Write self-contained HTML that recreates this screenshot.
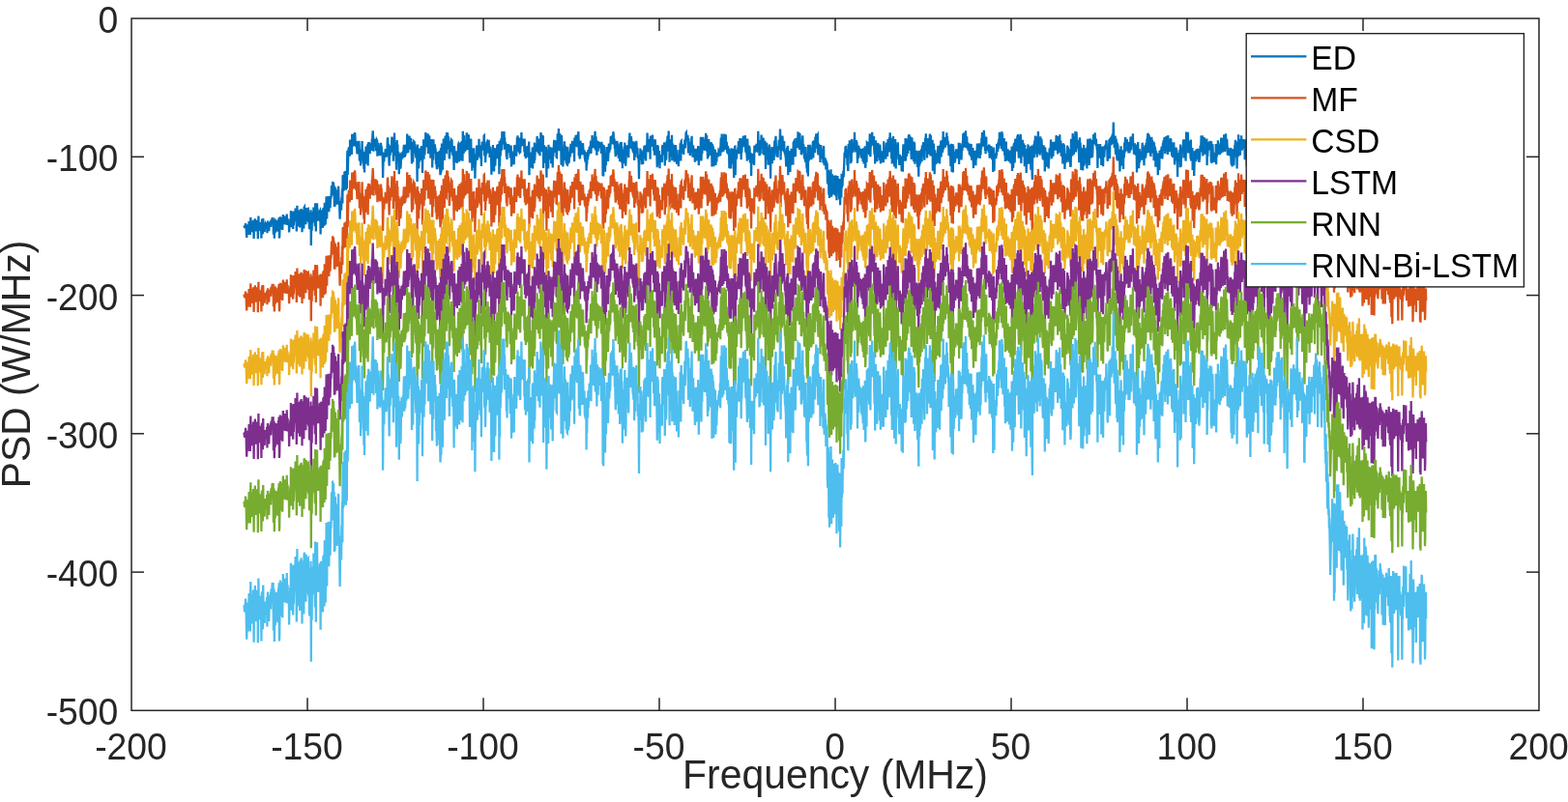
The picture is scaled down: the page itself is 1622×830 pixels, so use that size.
<!DOCTYPE html>
<html lang="en"><head><meta charset="utf-8"><title>PSD</title>
<style>html,body{margin:0;padding:0;background:#fff;}body{width:1622px;height:830px;overflow:hidden;}svg{display:block;}text{font-family:"Liberation Sans","DejaVu Sans",sans-serif;}</style></head><body>
<svg width="1622" height="830" viewBox="0 0 1622 830">
<rect width="1622" height="830" fill="#fff"/>
<g fill="none" stroke-width="2.30" stroke-linejoin="miter">
<polyline stroke="#0072BD" points="252.5,233.4 252.8,234.8 253.1,235.8 253.4,233.1 253.7,236.0 254.0,231.0 254.3,232.8 254.6,233.4 254.9,241.6 255.2,245.9 255.5,241.0 255.8,232.5 256.1,233.5 256.4,243.0 256.7,232.4 257.0,237.7 257.3,237.7 257.6,229.1 257.9,233.7 258.2,232.8 258.5,232.7 258.8,243.0 259.0,232.4 259.3,224.9 259.6,240.3 259.9,230.3 260.2,229.8 260.5,229.8 260.8,236.7 261.1,235.4 261.4,240.1 261.7,233.9 262.0,227.8 262.3,237.3 262.6,247.0 262.9,233.3 263.2,229.6 263.5,234.7 263.8,226.3 264.1,234.3 264.4,233.3 264.7,239.3 265.0,235.1 265.3,229.6 265.6,229.5 265.9,227.9 266.2,229.9 266.5,230.9 266.8,247.2 267.1,237.7 267.4,223.6 267.7,236.0 268.0,230.2 268.3,233.6 268.6,230.0 268.9,232.9 269.2,238.7 269.5,237.3 269.8,231.4 270.1,235.6 270.4,246.6 270.7,230.6 271.0,228.5 271.3,228.8 271.6,228.7 271.9,242.2 272.2,226.1 272.5,233.7 272.8,237.9 273.1,235.2 273.4,236.7 273.7,240.0 274.0,232.9 274.3,232.1 274.6,233.8 274.9,232.1 275.2,233.7 275.5,236.6 275.8,235.8 276.1,230.4 276.4,241.2 276.7,235.5 277.0,228.6 277.3,231.6 277.6,229.8 277.9,232.7 278.2,239.3 278.5,234.6 278.8,232.0 279.1,234.6 279.4,233.4 279.7,231.7 280.0,228.6 280.2,234.9 280.5,227.5 280.8,232.5 281.1,228.1 281.4,227.5 281.7,225.2 282.0,227.7 282.3,227.6 282.6,225.2 282.9,242.7 283.2,237.4 283.5,227.5 283.8,246.7 284.1,231.0 284.4,231.0 284.7,240.8 285.0,236.7 285.3,228.6 285.6,229.0 285.9,234.6 286.2,236.0 286.5,235.2 286.8,229.1 287.1,239.4 287.4,231.1 287.7,239.8 288.0,227.1 288.3,230.1 288.6,225.3 288.9,246.5 289.2,244.3 289.5,234.1 289.8,224.3 290.1,237.4 290.4,225.0 290.7,229.8 291.0,229.8 291.3,227.2 291.6,236.3 291.9,233.8 292.2,238.0 292.5,229.7 292.8,222.0 293.1,232.3 293.4,227.6 293.7,228.2 294.0,229.0 294.3,230.9 294.6,223.6 294.9,229.3 295.2,232.5 295.5,224.3 295.8,225.6 296.1,227.8 296.4,230.1 296.7,221.6 297.0,229.2 297.3,232.8 297.6,226.0 297.9,230.8 298.2,229.0 298.5,231.0 298.8,229.8 299.1,240.5 299.4,234.1 299.7,233.4 300.0,230.2 300.3,227.0 300.6,234.8 300.9,218.0 301.2,228.9 301.4,225.6 301.7,235.3 302.0,233.5 302.3,219.1 302.6,223.7 302.9,228.0 303.2,237.0 303.5,218.6 303.8,233.1 304.1,229.5 304.4,227.3 304.7,224.0 305.0,226.0 305.3,226.1 305.6,215.6 305.9,224.9 306.2,222.7 306.5,220.7 306.8,239.5 307.1,229.5 307.4,212.8 307.7,230.1 308.0,224.6 308.3,233.1 308.6,233.0 308.9,217.5 309.2,227.0 309.5,224.4 309.8,225.7 310.1,235.4 310.4,224.3 310.7,216.8 311.0,228.7 311.3,220.0 311.6,216.1 311.9,232.3 312.2,217.0 312.5,240.2 312.8,217.9 313.1,224.5 313.4,230.9 313.7,222.6 314.0,226.2 314.3,236.6 314.6,214.7 314.9,214.2 315.2,229.7 315.5,224.4 315.8,225.0 316.1,223.1 316.4,232.2 316.7,214.9 317.0,220.6 317.3,228.9 317.6,224.7 317.9,227.0 318.2,222.2 318.5,216.4 318.8,216.2 319.1,229.9 319.4,219.9 319.7,228.0 320.0,237.3 320.3,229.7 320.6,220.6 320.9,234.7 321.2,226.3 321.5,217.3 321.8,254.0 322.1,226.3 322.4,228.4 322.6,238.8 322.9,222.4 323.2,220.0 323.5,219.4 323.8,229.0 324.1,228.7 324.4,214.4 324.7,228.1 325.0,222.4 325.3,229.3 325.6,229.3 325.9,234.2 326.2,210.2 326.5,222.7 326.8,239.6 327.1,219.5 327.4,220.0 327.7,219.7 328.0,210.4 328.3,220.2 328.6,219.6 328.9,225.5 329.2,228.6 329.5,219.8 329.8,220.4 330.1,227.5 330.4,223.5 330.7,218.8 331.0,218.2 331.3,224.1 331.6,242.4 331.9,217.4 332.2,222.2 332.5,227.6 332.8,223.3 333.1,230.1 333.4,217.3 333.7,222.2 334.0,235.9 334.3,216.4 334.6,215.3 334.9,220.4 335.2,214.9 335.5,233.8 335.8,209.8 336.1,216.2 336.4,210.8 336.7,232.5 337.0,222.1 337.3,219.0 337.6,203.3 337.9,215.4 338.2,226.5 338.5,210.0 338.8,211.8 339.1,219.2 339.4,205.9 339.7,203.0 340.0,212.9 340.3,219.3 340.6,204.4 340.9,205.9 341.2,210.9 341.5,215.3 341.8,209.4 342.1,202.8 342.4,205.4 342.7,200.3 343.0,192.1 343.3,200.8 343.6,196.6 343.8,202.4 344.1,187.9 344.4,201.2 344.7,190.3 345.0,188.8 345.3,200.4 345.6,192.0 345.9,213.9 346.2,194.1 346.5,213.5 346.8,193.7 347.1,202.9 347.4,201.5 347.7,209.2 348.0,199.3 348.3,196.4 348.6,211.8 348.9,206.7 349.2,202.5 349.5,211.2 349.8,196.8 350.1,192.7 350.4,205.7 350.7,209.5 351.0,208.2 351.3,218.2 351.6,226.6 351.9,218.7 352.2,208.0 352.5,211.5 352.8,215.8 353.1,216.0 353.4,204.4 353.7,205.9 354.0,195.6 354.3,210.4 354.6,181.3 354.9,198.0 355.2,181.1 355.5,197.5 355.8,188.6 356.1,196.1 356.4,177.6 356.7,183.1 357.0,193.5 357.3,186.0 357.6,176.9 357.9,196.8 358.2,183.2 358.5,179.3 358.8,195.3 359.1,167.6 359.4,155.7 359.7,181.0 360.0,171.6 360.3,158.8 360.6,154.6 360.9,152.4 361.2,154.0 361.5,153.2 361.8,161.7 362.1,144.6 362.4,146.5 362.7,158.6 363.0,153.4 363.3,154.5 363.6,155.0 363.9,159.9 364.2,138.7 364.5,151.9 364.8,145.3 365.0,150.5 365.3,146.8 365.6,139.2 365.9,146.9 366.2,138.3 366.5,151.2 366.8,141.6 367.1,137.1 367.4,141.1 367.7,151.2 368.0,149.5 368.3,152.2 368.6,145.9 368.9,149.9 369.2,154.8 369.5,159.5 369.8,155.0 370.1,151.1 370.4,147.0 370.7,149.6 371.0,148.5 371.3,145.8 371.6,151.1 371.9,166.5 372.2,156.5 372.5,166.6 372.8,155.2 373.1,171.6 373.4,157.6 373.7,156.9 374.0,154.6 374.3,158.9 374.6,145.9 374.9,163.2 375.2,155.6 375.5,164.4 375.8,169.1 376.1,165.5 376.4,174.8 376.7,162.2 377.0,178.6 377.3,157.2 377.6,162.0 377.9,157.0 378.2,169.8 378.5,151.5 378.8,152.4 379.1,153.0 379.4,159.2 379.7,152.8 380.0,157.6 380.3,149.3 380.6,171.5 380.9,155.2 381.2,147.1 381.5,149.2 381.8,148.3 382.1,148.3 382.4,151.5 382.7,159.1 383.0,148.4 383.3,153.9 383.6,152.2 383.9,150.6 384.2,149.2 384.5,156.0 384.8,143.8 385.1,146.2 385.4,140.1 385.7,135.3 386.0,141.1 386.2,144.5 386.5,156.6 386.8,146.6 387.1,145.6 387.4,145.6 387.7,147.7 388.0,152.3 388.3,143.6 388.6,148.7 388.9,144.0 389.2,156.1 389.5,149.4 389.8,144.9 390.1,145.5 390.4,161.8 390.7,154.3 391.0,156.7 391.3,147.7 391.6,152.7 391.9,160.6 392.2,156.6 392.5,160.5 392.8,157.4 393.1,161.2 393.4,157.3 393.7,152.2 394.0,147.8 394.3,155.4 394.6,150.7 394.9,157.4 395.2,157.5 395.5,159.7 395.8,163.7 396.1,184.1 396.4,170.2 396.7,163.1 397.0,158.5 397.3,167.4 397.6,160.0 397.9,160.3 398.2,159.7 398.5,158.0 398.8,154.0 399.1,159.4 399.4,157.5 399.7,162.8 400.0,158.2 400.3,161.0 400.6,151.7 400.9,142.6 401.2,143.2 401.5,157.4 401.8,149.1 402.1,151.0 402.4,167.2 402.7,171.7 403.0,155.1 403.3,150.6 403.6,160.6 403.9,156.4 404.2,154.9 404.5,155.2 404.8,157.7 405.1,148.0 405.4,141.6 405.7,144.4 406.0,153.8 406.3,148.6 406.6,147.7 406.9,166.7 407.2,143.2 407.5,155.1 407.7,161.2 408.0,137.5 408.3,159.6 408.6,154.2 408.9,158.1 409.2,147.1 409.5,155.7 409.8,167.0 410.1,175.7 410.4,159.4 410.7,145.0 411.0,165.1 411.3,149.6 411.6,164.4 411.9,159.4 412.2,157.0 412.5,160.2 412.8,180.3 413.1,165.1 413.4,158.9 413.7,165.7 414.0,159.3 414.3,174.5 414.6,172.2 414.9,164.6 415.2,164.1 415.5,157.5 415.8,164.7 416.1,161.3 416.4,161.6 416.7,157.5 417.0,157.0 417.3,159.6 417.6,153.4 417.9,149.8 418.2,162.6 418.5,161.5 418.8,161.2 419.1,161.2 419.4,160.2 419.7,154.4 420.0,149.6 420.3,158.8 420.6,150.4 420.9,155.6 421.2,138.5 421.5,149.9 421.8,146.4 422.1,158.0 422.4,156.4 422.7,147.9 423.0,154.5 423.3,148.5 423.6,140.6 423.9,152.5 424.2,152.9 424.5,144.8 424.8,148.4 425.1,143.1 425.4,148.6 425.7,156.6 426.0,169.5 426.3,147.1 426.6,155.2 426.9,149.7 427.2,167.6 427.5,157.3 427.8,149.9 428.1,146.5 428.4,146.9 428.7,146.3 428.9,154.6 429.2,149.1 429.5,153.4 429.8,157.9 430.1,160.1 430.4,163.3 430.7,151.6 431.0,158.1 431.3,164.4 431.6,188.1 431.9,149.5 432.2,172.6 432.5,172.7 432.8,153.4 433.1,174.5 433.4,154.7 433.7,167.6 434.0,161.3 434.3,155.7 434.6,155.1 434.9,157.4 435.2,161.8 435.5,163.1 435.8,162.4 436.1,151.0 436.4,157.2 436.7,151.8 437.0,179.0 437.3,160.3 437.6,155.1 437.9,159.4 438.2,144.3 438.5,164.8 438.8,151.4 439.1,148.8 439.4,160.2 439.7,147.7 440.0,149.8 440.3,137.0 440.6,142.8 440.9,151.1 441.2,144.2 441.5,147.0 441.8,152.4 442.1,144.3 442.4,144.7 442.7,138.2 443.0,158.9 443.3,157.8 443.6,151.6 443.9,142.0 444.2,140.3 444.5,148.2 444.8,146.3 445.1,148.2 445.4,163.7 445.7,156.1 446.0,144.5 446.3,145.5 446.6,144.2 446.9,147.5 447.2,173.4 447.5,151.0 447.8,151.2 448.1,165.5 448.4,144.2 448.7,156.3 449.0,149.9 449.3,151.4 449.6,153.0 449.9,149.2 450.1,159.0 450.4,152.8 450.7,156.2 451.0,169.8 451.3,165.1 451.6,170.7 451.9,175.3 452.2,158.9 452.5,174.8 452.8,157.1 453.1,165.5 453.4,165.0 453.7,172.9 454.0,159.5 454.3,168.6 454.6,156.7 454.9,155.9 455.2,175.4 455.5,181.2 455.8,179.1 456.1,152.9 456.4,178.5 456.7,165.4 457.0,148.6 457.3,154.3 457.6,150.8 457.9,175.7 458.2,149.2 458.5,160.1 458.8,143.5 459.1,152.1 459.4,152.6 459.7,165.9 460.0,158.0 460.3,150.4 460.6,141.5 460.9,141.4 461.2,150.3 461.5,157.5 461.8,157.7 462.1,137.1 462.4,144.2 462.7,154.4 463.0,137.4 463.3,143.2 463.6,142.5 463.9,142.5 464.2,146.1 464.5,152.8 464.8,164.5 465.1,161.6 465.4,157.6 465.7,147.9 466.0,157.5 466.3,147.3 466.6,147.3 466.9,144.7 467.2,145.1 467.5,145.2 467.8,153.6 468.1,154.6 468.4,160.9 468.7,155.0 469.0,156.5 469.3,162.9 469.6,176.0 469.9,151.0 470.2,155.9 470.5,168.0 470.8,164.1 471.1,156.3 471.3,165.7 471.6,160.2 471.9,156.5 472.2,158.1 472.5,163.8 472.8,169.0 473.1,164.3 473.4,156.4 473.7,161.7 474.0,150.6 474.3,149.3 474.6,150.2 474.9,153.7 475.2,167.5 475.5,147.5 475.8,151.7 476.1,160.8 476.4,162.1 476.7,159.4 477.0,153.2 477.3,165.9 477.6,146.1 477.9,155.1 478.2,148.4 478.5,166.7 478.8,135.8 479.1,144.1 479.4,150.4 479.7,158.9 480.0,140.0 480.3,151.0 480.6,150.7 480.9,154.0 481.2,156.8 481.5,146.5 481.8,145.2 482.1,149.0 482.4,155.5 482.7,138.4 483.0,138.4 483.3,154.9 483.6,141.2 483.9,149.1 484.2,150.5 484.5,139.4 484.8,140.5 485.1,154.9 485.4,147.8 485.7,157.6 486.0,168.4 486.3,148.6 486.6,151.7 486.9,150.6 487.2,143.6 487.5,158.4 487.8,153.7 488.1,156.5 488.4,176.8 488.7,160.2 489.0,173.7 489.3,159.5 489.6,169.2 489.9,170.6 490.2,153.2 490.5,165.3 490.8,164.9 491.1,161.1 491.4,184.7 491.7,170.8 492.0,168.8 492.3,159.5 492.5,160.1 492.8,166.0 493.1,150.4 493.4,164.1 493.7,165.7 494.0,156.3 494.3,163.9 494.6,150.3 494.9,155.2 495.2,162.2 495.5,143.7 495.8,158.6 496.1,155.3 496.4,152.4 496.7,151.6 497.0,150.7 497.3,164.1 497.6,151.8 497.9,172.0 498.2,153.0 498.5,151.4 498.8,146.5 499.1,155.7 499.4,147.0 499.7,151.6 500.0,147.2 500.3,154.6 500.6,140.6 500.9,140.3 501.2,161.2 501.5,149.2 501.8,150.6 502.1,168.3 502.4,159.9 502.7,151.5 503.0,160.5 503.3,149.7 503.6,146.7 503.9,156.8 504.2,148.5 504.5,144.7 504.8,158.4 505.1,146.9 505.4,147.3 505.7,147.0 506.0,155.4 506.3,154.2 506.6,163.0 506.9,151.7 507.2,152.9 507.5,155.8 507.8,158.8 508.1,164.4 508.4,180.7 508.7,164.7 509.0,177.3 509.3,162.6 509.6,168.6 509.9,150.1 510.2,167.9 510.5,171.2 510.8,153.0 511.1,177.5 511.4,154.9 511.7,154.1 512.0,161.5 512.3,171.7 512.6,164.2 512.9,158.2 513.2,153.2 513.5,154.5 513.7,154.6 514.0,160.0 514.3,149.8 514.6,164.1 514.9,160.4 515.2,153.4 515.5,149.2 515.8,150.4 516.1,149.6 516.4,180.2 516.7,145.7 517.0,172.1 517.3,155.6 517.6,161.4 517.9,158.4 518.2,146.2 518.5,143.3 518.8,155.8 519.1,147.4 519.4,136.1 519.7,144.1 520.0,137.0 520.3,139.7 520.6,139.6 520.9,149.4 521.2,145.4 521.5,136.0 521.8,154.7 522.1,142.0 522.4,154.3 522.7,150.1 523.0,147.2 523.3,154.5 523.6,153.8 523.9,162.4 524.2,154.3 524.5,165.0 524.8,151.9 525.1,154.3 525.4,149.1 525.7,157.9 526.0,150.3 526.3,150.3 526.6,150.5 526.9,153.7 527.2,156.1 527.5,157.8 527.8,163.5 528.1,161.1 528.4,161.6 528.7,150.5 529.0,172.5 529.3,164.9 529.6,161.8 529.9,170.5 530.2,157.9 530.5,166.7 530.8,159.0 531.1,160.5 531.4,156.4 531.7,170.3 532.0,157.0 532.3,150.0 532.6,152.6 532.9,157.4 533.2,156.4 533.5,155.0 533.8,157.2 534.1,161.6 534.4,154.5 534.7,154.4 534.9,142.2 535.2,149.6 535.5,140.2 535.8,151.9 536.1,148.8 536.4,150.4 536.7,156.4 537.0,156.9 537.3,150.9 537.6,142.4 537.9,156.2 538.2,158.5 538.5,147.0 538.8,150.8 539.1,150.7 539.4,137.1 539.7,147.1 540.0,143.7 540.3,148.4 540.6,143.6 540.9,149.6 541.2,150.8 541.5,145.9 541.8,151.3 542.1,143.6 542.4,157.2 542.7,143.8 543.0,162.0 543.3,156.6 543.6,153.4 543.9,164.0 544.2,159.8 544.5,151.4 544.8,158.2 545.1,162.7 545.4,152.9 545.7,157.5 546.0,155.1 546.3,150.8 546.6,159.9 546.9,158.2 547.2,146.5 547.5,181.3 547.8,160.8 548.1,168.7 548.4,160.4 548.7,170.0 549.0,166.6 549.3,173.6 549.6,157.4 549.9,161.4 550.2,163.1 550.5,168.7 550.8,152.7 551.1,174.5 551.4,152.2 551.7,155.6 552.0,161.5 552.3,156.4 552.6,169.0 552.9,147.6 553.2,166.0 553.5,159.0 553.8,148.7 554.1,156.5 554.4,151.6 554.7,151.2 555.0,157.1 555.3,154.8 555.6,140.9 555.9,144.7 556.1,146.0 556.4,148.7 556.7,155.3 557.0,158.9 557.3,143.6 557.6,151.2 557.9,148.3 558.2,154.7 558.5,161.2 558.8,146.1 559.1,154.7 559.4,137.1 559.7,139.1 560.0,151.1 560.3,142.9 560.6,156.9 560.9,144.0 561.2,139.9 561.5,147.9 561.8,140.6 562.1,174.0 562.4,154.0 562.7,156.0 563.0,150.4 563.3,155.2 563.6,152.0 563.9,155.3 564.2,163.5 564.5,168.6 564.8,151.8 565.1,163.9 565.4,183.8 565.7,157.4 566.0,163.9 566.3,173.9 566.6,159.9 566.9,154.7 567.2,174.4 567.5,149.7 567.8,162.7 568.1,160.4 568.4,154.6 568.7,152.6 569.0,159.1 569.3,156.0 569.6,165.0 569.9,159.6 570.2,169.3 570.5,154.3 570.8,154.6 571.1,153.9 571.4,152.9 571.7,173.5 572.0,157.1 572.3,162.3 572.6,156.9 572.9,150.5 573.2,144.8 573.5,154.2 573.8,157.9 574.1,155.3 574.4,152.0 574.7,152.1 575.0,148.6 575.3,145.2 575.6,162.7 575.9,162.9 576.2,153.2 576.5,151.4 576.8,138.2 577.1,148.1 577.3,139.8 577.6,154.8 577.9,133.0 578.2,141.1 578.5,156.2 578.8,149.6 579.1,138.0 579.4,146.6 579.7,153.9 580.0,144.9 580.3,148.1 580.6,170.8 580.9,139.8 581.2,146.4 581.5,153.9 581.8,157.9 582.1,160.3 582.4,172.5 582.7,154.7 583.0,161.2 583.3,166.2 583.6,163.1 583.9,146.2 584.2,163.5 584.5,152.3 584.8,150.9 585.1,159.3 585.4,155.8 585.7,169.2 586.0,164.2 586.3,161.4 586.6,170.3 586.9,170.5 587.2,151.9 587.5,155.1 587.8,162.0 588.1,169.5 588.4,159.7 588.7,168.2 589.0,161.1 589.3,158.7 589.6,157.3 589.9,162.5 590.2,152.4 590.5,148.9 590.8,158.7 591.1,154.2 591.4,158.5 591.7,153.0 592.0,145.9 592.3,157.2 592.6,158.0 592.9,153.4 593.2,154.0 593.5,149.5 593.8,150.0 594.1,167.2 594.4,142.4 594.7,151.3 595.0,148.9 595.3,151.7 595.6,139.9 595.9,140.5 596.2,145.2 596.5,142.2 596.8,144.1 597.1,152.2 597.4,148.8 597.7,139.0 598.0,144.6 598.3,136.1 598.6,145.6 598.8,161.5 599.1,147.6 599.4,152.5 599.7,163.5 600.0,164.2 600.3,145.7 600.6,147.7 600.9,160.3 601.2,156.9 601.5,156.0 601.8,151.5 602.1,154.5 602.4,148.1 602.7,160.3 603.0,148.4 603.3,153.5 603.6,157.5 603.9,158.7 604.2,156.5 604.5,155.2 604.8,163.0 605.1,164.7 605.4,164.0 605.7,165.4 606.0,157.7 606.3,158.4 606.6,176.6 606.9,165.2 607.2,170.5 607.5,162.0 607.8,162.9 608.1,164.9 608.4,155.0 608.7,161.4 609.0,156.5 609.3,158.8 609.6,152.8 609.9,152.4 610.2,157.4 610.5,152.3 610.8,153.4 611.1,145.6 611.4,158.9 611.7,151.4 612.0,152.3 612.3,152.9 612.6,140.1 612.9,148.5 613.2,143.6 613.5,142.7 613.8,146.8 614.1,146.0 614.4,153.3 614.7,151.8 615.0,145.8 615.3,140.4 615.6,135.8 615.9,155.5 616.2,143.5 616.5,141.2 616.8,151.7 617.1,153.6 617.4,160.8 617.7,145.5 618.0,150.1 618.3,147.8 618.6,156.7 618.9,151.1 619.2,146.3 619.5,152.4 619.8,148.7 620.0,147.0 620.3,153.2 620.6,151.4 620.9,149.6 621.2,150.5 621.5,149.1 621.8,156.3 622.1,158.9 622.4,146.8 622.7,157.7 623.0,155.8 623.3,149.3 623.6,181.9 623.9,163.4 624.2,182.5 624.5,155.2 624.8,150.2 625.1,164.5 625.4,159.3 625.7,157.7 626.0,177.7 626.3,163.4 626.6,158.2 626.9,171.0 627.2,163.0 627.5,152.0 627.8,155.0 628.1,166.1 628.4,164.3 628.7,153.5 629.0,167.0 629.3,161.1 629.6,155.6 629.9,148.6 630.2,158.0 630.5,155.1 630.8,151.7 631.1,155.1 631.4,153.2 631.7,142.2 632.0,141.1 632.3,147.2 632.6,147.2 632.9,146.9 633.2,140.4 633.5,149.5 633.8,140.8 634.1,141.4 634.4,136.2 634.7,139.5 635.0,148.2 635.3,143.8 635.6,144.5 635.9,153.6 636.2,150.9 636.5,157.4 636.8,162.1 637.1,145.8 637.4,160.2 637.7,149.9 638.0,156.1 638.3,145.9 638.6,150.1 638.9,150.4 639.2,148.5 639.5,153.4 639.8,163.6 640.1,155.1 640.4,153.3 640.7,156.8 641.0,155.1 641.2,167.3 641.5,156.6 641.8,147.3 642.1,165.9 642.4,166.3 642.7,146.9 643.0,156.5 643.3,151.5 643.6,154.9 643.9,174.3 644.2,154.8 644.5,161.2 644.8,167.2 645.1,157.4 645.4,158.5 645.7,157.2 646.0,169.2 646.3,147.6 646.6,159.6 646.9,152.4 647.2,171.7 647.5,166.5 647.8,153.0 648.1,150.9 648.4,160.0 648.7,150.3 649.0,158.9 649.3,157.5 649.6,157.9 649.9,160.3 650.2,163.2 650.5,151.0 650.8,144.6 651.1,146.1 651.4,137.6 651.7,150.6 652.0,146.1 652.3,153.8 652.6,146.9 652.9,141.1 653.2,144.4 653.5,152.2 653.8,152.9 654.1,150.0 654.4,155.0 654.7,156.5 655.0,146.4 655.3,158.4 655.6,154.6 655.9,146.7 656.2,166.0 656.5,146.7 656.8,158.8 657.1,162.7 657.4,154.3 657.7,156.3 658.0,155.4 658.3,145.8 658.6,153.9 658.9,158.2 659.2,153.0 659.5,154.4 659.8,164.3 660.1,160.8 660.4,162.4 660.7,168.2 661.0,185.3 661.3,164.1 661.6,161.3 661.9,160.1 662.2,165.9 662.4,153.6 662.7,161.3 663.0,164.2 663.3,162.9 663.6,155.2 663.9,170.3 664.2,157.1 664.5,169.4 664.8,157.3 665.1,170.0 665.4,161.2 665.7,164.0 666.0,161.5 666.3,152.3 666.6,151.1 666.9,156.8 667.2,160.7 667.5,150.2 667.8,164.0 668.1,166.4 668.4,154.6 668.7,154.1 669.0,151.5 669.3,152.2 669.6,137.6 669.9,157.1 670.2,153.4 670.5,155.1 670.8,143.7 671.1,154.5 671.4,157.4 671.7,148.9 672.0,151.5 672.3,144.6 672.6,164.8 672.9,140.6 673.2,144.4 673.5,149.2 673.8,151.7 674.1,145.2 674.4,150.3 674.7,146.4 675.0,139.5 675.3,149.6 675.6,144.1 675.9,147.4 676.2,156.1 676.5,144.8 676.8,148.2 677.1,160.7 677.4,151.9 677.7,144.3 678.0,149.4 678.3,150.9 678.6,159.2 678.9,156.9 679.2,154.4 679.5,163.1 679.8,173.2 680.1,149.9 680.4,164.4 680.7,151.0 681.0,161.9 681.3,167.8 681.6,170.4 681.9,156.1 682.2,165.2 682.5,174.3 682.8,160.4 683.1,162.4 683.4,166.4 683.6,166.2 683.9,165.6 684.2,160.1 684.5,163.2 684.8,167.9 685.1,152.5 685.4,150.0 685.7,158.5 686.0,156.6 686.3,150.2 686.6,160.4 686.9,152.7 687.2,147.2 687.5,155.6 687.8,171.5 688.1,162.3 688.4,157.5 688.7,151.8 689.0,165.6 689.3,162.8 689.6,147.3 689.9,145.4 690.2,149.9 690.5,141.4 690.8,141.1 691.1,141.1 691.4,156.4 691.7,135.6 692.0,157.1 692.3,148.3 692.6,167.8 692.9,145.1 693.2,149.1 693.5,144.2 693.8,150.6 694.1,159.1 694.4,150.5 694.7,162.5 695.0,139.8 695.3,166.3 695.6,148.2 695.9,161.4 696.2,159.0 696.5,158.1 696.8,149.8 697.1,154.9 697.4,154.8 697.7,167.6 698.0,151.7 698.3,159.1 698.6,161.1 698.9,150.1 699.2,153.3 699.5,159.1 699.8,155.3 700.1,170.0 700.4,162.2 700.7,160.5 701.0,165.1 701.3,167.6 701.6,164.2 701.9,172.1 702.2,163.0 702.5,155.0 702.8,157.7 703.1,158.7 703.4,164.0 703.7,148.2 704.0,158.2 704.3,166.4 704.6,146.0 704.8,145.8 705.1,155.9 705.4,151.9 705.7,152.5 706.0,153.6 706.3,149.2 706.6,158.3 706.9,157.6 707.2,159.9 707.5,149.2 707.8,151.3 708.1,151.3 708.4,144.2 708.7,153.3 709.0,150.2 709.3,145.5 709.6,137.4 709.9,137.0 710.2,142.4 710.5,145.4 710.8,141.5 711.1,140.8 711.4,139.7 711.7,146.4 712.0,158.4 712.3,143.0 712.6,151.1 712.9,148.4 713.2,154.3 713.5,148.2 713.8,160.9 714.1,152.7 714.4,146.9 714.7,153.4 715.0,154.6 715.3,145.5 715.6,140.7 715.9,155.1 716.2,156.4 716.5,162.6 716.8,153.6 717.1,150.4 717.4,154.9 717.7,160.5 718.0,154.6 718.3,158.3 718.6,161.5 718.9,167.6 719.2,157.5 719.5,160.6 719.8,153.8 720.1,166.5 720.4,161.8 720.7,160.2 721.0,166.1 721.3,164.1 721.6,163.2 721.9,158.3 722.2,151.1 722.5,156.4 722.8,171.1 723.1,165.2 723.4,158.3 723.7,153.0 724.0,155.5 724.3,152.4 724.6,161.2 724.9,141.8 725.2,156.5 725.5,166.4 725.8,153.2 726.0,142.9 726.3,159.3 726.6,148.0 726.9,148.3 727.2,141.8 727.5,148.0 727.8,144.2 728.1,147.0 728.4,145.3 728.7,154.5 729.0,155.6 729.3,145.1 729.6,146.1 729.9,144.6 730.2,137.7 730.5,155.7 730.8,146.4 731.1,140.0 731.4,157.0 731.7,154.8 732.0,164.5 732.3,145.1 732.6,146.7 732.9,162.5 733.2,144.0 733.5,154.6 733.8,154.2 734.1,149.4 734.4,148.2 734.7,160.8 735.0,152.5 735.3,155.3 735.6,147.1 735.9,161.3 736.2,148.3 736.5,172.6 736.8,153.7 737.1,149.3 737.4,154.5 737.7,151.6 738.0,153.6 738.3,172.2 738.6,165.4 738.9,154.5 739.2,160.3 739.5,163.4 739.8,154.9 740.1,159.5 740.4,171.0 740.7,160.9 741.0,163.7 741.3,167.8 741.6,161.4 741.9,162.3 742.2,158.8 742.5,158.7 742.8,160.0 743.1,160.3 743.4,156.4 743.7,157.0 744.0,155.4 744.3,155.1 744.6,160.5 744.9,152.3 745.2,161.4 745.5,149.2 745.8,142.5 746.1,152.1 746.4,150.3 746.7,138.5 747.0,150.3 747.2,157.5 747.5,146.0 747.8,154.8 748.1,143.3 748.4,156.6 748.7,145.6 749.0,143.9 749.3,138.5 749.6,143.1 749.9,155.0 750.2,145.4 750.5,146.8 750.8,139.3 751.1,151.3 751.4,150.7 751.7,146.9 752.0,151.8 752.3,158.6 752.6,156.7 752.9,151.1 753.2,152.6 753.5,160.2 753.8,155.2 754.1,153.7 754.4,174.0 754.7,168.0 755.0,174.5 755.3,171.2 755.6,155.7 755.9,156.8 756.2,174.5 756.5,154.6 756.8,153.6 757.1,159.8 757.4,158.2 757.7,158.6 758.0,166.1 758.3,153.7 758.6,169.7 758.9,166.2 759.2,184.1 759.5,157.7 759.8,166.3 760.1,151.8 760.4,151.7 760.7,181.3 761.0,160.6 761.3,159.0 761.6,161.4 761.9,164.8 762.2,159.6 762.5,156.4 762.8,156.5 763.1,157.5 763.4,152.6 763.7,156.2 764.0,146.0 764.3,159.1 764.6,153.2 764.9,149.3 765.2,148.1 765.5,143.0 765.8,154.5 766.1,144.3 766.4,149.7 766.7,165.3 767.0,143.2 767.3,158.0 767.6,150.7 767.9,143.6 768.2,150.0 768.5,152.2 768.7,142.9 769.0,140.7 769.3,151.5 769.6,150.2 769.9,145.9 770.2,148.5 770.5,151.3 770.8,140.1 771.1,152.7 771.4,157.7 771.7,154.5 772.0,150.0 772.3,158.0 772.6,160.5 772.9,166.6 773.2,143.5 773.5,151.8 773.8,164.7 774.1,153.3 774.4,154.2 774.7,150.6 775.0,165.1 775.3,151.7 775.6,154.3 775.9,168.6 776.2,159.1 776.5,159.4 776.8,159.4 777.1,182.1 777.4,161.0 777.7,165.7 778.0,158.8 778.3,161.8 778.6,166.6 778.9,169.4 779.2,163.3 779.5,159.1 779.8,160.7 780.1,170.9 780.4,150.5 780.7,153.6 781.0,157.6 781.3,156.2 781.6,153.5 781.9,154.8 782.2,157.1 782.5,148.7 782.8,155.7 783.1,156.0 783.4,153.2 783.7,153.6 784.0,151.3 784.3,135.8 784.6,154.7 784.9,147.8 785.2,144.9 785.5,161.2 785.8,150.7 786.1,160.6 786.4,152.8 786.7,159.1 787.0,145.5 787.3,150.3 787.6,139.6 787.9,148.1 788.2,149.4 788.5,151.5 788.8,153.8 789.1,142.4 789.4,159.5 789.7,142.7 789.9,151.5 790.2,160.5 790.5,150.7 790.8,156.3 791.1,157.2 791.4,145.8 791.7,149.8 792.0,175.1 792.3,156.1 792.6,156.7 792.9,159.2 793.2,147.7 793.5,163.4 793.8,163.8 794.1,157.2 794.4,152.2 794.7,170.8 795.0,161.2 795.3,162.5 795.6,157.2 795.9,149.6 796.2,157.2 796.5,165.8 796.8,168.9 797.1,184.7 797.4,162.8 797.7,157.4 798.0,158.0 798.3,165.4 798.6,152.1 798.9,169.3 799.2,153.5 799.5,156.2 799.8,162.8 800.1,152.0 800.4,165.9 800.7,163.6 801.0,154.3 801.3,145.6 801.6,150.0 801.9,159.3 802.2,144.9 802.5,140.8 802.8,151.1 803.1,151.8 803.4,159.6 803.7,159.3 804.0,162.2 804.3,157.7 804.6,162.9 804.9,151.3 805.2,154.1 805.5,150.9 805.8,144.8 806.1,155.1 806.4,151.7 806.7,145.1 807.0,133.6 807.3,141.7 807.6,165.5 807.9,143.9 808.2,145.5 808.5,151.2 808.8,156.3 809.1,148.1 809.4,140.6 809.7,145.6 810.0,154.3 810.3,154.9 810.6,149.7 810.9,150.7 811.1,146.1 811.4,154.6 811.7,156.9 812.0,160.2 812.3,159.1 812.6,162.0 812.9,163.4 813.2,172.4 813.5,163.3 813.8,156.3 814.1,153.0 814.4,161.0 814.7,151.0 815.0,152.9 815.3,181.2 815.6,161.4 815.9,162.3 816.2,159.8 816.5,156.2 816.8,165.4 817.1,155.9 817.4,178.0 817.7,157.0 818.0,170.0 818.3,169.5 818.6,153.7 818.9,163.6 819.2,154.1 819.5,158.0 819.8,155.1 820.1,159.0 820.4,170.6 820.7,147.7 821.0,147.1 821.3,153.3 821.6,154.2 821.9,158.4 822.2,159.6 822.5,159.3 822.8,162.2 823.1,151.6 823.4,142.8 823.7,152.7 824.0,146.1 824.3,145.1 824.6,153.3 824.9,143.0 825.2,147.2 825.5,137.6 825.8,137.7 826.1,147.9 826.4,148.4 826.7,137.6 827.0,154.9 827.3,137.8 827.6,141.3 827.9,152.6 828.2,150.6 828.5,145.2 828.8,160.0 829.1,159.2 829.4,146.8 829.7,150.6 830.0,150.7 830.3,140.3 830.6,152.9 830.9,158.2 831.2,149.4 831.5,152.3 831.8,160.1 832.1,164.5 832.3,155.0 832.6,161.3 832.9,164.9 833.2,164.3 833.5,152.1 833.8,161.9 834.1,159.6 834.4,173.7 834.7,173.0 835.0,178.8 835.3,162.8 835.6,167.6 835.9,182.5 836.2,149.7 836.5,160.8 836.8,166.5 837.1,154.0 837.4,156.9 837.7,156.6 838.0,149.8 838.3,159.3 838.6,152.6 838.9,163.5 839.2,165.0 839.5,163.7 839.8,153.3 840.1,154.3 840.4,157.6 840.7,150.7 841.0,146.1 841.3,163.6 841.6,147.7 841.9,145.4 842.2,148.3 842.5,146.5 842.8,151.4 843.1,158.3 843.4,141.6 843.7,153.6 844.0,143.5 844.3,138.2 844.6,139.5 844.9,144.0 845.2,144.6 845.5,139.9 845.8,139.4 846.1,155.4 846.4,160.4 846.7,149.7 847.0,148.7 847.3,152.5 847.6,152.7 847.9,156.7 848.2,152.8 848.5,168.0 848.8,152.0 849.1,150.1 849.4,152.8 849.7,164.5 850.0,160.3 850.3,156.0 850.6,159.0 850.9,157.0 851.2,157.5 851.5,168.8 851.8,159.2 852.1,150.9 852.4,167.2 852.7,171.1 853.0,164.8 853.3,167.0 853.5,163.3 853.8,166.4 854.1,165.5 854.4,175.5 854.7,167.5 855.0,170.5 855.3,168.8 855.6,169.6 855.9,187.5 856.2,190.4 856.5,187.6 856.8,175.7 857.1,184.1 857.4,201.5 857.7,191.2 858.0,205.0 858.3,177.5 858.6,186.3 858.9,201.3 859.2,187.7 859.5,175.4 859.8,187.7 860.1,203.8 860.4,194.1 860.7,186.3 861.0,180.2 861.3,186.0 861.6,187.2 861.9,201.5 862.2,186.9 862.5,181.8 862.8,199.4 863.1,199.6 863.4,200.1 863.7,189.7 864.0,193.9 864.3,181.5 864.6,183.6 864.9,187.9 865.2,190.2 865.5,207.3 865.8,194.7 866.1,192.7 866.4,182.0 866.7,192.4 867.0,184.8 867.3,189.4 867.6,188.0 867.9,196.0 868.2,206.5 868.5,186.7 868.8,185.1 869.1,212.3 869.4,196.8 869.7,193.4 870.0,187.6 870.3,204.6 870.6,179.7 870.9,194.1 871.2,189.2 871.5,192.7 871.8,183.2 872.1,182.4 872.4,176.7 872.7,183.5 873.0,174.3 873.3,168.8 873.6,157.8 873.9,161.6 874.2,163.4 874.5,151.9 874.7,161.1 875.0,150.8 875.3,157.1 875.6,161.8 875.9,159.9 876.2,154.8 876.5,171.0 876.8,155.9 877.1,175.6 877.4,176.9 877.7,149.1 878.0,155.0 878.3,149.5 878.6,151.1 878.9,145.2 879.2,153.5 879.5,155.4 879.8,153.2 880.1,169.3 880.4,145.3 880.7,167.5 881.0,146.2 881.3,144.0 881.6,157.7 881.9,156.2 882.2,157.9 882.5,153.6 882.8,148.1 883.1,150.5 883.4,149.4 883.7,153.5 884.0,136.8 884.3,147.2 884.6,152.8 884.9,157.3 885.2,145.9 885.5,149.5 885.8,145.0 886.1,151.0 886.4,147.0 886.7,156.9 887.0,168.9 887.3,157.6 887.6,161.9 887.9,162.1 888.2,150.6 888.5,152.7 888.8,155.5 889.1,160.2 889.4,153.6 889.7,159.1 890.0,157.1 890.3,154.2 890.6,161.6 890.9,163.1 891.2,154.0 891.5,164.0 891.8,162.2 892.1,155.8 892.4,164.4 892.7,167.0 893.0,153.3 893.3,158.4 893.6,169.4 893.9,160.9 894.2,164.5 894.5,161.4 894.8,151.3 895.1,173.8 895.4,172.4 895.7,154.3 895.9,161.8 896.2,162.5 896.5,168.1 896.8,147.4 897.1,147.7 897.4,155.8 897.7,158.5 898.0,149.2 898.3,146.8 898.6,150.0 898.9,152.1 899.2,160.1 899.5,149.2 899.8,138.4 900.1,156.2 900.4,162.2 900.7,149.3 901.0,141.1 901.3,140.2 901.6,150.1 901.9,149.6 902.2,136.7 902.5,144.6 902.8,141.2 903.1,147.9 903.4,143.0 903.7,147.5 904.0,141.0 904.3,155.7 904.6,160.0 904.9,147.1 905.2,169.5 905.5,148.5 905.8,145.4 906.1,149.5 906.4,152.1 906.7,149.7 907.0,153.3 907.3,167.2 907.6,156.1 907.9,162.8 908.2,147.9 908.5,152.4 908.8,158.6 909.1,156.0 909.4,160.7 909.7,151.1 910.0,166.0 910.3,149.5 910.6,154.2 910.9,169.3 911.2,165.0 911.5,160.9 911.8,159.8 912.1,156.3 912.4,165.1 912.7,168.2 913.0,161.0 913.3,166.8 913.6,162.9 913.9,168.3 914.2,146.3 914.5,153.9 914.8,158.1 915.1,152.6 915.4,156.6 915.7,160.6 916.0,152.0 916.3,164.8 916.6,159.9 916.9,147.9 917.1,152.1 917.4,147.6 917.7,149.9 918.0,162.0 918.3,154.0 918.6,144.0 918.9,150.6 919.2,144.1 919.5,148.2 919.8,157.5 920.1,141.9 920.4,149.1 920.7,137.4 921.0,146.9 921.3,149.4 921.6,148.8 921.9,144.5 922.2,164.0 922.5,150.4 922.8,169.5 923.1,142.9 923.4,148.9 923.7,144.2 924.0,140.9 924.3,155.7 924.6,145.6 924.9,158.6 925.2,172.5 925.5,150.1 925.8,159.9 926.1,144.1 926.4,150.5 926.7,174.5 927.0,155.9 927.3,161.1 927.6,152.3 927.9,159.4 928.2,151.0 928.5,154.7 928.8,147.2 929.1,156.9 929.4,165.0 929.7,161.5 930.0,167.6 930.3,171.0 930.6,161.4 930.9,159.9 931.2,165.1 931.5,161.9 931.8,169.4 932.1,166.0 932.4,164.0 932.7,177.2 933.0,163.8 933.3,167.9 933.6,161.4 933.9,177.8 934.2,154.8 934.5,149.4 934.8,157.4 935.1,152.9 935.4,154.8 935.7,150.0 936.0,153.9 936.3,166.8 936.6,143.1 936.9,166.4 937.2,148.2 937.5,146.3 937.8,161.9 938.1,153.5 938.3,152.1 938.6,148.5 938.9,143.6 939.2,158.9 939.5,148.9 939.8,141.4 940.1,140.3 940.4,139.3 940.7,141.2 941.0,148.6 941.3,155.7 941.6,141.2 941.9,149.5 942.2,144.4 942.5,157.5 942.8,164.9 943.1,148.2 943.4,142.2 943.7,155.9 944.0,163.3 944.3,149.9 944.6,151.1 944.9,158.1 945.2,167.2 945.5,146.5 945.8,159.0 946.1,148.1 946.4,169.8 946.7,155.7 947.0,164.4 947.3,160.6 947.6,156.2 947.9,162.0 948.2,155.8 948.5,159.2 948.8,167.0 949.1,173.0 949.4,170.1 949.7,158.0 950.0,172.6 950.3,182.7 950.6,157.8 950.9,155.9 951.2,171.7 951.5,157.1 951.8,165.4 952.1,169.1 952.4,156.0 952.7,167.1 953.0,154.4 953.3,158.5 953.6,167.2 953.9,150.6 954.2,161.5 954.5,157.9 954.8,151.1 955.1,147.2 955.4,157.6 955.7,153.2 956.0,159.9 956.3,165.7 956.6,149.2 956.9,147.1 957.2,142.8 957.5,151.0 957.8,138.3 958.1,155.5 958.4,153.0 958.7,145.7 959.0,163.5 959.3,143.2 959.6,146.5 959.8,145.6 960.1,159.8 960.4,149.8 960.7,145.0 961.0,144.6 961.3,148.4 961.6,145.1 961.9,138.5 962.2,151.9 962.5,161.4 962.8,140.1 963.1,159.0 963.4,145.7 963.7,150.8 964.0,160.6 964.3,149.8 964.6,144.7 964.9,176.8 965.2,154.2 965.5,156.2 965.8,148.6 966.1,153.3 966.4,168.1 966.7,180.2 967.0,156.6 967.3,155.3 967.6,163.8 967.9,162.6 968.2,170.3 968.5,158.2 968.8,162.8 969.1,159.1 969.4,165.2 969.7,168.7 970.0,166.6 970.3,151.0 970.6,153.4 970.9,154.1 971.2,152.2 971.5,160.4 971.8,158.5 972.1,169.4 972.4,153.1 972.7,149.8 973.0,158.9 973.3,145.6 973.6,162.4 973.9,155.3 974.2,152.9 974.5,146.7 974.8,145.3 975.1,157.9 975.4,146.0 975.7,136.1 976.0,154.5 976.3,145.1 976.6,150.7 976.9,143.4 977.2,150.1 977.5,142.3 977.8,152.7 978.1,145.1 978.4,141.8 978.7,145.0 979.0,150.2 979.3,137.4 979.6,149.6 979.9,141.1 980.2,149.8 980.5,145.8 980.8,147.1 981.0,152.1 981.3,150.1 981.6,161.1 981.9,153.0 982.2,152.8 982.5,152.3 982.8,159.1 983.1,158.8 983.4,172.0 983.7,148.8 984.0,160.3 984.3,164.1 984.6,177.9 984.9,161.8 985.2,152.2 985.5,149.0 985.8,178.5 986.1,150.5 986.4,164.6 986.7,169.0 987.0,161.5 987.3,162.9 987.6,156.9 987.9,164.3 988.2,165.0 988.5,162.7 988.8,158.9 989.1,154.3 989.4,160.5 989.7,156.8 990.0,154.4 990.3,155.4 990.6,158.0 990.9,164.1 991.2,161.4 991.5,162.3 991.8,147.7 992.1,169.9 992.4,149.1 992.7,148.1 993.0,151.4 993.3,157.3 993.6,152.6 993.9,149.7 994.2,151.4 994.5,165.4 994.8,156.7 995.1,152.1 995.4,156.2 995.7,147.2 996.0,148.3 996.3,138.4 996.6,150.1 996.9,148.1 997.2,137.4 997.5,140.5 997.8,152.6 998.1,141.3 998.4,152.7 998.7,144.1 999.0,135.2 999.3,149.5 999.6,142.9 999.9,145.3 1000.2,141.2 1000.5,153.6 1000.8,150.0 1001.1,147.2 1001.4,153.8 1001.7,156.2 1002.0,150.9 1002.2,148.7 1002.5,150.5 1002.8,160.3 1003.1,153.5 1003.4,154.9 1003.7,148.7 1004.0,161.7 1004.3,159.6 1004.6,149.0 1004.9,160.4 1005.2,165.7 1005.5,162.5 1005.8,163.4 1006.1,164.1 1006.4,152.9 1006.7,166.7 1007.0,174.1 1007.3,155.8 1007.6,161.1 1007.9,158.7 1008.2,160.0 1008.5,157.8 1008.8,156.3 1009.1,158.0 1009.4,171.3 1009.7,158.1 1010.0,164.8 1010.3,155.5 1010.6,156.3 1010.9,148.5 1011.2,162.0 1011.5,162.2 1011.8,162.0 1012.1,150.6 1012.4,161.4 1012.7,160.3 1013.0,148.2 1013.3,160.8 1013.6,164.0 1013.9,158.1 1014.2,149.5 1014.5,160.3 1014.8,148.9 1015.1,153.6 1015.4,142.7 1015.7,148.8 1016.0,137.1 1016.3,147.0 1016.6,151.7 1016.9,144.8 1017.2,147.2 1017.5,150.1 1017.8,134.7 1018.1,140.2 1018.4,141.9 1018.7,142.4 1019.0,156.0 1019.3,153.5 1019.6,159.3 1019.9,144.5 1020.2,141.6 1020.5,154.6 1020.8,153.0 1021.1,155.7 1021.4,151.4 1021.7,153.2 1022.0,152.7 1022.3,152.2 1022.6,154.9 1022.9,158.0 1023.2,149.6 1023.4,154.9 1023.7,163.6 1024.0,150.7 1024.3,159.6 1024.6,154.5 1024.9,160.7 1025.2,151.5 1025.5,152.1 1025.8,161.7 1026.1,163.5 1026.4,165.1 1026.7,159.4 1027.0,158.5 1027.3,177.9 1027.6,167.7 1027.9,152.5 1028.2,158.6 1028.5,176.8 1028.8,158.5 1029.1,163.5 1029.4,160.4 1029.7,164.2 1030.0,159.2 1030.3,164.1 1030.6,158.8 1030.9,160.9 1031.2,149.0 1031.5,156.0 1031.8,151.6 1032.1,157.0 1032.4,147.4 1032.7,150.1 1033.0,154.2 1033.3,144.1 1033.6,151.0 1033.9,136.7 1034.2,147.1 1034.5,147.0 1034.8,146.3 1035.1,139.4 1035.4,145.0 1035.7,148.6 1036.0,154.2 1036.3,136.2 1036.6,138.8 1036.9,138.2 1037.2,147.8 1037.5,156.4 1037.8,146.7 1038.1,155.8 1038.4,153.0 1038.7,143.0 1039.0,154.4 1039.3,160.9 1039.6,151.3 1039.9,167.0 1040.2,149.8 1040.5,160.7 1040.8,146.5 1041.1,165.9 1041.4,164.9 1041.7,159.1 1042.0,166.4 1042.3,158.1 1042.6,154.4 1042.9,159.8 1043.2,155.9 1043.5,158.2 1043.8,160.1 1044.1,167.4 1044.4,163.1 1044.6,155.9 1044.9,156.8 1045.2,159.1 1045.5,169.3 1045.8,155.5 1046.1,167.4 1046.4,161.4 1046.7,151.6 1047.0,177.1 1047.3,159.7 1047.6,154.6 1047.9,161.1 1048.2,173.9 1048.5,152.4 1048.8,150.0 1049.1,147.8 1049.4,164.2 1049.7,168.5 1050.0,153.0 1050.3,143.5 1050.6,155.3 1050.9,147.1 1051.2,156.8 1051.5,148.4 1051.8,146.8 1052.1,153.6 1052.4,140.5 1052.7,150.6 1053.0,139.0 1053.3,153.4 1053.6,157.7 1053.9,163.8 1054.2,140.5 1054.5,144.8 1054.8,148.5 1055.1,150.5 1055.4,149.3 1055.7,138.7 1056.0,143.3 1056.3,168.9 1056.6,159.1 1056.9,161.9 1057.2,147.1 1057.5,149.0 1057.8,144.8 1058.1,154.1 1058.4,154.0 1058.7,156.6 1059.0,148.2 1059.3,162.4 1059.6,157.9 1059.9,172.2 1060.2,150.1 1060.5,166.8 1060.8,159.8 1061.1,157.0 1061.4,160.1 1061.7,179.0 1062.0,155.0 1062.3,154.1 1062.6,158.6 1062.9,163.0 1063.2,161.1 1063.5,149.4 1063.8,167.7 1064.1,169.6 1064.4,157.6 1064.7,153.3 1065.0,156.3 1065.3,162.1 1065.6,151.6 1065.8,164.8 1066.1,156.8 1066.4,175.7 1066.7,154.0 1067.0,159.0 1067.3,150.5 1067.6,179.0 1067.9,186.0 1068.2,156.9 1068.5,157.4 1068.8,153.7 1069.1,156.9 1069.4,149.4 1069.7,163.3 1070.0,150.0 1070.3,145.7 1070.6,159.6 1070.9,140.5 1071.2,151.2 1071.5,155.2 1071.8,146.2 1072.1,145.8 1072.4,146.4 1072.7,162.8 1073.0,142.3 1073.3,141.9 1073.6,152.2 1073.9,135.9 1074.2,145.9 1074.5,143.4 1074.8,158.9 1075.1,143.7 1075.4,156.4 1075.7,160.7 1076.0,147.6 1076.3,141.3 1076.6,154.5 1076.9,158.1 1077.2,143.8 1077.5,145.3 1077.8,152.0 1078.1,150.3 1078.4,160.6 1078.7,163.6 1079.0,165.2 1079.3,157.0 1079.6,150.4 1079.9,158.0 1080.2,156.2 1080.5,152.7 1080.8,177.4 1081.1,152.4 1081.4,156.5 1081.7,167.1 1082.0,161.4 1082.3,172.7 1082.6,157.3 1082.9,161.4 1083.2,163.5 1083.5,172.6 1083.8,160.6 1084.1,159.5 1084.4,158.2 1084.7,174.4 1085.0,163.3 1085.3,163.6 1085.6,154.6 1085.9,154.6 1086.2,155.8 1086.5,152.8 1086.8,157.1 1087.0,144.4 1087.3,158.1 1087.6,156.1 1087.9,164.3 1088.2,152.8 1088.5,152.5 1088.8,146.8 1089.1,150.7 1089.4,161.9 1089.7,151.7 1090.0,150.9 1090.3,146.8 1090.6,149.5 1090.9,153.0 1091.2,148.3 1091.5,147.5 1091.8,155.6 1092.1,153.2 1092.4,146.1 1092.7,140.1 1093.0,144.5 1093.3,145.3 1093.6,142.7 1093.9,145.8 1094.2,159.5 1094.5,151.0 1094.8,141.0 1095.1,147.7 1095.4,157.3 1095.7,148.6 1096.0,151.0 1096.3,139.2 1096.6,157.9 1096.9,148.1 1097.2,145.5 1097.5,149.0 1097.8,161.7 1098.1,153.1 1098.4,160.5 1098.7,157.9 1099.0,151.8 1099.3,169.5 1099.6,151.3 1099.9,148.4 1100.2,153.3 1100.5,160.7 1100.8,149.6 1101.1,157.3 1101.4,174.9 1101.7,167.7 1102.0,159.4 1102.3,161.0 1102.6,159.2 1102.9,160.1 1103.2,168.1 1103.5,164.8 1103.8,159.3 1104.1,150.5 1104.4,154.3 1104.7,152.1 1105.0,154.9 1105.3,159.6 1105.6,161.8 1105.9,167.6 1106.2,157.1 1106.5,154.2 1106.8,160.2 1107.1,169.3 1107.4,172.9 1107.7,170.8 1108.0,145.2 1108.2,143.9 1108.5,146.8 1108.8,148.0 1109.1,148.0 1109.4,161.5 1109.7,138.0 1110.0,149.8 1110.3,148.1 1110.6,151.4 1110.9,159.7 1111.2,145.4 1111.5,140.5 1111.8,143.1 1112.1,156.5 1112.4,135.9 1112.7,138.9 1113.0,157.5 1113.3,149.5 1113.6,136.5 1113.9,150.3 1114.2,150.8 1114.5,148.3 1114.8,147.0 1115.1,150.8 1115.4,145.1 1115.7,153.1 1116.0,156.0 1116.3,168.1 1116.6,151.2 1116.9,142.2 1117.2,150.5 1117.5,147.6 1117.8,153.1 1118.1,153.8 1118.4,176.1 1118.7,160.8 1119.0,159.4 1119.3,153.4 1119.6,160.0 1119.9,173.6 1120.2,176.3 1120.5,162.4 1120.8,160.4 1121.1,149.9 1121.4,171.6 1121.7,167.2 1122.0,167.4 1122.3,153.2 1122.6,164.2 1122.9,162.8 1123.2,157.7 1123.5,153.9 1123.8,159.4 1124.1,155.3 1124.4,174.5 1124.7,151.6 1125.0,152.9 1125.3,143.8 1125.6,156.7 1125.9,148.0 1126.2,149.7 1126.5,154.9 1126.8,171.1 1127.1,147.9 1127.4,152.9 1127.7,143.4 1128.0,151.4 1128.3,163.7 1128.6,150.0 1128.9,149.4 1129.2,146.6 1129.4,144.8 1129.7,148.4 1130.0,162.9 1130.3,157.5 1130.6,146.4 1130.9,145.7 1131.2,139.1 1131.5,144.0 1131.8,139.4 1132.1,144.5 1132.4,149.3 1132.7,137.2 1133.0,148.2 1133.3,148.9 1133.6,147.7 1133.9,143.6 1134.2,151.8 1134.5,149.0 1134.8,155.6 1135.1,148.9 1135.4,173.9 1135.7,157.7 1136.0,157.2 1136.3,155.3 1136.6,157.6 1136.9,149.2 1137.2,151.2 1137.5,163.7 1137.8,155.3 1138.1,149.1 1138.4,162.2 1138.7,160.7 1139.0,155.7 1139.3,171.0 1139.6,160.7 1139.9,153.3 1140.2,151.4 1140.5,168.8 1140.8,155.4 1141.1,172.2 1141.4,151.5 1141.7,158.2 1142.0,161.9 1142.3,162.7 1142.6,156.2 1142.9,150.7 1143.2,154.7 1143.5,151.3 1143.8,151.5 1144.1,151.3 1144.4,145.2 1144.7,149.0 1145.0,154.2 1145.3,152.0 1145.6,165.4 1145.9,166.8 1146.2,155.0 1146.5,152.1 1146.8,153.9 1147.1,152.3 1147.4,144.3 1147.7,148.0 1148.0,164.2 1148.3,144.1 1148.6,143.7 1148.9,147.4 1149.2,145.5 1149.5,150.2 1149.8,143.0 1150.1,148.8 1150.4,145.5 1150.7,138.9 1150.9,144.1 1151.2,145.1 1151.5,137.7 1151.8,126.5 1152.1,140.9 1152.4,145.8 1152.7,151.7 1153.0,151.6 1153.3,145.7 1153.6,140.6 1153.9,156.8 1154.2,159.9 1154.5,143.6 1154.8,147.0 1155.1,151.1 1155.4,165.2 1155.7,147.4 1156.0,166.6 1156.3,149.6 1156.6,157.0 1156.9,155.7 1157.2,159.3 1157.5,163.3 1157.8,160.5 1158.1,154.8 1158.4,177.5 1158.7,170.8 1159.0,155.7 1159.3,158.8 1159.6,151.2 1159.9,171.4 1160.2,169.5 1160.5,162.2 1160.8,160.5 1161.1,159.0 1161.4,158.6 1161.7,155.2 1162.0,174.9 1162.3,157.0 1162.6,161.6 1162.9,161.7 1163.2,147.5 1163.5,158.4 1163.8,148.6 1164.1,141.9 1164.4,156.7 1164.7,153.8 1165.0,153.8 1165.3,151.9 1165.6,144.0 1165.9,146.4 1166.2,150.2 1166.5,150.2 1166.8,156.3 1167.1,147.1 1167.4,158.5 1167.7,153.9 1168.0,147.1 1168.3,152.4 1168.6,158.4 1168.9,146.9 1169.2,153.3 1169.5,141.6 1169.8,143.1 1170.1,155.4 1170.4,143.2 1170.7,141.9 1171.0,145.5 1171.3,148.7 1171.6,150.8 1171.9,138.2 1172.1,147.9 1172.4,149.1 1172.7,152.0 1173.0,159.7 1173.3,154.7 1173.6,148.2 1173.9,150.2 1174.2,150.9 1174.5,152.6 1174.8,160.6 1175.1,154.2 1175.4,149.5 1175.7,155.9 1176.0,178.5 1176.3,162.5 1176.6,174.2 1176.9,164.8 1177.2,147.1 1177.5,162.1 1177.8,166.2 1178.1,174.3 1178.4,162.6 1178.7,154.1 1179.0,168.3 1179.3,159.8 1179.6,160.6 1179.9,165.7 1180.2,156.5 1180.5,163.2 1180.8,165.4 1181.1,164.1 1181.4,157.0 1181.7,147.7 1182.0,151.8 1182.3,162.2 1182.6,156.1 1182.9,162.1 1183.2,162.3 1183.5,171.3 1183.8,151.9 1184.1,157.7 1184.4,154.4 1184.7,150.1 1185.0,163.6 1185.3,160.8 1185.6,147.9 1185.9,158.4 1186.2,157.3 1186.5,143.5 1186.8,149.1 1187.1,140.8 1187.4,137.9 1187.7,138.8 1188.0,158.3 1188.3,144.5 1188.6,139.7 1188.9,142.4 1189.2,148.0 1189.5,154.1 1189.8,142.3 1190.1,159.0 1190.4,161.9 1190.7,155.1 1191.0,148.6 1191.3,141.7 1191.6,151.9 1191.9,144.9 1192.2,158.4 1192.5,154.9 1192.8,154.9 1193.1,157.9 1193.3,146.6 1193.6,166.2 1193.9,147.8 1194.2,153.2 1194.5,151.4 1194.8,162.0 1195.1,152.7 1195.4,172.8 1195.7,158.8 1196.0,156.4 1196.3,164.5 1196.6,171.4 1196.9,166.9 1197.2,163.2 1197.5,164.7 1197.8,181.3 1198.1,158.5 1198.4,173.9 1198.7,160.8 1199.0,167.5 1199.3,176.1 1199.6,155.8 1199.9,161.9 1200.2,157.3 1200.5,156.5 1200.8,156.7 1201.1,163.9 1201.4,154.7 1201.7,151.5 1202.0,161.6 1202.3,164.4 1202.6,159.8 1202.9,148.4 1203.2,154.9 1203.5,145.4 1203.8,156.1 1204.1,152.4 1204.4,143.5 1204.7,142.0 1205.0,146.3 1205.3,159.2 1205.6,149.5 1205.9,149.5 1206.2,156.8 1206.5,140.7 1206.8,144.8 1207.1,153.5 1207.4,155.5 1207.7,144.3 1208.0,160.1 1208.3,140.0 1208.6,149.6 1208.9,157.2 1209.2,143.9 1209.5,154.6 1209.8,149.5 1210.1,148.0 1210.4,157.1 1210.7,147.6 1211.0,143.2 1211.3,145.1 1211.6,152.4 1211.9,147.6 1212.2,161.6 1212.5,154.8 1212.8,147.6 1213.1,162.9 1213.4,154.0 1213.7,150.8 1214.0,155.6 1214.3,147.2 1214.5,160.3 1214.8,162.0 1215.1,170.5 1215.4,157.7 1215.7,158.9 1216.0,166.5 1216.3,158.4 1216.6,152.5 1216.9,165.8 1217.2,154.9 1217.5,158.7 1217.8,163.8 1218.1,183.0 1218.4,162.4 1218.7,166.9 1219.0,158.3 1219.3,163.7 1219.6,160.7 1219.9,164.1 1220.2,162.3 1220.5,154.9 1220.8,173.2 1221.1,149.6 1221.4,152.1 1221.7,172.5 1222.0,152.8 1222.3,157.0 1222.6,158.1 1222.9,154.6 1223.2,153.6 1223.5,158.4 1223.8,155.0 1224.1,144.5 1224.4,163.6 1224.7,144.3 1225.0,155.3 1225.3,145.5 1225.6,159.4 1225.9,153.8 1226.2,148.7 1226.5,166.6 1226.8,156.9 1227.1,136.5 1227.4,140.9 1227.7,140.7 1228.0,143.2 1228.3,151.8 1228.6,138.3 1228.9,136.7 1229.2,158.5 1229.5,150.0 1229.8,151.3 1230.1,151.4 1230.4,145.8 1230.7,152.0 1231.0,151.8 1231.3,153.1 1231.6,164.4 1231.9,144.6 1232.2,166.6 1232.5,157.7 1232.8,157.5 1233.1,154.1 1233.4,153.2 1233.7,176.1 1234.0,157.0 1234.3,166.8 1234.6,156.4 1234.9,158.3 1235.2,181.9 1235.5,171.9 1235.7,162.3 1236.0,158.2 1236.3,157.7 1236.6,160.8 1236.9,167.3 1237.2,160.4 1237.5,162.1 1237.8,165.0 1238.1,154.2 1238.4,159.1 1238.7,158.6 1239.0,153.8 1239.3,162.0 1239.6,158.3 1239.9,167.0 1240.2,163.5 1240.5,167.9 1240.8,164.7 1241.1,162.9 1241.4,155.3 1241.7,150.5 1242.0,157.4 1242.3,152.0 1242.6,140.3 1242.9,156.4 1243.2,153.1 1243.5,153.4 1243.8,140.4 1244.1,147.8 1244.4,161.4 1244.7,145.9 1245.0,154.5 1245.3,147.8 1245.6,142.1 1245.9,144.7 1246.2,153.5 1246.5,159.6 1246.8,151.2 1247.1,145.2 1247.4,152.5 1247.7,153.1 1248.0,148.8 1248.3,143.5 1248.6,171.1 1248.9,159.0 1249.2,162.3 1249.5,155.1 1249.8,146.9 1250.1,149.5 1250.4,152.5 1250.7,149.9 1251.0,155.2 1251.3,154.3 1251.6,145.9 1251.9,151.4 1252.2,149.4 1252.5,146.1 1252.8,167.8 1253.1,146.3 1253.4,168.9 1253.7,151.7 1254.0,161.3 1254.3,149.0 1254.6,153.5 1254.9,167.8 1255.2,158.4 1255.5,158.8 1255.8,167.9 1256.1,161.1 1256.4,166.6 1256.7,163.6 1256.9,161.4 1257.2,160.1 1257.5,168.2 1257.8,148.9 1258.1,170.3 1258.4,156.9 1258.7,162.2 1259.0,149.2 1259.3,159.6 1259.6,159.1 1259.9,145.2 1260.2,158.3 1260.5,154.4 1260.8,159.5 1261.1,149.8 1261.4,151.1 1261.7,160.3 1262.0,149.5 1262.3,154.6 1262.6,147.5 1262.9,158.7 1263.2,143.8 1263.5,142.5 1263.8,154.8 1264.1,147.9 1264.4,142.9 1264.7,157.7 1265.0,145.2 1265.3,143.2 1265.6,155.7 1265.9,152.7 1266.2,139.3 1266.5,145.1 1266.8,150.2 1267.1,157.0 1267.4,145.2 1267.7,154.0 1268.0,138.2 1268.3,148.7 1268.6,144.9 1268.9,150.6 1269.2,143.7 1269.5,150.8 1269.8,160.8 1270.1,152.6 1270.4,157.0 1270.7,154.1 1271.0,157.5 1271.3,156.7 1271.6,161.2 1271.9,160.3 1272.2,156.7 1272.5,160.5 1272.8,153.0 1273.1,154.8 1273.4,163.2 1273.7,170.5 1274.0,153.9 1274.3,165.0 1274.6,172.5 1274.9,168.9 1275.2,164.6 1275.5,154.2 1275.8,156.4 1276.1,160.2 1276.4,171.2 1276.7,162.3 1277.0,163.7 1277.3,150.1 1277.6,159.3 1277.9,144.7 1278.1,153.7 1278.4,161.9 1278.7,154.7 1279.0,162.0 1279.3,151.7 1279.6,174.6 1279.9,146.5 1280.2,151.7 1280.5,147.7 1280.8,162.2 1281.1,139.2 1281.4,161.2 1281.7,148.9 1282.0,160.1 1282.3,151.5 1282.6,146.5 1282.9,160.7 1283.2,148.5 1283.5,144.1 1283.8,154.4 1284.1,140.3 1284.4,146.6 1284.7,155.6 1285.0,151.4 1285.3,153.7 1285.6,148.0 1285.9,144.1 1286.2,148.7 1286.5,147.3 1286.8,150.0 1287.1,146.9 1287.4,144.3 1287.7,165.2 1288.0,151.1 1288.3,153.9 1288.6,144.7 1288.9,147.5 1289.2,165.2 1289.5,158.9 1289.8,172.2 1290.1,153.4 1290.4,154.9 1290.7,159.4 1291.0,170.8 1291.3,155.5 1291.6,166.0 1291.9,155.4 1292.2,166.7 1292.5,149.3 1292.8,152.8 1293.1,153.5 1293.4,179.3 1293.7,156.6 1294.0,156.4 1294.3,168.4 1294.6,162.5 1294.9,165.1 1295.2,155.9 1295.5,148.5 1295.8,169.1 1296.1,170.1 1296.4,155.5 1296.7,166.4 1297.0,152.9 1297.3,159.7 1297.6,153.7 1297.9,150.4 1298.2,154.1 1298.5,148.9 1298.8,162.5 1299.1,163.1 1299.3,151.9 1299.6,161.5 1299.9,152.3 1300.2,148.0 1300.5,151.0 1300.8,147.7 1301.1,147.9 1301.4,170.6 1301.7,150.3 1302.0,151.6 1302.3,139.4 1302.6,139.4 1302.9,150.5 1303.2,140.1 1303.5,147.0 1303.8,141.7 1304.1,157.1 1304.4,142.6 1304.7,142.8 1305.0,160.6 1305.3,145.7 1305.6,141.2 1305.9,150.3 1306.2,143.3 1306.5,158.2 1306.8,159.8 1307.1,163.0 1307.4,147.1 1307.7,174.5 1308.0,149.2 1308.3,156.0 1308.6,149.6 1308.9,153.7 1309.2,156.0 1309.5,152.2 1309.8,151.0 1310.1,150.7 1310.4,151.7 1310.7,153.7 1311.0,163.5 1311.3,161.2 1311.6,174.7 1311.9,162.9 1312.2,163.1 1312.5,154.3 1312.8,152.5 1313.1,172.7 1313.4,177.5 1313.7,167.5 1314.0,160.1 1314.3,150.9 1314.6,171.2 1314.9,171.1 1315.2,169.6 1315.5,151.3 1315.8,163.1 1316.1,160.0 1316.4,166.7 1316.7,153.0 1317.0,158.7 1317.3,155.6 1317.6,160.3 1317.9,158.8 1318.2,146.6 1318.5,157.4 1318.8,148.5 1319.1,155.4 1319.4,160.5 1319.7,148.9 1320.0,157.6 1320.3,149.5 1320.5,143.0 1320.8,150.7 1321.1,153.4 1321.4,141.0 1321.7,148.0 1322.0,152.0 1322.3,146.0 1322.6,140.9 1322.9,142.1 1323.2,144.1 1323.5,143.7 1323.8,148.1 1324.1,157.9 1324.4,148.7 1324.7,165.6 1325.0,147.0 1325.3,158.6 1325.6,161.2 1325.9,142.8 1326.2,150.8 1326.5,151.6 1326.8,155.8 1327.1,153.3 1327.4,159.7 1327.7,158.8 1328.0,155.5 1328.3,156.0 1328.6,177.9 1328.9,149.4 1329.2,163.2 1329.5,153.0 1329.8,151.8 1330.1,157.2 1330.4,163.6 1330.7,157.1 1331.0,164.4 1331.3,170.5 1331.6,183.6 1331.9,158.7 1332.2,162.7 1332.5,154.5 1332.8,162.9 1333.1,160.1 1333.4,160.2 1333.7,162.9 1334.0,156.9 1334.3,156.1 1334.6,155.5 1334.9,165.7 1335.2,159.8 1335.5,146.9 1335.8,155.5 1336.1,161.2 1336.4,168.3 1336.7,147.5 1337.0,148.2 1337.3,151.4 1337.6,156.5 1337.9,148.7 1338.2,145.5 1338.5,150.7 1338.8,150.9 1339.1,153.4 1339.4,150.0 1339.7,156.3 1340.0,147.0 1340.3,155.1 1340.6,152.6 1340.9,156.3 1341.2,158.5 1341.5,145.4 1341.8,135.6 1342.0,164.8 1342.3,146.9 1342.6,161.5 1342.9,148.3 1343.2,162.4 1343.5,149.6 1343.8,152.7 1344.1,149.5 1344.4,148.2 1344.7,152.3 1345.0,152.3 1345.3,158.7 1345.6,157.4 1345.9,155.6 1346.2,154.7 1346.5,152.9 1346.8,152.5 1347.1,166.9 1347.4,150.3 1347.7,154.4 1348.0,157.9 1348.3,158.1 1348.6,166.0 1348.9,155.8 1349.2,180.7 1349.5,181.3 1349.8,156.6 1350.1,166.5 1350.4,163.6 1350.7,168.4 1351.0,159.1 1351.3,171.9 1351.6,163.2 1351.9,159.9 1352.2,153.0 1352.5,155.1 1352.8,160.7 1353.1,155.3 1353.4,163.4 1353.7,159.2 1354.0,153.9 1354.3,149.9 1354.6,167.4 1354.9,159.8 1355.2,153.2 1355.5,151.8 1355.8,153.2 1356.1,155.7 1356.4,161.7 1356.7,163.0 1357.0,150.1 1357.3,156.3 1357.6,153.4 1357.9,156.7 1358.2,153.9 1358.5,157.1 1358.8,152.1 1359.1,150.9 1359.4,145.6 1359.7,154.9 1360.0,163.6 1360.3,149.4 1360.6,144.5 1360.9,149.6 1361.2,141.3 1361.5,146.9 1361.8,154.1 1362.1,143.6 1362.4,146.4 1362.7,150.8 1363.0,158.5 1363.2,168.4 1363.5,147.7 1363.8,146.5 1364.1,148.5 1364.4,151.8 1364.7,156.0 1365.0,144.4 1365.3,152.4 1365.6,148.2 1365.9,156.1 1366.2,151.5 1366.5,151.3 1366.8,163.2 1367.1,168.6 1367.4,154.5 1367.7,152.9 1368.0,155.5 1368.3,162.4 1368.6,160.3 1368.9,154.7 1369.2,145.8 1369.5,150.0 1369.8,161.2 1370.1,156.2 1370.4,166.8 1370.7,176.5 1371.0,171.6 1371.3,181.6 1371.6,170.8 1371.9,188.3 1372.2,182.0 1372.5,177.2 1372.8,189.0 1373.1,198.2 1373.4,185.4 1373.7,191.2 1374.0,188.5 1374.3,200.5 1374.6,198.2 1374.9,205.3 1375.2,201.7 1375.5,207.9 1375.8,214.4 1376.1,222.3 1376.4,217.1 1376.7,212.9 1377.0,205.3 1377.3,204.4 1377.6,209.6 1377.9,201.0 1378.2,194.6 1378.5,210.3 1378.8,200.8 1379.1,202.7 1379.4,202.8 1379.7,204.3 1380.0,231.8 1380.3,196.2 1380.6,228.9 1380.9,201.5 1381.2,196.7 1381.5,197.9 1381.8,213.0 1382.1,214.4 1382.4,200.5 1382.7,219.8 1383.0,190.3 1383.3,189.4 1383.6,202.9 1383.9,203.9 1384.2,201.1 1384.4,189.3 1384.7,213.5 1385.0,212.1 1385.3,201.6 1385.6,210.3 1385.9,199.7 1386.2,192.1 1386.5,201.2 1386.8,214.2 1387.1,207.2 1387.4,211.3 1387.7,220.8 1388.0,204.9 1388.3,201.0 1388.6,206.1 1388.9,198.8 1389.2,219.3 1389.5,213.0 1389.8,226.1 1390.1,211.2 1390.4,202.6 1390.7,212.8 1391.0,216.1 1391.3,207.3 1391.6,204.1 1391.9,211.8 1392.2,214.5 1392.5,204.7 1392.8,210.3 1393.1,204.7 1393.4,220.5 1393.7,215.1 1394.0,220.6 1394.3,231.8 1394.6,226.0 1394.9,211.7 1395.2,209.7 1395.5,218.9 1395.8,220.5 1396.1,207.6 1396.4,223.4 1396.7,213.2 1397.0,229.4 1397.3,235.6 1397.6,216.9 1397.9,219.3 1398.2,224.6 1398.5,234.8 1398.8,217.1 1399.1,226.8 1399.4,207.4 1399.7,215.4 1400.0,224.5 1400.3,230.5 1400.6,220.1 1400.9,225.8 1401.2,232.1 1401.5,215.3 1401.8,227.2 1402.1,216.0 1402.4,225.3 1402.7,217.5 1403.0,218.5 1403.3,212.9 1403.6,214.4 1403.9,229.4 1404.2,214.5 1404.5,208.6 1404.8,228.8 1405.1,215.7 1405.4,221.8 1405.6,218.3 1405.9,205.2 1406.2,230.8 1406.5,220.8 1406.8,231.8 1407.1,223.2 1407.4,215.2 1407.7,222.0 1408.0,230.9 1408.3,215.1 1408.6,218.9 1408.9,229.2 1409.2,218.7 1409.5,242.3 1409.8,221.2 1410.1,224.8 1410.4,214.8 1410.7,223.9 1411.0,240.0 1411.3,208.9 1411.6,222.8 1411.9,221.8 1412.2,237.1 1412.5,211.9 1412.8,213.4 1413.1,214.2 1413.4,220.2 1413.7,217.0 1414.0,217.9 1414.3,237.3 1414.6,215.2 1414.9,235.6 1415.2,219.7 1415.5,218.5 1415.8,241.7 1416.1,217.9 1416.4,221.2 1416.7,222.0 1417.0,227.3 1417.3,223.1 1417.6,218.7 1417.9,231.9 1418.2,235.1 1418.5,218.2 1418.8,249.1 1419.1,217.6 1419.4,249.2 1419.7,226.4 1420.0,217.2 1420.3,218.0 1420.6,229.6 1420.9,219.5 1421.2,220.1 1421.5,249.6 1421.8,223.1 1422.1,234.9 1422.4,214.9 1422.7,232.4 1423.0,215.0 1423.3,222.5 1423.6,219.8 1423.9,220.6 1424.2,223.6 1424.5,231.4 1424.8,231.2 1425.1,232.4 1425.4,236.6 1425.7,230.1 1426.0,226.5 1426.3,229.2 1426.6,220.6 1426.8,229.5 1427.1,221.4 1427.4,224.5 1427.7,218.2 1428.0,223.9 1428.3,220.2 1428.6,222.8 1428.9,227.7 1429.2,221.6 1429.5,237.0 1429.8,226.8 1430.1,226.7 1430.4,222.3 1430.7,240.6 1431.0,228.5 1431.3,224.4 1431.6,223.4 1431.9,232.8 1432.2,239.3 1432.5,226.3 1432.8,240.7 1433.1,228.4 1433.4,229.4 1433.7,227.7 1434.0,221.6 1434.3,223.6 1434.6,226.4 1434.9,225.0 1435.2,230.5 1435.5,227.2 1435.8,227.8 1436.1,233.6 1436.4,228.9 1436.7,219.9 1437.0,230.4 1437.3,228.8 1437.6,237.3 1437.9,236.6 1438.2,239.8 1438.5,235.8 1438.8,222.7 1439.1,230.4 1439.4,251.0 1439.7,223.7 1440.0,235.1 1440.3,256.2 1440.6,223.1 1440.9,230.6 1441.2,221.0 1441.5,229.7 1441.8,236.2 1442.1,236.1 1442.4,230.8 1442.7,235.4 1443.0,227.7 1443.3,232.5 1443.6,221.7 1443.9,235.2 1444.2,229.1 1444.5,221.6 1444.8,227.0 1445.1,222.8 1445.4,223.2 1445.7,232.5 1446.0,234.6 1446.3,253.6 1446.6,231.5 1446.9,232.4 1447.2,229.6 1447.5,222.7 1447.8,233.0 1448.0,233.6 1448.3,228.5 1448.6,232.9 1448.9,234.9 1449.2,237.3 1449.5,231.8 1449.8,229.5 1450.1,239.0 1450.4,253.3 1450.7,231.5 1451.0,238.6 1451.3,226.9 1451.6,226.7 1451.9,234.0 1452.2,219.0 1452.5,226.3 1452.8,228.7 1453.1,229.7 1453.4,225.3 1453.7,223.8 1454.0,229.4 1454.3,219.3 1454.6,231.8 1454.9,235.9 1455.2,238.2 1455.5,235.2 1455.8,233.4 1456.1,234.6 1456.4,236.2 1456.7,228.6 1457.0,241.8 1457.3,242.6 1457.6,232.4 1457.9,234.6 1458.2,238.7 1458.5,222.0 1458.8,234.1 1459.1,230.2 1459.4,242.3 1459.7,217.1 1460.0,234.8 1460.3,227.1 1460.6,231.1 1460.9,228.9 1461.2,236.6 1461.5,254.6 1461.8,244.8 1462.1,224.0 1462.4,229.3 1462.7,228.9 1463.0,236.5 1463.3,234.8 1463.6,235.3 1463.9,241.5 1464.2,228.6 1464.5,237.6 1464.8,247.0 1465.1,232.5 1465.4,233.6 1465.7,237.5 1466.0,231.3 1466.3,229.4 1466.6,226.6 1466.9,236.9 1467.2,237.8 1467.5,228.9 1467.8,232.6 1468.1,235.7 1468.4,228.1 1468.7,225.6 1469.0,254.0 1469.2,240.3 1469.5,255.1 1469.8,227.9 1470.1,235.0 1470.4,233.8 1470.7,222.3 1471.0,228.1 1471.3,232.0 1471.6,233.1 1471.9,246.8 1472.2,229.7 1472.5,234.3 1472.8,231.0 1473.1,225.7 1473.4,238.7 1473.7,230.3 1474.0,253.2 1474.3,249.2 1474.6,231.0 1474.9,228.6 1475.2,238.3"/>
<polyline stroke="#D95319" points="252.5,304.9 252.8,306.8 253.1,308.1 253.4,304.4 253.7,308.3 254.0,301.6 254.3,304.0 254.6,304.9 254.9,315.8 255.2,321.5 255.5,315.0 255.8,303.6 256.1,304.9 256.4,317.7 256.7,303.6 257.0,310.6 257.3,310.6 257.6,299.1 257.9,305.2 258.2,304.0 258.5,303.9 258.8,317.7 259.0,303.6 259.3,293.4 259.6,314.0 259.9,300.6 260.2,300.0 260.5,300.1 260.8,309.2 261.1,307.5 261.4,313.7 261.7,305.5 262.0,297.3 262.3,310.1 262.6,322.9 262.9,304.7 263.2,299.7 263.5,306.6 263.8,295.3 264.1,306.1 264.4,304.8 264.7,312.8 265.0,307.1 265.3,299.8 265.6,299.7 265.9,297.5 266.2,300.1 266.5,301.5 266.8,323.2 267.1,310.6 267.4,291.7 267.7,308.3 268.0,300.5 268.3,305.0 268.6,300.3 268.9,304.1 269.2,311.9 269.5,310.1 269.8,302.2 270.1,307.8 270.4,322.4 270.7,301.1 271.0,298.2 271.3,298.7 271.6,298.6 271.9,316.5 272.2,295.0 272.5,305.2 272.8,310.8 273.1,307.2 273.4,309.2 273.7,313.7 274.0,304.2 274.3,303.1 274.6,305.4 274.9,303.0 275.2,305.2 275.5,309.2 275.8,308.0 276.1,300.8 276.4,315.3 276.7,307.6 277.0,298.4 277.3,302.4 277.6,300.0 277.9,303.8 278.2,312.7 278.5,306.5 278.8,303.0 279.1,306.4 279.4,304.9 279.7,302.6 280.0,298.5 280.2,306.8 280.5,296.9 280.8,303.6 281.1,297.8 281.4,297.0 281.7,293.9 282.0,297.2 282.3,297.1 282.6,293.8 282.9,317.2 283.2,310.1 283.5,297.0 283.8,322.6 284.1,301.7 284.4,301.6 284.7,314.8 285.0,309.3 285.3,298.5 285.6,299.0 285.9,306.4 286.2,308.2 286.5,307.3 286.8,299.1 287.1,312.9 287.4,301.8 287.7,313.3 288.0,296.4 288.3,300.4 288.6,294.1 288.9,322.3 289.2,319.4 289.5,305.8 289.8,292.7 290.1,310.1 290.4,293.6 290.7,300.0 291.0,300.0 291.3,296.6 291.6,308.7 291.9,305.4 292.2,310.9 292.5,300.0 292.8,289.6 293.1,303.3 293.4,297.1 293.7,297.8 294.0,298.9 294.3,301.5 294.6,291.7 294.9,299.3 295.2,303.7 295.5,292.7 295.8,294.4 296.1,297.4 296.4,300.5 296.7,289.2 297.0,299.2 297.3,304.0 297.6,295.0 297.9,301.3 298.2,299.0 298.5,301.6 298.8,300.1 299.1,314.3 299.4,305.8 299.7,304.9 300.0,300.5 300.3,296.3 300.6,306.7 300.9,284.3 301.2,298.8 301.4,294.5 301.7,307.4 302.0,305.0 302.3,285.8 302.6,291.9 302.9,297.6 303.2,309.6 303.5,285.1 303.8,304.4 304.1,299.7 304.4,296.7 304.7,292.3 305.0,294.9 305.3,295.1 305.6,281.1 305.9,293.5 306.2,290.6 306.5,288.0 306.8,313.0 307.1,299.7 307.4,277.4 307.7,300.4 308.0,293.1 308.3,304.5 308.6,304.3 308.9,283.6 309.2,296.3 309.5,292.8 309.8,294.6 310.1,307.5 310.4,292.8 310.7,282.7 311.0,298.6 311.3,287.0 311.6,281.8 311.9,303.4 312.2,283.0 312.5,313.9 312.8,284.2 313.1,293.0 313.4,301.5 313.7,290.5 314.0,295.3 314.3,309.2 314.6,279.9 314.9,279.2 315.2,299.8 315.5,292.8 315.8,293.6 316.1,291.1 316.4,303.2 316.7,280.1 317.0,287.8 317.3,298.8 317.6,293.2 317.9,296.3 318.2,289.9 318.5,282.1 318.8,281.9 319.1,300.1 319.4,286.9 319.7,297.7 320.0,310.1 320.3,300.0 320.6,287.8 320.9,306.6 321.2,295.4 321.5,283.4 321.8,332.3 322.1,295.4 322.4,298.2 322.6,312.1 322.9,290.2 323.2,287.0 323.5,286.2 323.8,299.0 324.1,298.5 324.4,279.5 324.7,297.8 325.0,290.2 325.3,299.3 325.6,299.3 325.9,305.9 326.2,273.9 326.5,290.5 326.8,313.0 327.1,286.3 327.4,286.9 327.7,286.6 328.0,274.2 328.3,287.3 328.6,286.4 328.9,294.3 329.2,298.4 329.5,286.7 329.8,287.5 330.1,296.9 330.4,291.7 330.7,285.4 331.0,284.6 331.3,292.4 331.6,316.8 331.9,283.6 332.2,289.9 332.5,297.1 332.8,291.4 333.1,300.4 333.4,283.4 333.7,289.8 334.0,308.2 334.3,282.2 334.6,280.7 334.9,287.5 335.2,280.1 335.5,305.3 335.8,273.3 336.1,281.9 336.4,274.7 336.7,303.6 337.0,289.8 337.3,285.6 337.6,264.7 337.9,280.9 338.2,295.7 338.5,273.6 338.8,276.0 339.1,285.9 339.4,268.2 339.7,264.3 340.0,277.5 340.3,286.0 340.6,266.2 340.9,268.1 341.2,274.9 341.5,280.7 341.8,272.9 342.1,264.0 342.4,267.5 342.7,260.7 343.0,249.7 343.3,261.3 343.6,255.8 343.8,263.5 344.1,244.2 344.4,261.8 344.7,247.3 345.0,245.4 345.3,260.9 345.6,249.7 345.9,278.8 346.2,252.4 346.5,278.4 346.8,252.0 347.1,264.2 347.4,262.3 347.7,272.6 348.0,259.4 348.3,255.6 348.6,276.1 348.9,269.2 349.2,263.6 349.5,275.2 349.8,256.0 350.1,250.5 350.4,267.9 350.7,273.0 351.0,271.3 351.3,284.6 351.6,295.8 351.9,285.2 352.2,271.0 352.5,275.6 352.8,281.4 353.1,281.6 353.4,266.1 353.7,268.2 354.0,254.5 354.3,274.2 354.6,235.4 354.9,257.6 355.2,235.1 355.5,257.0 355.8,245.1 356.1,255.0 356.4,230.4 356.7,237.8 357.0,251.7 357.3,241.7 357.6,229.5 357.9,256.1 358.2,237.9 358.5,232.7 358.8,254.0 359.1,217.1 359.4,201.2 359.7,235.0 360.0,222.5 360.3,205.4 360.6,199.8 360.9,196.8 361.2,199.0 361.5,197.9 361.8,209.2 362.1,186.4 362.4,189.0 362.7,205.1 363.0,198.2 363.3,199.7 363.6,200.3 363.9,206.9 364.2,178.6 364.5,196.2 364.8,187.3 365.0,194.3 365.3,189.3 365.6,179.2 365.9,189.4 366.2,178.1 366.5,195.3 366.8,182.4 367.1,176.4 367.4,181.7 367.7,195.2 368.0,192.9 368.3,196.6 368.6,188.2 368.9,193.5 369.2,200.0 369.5,206.3 369.8,200.3 370.1,195.2 370.4,189.7 370.7,193.1 371.0,191.7 371.3,188.0 371.6,195.1 371.9,215.6 372.2,202.4 372.5,215.8 372.8,200.5 373.1,222.5 373.4,203.8 373.7,202.9 374.0,199.8 374.3,205.6 374.6,188.2 374.9,211.2 375.2,201.0 375.5,212.9 375.8,219.1 376.1,214.3 376.4,226.8 376.7,209.9 377.0,231.8 377.3,203.2 377.6,209.7 377.9,203.0 378.2,220.0 378.5,195.7 378.8,196.8 379.1,197.7 379.4,205.9 379.7,197.4 380.0,203.7 380.3,192.7 380.6,222.3 380.9,200.6 381.2,189.8 381.5,192.6 381.8,191.4 382.1,191.4 382.4,195.6 382.7,205.7 383.0,191.5 383.3,198.9 383.6,196.5 383.9,194.4 384.2,192.6 384.5,201.7 384.8,185.4 385.1,188.6 385.4,180.5 385.7,174.0 386.0,181.8 386.2,186.3 386.5,202.4 386.8,189.1 387.1,187.8 387.4,187.8 387.7,190.6 388.0,196.7 388.3,185.2 388.6,191.9 388.9,185.7 389.2,201.7 389.5,192.8 389.8,186.9 390.1,187.6 390.4,209.3 390.7,199.3 391.0,202.6 391.3,190.6 391.6,197.2 391.9,207.8 392.2,202.5 392.5,207.7 392.8,203.4 393.1,208.5 393.4,203.3 393.7,196.6 394.0,190.6 394.3,200.9 394.6,194.6 394.9,203.5 395.2,203.7 395.5,206.6 395.8,211.9 396.1,239.1 396.4,220.5 396.7,211.1 397.0,205.0 397.3,216.8 397.6,207.0 397.9,207.4 398.2,206.5 398.5,204.3 398.8,198.9 399.1,206.2 399.4,203.7 399.7,210.7 400.0,204.5 400.3,208.3 400.6,195.8 400.9,183.8 401.2,184.5 401.5,203.5 401.8,192.5 402.1,195.0 402.4,216.6 402.7,222.6 403.0,200.4 403.3,194.5 403.6,207.8 403.9,202.1 404.2,200.2 404.5,200.5 404.8,203.9 405.1,190.9 405.4,182.4 405.7,186.2 406.0,198.8 406.3,191.7 406.6,190.6 406.9,215.9 407.2,184.5 407.5,200.4 407.7,208.5 408.0,176.9 408.3,206.4 408.6,199.3 408.9,204.5 409.2,189.8 409.5,201.2 409.8,216.3 410.1,227.8 410.4,206.1 410.7,187.0 411.0,213.7 411.3,193.1 411.6,212.8 411.9,206.2 412.2,203.0 412.5,207.2 412.8,234.0 413.1,213.8 413.4,205.5 413.7,214.5 414.0,206.0 414.3,226.2 414.6,223.2 414.9,213.2 415.2,212.4 415.5,203.6 415.8,213.2 416.1,208.7 416.4,209.1 416.7,203.6 417.0,202.9 417.3,206.4 417.6,198.2 417.9,193.4 418.2,210.4 418.5,208.9 418.8,208.6 419.1,208.6 419.4,207.2 419.7,199.6 420.0,193.1 420.3,205.3 420.6,194.2 420.9,201.1 421.2,178.3 421.5,193.5 421.8,188.8 422.1,204.3 422.4,202.2 422.7,190.8 423.0,199.6 423.3,191.7 423.6,181.1 423.9,197.0 424.2,197.4 424.5,186.8 424.8,191.4 425.1,184.4 425.4,191.8 425.7,202.5 426.0,219.6 426.3,189.8 426.6,200.6 426.9,193.2 427.2,217.0 427.5,203.4 427.8,193.5 428.1,188.9 428.4,189.5 428.7,188.7 428.9,199.8 429.2,192.5 429.5,198.1 429.8,204.2 430.1,207.1 430.4,211.3 430.7,195.8 431.0,204.4 431.3,212.9 431.6,244.5 431.9,193.0 432.2,223.7 432.5,223.9 432.8,198.1 433.1,226.3 433.4,199.9 433.7,217.2 434.0,208.8 434.3,201.2 434.6,200.4 434.9,203.5 435.2,209.4 435.5,211.1 435.8,210.1 436.1,194.9 436.4,203.3 436.7,196.0 437.0,232.4 437.3,207.3 437.6,200.5 437.9,206.1 438.2,186.0 438.5,213.3 438.8,195.6 439.1,192.0 439.4,207.2 439.7,190.6 440.0,193.3 440.3,176.4 440.6,184.0 440.9,195.1 441.2,185.9 441.5,189.6 441.8,196.9 442.1,186.1 442.4,186.6 442.7,177.9 443.0,205.5 443.3,204.1 443.6,195.8 443.9,183.0 444.2,180.6 444.5,191.3 444.8,188.6 445.1,191.2 445.4,211.8 445.7,201.7 446.0,186.3 446.3,187.6 446.6,185.9 446.9,190.2 447.2,224.8 447.5,195.0 447.8,195.2 448.1,214.3 448.4,185.9 448.7,202.0 449.0,193.5 449.3,195.5 449.6,197.6 449.9,192.6 450.1,205.7 450.4,197.3 450.7,201.9 451.0,220.1 451.3,213.8 451.6,221.3 451.9,227.3 452.2,205.5 452.5,226.8 452.8,203.1 453.1,214.3 453.4,213.7 453.7,224.2 454.0,206.3 454.3,218.5 454.6,202.6 454.9,201.5 455.2,227.5 455.5,235.3 455.8,232.5 456.1,197.5 456.4,231.6 456.7,214.2 457.0,191.8 457.3,199.4 457.6,194.7 457.9,227.8 458.2,192.6 458.5,207.0 458.8,185.0 459.1,196.4 459.4,197.1 459.7,214.9 460.0,204.2 460.3,194.2 460.6,182.4 460.9,182.2 461.2,194.1 461.5,203.6 461.8,204.0 462.1,176.4 462.4,185.9 462.7,199.4 463.0,176.8 463.3,184.6 463.6,183.6 463.9,183.6 464.2,188.5 464.5,197.3 464.8,212.9 465.1,209.1 465.4,203.8 465.7,190.8 466.0,203.7 466.3,190.1 466.6,190.0 466.9,186.5 467.2,187.0 467.5,187.3 467.8,198.5 468.1,199.8 468.4,208.2 468.7,200.3 469.0,202.2 469.3,210.8 469.6,228.2 469.9,194.9 470.2,201.5 470.5,217.7 470.8,212.4 471.1,202.0 471.3,214.6 471.6,207.3 471.9,202.3 472.2,204.4 472.5,212.1 472.8,219.0 473.1,212.7 473.4,202.1 473.7,209.3 474.0,194.4 474.3,192.7 474.6,193.9 474.9,198.5 475.2,216.9 475.5,190.3 475.8,195.9 476.1,208.1 476.4,209.8 476.7,206.2 477.0,197.9 477.3,214.8 477.6,188.4 477.9,200.4 478.2,191.5 478.5,215.9 478.8,174.8 479.1,185.8 479.4,194.2 479.7,205.5 480.0,180.3 480.3,195.0 480.6,194.5 480.9,199.0 481.2,202.7 481.5,188.9 481.8,187.2 482.1,192.3 482.4,200.9 482.7,178.1 483.0,178.2 483.3,200.2 483.6,181.8 483.9,192.4 484.2,194.2 484.5,179.5 484.8,180.9 485.1,200.2 485.4,190.7 485.7,203.7 486.0,218.2 486.3,191.7 486.6,195.9 486.9,194.4 487.2,185.1 487.5,204.9 487.8,198.6 488.1,202.3 488.4,229.4 488.7,207.2 489.0,225.2 489.3,206.3 489.6,219.2 489.9,221.0 490.2,197.9 490.5,214.1 490.8,213.5 491.1,208.5 491.4,239.9 491.7,221.3 492.0,218.7 492.3,206.3 492.5,207.1 492.8,214.9 493.1,194.2 493.4,212.4 493.7,214.6 494.0,202.1 494.3,212.2 494.6,194.0 494.9,200.5 495.2,209.9 495.5,185.2 495.8,205.1 496.1,200.7 496.4,196.8 496.7,195.8 497.0,194.5 497.3,212.4 497.6,196.1 497.9,223.0 498.2,197.6 498.5,195.6 498.8,188.9 499.1,201.3 499.4,189.6 499.7,195.8 500.0,190.0 500.3,199.8 500.6,181.1 500.9,180.8 501.2,208.6 501.5,192.6 501.8,194.4 502.1,218.1 502.4,206.8 502.7,195.6 503.0,207.7 503.3,193.3 503.6,189.2 503.9,202.7 504.2,191.6 504.5,186.5 504.8,204.8 505.1,189.5 505.4,190.1 505.7,189.6 506.0,200.9 506.3,199.3 506.6,210.9 506.9,195.8 507.2,197.6 507.5,201.3 507.8,205.4 508.1,212.9 508.4,234.6 508.7,213.3 509.0,230.0 509.3,210.4 509.6,218.5 509.9,193.8 510.2,217.5 510.5,221.9 510.8,197.6 511.1,230.3 511.4,200.2 511.7,199.1 512.0,209.0 512.3,222.6 512.6,212.6 512.9,204.6 513.2,197.9 513.5,199.6 513.7,199.8 514.0,207.0 514.3,193.3 514.6,212.4 514.9,207.5 515.2,198.2 515.5,192.6 515.8,194.2 516.1,193.1 516.4,234.0 516.7,187.9 517.0,223.1 517.3,201.1 517.6,208.8 517.9,204.8 518.2,188.5 518.5,184.7 518.8,201.4 519.1,190.1 519.4,175.1 519.7,185.8 520.0,176.3 520.3,179.9 520.6,179.8 520.9,192.8 521.2,187.4 521.5,175.0 521.8,199.9 522.1,183.0 522.4,199.3 522.7,193.8 523.0,189.9 523.3,199.6 523.6,198.7 523.9,210.2 524.2,199.4 524.5,213.6 524.8,196.1 525.1,199.4 525.4,192.5 525.7,204.2 526.0,194.1 526.3,194.1 526.6,194.3 526.9,198.6 527.2,201.8 527.5,204.0 527.8,211.7 528.1,208.4 528.4,209.0 528.7,194.3 529.0,223.7 529.3,213.5 529.6,209.4 529.9,220.9 530.2,204.2 530.5,215.9 530.8,205.6 531.1,207.6 531.4,202.2 531.7,220.7 532.0,202.9 532.3,193.6 532.6,197.1 532.9,203.5 533.2,202.2 533.5,200.4 533.8,203.3 534.1,209.1 534.4,199.7 534.7,199.5 534.9,183.2 535.2,193.1 535.5,180.6 535.8,196.2 536.1,192.0 536.4,194.1 536.7,202.2 537.0,202.9 537.3,194.8 537.6,183.5 537.9,202.0 538.2,205.0 538.5,189.6 538.8,194.7 539.1,194.6 539.4,176.4 539.7,189.7 540.0,185.3 540.3,191.5 540.6,185.2 540.9,193.2 541.2,194.7 541.5,188.2 541.8,195.3 542.1,185.2 542.4,203.3 542.7,185.3 543.0,209.6 543.3,202.5 543.6,198.2 543.9,212.3 544.2,206.7 544.5,195.5 544.8,204.6 545.1,210.6 545.4,197.6 545.7,203.7 546.0,200.4 546.3,194.6 546.6,206.8 546.9,204.5 547.2,189.0 547.5,235.3 547.8,208.0 548.1,218.6 548.4,207.5 548.7,220.3 549.0,215.7 549.3,225.1 549.6,203.6 549.9,208.9 550.2,211.0 550.5,218.6 550.8,197.3 551.1,226.2 551.4,196.6 551.7,201.1 552.0,208.9 552.3,202.2 552.6,218.9 552.9,190.5 553.2,215.0 553.5,205.6 553.8,191.8 554.1,202.3 554.4,195.7 554.7,195.3 555.0,203.1 555.3,200.1 555.6,181.5 555.9,186.6 556.1,188.3 556.4,191.9 556.7,200.7 557.0,205.5 557.3,185.0 557.6,195.2 557.9,191.3 558.2,199.9 558.5,208.6 558.8,188.5 559.1,200.0 559.4,176.4 559.7,179.2 560.0,195.1 560.3,184.1 560.6,202.8 560.9,185.6 561.2,180.2 561.5,190.9 561.8,181.1 562.1,225.6 562.4,199.0 562.7,201.6 563.0,194.2 563.3,200.5 563.6,196.3 563.9,200.8 564.2,211.6 564.5,218.4 564.8,196.0 565.1,212.1 565.4,238.7 565.7,203.5 566.0,212.1 566.3,225.6 566.6,206.9 566.9,199.8 567.2,226.1 567.5,193.2 567.8,210.6 568.1,207.5 568.4,199.7 568.7,197.1 569.0,205.8 569.3,201.6 569.6,213.7 569.9,206.4 570.2,219.4 570.5,199.4 570.8,199.8 571.1,198.8 571.4,197.5 571.7,224.9 572.0,203.1 572.3,210.0 572.6,202.8 572.9,194.3 573.2,186.7 573.5,199.2 573.8,204.1 574.1,200.7 574.4,196.3 574.7,196.4 575.0,191.8 575.3,187.2 575.6,210.6 575.9,210.8 576.2,197.8 576.5,195.5 576.8,177.9 577.1,191.1 577.3,180.1 577.6,200.0 577.9,170.9 578.2,181.8 578.5,201.8 578.8,193.1 579.1,177.6 579.4,189.2 579.7,198.8 580.0,186.8 580.3,191.1 580.6,221.3 580.9,180.1 581.2,188.8 581.5,198.8 581.8,204.2 582.1,207.3 582.4,223.6 582.7,199.9 583.0,208.6 583.3,215.3 583.6,211.1 583.9,188.6 584.2,211.6 584.5,196.8 584.8,194.9 585.1,206.1 585.4,201.3 585.7,219.3 586.0,212.5 586.3,208.8 586.6,220.7 586.9,220.9 587.2,196.2 587.5,200.4 587.8,209.7 588.1,219.6 588.4,206.6 588.7,217.9 589.0,208.4 589.3,205.3 589.6,203.3 589.9,210.3 590.2,196.8 590.5,192.2 590.8,205.2 591.1,199.2 591.4,204.9 591.7,197.6 592.0,188.1 592.3,203.3 592.6,204.3 592.9,198.2 593.2,199.0 593.5,193.0 593.8,193.6 594.1,216.6 594.4,183.5 594.7,195.4 595.0,192.1 595.3,195.9 595.6,180.1 595.9,181.0 596.2,187.3 596.5,183.2 596.8,185.8 597.1,196.5 597.4,192.0 597.7,179.0 598.0,186.4 598.3,175.1 598.6,187.8 598.8,209.0 599.1,190.5 599.4,196.9 599.7,211.7 600.0,212.6 600.3,187.9 600.6,190.6 600.9,207.3 601.2,202.8 601.5,201.6 601.8,195.6 602.1,199.6 602.4,191.1 602.7,207.3 603.0,191.5 603.3,198.3 603.6,203.7 603.9,205.2 604.2,202.3 604.5,200.5 604.8,211.0 605.1,213.2 605.4,212.3 605.7,214.2 606.0,203.9 606.3,204.9 606.6,229.2 606.9,213.9 607.2,220.9 607.5,209.7 607.8,210.8 608.1,213.5 608.4,200.3 608.7,208.8 609.0,202.2 609.3,205.4 609.6,197.3 609.9,196.9 610.2,203.5 610.5,196.7 610.8,198.1 611.1,187.8 611.4,205.5 611.7,195.5 612.0,196.7 612.3,197.5 612.6,180.4 612.9,191.6 613.2,185.0 613.5,183.8 613.8,189.4 614.1,188.3 614.4,198.0 614.7,196.1 615.0,188.1 615.3,180.9 615.6,174.7 615.9,200.9 616.2,184.9 616.5,181.9 616.8,196.0 617.1,198.5 617.4,208.0 617.7,187.6 618.0,193.8 618.3,190.7 618.6,202.6 618.9,195.1 619.2,188.7 619.5,196.8 619.8,191.8 620.0,189.6 620.3,197.8 620.6,195.6 620.9,193.1 621.2,194.3 621.5,192.4 621.8,202.0 622.1,205.5 622.4,189.4 622.7,203.9 623.0,201.4 623.3,192.7 623.6,236.1 623.9,211.5 624.2,237.0 624.5,200.5 624.8,194.0 625.1,213.0 625.4,206.0 625.7,203.9 626.0,230.6 626.3,211.5 626.6,204.6 626.9,221.7 627.2,211.0 627.5,196.3 627.8,200.3 628.1,215.2 628.4,212.7 628.7,198.3 629.0,216.2 629.3,208.4 629.6,201.0 629.9,191.7 630.2,204.2 630.5,200.5 630.8,195.8 631.1,200.4 631.4,197.8 631.7,183.3 632.0,181.8 632.3,189.9 632.6,189.9 632.9,189.6 633.2,180.8 633.5,193.0 633.8,181.4 634.1,182.1 634.4,175.3 634.7,179.6 635.0,191.3 635.3,185.3 635.6,186.3 635.9,198.4 636.2,194.8 636.5,203.5 636.8,209.7 637.1,188.1 637.4,207.2 637.7,193.4 638.0,201.8 638.3,188.2 638.6,193.8 638.9,194.2 639.2,191.6 639.5,198.2 639.8,211.7 640.1,200.4 640.4,198.1 640.7,202.7 641.0,200.5 641.2,216.6 641.5,202.4 641.8,190.0 642.1,214.9 642.4,215.3 642.7,189.5 643.0,202.3 643.3,195.6 643.6,200.2 643.9,226.0 644.2,200.0 644.5,208.5 644.8,216.5 645.1,203.5 645.4,205.0 645.7,203.2 646.0,219.2 646.3,190.4 646.6,206.4 646.9,196.8 647.2,222.5 647.5,215.7 647.8,197.6 648.1,194.8 648.4,207.0 648.7,194.0 649.0,205.5 649.3,203.6 649.6,204.2 649.9,207.4 650.2,211.3 650.5,194.9 650.8,186.4 651.1,188.4 651.4,177.0 651.7,194.4 652.0,188.4 652.3,198.8 652.6,189.5 652.9,181.8 653.2,186.2 653.5,196.5 653.8,197.5 654.1,193.6 654.4,200.2 654.7,202.3 655.0,188.8 655.3,204.8 655.6,199.7 655.9,189.2 656.2,214.9 656.5,189.2 656.8,205.4 657.1,210.5 657.4,199.4 657.7,202.0 658.0,200.8 658.3,188.0 658.6,198.8 658.9,204.6 659.2,197.6 659.5,199.5 659.8,212.7 660.1,208.0 660.4,210.1 660.7,218.0 661.0,240.6 661.3,212.4 661.6,208.8 661.9,207.1 662.2,214.9 662.4,198.4 662.7,208.7 663.0,212.6 663.3,210.8 663.6,200.5 663.9,220.7 664.2,203.2 664.5,219.5 664.8,203.4 665.1,220.3 665.4,208.6 665.7,212.3 666.0,209.0 666.3,196.7 666.6,195.1 666.9,202.7 667.2,207.9 667.5,194.0 667.8,212.3 668.1,215.5 668.4,199.7 668.7,199.0 669.0,195.6 669.3,196.6 669.6,177.1 669.9,203.1 670.2,198.1 670.5,200.5 670.8,185.3 671.1,199.6 671.4,203.5 671.7,192.2 672.0,195.6 672.3,186.4 672.6,213.4 672.9,181.1 673.2,186.1 673.5,192.5 673.8,196.0 674.1,187.2 674.4,194.0 674.7,188.9 675.0,179.7 675.3,193.1 675.6,185.8 675.9,190.2 676.2,201.7 676.5,186.6 676.8,191.3 677.1,207.8 677.4,196.1 677.7,186.1 678.0,192.8 678.3,194.8 678.6,205.9 678.9,202.8 679.2,199.5 679.5,211.1 679.8,224.5 680.1,193.5 680.4,212.8 680.7,194.9 681.0,209.5 681.3,217.4 681.6,220.9 681.9,201.8 682.2,213.9 682.5,226.0 682.8,207.5 683.1,210.2 683.4,215.5 683.6,215.3 683.9,214.5 684.2,207.1 684.5,211.2 684.8,217.5 685.1,196.9 685.4,193.7 685.7,204.9 686.0,202.5 686.3,193.9 686.6,207.5 686.9,197.3 687.2,189.9 687.5,201.1 687.8,222.3 688.1,210.0 688.4,203.6 688.7,196.1 689.0,214.5 689.3,210.7 689.6,190.0 689.9,187.4 690.2,193.5 690.5,182.2 690.8,181.8 691.1,181.7 691.4,202.2 691.7,174.5 692.0,203.0 692.3,191.3 692.6,217.3 692.9,187.1 693.2,192.5 693.5,185.9 693.8,194.5 694.1,205.8 694.4,194.3 694.7,210.3 695.0,180.1 695.3,215.4 695.6,191.2 695.9,208.8 696.2,205.6 696.5,204.4 696.8,193.3 697.1,200.2 697.4,200.0 697.7,217.1 698.0,195.8 698.3,205.8 698.6,208.4 698.9,193.8 699.2,198.1 699.5,205.8 699.8,200.7 700.1,220.2 700.4,209.9 700.7,207.6 701.0,213.7 701.3,217.1 701.6,212.5 701.9,223.0 702.2,211.0 702.5,200.3 702.8,203.9 703.1,205.3 703.4,212.3 703.7,191.3 704.0,204.6 704.3,215.5 704.6,188.3 704.8,188.0 705.1,201.5 705.4,196.2 705.7,197.0 706.0,198.4 706.3,192.5 706.6,204.7 706.9,203.8 707.2,206.8 707.5,192.6 707.8,195.4 708.1,195.4 708.4,185.9 708.7,198.0 709.0,193.9 709.3,187.6 709.6,176.9 709.9,176.2 710.2,183.5 710.5,187.4 710.8,182.3 711.1,181.4 711.4,179.9 711.7,188.9 712.0,204.8 712.3,184.3 712.6,195.1 712.9,191.5 713.2,199.4 713.5,191.2 713.8,208.2 714.1,197.3 714.4,189.5 714.7,198.2 715.0,199.8 715.3,187.6 715.6,181.2 715.9,200.5 716.2,202.2 716.5,210.5 716.8,198.5 717.1,194.2 717.4,200.2 717.7,207.7 718.0,199.8 718.3,204.7 718.6,209.0 718.9,217.1 719.2,203.7 719.5,207.7 719.8,198.7 720.1,215.7 720.4,209.3 720.7,207.2 721.0,215.1 721.3,212.4 721.6,211.2 721.9,204.7 722.2,195.0 722.5,202.2 722.8,221.8 723.1,213.9 723.4,204.7 723.7,197.7 724.0,200.9 724.3,196.8 724.6,208.5 724.9,182.7 725.2,202.3 725.5,215.5 725.8,197.9 726.0,184.1 726.3,206.0 726.6,191.0 726.9,191.4 727.2,182.7 727.5,190.9 727.8,185.9 728.1,189.6 728.4,187.4 728.7,199.6 729.0,201.2 729.3,187.2 729.6,188.5 729.9,186.4 730.2,177.3 730.5,201.2 730.8,188.8 731.1,180.2 731.4,203.0 731.7,200.1 732.0,213.0 732.3,187.1 732.6,189.3 732.9,210.3 733.2,185.6 733.5,199.8 733.8,199.2 734.1,192.8 734.4,191.2 734.7,208.1 735.0,196.9 735.3,200.7 735.6,189.7 735.9,208.7 736.2,191.3 736.5,223.7 736.8,198.6 737.1,192.7 737.4,199.6 737.7,195.7 738.0,198.5 738.3,223.2 738.6,214.2 738.9,199.6 739.2,207.4 739.5,211.6 739.8,200.1 740.1,206.3 740.4,221.6 740.7,208.1 741.0,211.9 741.3,217.4 741.6,208.8 741.9,210.1 742.2,205.4 742.5,205.2 742.8,206.9 743.1,207.4 743.4,202.2 743.7,203.0 744.0,200.8 744.3,200.4 744.6,207.6 744.9,196.8 745.2,208.9 745.5,192.5 745.8,183.6 746.1,196.4 746.4,194.1 746.7,178.3 747.0,194.1 747.2,203.7 747.5,188.4 747.8,200.1 748.1,184.7 748.4,202.4 748.7,187.7 749.0,185.5 749.3,178.2 749.6,184.4 749.9,200.3 750.2,187.5 750.5,189.3 750.8,179.3 751.1,195.4 751.4,194.6 751.7,189.5 752.0,196.0 752.3,205.1 752.6,202.5 752.9,195.0 753.2,197.1 753.5,207.2 753.8,200.5 754.1,198.6 754.4,225.6 754.7,217.7 755.0,226.3 755.3,221.9 755.6,201.2 755.9,202.7 756.2,226.2 756.5,199.7 756.8,198.4 757.1,206.7 757.4,204.5 757.7,205.1 758.0,215.0 758.3,198.6 758.6,219.8 758.9,215.3 759.2,239.1 759.5,203.8 759.8,215.3 760.1,196.0 760.4,195.9 760.7,235.4 761.0,207.8 761.3,205.6 761.6,208.8 761.9,213.4 762.2,206.4 762.5,202.2 762.8,202.3 763.1,203.6 763.4,197.1 763.7,201.9 764.0,188.3 764.3,205.8 764.6,197.9 764.9,192.7 765.2,191.2 765.5,184.3 765.8,199.6 766.1,186.0 766.4,193.3 766.7,214.0 767.0,184.6 767.3,204.2 767.6,194.6 767.9,185.1 768.2,193.7 768.5,196.6 768.7,184.2 769.0,181.3 769.3,195.7 769.6,193.9 769.9,188.2 770.2,191.7 770.5,195.3 770.8,180.4 771.1,197.2 771.4,204.0 771.7,199.6 772.0,193.7 772.3,204.3 772.6,207.7 772.9,215.8 773.2,185.0 773.5,196.0 773.8,213.3 774.1,198.0 774.4,199.3 774.7,194.5 775.0,213.8 775.3,196.0 775.6,199.4 775.9,218.5 776.2,205.8 776.5,206.2 776.8,206.2 777.1,236.4 777.4,208.3 777.7,214.6 778.0,205.3 778.3,209.4 778.6,215.8 778.9,219.4 779.2,211.3 779.5,205.8 779.8,207.9 780.1,221.5 780.4,194.2 780.7,198.4 781.0,203.8 781.3,201.9 781.6,198.3 781.9,200.1 782.2,203.1 782.5,191.9 782.8,201.2 783.1,201.7 783.4,197.9 783.7,198.4 784.0,195.3 784.3,174.7 784.6,199.9 784.9,190.7 785.2,186.9 785.5,208.5 785.8,194.6 786.1,207.7 786.4,197.4 786.7,205.8 787.0,187.6 787.3,194.0 787.6,179.8 787.9,191.2 788.2,192.8 788.5,195.6 788.8,198.7 789.1,183.6 789.4,206.3 789.7,183.9 789.9,195.6 790.2,207.6 790.5,194.5 790.8,202.1 791.1,203.2 791.4,188.0 791.7,193.3 792.0,227.1 792.3,201.8 792.6,202.6 792.9,205.9 793.2,190.6 793.5,211.5 793.8,212.0 794.1,203.3 794.4,196.6 794.7,221.3 795.0,208.6 795.3,210.3 795.6,203.2 795.9,193.2 796.2,203.2 796.5,214.8 796.8,218.9 797.1,239.9 797.4,210.7 797.7,203.5 798.0,204.2 798.3,214.1 798.6,196.5 798.9,219.3 799.2,198.3 799.5,201.9 799.8,210.7 800.1,196.3 800.4,214.9 800.7,211.8 801.0,199.3 801.3,187.7 801.6,193.6 801.9,206.1 802.2,186.8 802.5,181.4 802.8,195.2 803.1,196.0 803.4,206.4 803.7,206.0 804.0,209.8 804.3,203.9 804.6,210.8 804.9,195.3 805.2,199.0 805.5,194.8 805.8,186.8 806.1,200.4 806.4,195.9 806.7,187.1 807.0,171.7 807.3,182.6 807.6,214.3 807.9,185.5 808.2,187.6 808.5,195.2 808.8,202.0 809.1,191.2 809.4,181.1 809.7,187.8 810.0,199.3 810.3,200.1 810.6,193.2 810.9,194.6 811.1,188.4 811.4,199.7 811.7,202.8 812.0,207.2 812.3,205.7 812.6,209.6 812.9,211.6 813.2,223.5 813.5,211.4 813.8,202.0 814.1,197.6 814.4,208.2 814.7,194.9 815.0,197.5 815.3,235.2 815.6,208.9 815.9,210.0 816.2,206.7 816.5,201.9 816.8,214.2 817.1,201.5 817.4,231.0 817.7,202.9 818.0,220.2 818.3,219.6 818.6,198.5 818.9,211.8 819.2,199.1 819.5,204.3 819.8,200.4 820.1,205.6 820.4,221.1 820.7,190.6 821.0,189.8 821.3,198.0 821.6,199.2 821.9,204.8 822.2,206.4 822.5,206.0 822.8,209.9 823.1,195.8 823.4,184.1 823.7,197.3 824.0,188.4 824.3,187.2 824.6,198.1 824.9,184.3 825.2,189.8 825.5,177.1 825.8,177.3 826.1,190.8 826.4,191.5 826.7,177.0 827.0,200.2 827.3,177.4 827.6,182.1 827.9,197.2 828.2,194.5 828.5,187.2 828.8,207.0 829.1,205.9 829.4,189.4 829.7,194.5 830.0,194.6 830.3,180.7 830.6,197.5 830.9,204.5 831.2,192.8 831.5,196.7 831.8,207.0 832.1,213.0 832.3,200.2 832.6,208.7 832.9,213.5 833.2,212.7 833.5,196.5 833.8,209.4 834.1,206.5 834.4,225.3 834.7,224.3 835.0,232.0 835.3,210.7 835.6,217.2 835.9,237.0 836.2,193.3 836.5,208.1 836.8,215.7 837.1,199.0 837.4,202.8 837.7,202.5 838.0,193.4 838.3,206.0 838.6,197.1 838.9,211.6 839.2,213.6 839.5,211.9 839.8,198.0 840.1,199.4 840.4,203.8 840.7,194.6 841.0,188.5 841.3,211.8 841.6,190.6 841.9,187.5 842.2,191.4 842.5,189.0 842.8,195.5 843.1,204.7 843.4,182.5 843.7,198.4 844.0,184.9 844.3,177.9 844.6,179.6 844.9,185.7 845.2,186.4 845.5,180.2 845.8,179.6 846.1,200.9 846.4,207.4 846.7,193.2 847.0,191.9 847.3,197.0 847.6,197.3 847.9,202.6 848.2,197.3 848.5,217.6 848.8,196.3 849.1,193.7 849.4,197.4 849.7,213.0 850.0,207.4 850.3,201.6 850.6,205.6 850.9,203.0 851.2,203.6 851.5,218.7 851.8,205.9 852.1,194.8 852.4,216.5 852.7,221.8 853.0,213.4 853.3,216.2 853.5,211.3 853.8,215.5 854.1,214.3 854.4,227.6 854.7,216.9 855.0,221.0 855.3,218.8 855.6,219.7 855.9,243.6 856.2,247.6 856.5,243.7 856.8,227.9 857.1,239.1 857.4,262.3 857.7,248.6 858.0,266.9 858.3,230.3 858.6,242.0 858.9,262.0 859.2,243.9 859.5,227.5 859.8,243.9 860.1,265.3 860.4,252.5 860.7,242.0 861.0,233.9 861.3,241.7 861.6,243.2 861.9,262.2 862.2,242.8 862.5,236.1 862.8,259.5 863.1,259.8 863.4,260.4 863.7,246.6 864.0,252.2 864.3,235.6 864.6,238.4 864.9,244.2 865.2,247.2 865.5,270.0 865.8,253.2 866.1,250.5 866.4,236.4 866.7,250.2 867.0,240.1 867.3,246.2 867.6,244.2 867.9,255.0 868.2,268.9 868.5,242.6 868.8,240.4 869.1,276.7 869.4,256.0 869.7,251.4 870.0,243.8 870.3,266.4 870.6,233.2 870.9,252.5 871.2,245.9 871.5,250.6 871.8,237.9 872.1,236.9 872.4,229.3 872.7,238.4 873.0,226.0 873.3,218.7 873.6,204.0 873.9,209.1 874.2,211.6 874.5,196.1 874.7,208.4 875.0,194.7 875.3,203.1 875.6,209.4 875.9,206.8 876.2,200.0 876.5,221.7 876.8,201.5 877.1,227.8 877.4,229.5 877.7,192.4 878.0,200.3 878.3,193.0 878.6,195.1 878.9,187.2 879.2,198.3 879.5,200.8 879.8,197.9 880.1,219.4 880.4,187.4 880.7,217.0 881.0,188.5 881.3,185.6 881.6,203.9 881.9,202.0 882.2,204.1 882.5,198.5 882.8,191.1 883.1,194.2 883.4,192.8 883.7,198.3 884.0,176.1 884.3,189.9 884.6,197.4 884.9,203.4 885.2,188.2 885.5,192.9 885.8,187.0 886.1,195.0 886.4,189.7 886.7,202.8 887.0,218.8 887.3,203.8 887.6,209.5 887.9,209.7 888.2,194.4 888.5,197.2 888.8,200.9 889.1,207.2 889.4,198.4 889.7,205.7 890.0,203.1 890.3,199.2 890.6,209.1 890.9,211.1 891.2,199.0 891.5,212.3 891.8,209.9 892.1,201.3 892.4,212.8 892.7,216.3 893.0,198.0 893.3,204.9 893.6,219.6 893.9,208.1 894.2,213.0 894.5,208.9 894.8,195.4 895.1,225.4 895.4,223.5 895.7,199.4 895.9,209.3 896.2,210.3 896.5,217.8 896.8,190.2 897.1,190.6 897.4,201.3 897.7,205.0 898.0,192.6 898.3,189.3 898.6,193.7 898.9,196.5 899.2,207.1 899.5,192.6 899.8,178.1 900.1,201.9 900.4,209.8 900.7,192.6 901.0,181.8 901.3,180.5 901.6,193.7 901.9,193.2 902.2,175.9 902.5,186.5 902.8,182.0 903.1,190.8 903.4,184.4 903.7,190.3 904.0,181.6 904.3,201.2 904.6,207.0 904.9,189.8 905.2,219.7 905.5,191.6 905.8,187.5 906.1,193.0 906.4,196.5 906.7,193.2 907.0,198.1 907.3,216.5 907.6,201.7 907.9,210.8 908.2,190.8 908.5,196.9 908.8,205.1 909.1,201.6 909.4,207.9 909.7,195.1 910.0,214.9 910.3,193.0 910.6,199.2 910.9,219.4 911.2,213.6 911.5,208.2 911.8,206.8 912.1,202.0 912.4,213.8 912.7,217.9 913.0,208.4 913.3,216.0 913.6,210.8 913.9,218.0 914.2,188.8 914.5,198.8 914.8,204.5 915.1,197.1 915.4,202.4 915.7,207.8 916.0,196.3 916.3,213.4 916.6,206.9 916.9,190.8 917.1,196.5 917.4,190.4 917.7,193.5 918.0,209.6 918.3,199.0 918.6,185.6 918.9,194.4 919.2,185.8 919.5,191.3 919.8,203.6 920.1,182.9 920.4,192.5 920.7,176.9 921.0,189.5 921.3,192.9 921.6,192.0 921.9,186.3 922.2,212.3 922.5,194.2 922.8,219.6 923.1,184.2 923.4,192.1 923.7,185.9 924.0,181.5 924.3,201.2 924.6,187.8 924.9,205.1 925.2,223.7 925.5,193.7 925.8,206.8 926.1,185.8 926.4,194.3 926.7,226.3 927.0,201.6 927.3,208.5 927.6,196.7 927.9,206.2 928.2,194.9 928.5,200.0 928.8,189.9 929.1,202.8 929.4,213.7 929.7,209.0 930.0,217.0 930.3,221.6 930.6,208.8 930.9,206.8 931.2,213.7 931.5,209.5 931.8,219.5 932.1,215.0 932.4,212.4 932.7,229.8 933.0,212.0 933.3,217.5 933.6,208.9 933.9,230.7 934.2,200.0 934.5,192.9 934.8,203.5 935.1,197.5 935.4,200.0 935.7,193.7 936.0,198.8 936.3,216.1 936.6,184.5 936.9,215.6 937.2,191.2 937.5,188.7 937.8,209.4 938.1,198.3 938.3,196.4 938.6,191.6 938.9,185.1 939.2,205.6 939.5,192.2 939.8,182.1 940.1,180.7 940.4,179.4 940.7,182.0 941.0,191.7 941.3,201.3 941.6,181.9 941.9,193.0 942.2,186.2 942.5,203.6 942.8,213.4 943.1,191.2 943.4,183.3 943.7,201.5 944.0,211.4 944.3,193.5 944.6,195.0 944.9,204.4 945.2,216.6 945.5,189.0 945.8,205.6 946.1,191.1 946.4,220.0 946.7,201.3 947.0,212.8 947.3,207.7 947.6,201.9 947.9,209.6 948.2,201.4 948.5,206.0 948.8,216.3 949.1,224.3 949.4,220.5 949.7,204.3 950.0,223.7 950.3,237.3 950.6,204.1 950.9,201.5 951.2,222.6 951.5,203.0 951.8,214.2 952.1,219.1 952.4,201.7 952.7,216.5 953.0,199.4 953.3,204.9 953.6,216.6 953.9,194.5 954.2,209.0 954.5,204.1 954.8,195.2 955.1,189.9 955.4,203.8 955.7,197.9 956.0,206.9 956.3,214.6 956.6,192.6 956.9,189.7 957.2,184.0 957.5,195.0 957.8,178.1 958.1,201.0 958.4,197.7 958.7,187.9 959.0,211.7 959.3,184.5 959.6,188.9 959.8,187.8 960.1,206.7 960.4,193.4 960.7,187.0 961.0,186.5 961.3,191.5 961.6,187.1 961.9,178.3 962.2,196.1 962.5,208.8 962.8,180.4 963.1,205.6 963.4,187.9 963.7,194.7 964.0,207.7 964.3,193.4 964.6,186.5 964.9,229.4 965.2,199.3 965.5,201.9 965.8,191.8 966.1,198.0 966.4,217.7 966.7,233.9 967.0,202.5 967.3,200.7 967.6,212.1 967.9,210.5 968.2,220.7 968.5,204.5 968.8,210.7 969.1,205.7 969.4,213.9 969.7,218.5 970.0,215.8 970.3,195.0 970.6,198.2 970.9,199.1 971.2,196.6 971.5,207.4 971.8,205.0 972.1,219.4 972.4,197.8 972.7,193.3 973.0,205.5 973.3,187.7 973.6,210.2 973.9,200.7 974.2,197.4 974.5,189.2 974.8,187.4 975.1,204.2 975.4,188.3 975.7,175.1 976.0,199.7 976.3,187.0 976.6,194.6 976.9,184.9 977.2,193.8 977.5,183.3 977.8,197.2 978.1,187.1 978.4,182.8 978.7,187.0 979.0,193.9 979.3,176.8 979.6,193.1 979.9,181.8 980.2,193.4 980.5,188.0 980.8,189.8 981.0,196.4 981.3,193.7 981.6,208.4 981.9,197.7 982.2,197.4 982.5,196.7 982.8,205.8 983.1,205.3 983.4,223.0 983.7,192.0 984.0,207.3 984.3,212.4 984.6,230.9 984.9,209.4 985.2,196.6 985.5,192.4 985.8,231.6 986.1,194.3 986.4,213.1 986.7,219.0 987.0,209.0 987.3,210.8 987.6,202.9 987.9,212.7 988.2,213.7 988.5,210.5 988.8,205.4 989.1,199.4 989.4,207.7 989.7,202.7 990.0,199.5 990.3,200.8 990.6,204.3 990.9,212.4 991.2,208.8 991.5,210.1 991.8,190.6 992.1,220.1 992.4,192.4 992.7,191.1 993.0,195.5 993.3,203.3 993.6,197.1 993.9,193.3 994.2,195.5 994.5,214.2 994.8,202.6 995.1,196.4 995.4,201.9 995.7,189.9 996.0,191.4 996.3,178.1 996.6,193.8 996.9,191.1 997.2,176.9 997.5,181.0 997.8,197.1 998.1,182.1 998.4,197.3 998.7,185.7 999.0,173.9 999.3,193.0 999.6,184.2 999.9,187.4 1000.2,181.8 1000.5,198.4 1000.8,193.7 1001.1,189.9 1001.4,198.7 1001.7,201.9 1002.0,194.9 1002.2,191.9 1002.5,194.3 1002.8,207.4 1003.1,198.4 1003.4,200.2 1003.7,192.0 1004.0,209.2 1004.3,206.5 1004.6,192.3 1004.9,207.5 1005.2,214.5 1005.5,210.3 1005.8,211.6 1006.1,212.5 1006.4,197.5 1006.7,216.0 1007.0,225.8 1007.3,201.3 1007.6,208.5 1007.9,205.3 1008.2,206.9 1008.5,204.1 1008.8,202.0 1009.1,204.3 1009.4,222.0 1009.7,204.4 1010.0,213.4 1010.3,201.0 1010.6,202.1 1010.9,191.6 1011.2,209.7 1011.5,209.9 1011.8,209.6 1012.1,194.5 1012.4,208.8 1012.7,207.4 1013.0,191.2 1013.3,208.1 1013.6,212.3 1013.9,204.4 1014.2,192.9 1014.5,207.4 1014.8,192.2 1015.1,198.5 1015.4,183.9 1015.7,192.0 1016.0,176.4 1016.3,189.7 1016.6,195.8 1016.9,186.7 1017.2,190.0 1017.5,193.8 1017.8,173.2 1018.1,180.5 1018.4,182.9 1018.7,183.5 1019.0,201.7 1019.3,198.3 1019.6,206.0 1019.9,186.3 1020.2,182.4 1020.5,199.7 1020.8,197.6 1021.1,201.3 1021.4,195.5 1021.7,197.9 1022.0,197.3 1022.3,196.5 1022.6,200.2 1022.9,204.3 1023.2,193.2 1023.4,200.1 1023.7,211.7 1024.0,194.5 1024.3,206.5 1024.6,199.6 1024.9,207.9 1025.2,195.6 1025.5,196.4 1025.8,209.3 1026.1,211.6 1026.4,213.7 1026.7,206.2 1027.0,205.0 1027.3,230.8 1027.6,217.2 1027.9,197.0 1028.2,205.0 1028.5,229.3 1028.8,204.9 1029.1,211.6 1029.4,207.4 1029.7,212.5 1030.0,205.8 1030.3,212.4 1030.6,205.4 1030.9,208.2 1031.2,192.3 1031.5,201.6 1031.8,195.8 1032.1,203.0 1032.4,190.2 1032.7,193.8 1033.0,199.2 1033.3,185.7 1033.6,195.0 1033.9,175.9 1034.2,189.7 1034.5,189.6 1034.8,188.7 1035.1,179.5 1035.4,186.9 1035.7,191.8 1036.0,199.2 1036.3,175.2 1036.6,178.8 1036.9,177.9 1037.2,190.7 1037.5,202.2 1037.8,189.2 1038.1,201.4 1038.4,197.6 1038.7,184.4 1039.0,199.6 1039.3,208.1 1039.6,195.4 1039.9,216.3 1040.2,193.3 1040.5,207.9 1040.8,189.0 1041.1,214.9 1041.4,213.5 1041.7,205.8 1042.0,215.5 1042.3,204.4 1042.6,199.5 1042.9,206.7 1043.2,201.5 1043.5,204.6 1043.8,207.2 1044.1,216.9 1044.4,211.0 1044.6,201.5 1044.9,202.7 1045.2,205.8 1045.5,219.4 1045.8,201.0 1046.1,216.9 1046.4,208.9 1046.7,195.8 1047.0,229.8 1047.3,206.6 1047.6,199.8 1047.9,208.4 1048.2,225.6 1048.5,196.8 1048.8,193.7 1049.1,190.7 1049.4,212.6 1049.7,218.3 1050.0,197.6 1050.3,185.0 1050.6,200.6 1050.9,189.8 1051.2,202.8 1051.5,191.5 1051.8,189.3 1052.1,198.4 1052.4,181.0 1052.7,194.4 1053.0,179.0 1053.3,198.1 1053.6,204.0 1053.9,212.0 1054.2,181.0 1054.5,186.8 1054.8,191.7 1055.1,194.2 1055.4,192.7 1055.7,178.6 1056.0,184.8 1056.3,218.8 1056.6,205.8 1056.9,209.5 1057.2,189.8 1057.5,192.2 1057.8,186.7 1058.1,199.1 1058.4,199.0 1058.7,202.4 1059.0,191.2 1059.3,210.2 1059.6,204.2 1059.9,223.3 1060.2,193.8 1060.5,216.1 1060.8,206.7 1061.1,203.0 1061.4,207.1 1061.7,232.4 1062.0,200.3 1062.3,199.2 1062.6,205.1 1062.9,210.9 1063.2,208.4 1063.5,192.8 1063.8,217.3 1064.1,219.8 1064.4,203.8 1064.7,198.0 1065.0,202.1 1065.3,209.7 1065.6,195.8 1065.8,213.4 1066.1,202.6 1066.4,227.9 1066.7,199.0 1067.0,205.6 1067.3,194.3 1067.6,232.4 1067.9,241.6 1068.2,202.8 1068.5,203.4 1068.8,198.6 1069.1,202.9 1069.4,192.9 1069.7,211.4 1070.0,193.7 1070.3,187.9 1070.6,206.5 1070.9,181.0 1071.2,195.2 1071.5,200.6 1071.8,188.5 1072.1,188.1 1072.4,188.9 1072.7,210.6 1073.0,183.4 1073.3,182.8 1073.6,196.6 1073.9,174.9 1074.2,188.1 1074.5,184.8 1074.8,205.5 1075.1,185.3 1075.4,202.2 1075.7,208.0 1076.0,190.5 1076.3,182.0 1076.6,199.6 1076.9,204.4 1077.2,185.4 1077.5,187.4 1077.8,196.3 1078.1,194.1 1078.4,207.7 1078.7,211.7 1079.0,213.8 1079.3,202.9 1079.6,194.2 1079.9,204.3 1080.2,201.9 1080.5,197.2 1080.8,230.1 1081.1,196.8 1081.4,202.3 1081.7,216.4 1082.0,208.8 1082.3,223.9 1082.6,203.4 1082.9,208.8 1083.2,211.6 1083.5,223.7 1083.8,207.7 1084.1,206.3 1084.4,204.5 1084.7,226.1 1085.0,211.3 1085.3,211.8 1085.6,199.7 1085.9,199.7 1086.2,201.4 1086.5,197.3 1086.8,203.1 1087.0,186.1 1087.3,204.4 1087.6,201.8 1087.9,212.7 1088.2,197.4 1088.5,196.9 1088.8,189.4 1089.1,194.5 1089.4,209.5 1089.7,195.8 1090.0,194.8 1090.3,189.3 1090.6,193.0 1090.9,197.6 1091.2,191.3 1091.5,190.2 1091.8,201.1 1092.1,197.9 1092.4,188.5 1092.7,180.5 1093.0,186.3 1093.3,187.4 1093.6,184.0 1093.9,188.1 1094.2,206.3 1094.5,194.9 1094.8,181.6 1095.1,190.5 1095.4,203.4 1095.7,191.8 1096.0,195.0 1096.3,179.3 1096.6,204.2 1096.9,191.1 1097.2,187.6 1097.5,192.3 1097.8,209.2 1098.1,197.8 1098.4,207.6 1098.7,204.2 1099.0,196.0 1099.3,219.7 1099.6,195.4 1099.9,191.6 1100.2,198.1 1100.5,207.9 1100.8,193.1 1101.1,203.4 1101.4,226.8 1101.7,217.2 1102.0,206.2 1102.3,208.4 1102.6,205.8 1102.9,207.1 1103.2,217.7 1103.5,213.4 1103.8,206.0 1104.1,194.4 1104.4,199.3 1104.7,196.4 1105.0,200.2 1105.3,206.4 1105.6,209.3 1105.9,217.1 1106.2,203.2 1106.5,199.3 1106.8,207.2 1107.1,219.4 1107.4,224.2 1107.7,221.4 1108.0,187.2 1108.2,185.5 1108.5,189.3 1108.8,191.0 1109.1,191.0 1109.4,208.9 1109.7,177.6 1110.0,193.3 1110.3,191.1 1110.6,195.5 1110.9,206.6 1111.2,187.5 1111.5,181.0 1111.8,184.4 1112.1,202.3 1112.4,174.8 1112.7,178.9 1113.0,203.7 1113.3,193.0 1113.6,175.7 1113.9,194.1 1114.2,194.7 1114.5,191.4 1114.8,189.7 1115.1,194.7 1115.4,187.1 1115.7,197.7 1116.0,201.6 1116.3,217.7 1116.6,195.2 1116.9,183.2 1117.2,194.3 1117.5,190.4 1117.8,197.7 1118.1,198.8 1118.4,228.4 1118.7,208.0 1119.0,206.2 1119.3,198.2 1119.6,207.0 1119.9,225.1 1120.2,228.6 1120.5,210.1 1120.8,207.4 1121.1,193.5 1121.4,222.5 1121.7,216.6 1122.0,216.8 1122.3,197.9 1122.6,212.6 1122.9,210.7 1123.2,203.9 1123.5,198.8 1123.8,206.1 1124.1,200.8 1124.4,226.3 1124.7,195.8 1125.0,197.5 1125.3,185.3 1125.6,202.6 1125.9,191.0 1126.2,193.2 1126.5,200.2 1126.8,221.8 1127.1,190.8 1127.4,197.5 1127.7,184.8 1128.0,195.4 1128.3,211.9 1128.6,193.7 1128.9,192.9 1129.2,189.1 1129.4,186.6 1129.7,191.6 1130.0,210.8 1130.3,203.7 1130.6,188.9 1130.9,187.9 1131.2,179.1 1131.5,185.7 1131.8,179.6 1132.1,186.2 1132.4,192.8 1132.7,176.6 1133.0,191.3 1133.3,192.2 1133.6,190.6 1133.9,185.1 1134.2,196.1 1134.5,192.4 1134.8,201.2 1135.1,192.2 1135.4,225.5 1135.7,203.9 1136.0,203.2 1136.3,200.7 1136.6,203.8 1136.9,192.6 1137.2,195.3 1137.5,211.9 1137.8,200.7 1138.1,192.4 1138.4,209.9 1138.7,207.9 1139.0,201.2 1139.3,221.7 1139.6,208.0 1139.9,198.0 1140.2,195.6 1140.5,218.7 1140.8,200.8 1141.1,223.2 1141.4,195.7 1141.7,204.6 1142.0,209.5 1142.3,210.6 1142.6,202.0 1142.9,194.5 1143.2,199.9 1143.5,195.4 1143.8,195.6 1144.1,195.4 1144.4,187.2 1144.7,192.4 1145.0,199.3 1145.3,196.3 1145.6,214.1 1145.9,216.0 1146.2,200.3 1146.5,196.4 1146.8,198.8 1147.1,196.7 1147.4,186.0 1147.7,190.9 1148.0,212.6 1148.3,185.8 1148.6,185.3 1148.9,190.2 1149.2,187.6 1149.5,193.9 1149.8,184.4 1150.1,192.1 1150.4,187.6 1150.7,178.8 1150.9,185.8 1151.2,187.0 1151.5,177.2 1151.8,162.3 1152.1,181.5 1152.4,188.1 1152.7,195.9 1153.0,195.8 1153.3,187.9 1153.6,181.0 1153.9,202.7 1154.2,206.8 1154.5,185.1 1154.8,189.7 1155.1,195.1 1155.4,213.8 1155.7,190.2 1156.0,215.7 1156.3,193.1 1156.6,203.0 1156.9,201.3 1157.2,206.0 1157.5,211.4 1157.8,207.7 1158.1,200.0 1158.4,230.3 1158.7,221.4 1159.0,201.2 1159.3,205.3 1159.6,195.2 1159.9,222.1 1160.2,219.7 1160.5,209.9 1160.8,207.7 1161.1,205.6 1161.4,205.1 1161.7,200.6 1162.0,226.9 1162.3,203.0 1162.6,209.1 1162.9,209.3 1163.2,190.3 1163.5,204.8 1163.8,191.7 1164.1,182.8 1164.4,202.6 1164.7,198.8 1165.0,198.8 1165.3,196.1 1165.6,185.6 1165.9,188.8 1166.2,193.9 1166.5,193.9 1166.8,202.0 1167.1,189.8 1167.4,205.0 1167.7,198.8 1168.0,189.7 1168.3,196.9 1168.6,204.8 1168.9,189.5 1169.2,198.0 1169.5,182.4 1169.8,184.5 1170.1,200.9 1170.4,184.5 1170.7,182.9 1171.0,187.6 1171.3,191.8 1171.6,194.8 1171.9,177.8 1172.1,190.8 1172.4,192.5 1172.7,196.3 1173.0,206.6 1173.3,200.0 1173.6,191.2 1173.9,193.9 1174.2,194.8 1174.5,197.1 1174.8,207.7 1175.1,199.2 1175.4,192.9 1175.7,201.5 1176.0,231.6 1176.3,210.3 1176.6,226.0 1176.9,213.4 1177.2,189.7 1177.5,209.8 1177.8,215.2 1178.1,226.1 1178.4,210.4 1178.7,199.1 1179.0,218.0 1179.3,206.7 1179.6,207.8 1179.9,214.6 1180.2,202.3 1180.5,211.3 1180.8,214.1 1181.1,212.5 1181.4,203.0 1181.7,190.6 1182.0,196.0 1182.3,209.9 1182.6,201.7 1182.9,209.8 1183.2,210.0 1183.5,222.0 1183.8,196.1 1184.1,203.9 1184.4,199.6 1184.7,193.8 1185.0,211.8 1185.3,208.0 1185.6,190.9 1185.9,204.9 1186.2,203.3 1186.5,185.0 1186.8,192.4 1187.1,181.4 1187.4,177.5 1187.7,178.7 1188.0,204.7 1188.3,186.3 1188.6,179.9 1188.9,183.4 1189.2,191.0 1189.5,199.2 1189.8,183.3 1190.1,205.6 1190.4,209.5 1190.7,200.4 1191.0,191.8 1191.3,182.6 1191.6,196.2 1191.9,186.8 1192.2,204.9 1192.5,200.2 1192.8,200.2 1193.1,204.2 1193.3,189.1 1193.6,215.2 1193.9,190.8 1194.2,198.0 1194.5,195.5 1194.8,209.7 1195.1,197.3 1195.4,224.0 1195.7,205.4 1196.0,202.2 1196.3,212.9 1196.6,222.1 1196.9,216.2 1197.2,211.2 1197.5,213.2 1197.8,235.3 1198.1,205.0 1198.4,225.5 1198.7,208.0 1199.0,217.0 1199.3,228.4 1199.6,201.4 1199.9,209.5 1200.2,203.3 1200.5,202.3 1200.8,202.6 1201.1,212.1 1201.4,199.9 1201.7,195.6 1202.0,209.1 1202.3,212.8 1202.6,206.7 1202.9,191.6 1203.2,200.1 1203.5,187.5 1203.8,201.7 1204.1,196.8 1204.4,184.9 1204.7,182.9 1205.0,188.7 1205.3,205.9 1205.6,193.0 1205.9,192.9 1206.2,202.6 1206.5,181.3 1206.8,186.7 1207.1,198.3 1207.4,201.0 1207.7,186.0 1208.0,207.1 1208.3,180.3 1208.6,193.1 1208.9,203.2 1209.2,185.5 1209.5,199.7 1209.8,192.9 1210.1,191.0 1210.4,203.1 1210.7,190.5 1211.0,184.6 1211.3,187.1 1211.6,196.8 1211.9,190.5 1212.2,209.1 1212.5,200.0 1212.8,190.5 1213.1,210.8 1213.4,199.0 1213.7,194.7 1214.0,201.1 1214.3,189.9 1214.5,207.4 1214.8,209.6 1215.1,220.9 1215.4,203.9 1215.7,205.5 1216.0,215.6 1216.3,204.8 1216.6,197.0 1216.9,214.7 1217.2,200.2 1217.5,205.2 1217.8,212.0 1218.1,237.6 1218.4,210.2 1218.7,216.1 1219.0,204.7 1219.3,211.9 1219.6,207.9 1219.9,212.5 1220.2,210.0 1220.5,200.2 1220.8,224.5 1221.1,193.1 1221.4,196.5 1221.7,223.7 1222.0,197.4 1222.3,202.9 1222.6,204.4 1222.9,199.8 1223.2,198.5 1223.5,204.8 1223.8,200.3 1224.1,186.3 1224.4,211.8 1224.7,186.1 1225.0,200.7 1225.3,187.6 1225.6,206.2 1225.9,198.7 1226.2,191.9 1226.5,215.7 1226.8,202.8 1227.1,175.6 1227.4,181.5 1227.7,181.2 1228.0,184.5 1228.3,196.0 1228.6,178.0 1228.9,176.0 1229.2,204.9 1229.5,193.6 1229.8,195.4 1230.1,195.4 1230.4,188.1 1230.7,196.3 1231.0,196.0 1231.3,197.8 1231.6,212.8 1231.9,186.4 1232.2,215.8 1232.5,203.9 1232.8,203.6 1233.1,199.1 1233.4,197.9 1233.7,228.4 1234.0,203.0 1234.3,216.0 1234.6,202.1 1234.9,204.7 1235.2,236.1 1235.5,222.8 1235.7,210.0 1236.0,204.5 1236.3,203.9 1236.6,208.0 1236.9,216.7 1237.2,207.5 1237.5,209.8 1237.8,213.6 1238.1,199.2 1238.4,205.7 1238.7,205.1 1239.0,198.7 1239.3,209.6 1239.6,204.7 1239.9,216.3 1240.2,211.7 1240.5,217.5 1240.8,213.3 1241.1,210.9 1241.4,200.7 1241.7,194.3 1242.0,203.5 1242.3,196.3 1242.6,180.7 1242.9,202.2 1243.2,197.7 1243.5,198.2 1243.8,180.9 1244.1,190.7 1244.4,208.8 1244.7,188.1 1245.0,199.6 1245.3,190.6 1245.6,183.1 1245.9,186.6 1246.2,198.3 1246.5,206.4 1246.8,195.3 1247.1,187.2 1247.4,197.0 1247.7,197.7 1248.0,192.0 1248.3,185.0 1248.6,221.8 1248.9,205.6 1249.2,210.0 1249.5,200.4 1249.8,189.5 1250.1,192.9 1250.4,196.9 1250.7,193.5 1251.0,200.6 1251.3,199.4 1251.6,188.1 1251.9,195.5 1252.2,192.9 1252.5,188.4 1252.8,217.3 1253.1,188.7 1253.4,218.8 1253.7,195.9 1254.0,208.6 1254.3,192.2 1254.6,198.3 1254.9,217.4 1255.2,204.8 1255.5,205.4 1255.8,217.5 1256.1,208.4 1256.4,215.7 1256.7,211.8 1256.9,208.9 1257.2,207.1 1257.5,217.9 1257.8,192.1 1258.1,220.7 1258.4,202.8 1258.7,209.8 1259.0,192.6 1259.3,206.5 1259.6,205.7 1259.9,187.3 1260.2,204.7 1260.5,199.5 1260.8,206.3 1261.1,193.4 1261.4,195.1 1261.7,207.4 1262.0,193.0 1262.3,199.8 1262.6,190.3 1262.9,205.3 1263.2,185.4 1263.5,183.6 1263.8,200.0 1264.1,190.9 1264.4,184.2 1264.7,203.9 1265.0,187.2 1265.3,184.6 1265.6,201.2 1265.9,197.2 1266.2,179.4 1266.5,187.0 1266.8,193.9 1267.1,203.0 1267.4,187.3 1267.7,199.0 1268.0,177.9 1268.3,191.9 1268.6,186.9 1268.9,194.4 1269.2,185.2 1269.5,194.6 1269.8,208.0 1270.1,197.1 1270.4,202.9 1270.7,199.1 1271.0,203.6 1271.3,202.6 1271.6,208.6 1271.9,207.4 1272.2,202.5 1272.5,207.6 1272.8,197.6 1273.1,200.1 1273.4,211.2 1273.7,221.0 1274.0,198.8 1274.3,213.6 1274.6,223.6 1274.9,218.8 1275.2,213.2 1275.5,199.2 1275.8,202.2 1276.1,207.2 1276.4,221.9 1276.7,210.0 1277.0,211.9 1277.3,193.8 1277.6,206.0 1277.9,186.6 1278.1,198.6 1278.4,209.5 1278.7,199.9 1279.0,209.6 1279.3,195.9 1279.6,226.4 1279.9,188.9 1280.2,195.9 1280.5,190.5 1280.8,209.9 1281.1,179.2 1281.4,208.5 1281.7,192.2 1282.0,207.1 1282.3,195.6 1282.6,188.9 1282.9,207.9 1283.2,191.6 1283.5,185.7 1283.8,199.5 1284.1,180.6 1284.4,189.1 1284.7,201.0 1285.0,195.5 1285.3,198.5 1285.6,190.9 1285.9,185.8 1286.2,192.0 1286.5,190.0 1286.8,193.6 1287.1,189.4 1287.4,186.0 1287.7,213.9 1288.0,195.1 1288.3,198.9 1288.6,186.5 1288.9,190.3 1289.2,213.9 1289.5,205.6 1289.8,223.2 1290.1,198.2 1290.4,200.1 1290.7,206.2 1291.0,221.4 1291.3,201.0 1291.6,214.9 1291.9,200.8 1292.2,215.9 1292.5,192.7 1292.8,197.4 1293.1,198.3 1293.4,232.7 1293.7,202.5 1294.0,202.2 1294.3,218.1 1294.6,210.3 1294.9,213.8 1295.2,201.5 1295.5,191.7 1295.8,219.1 1296.1,220.4 1296.4,200.9 1296.7,215.6 1297.0,197.5 1297.3,206.6 1297.6,198.5 1297.9,194.2 1298.2,199.1 1298.5,192.1 1298.8,210.3 1299.1,211.1 1299.3,196.2 1299.6,208.9 1299.9,196.7 1300.2,191.0 1300.5,195.0 1300.8,190.6 1301.1,190.8 1301.4,221.1 1301.7,194.0 1302.0,195.8 1302.3,179.5 1302.6,179.5 1302.9,194.3 1303.2,180.5 1303.5,189.7 1303.8,182.6 1304.1,203.1 1304.4,183.8 1304.7,184.1 1305.0,207.8 1305.3,187.9 1305.6,181.9 1305.9,194.1 1306.2,184.7 1306.5,204.5 1306.8,206.7 1307.1,210.9 1307.4,189.7 1307.7,226.3 1308.0,192.6 1308.3,201.7 1308.6,193.1 1308.9,198.6 1309.2,201.7 1309.5,196.5 1309.8,195.0 1310.1,194.6 1310.4,195.9 1310.7,198.6 1311.0,211.6 1311.3,208.6 1311.6,226.5 1311.9,210.8 1312.2,211.1 1312.5,199.3 1312.8,197.0 1313.1,224.0 1313.4,230.3 1313.7,217.0 1314.0,207.1 1314.3,194.9 1314.6,221.9 1314.9,221.8 1315.2,219.8 1315.5,195.4 1315.8,211.1 1316.1,207.0 1316.4,215.9 1316.7,197.7 1317.0,205.2 1317.3,201.0 1317.6,207.3 1317.9,205.3 1318.2,189.1 1318.5,203.6 1318.8,191.6 1319.1,200.8 1319.4,207.6 1319.7,192.1 1320.0,203.8 1320.3,192.9 1320.5,184.3 1320.8,194.6 1321.1,198.1 1321.4,181.6 1321.7,191.0 1322.0,196.3 1322.3,188.3 1322.6,181.5 1322.9,183.1 1323.2,185.8 1323.5,185.3 1323.8,191.1 1324.1,204.2 1324.4,192.0 1324.7,214.4 1325.0,189.6 1325.3,205.1 1325.6,208.6 1325.9,184.1 1326.2,194.7 1326.5,195.7 1326.8,201.4 1327.1,198.1 1327.4,206.6 1327.7,205.3 1328.0,201.0 1328.3,201.7 1328.6,230.9 1328.9,192.9 1329.2,211.2 1329.5,197.6 1329.8,196.1 1330.1,203.3 1330.4,211.7 1330.7,203.1 1331.0,212.8 1331.3,221.0 1331.6,238.4 1331.9,205.3 1332.2,210.6 1332.5,199.6 1332.8,210.9 1333.1,207.0 1333.4,207.2 1333.7,210.8 1334.0,202.8 1334.3,201.8 1334.6,201.0 1334.9,214.6 1335.2,206.7 1335.5,189.6 1335.8,201.0 1336.1,208.5 1336.4,218.1 1336.7,190.3 1337.0,191.2 1337.3,195.5 1337.6,202.3 1337.9,191.9 1338.2,187.6 1338.5,194.6 1338.8,194.9 1339.1,198.1 1339.4,193.6 1339.7,202.0 1340.0,189.7 1340.3,200.4 1340.6,197.1 1340.9,202.1 1341.2,205.0 1341.5,187.5 1341.8,174.4 1342.0,213.4 1342.3,189.5 1342.6,209.0 1342.9,191.4 1343.2,210.1 1343.5,193.2 1343.8,197.3 1344.1,192.9 1344.4,191.3 1344.7,196.8 1345.0,196.6 1345.3,205.3 1345.6,203.5 1345.9,201.1 1346.2,199.9 1346.5,197.5 1346.8,197.0 1347.1,216.2 1347.4,194.0 1347.7,199.5 1348.0,204.1 1348.3,204.5 1348.6,215.0 1348.9,201.4 1349.2,234.6 1349.5,235.4 1349.8,202.5 1350.1,215.6 1350.4,211.8 1350.7,218.2 1351.0,205.7 1351.3,222.8 1351.6,211.3 1351.9,206.8 1352.2,197.7 1352.5,200.4 1352.8,207.9 1353.1,200.7 1353.4,211.5 1353.7,205.9 1354.0,198.8 1354.3,193.5 1354.6,216.8 1354.9,206.7 1355.2,198.0 1355.5,196.0 1355.8,197.9 1356.1,201.2 1356.4,209.2 1356.7,211.0 1357.0,193.7 1357.3,202.1 1357.6,198.1 1357.9,202.6 1358.2,198.9 1358.5,203.1 1358.8,196.4 1359.1,194.8 1359.4,187.7 1359.7,200.2 1360.0,211.8 1360.3,192.8 1360.6,186.3 1360.9,193.1 1361.2,182.1 1361.5,189.5 1361.8,199.1 1362.1,185.2 1362.4,188.8 1362.7,194.7 1363.0,205.0 1363.2,218.2 1363.5,190.6 1363.8,188.9 1364.1,191.7 1364.4,196.1 1364.7,201.6 1365.0,186.2 1365.3,196.9 1365.6,191.2 1365.9,201.8 1366.2,195.7 1366.5,195.4 1366.8,211.2 1367.1,218.4 1367.4,199.6 1367.7,197.5 1368.0,201.0 1368.3,210.2 1368.6,207.4 1368.9,199.9 1369.2,188.0 1369.5,193.7 1369.8,208.6 1370.1,201.9 1370.4,216.0 1370.7,228.9 1371.0,222.4 1371.3,235.8 1371.6,221.4 1371.9,244.7 1372.2,236.3 1372.5,229.9 1372.8,245.7 1373.1,257.8 1373.4,240.8 1373.7,248.6 1374.0,244.9 1374.3,260.9 1374.6,257.9 1374.9,267.4 1375.2,262.6 1375.5,270.9 1375.8,279.4 1376.1,290.1 1376.4,283.0 1376.7,277.4 1377.0,267.4 1377.3,266.2 1377.6,273.1 1377.9,261.6 1378.2,253.1 1378.5,274.0 1378.8,261.3 1379.1,263.8 1379.4,264.0 1379.7,266.0 1380.0,302.7 1380.3,255.2 1380.6,298.8 1380.9,262.3 1381.2,255.9 1381.5,257.6 1381.8,277.6 1382.1,279.5 1382.4,261.0 1382.7,286.7 1383.0,247.3 1383.3,246.1 1383.6,264.1 1383.9,265.5 1384.2,261.7 1384.4,246.0 1384.7,278.3 1385.0,276.5 1385.3,262.4 1385.6,274.1 1385.9,259.8 1386.2,249.8 1386.5,261.9 1386.8,279.2 1387.1,269.9 1387.4,275.4 1387.7,288.0 1388.0,266.8 1388.3,261.7 1388.6,268.5 1388.9,258.7 1389.2,286.0 1389.5,277.7 1389.8,295.1 1390.1,275.2 1390.4,263.7 1390.7,277.3 1391.0,281.8 1391.3,270.1 1391.6,265.7 1391.9,276.0 1392.2,279.6 1392.5,266.5 1392.8,274.1 1393.1,266.6 1393.4,287.6 1393.7,280.4 1394.0,287.7 1394.3,302.6 1394.6,294.9 1394.9,275.9 1395.2,273.2 1395.5,285.5 1395.8,287.6 1396.1,270.5 1396.4,291.5 1396.7,277.9 1397.0,299.5 1397.3,307.7 1397.6,282.9 1397.9,286.1 1398.2,293.1 1398.5,306.6 1398.8,283.1 1399.1,296.1 1399.4,270.1 1399.7,280.8 1400.0,292.9 1400.3,300.9 1400.6,287.1 1400.9,294.7 1401.2,303.2 1401.5,280.7 1401.8,296.5 1402.1,281.6 1402.4,294.0 1402.7,283.7 1403.0,285.0 1403.3,277.5 1403.6,279.6 1403.9,299.5 1404.2,279.6 1404.5,271.8 1404.8,298.6 1405.1,281.2 1405.4,289.4 1405.6,284.7 1405.9,267.2 1406.2,301.4 1406.5,288.0 1406.8,302.7 1407.1,291.2 1407.4,280.6 1407.7,289.6 1408.0,301.5 1408.3,280.5 1408.6,285.5 1408.9,299.2 1409.2,285.2 1409.5,316.7 1409.8,288.6 1410.1,293.4 1410.4,280.0 1410.7,292.1 1411.0,313.6 1411.3,272.1 1411.6,290.8 1411.9,289.4 1412.2,309.8 1412.5,276.2 1412.8,278.2 1413.1,279.3 1413.4,287.3 1413.7,283.0 1414.0,284.2 1414.3,310.1 1414.6,280.5 1414.9,307.8 1415.2,286.5 1415.5,284.9 1415.8,315.8 1416.1,284.2 1416.4,288.6 1416.7,289.6 1417.0,296.7 1417.3,291.1 1417.6,285.3 1417.9,302.9 1418.2,307.1 1418.5,284.6 1418.8,325.8 1419.1,283.8 1419.4,326.0 1419.7,295.5 1420.0,283.3 1420.3,284.2 1420.6,299.8 1420.9,286.3 1421.2,287.1 1421.5,326.4 1421.8,291.1 1422.1,306.9 1422.4,280.2 1422.7,303.5 1423.0,280.3 1423.3,290.3 1423.6,286.8 1423.9,287.8 1424.2,291.8 1424.5,302.2 1424.8,301.9 1425.1,303.5 1425.4,309.1 1425.7,300.4 1426.0,295.6 1426.3,299.2 1426.6,287.8 1426.8,299.7 1427.1,288.9 1427.4,292.9 1427.7,284.5 1428.0,292.2 1428.3,287.2 1428.6,290.7 1428.9,297.3 1429.2,289.1 1429.5,309.6 1429.8,296.1 1430.1,295.9 1430.4,290.0 1430.7,314.5 1431.0,298.3 1431.3,292.8 1431.6,291.4 1431.9,304.0 1432.2,312.7 1432.5,295.3 1432.8,314.6 1433.1,298.2 1433.4,299.5 1433.7,297.2 1434.0,289.1 1434.3,291.8 1434.6,295.5 1434.9,293.7 1435.2,300.9 1435.5,296.6 1435.8,297.3 1436.1,305.1 1436.4,298.8 1436.7,286.9 1437.0,300.8 1437.3,298.8 1437.6,310.1 1437.9,309.1 1438.2,313.4 1438.5,308.0 1438.8,290.6 1439.1,300.8 1439.4,328.3 1439.7,291.9 1440.0,307.0 1440.3,335.2 1440.6,291.0 1440.9,301.0 1441.2,288.3 1441.5,299.9 1441.8,308.6 1442.1,308.5 1442.4,301.4 1442.7,307.5 1443.0,297.2 1443.3,303.6 1443.6,289.2 1443.9,307.2 1444.2,299.1 1444.5,289.0 1444.8,296.2 1445.1,290.7 1445.4,291.2 1445.7,303.7 1446.0,306.4 1446.3,331.8 1446.6,302.3 1446.9,303.4 1447.2,299.7 1447.5,290.5 1447.8,304.3 1448.0,305.1 1448.3,298.3 1448.6,304.2 1448.9,306.8 1449.2,310.0 1449.5,302.7 1449.8,299.7 1450.1,312.3 1450.4,331.4 1450.7,302.3 1451.0,311.8 1451.3,296.2 1451.6,295.9 1451.9,305.7 1452.2,285.6 1452.5,295.4 1452.8,298.6 1453.1,299.9 1453.4,294.0 1453.7,292.0 1454.0,299.5 1454.3,286.0 1454.6,302.7 1454.9,308.1 1455.2,311.2 1455.5,307.2 1455.8,304.8 1456.1,306.4 1456.4,308.5 1456.7,298.4 1457.0,316.0 1457.3,317.1 1457.6,303.5 1457.9,306.4 1458.2,312.0 1458.5,289.6 1458.8,305.8 1459.1,300.6 1459.4,316.7 1459.7,283.1 1460.0,306.7 1460.3,296.5 1460.6,301.8 1460.9,298.8 1461.2,309.1 1461.5,333.1 1461.8,320.0 1462.1,292.3 1462.4,299.4 1462.7,298.8 1463.0,309.0 1463.3,306.7 1463.6,307.4 1463.9,315.6 1464.2,298.4 1464.5,310.5 1464.8,323.0 1465.1,303.6 1465.4,305.0 1465.7,310.3 1466.0,302.1 1466.3,299.5 1466.6,295.7 1466.9,309.5 1467.2,310.7 1467.5,298.8 1467.8,303.7 1468.1,307.9 1468.4,297.8 1468.7,294.4 1469.0,332.3 1469.2,314.0 1469.5,333.8 1469.8,297.5 1470.1,306.9 1470.4,305.4 1470.7,290.0 1471.0,297.8 1471.3,303.0 1471.6,304.5 1471.9,322.7 1472.2,299.9 1472.5,306.0 1472.8,301.6 1473.1,294.6 1473.4,312.0 1473.7,300.7 1474.0,331.2 1474.3,326.0 1474.6,301.7 1474.9,298.5 1475.2,311.3"/>
<polyline stroke="#EDB120" points="252.5,376.3 252.8,378.7 253.1,380.3 253.4,375.7 253.7,380.6 254.0,372.3 254.3,375.3 254.6,376.3 254.9,390.0 255.2,397.1 255.5,389.0 255.8,374.7 256.1,376.4 256.4,392.3 256.7,374.7 257.0,383.5 257.3,383.5 257.6,369.1 257.9,376.7 258.2,375.2 258.5,375.1 258.8,392.3 259.0,374.7 259.3,362.0 259.6,387.7 259.9,371.0 260.2,370.2 260.5,370.3 260.8,381.7 261.1,379.6 261.4,387.4 261.7,377.1 262.0,366.9 262.3,382.8 262.6,398.9 262.9,376.1 263.2,369.9 263.5,378.5 263.8,364.4 264.1,377.8 264.4,376.2 264.7,386.2 265.0,379.0 265.3,370.0 265.6,369.8 265.9,367.1 266.2,370.4 266.5,372.1 266.8,399.2 267.1,383.5 267.4,359.9 267.7,380.5 268.0,370.9 268.3,376.5 268.6,370.6 268.9,375.4 269.2,385.0 269.5,382.8 269.8,373.0 270.1,380.0 270.4,398.2 270.7,371.6 271.0,368.0 271.3,368.6 271.6,368.4 271.9,390.9 272.2,364.0 272.5,376.7 272.8,383.8 273.1,379.2 273.4,381.7 273.7,387.3 274.0,375.5 274.3,374.0 274.6,377.0 274.9,374.0 275.2,376.7 275.5,381.7 275.8,380.2 276.1,371.3 276.4,389.3 276.7,379.7 277.0,368.2 277.3,373.3 277.6,370.2 277.9,375.0 278.2,386.1 278.5,378.3 278.8,374.0 279.1,378.3 279.4,376.3 279.7,373.4 280.0,368.3 280.2,378.7 280.5,366.4 280.8,374.7 281.1,367.5 281.4,366.5 281.7,362.6 282.0,366.7 282.3,366.6 282.6,362.5 282.9,391.7 283.2,382.9 283.5,366.4 283.8,398.5 284.1,372.3 284.4,372.3 284.7,388.7 285.0,381.8 285.3,368.3 285.6,369.0 285.9,378.2 286.2,380.5 286.5,379.3 286.8,369.1 287.1,386.3 287.4,372.4 287.7,386.9 288.0,365.8 288.3,370.7 288.6,362.8 288.9,398.1 289.2,394.4 289.5,377.5 289.8,361.1 290.1,382.9 290.4,362.2 290.7,370.3 291.0,370.2 291.3,366.0 291.6,381.1 291.9,376.9 292.2,383.9 292.5,370.2 292.8,357.2 293.1,374.4 293.4,366.6 293.7,367.5 294.0,368.9 294.3,372.1 294.6,359.9 294.9,369.4 295.2,374.8 295.5,361.1 295.8,363.3 296.1,367.0 296.4,370.8 296.7,356.7 297.0,369.2 297.3,375.2 297.6,363.9 297.9,371.9 298.2,369.0 298.5,372.2 298.8,370.3 299.1,388.2 299.4,377.4 299.7,376.3 300.0,370.9 300.3,365.5 300.6,378.7 300.9,350.6 301.2,368.8 301.4,363.3 301.7,379.4 302.0,376.4 302.3,352.5 302.6,360.1 302.9,367.3 303.2,382.2 303.5,351.6 303.8,375.7 304.1,369.8 304.4,366.1 304.7,360.7 305.0,363.9 305.3,364.1 305.6,346.6 305.9,362.1 306.2,358.4 306.5,355.2 306.8,386.4 307.1,369.8 307.4,342.0 307.7,370.7 308.0,361.6 308.3,375.8 308.6,375.6 308.9,349.7 309.2,365.6 309.5,361.2 309.8,363.4 310.1,379.6 310.4,361.2 310.7,348.6 311.0,368.5 311.3,353.9 311.6,347.4 311.9,374.5 312.2,349.0 312.5,387.5 312.8,350.5 313.1,361.4 313.4,372.1 313.7,358.3 314.0,364.3 314.3,381.7 314.6,345.2 314.9,344.2 315.2,370.0 315.5,361.3 315.8,362.3 316.1,359.1 316.4,374.2 316.7,345.4 317.0,355.0 317.3,368.8 317.6,361.7 317.9,365.6 318.2,357.7 318.5,347.9 318.8,347.7 319.1,370.4 319.4,353.8 319.7,367.3 320.0,382.8 320.3,370.2 320.6,355.0 320.9,378.5 321.2,364.5 321.5,349.5 321.8,410.6 322.1,364.5 322.4,368.0 322.6,385.3 322.9,357.9 323.2,354.0 323.5,352.9 323.8,368.9 324.1,368.4 324.4,344.6 324.7,367.5 325.0,358.0 325.3,369.4 325.6,369.4 325.9,377.6 326.2,337.6 326.5,358.4 326.8,386.5 327.1,353.1 327.4,353.9 327.7,353.5 328.0,338.0 328.3,354.3 328.6,353.3 328.9,363.1 329.2,368.2 329.5,353.6 329.8,354.6 330.1,366.4 330.4,359.8 330.7,352.0 331.0,351.0 331.3,360.7 331.6,391.3 331.9,349.7 332.2,357.6 332.5,366.6 332.8,359.4 333.1,370.7 333.4,349.4 333.7,357.5 334.0,380.5 334.3,347.9 334.6,346.1 334.9,354.6 335.2,345.4 335.5,376.9 335.8,336.9 336.1,347.6 336.4,338.5 336.7,374.7 337.0,357.5 337.3,352.3 337.6,326.1 337.9,346.3 338.2,364.8 338.5,337.2 338.8,340.3 339.1,352.6 339.4,330.4 339.7,325.6 340.0,342.1 340.3,352.7 340.6,328.0 340.9,330.4 341.2,338.8 341.5,346.1 341.8,336.3 342.1,325.3 342.4,329.5 342.7,321.1 343.0,307.4 343.3,321.9 343.6,315.0 343.8,324.6 344.1,300.5 344.4,322.5 344.7,304.4 345.0,302.0 345.3,321.3 345.6,307.3 345.9,343.8 346.2,310.7 346.5,343.2 346.8,310.2 347.1,325.5 347.4,323.1 347.7,335.9 348.0,319.4 348.3,314.7 348.6,340.3 348.9,331.8 349.2,324.8 349.5,339.2 349.8,315.2 350.1,308.4 350.4,330.2 350.7,336.5 351.0,334.3 351.3,351.0 351.6,365.0 351.9,351.7 352.2,334.0 352.5,339.7 352.8,347.0 353.1,347.2 353.4,327.9 353.7,330.5 354.0,313.3 354.3,338.0 354.6,289.5 354.9,317.2 355.2,289.1 355.5,316.5 355.8,301.6 356.1,314.0 356.4,283.2 356.7,292.4 357.0,309.8 357.3,297.3 357.6,282.0 357.9,315.3 358.2,292.6 358.5,286.2 358.8,312.8 359.1,266.7 359.4,246.7 359.7,288.9 360.0,273.3 360.3,252.0 360.6,245.0 360.9,241.3 361.2,244.0 361.5,242.6 361.8,256.7 362.1,228.2 362.4,231.4 362.7,251.6 363.0,243.0 363.3,244.8 363.6,245.7 363.9,253.8 364.2,218.4 364.5,240.4 364.8,229.4 365.0,238.2 365.3,231.9 365.6,219.2 365.9,232.0 366.2,217.8 366.5,239.3 366.8,223.2 367.1,215.8 367.4,222.4 367.7,239.3 368.0,236.4 368.3,240.9 368.6,230.5 368.9,237.1 369.2,245.2 369.5,253.1 369.8,245.6 370.1,239.2 370.4,232.3 370.7,236.6 371.0,234.8 371.3,230.3 371.6,239.1 371.9,264.8 372.2,248.2 372.5,264.9 372.8,245.9 373.1,273.3 373.4,249.9 373.7,248.8 374.0,245.0 374.3,252.2 374.6,230.5 374.9,259.2 375.2,246.5 375.5,261.3 375.8,269.1 376.1,263.1 376.4,278.7 376.7,257.6 377.0,285.0 377.3,249.2 377.6,257.3 377.9,248.9 378.2,270.2 378.5,239.8 378.8,241.3 379.1,242.3 379.4,252.6 379.7,242.0 380.0,249.9 380.3,236.1 380.6,273.0 380.9,245.9 381.2,232.4 381.5,235.9 381.8,234.5 382.1,234.4 382.4,239.7 382.7,252.4 383.0,234.6 383.3,243.8 383.6,240.9 383.9,238.2 384.2,236.0 384.5,247.3 384.8,227.0 385.1,230.9 385.4,220.8 385.7,212.8 386.0,222.5 386.2,228.1 386.5,248.3 386.8,231.6 387.1,229.9 387.4,229.9 387.7,233.5 388.0,241.1 388.3,226.7 388.6,235.1 388.9,227.3 389.2,247.4 389.5,236.2 389.8,228.8 390.1,229.7 390.4,256.9 390.7,244.4 391.0,248.5 391.3,233.5 391.6,241.8 391.9,255.0 392.2,248.3 392.5,254.8 392.8,249.5 393.1,255.9 393.4,249.4 393.7,240.9 394.0,233.5 394.3,246.3 394.6,238.5 394.9,249.6 395.2,249.8 395.5,253.5 395.8,260.1 396.1,294.1 396.4,270.9 396.7,259.1 397.0,251.5 397.3,266.3 397.6,253.9 397.9,254.5 398.2,253.4 398.5,250.6 398.8,243.9 399.1,252.9 399.4,249.8 399.7,258.6 400.0,250.9 400.3,255.6 400.6,240.0 400.9,225.0 401.2,225.9 401.5,249.6 401.8,235.8 402.1,239.0 402.4,266.0 402.7,273.5 403.0,245.7 403.3,238.3 403.6,254.9 403.9,247.9 404.2,245.5 404.5,245.9 404.8,250.1 405.1,233.9 405.4,223.2 405.7,228.0 406.0,243.7 406.3,234.9 406.6,233.4 406.9,265.1 407.2,225.9 407.5,245.7 407.7,255.9 408.0,216.4 408.3,253.3 408.6,244.3 408.9,250.8 409.2,232.4 409.5,246.8 409.8,265.5 410.1,280.0 410.4,252.9 410.7,229.0 411.0,262.4 411.3,236.6 411.6,261.2 411.9,253.0 412.2,249.0 412.5,254.2 412.8,287.7 413.1,262.5 413.4,252.2 413.7,263.4 414.0,252.7 414.3,278.0 414.6,274.2 414.9,261.7 415.2,260.8 415.5,249.7 415.8,261.7 416.1,256.1 416.4,256.6 416.7,249.7 417.0,248.9 417.3,253.2 417.6,243.0 417.9,236.9 418.2,258.3 418.5,256.4 418.8,256.0 419.1,255.9 419.4,254.3 419.7,244.7 420.0,236.5 420.3,251.9 420.6,238.0 420.9,246.6 421.2,218.2 421.5,237.0 421.8,231.2 422.1,250.6 422.4,248.0 422.7,233.8 423.0,244.7 423.3,234.8 423.6,221.6 423.9,241.4 424.2,242.0 424.5,228.7 424.8,234.5 425.1,225.7 425.4,234.9 425.7,248.3 426.0,269.7 426.3,232.4 426.6,246.0 426.9,236.8 427.2,266.5 427.5,249.4 427.8,237.0 428.1,231.4 428.4,232.1 428.7,231.1 428.9,245.0 429.2,235.8 429.5,242.9 429.8,250.5 430.1,254.1 430.4,259.4 430.7,239.9 431.0,250.8 431.3,261.3 431.6,300.8 431.9,236.4 432.2,274.9 432.5,275.1 432.8,242.9 433.1,278.1 433.4,245.1 433.7,266.7 434.0,256.2 434.3,246.7 434.6,245.8 434.9,249.6 435.2,257.0 435.5,259.1 435.8,257.9 436.1,238.9 436.4,249.3 436.7,240.2 437.0,285.7 437.3,254.4 437.6,245.8 437.9,252.9 438.2,227.8 438.5,261.9 438.8,239.7 439.1,235.2 439.4,254.2 439.7,233.5 440.0,236.9 440.3,215.7 440.6,225.3 440.9,239.1 441.2,227.7 441.5,232.2 441.8,241.3 442.1,227.8 442.4,228.5 442.7,217.6 443.0,252.1 443.3,250.3 443.6,239.9 443.9,224.0 444.2,221.0 444.5,234.3 444.8,231.0 445.1,234.3 445.4,260.0 445.7,247.4 446.0,228.2 446.3,229.7 446.6,227.6 446.9,233.0 447.2,276.3 447.5,239.0 447.8,239.2 448.1,263.0 448.4,227.5 448.7,247.7 449.0,237.2 449.3,239.6 449.6,242.3 449.9,236.0 450.1,252.3 450.4,241.9 450.7,247.6 451.0,270.3 451.3,262.4 451.6,271.8 451.9,279.4 452.2,252.1 452.5,278.7 452.8,249.1 453.1,263.1 453.4,262.3 453.7,275.5 454.0,253.1 454.3,268.3 454.6,248.5 454.9,247.1 455.2,279.5 455.5,289.3 455.8,285.8 456.1,242.1 456.4,284.7 456.7,263.0 457.0,235.0 457.3,244.5 457.6,238.6 457.9,280.0 458.2,236.0 458.5,254.0 458.8,226.4 459.1,240.7 459.4,241.6 459.7,263.8 460.0,250.5 460.3,237.9 460.6,223.2 460.9,223.0 461.2,237.8 461.5,249.8 461.8,250.2 462.1,215.7 462.4,227.7 462.7,244.5 463.0,216.2 463.3,225.9 463.6,224.7 463.9,224.8 464.2,230.8 464.5,241.9 464.8,261.4 465.1,256.6 465.4,250.0 465.7,233.8 466.0,249.8 466.3,232.8 466.6,232.7 466.9,228.4 467.2,229.0 467.5,229.3 467.8,243.3 468.1,245.0 468.4,255.5 468.7,245.5 469.0,248.0 469.3,258.8 469.6,280.5 469.9,238.9 470.2,247.1 470.5,267.3 470.8,260.8 471.1,247.8 471.3,263.5 471.6,254.3 471.9,248.1 472.2,250.7 472.5,260.3 472.8,269.0 473.1,261.1 473.4,247.9 473.7,256.8 474.0,238.2 474.3,236.1 474.6,237.6 474.9,243.4 475.2,266.4 475.5,233.1 475.8,240.1 476.1,255.3 476.4,257.4 476.7,252.9 477.0,242.6 477.3,263.7 477.6,230.7 477.9,245.7 478.2,234.6 478.5,265.1 478.8,213.7 479.1,227.5 479.4,238.0 479.7,252.1 480.0,220.6 480.3,239.0 480.6,238.4 480.9,244.0 481.2,248.6 481.5,231.4 481.8,229.3 482.1,235.6 482.4,246.4 482.7,217.9 483.0,218.0 483.3,245.5 483.6,222.5 483.9,235.8 484.2,238.0 484.5,219.6 484.8,221.4 485.1,245.4 485.4,233.6 485.7,249.9 486.0,267.9 486.3,234.9 486.6,240.1 486.9,238.2 487.2,226.6 487.5,251.3 487.8,243.5 488.1,248.1 488.4,282.0 488.7,254.2 489.0,276.7 489.3,253.1 489.6,269.2 489.9,271.5 490.2,242.6 490.5,262.8 490.8,262.1 491.1,255.8 491.4,295.1 491.7,271.9 492.0,268.6 492.3,253.1 492.5,254.1 492.8,263.9 493.1,238.0 493.4,260.7 493.7,263.5 494.0,247.8 494.3,260.5 494.6,237.7 494.9,245.9 495.2,257.6 495.5,226.7 495.8,251.6 496.1,246.1 496.4,241.2 496.7,240.0 497.0,238.4 497.3,260.8 497.6,240.3 497.9,273.9 498.2,242.2 498.5,239.7 498.8,231.4 499.1,246.8 499.4,232.3 499.7,239.9 500.0,232.7 500.3,245.0 500.6,221.5 500.9,221.2 501.2,255.9 501.5,235.9 501.8,238.2 502.1,267.8 502.4,253.8 502.7,239.7 503.0,254.8 503.3,236.8 503.6,231.7 503.9,248.5 504.2,234.7 504.5,228.4 504.8,251.2 505.1,232.1 505.4,232.8 505.7,232.2 506.0,246.3 506.3,244.3 506.6,258.9 506.9,240.0 507.2,242.2 507.5,246.9 507.8,252.0 508.1,261.3 508.4,288.5 508.7,261.8 509.0,282.7 509.3,258.3 509.6,268.3 509.9,237.5 510.2,267.1 510.5,272.6 510.8,242.3 511.1,283.1 511.4,245.5 511.7,244.1 512.0,256.5 512.3,273.5 512.6,261.0 512.9,250.9 513.2,242.6 513.5,244.7 513.7,244.9 514.0,253.9 514.3,236.9 514.6,260.7 514.9,254.6 515.2,243.0 515.5,236.0 515.8,238.0 516.1,236.6 516.4,287.7 516.7,230.2 517.0,274.1 517.3,246.7 517.6,256.2 517.9,251.2 518.2,230.9 518.5,226.2 518.8,247.0 519.1,232.9 519.4,214.1 519.7,227.4 520.0,215.7 520.3,220.1 520.6,220.0 520.9,236.3 521.2,229.5 521.5,214.0 521.8,245.1 522.1,224.0 522.4,244.4 522.7,237.5 523.0,232.6 523.3,244.7 523.6,243.7 523.9,258.0 524.2,244.4 524.5,262.2 524.8,240.4 525.1,244.4 525.4,235.8 525.7,250.5 526.0,237.8 526.3,237.8 526.6,238.1 526.9,243.4 527.2,247.5 527.5,250.2 527.8,259.8 528.1,255.8 528.4,256.5 528.7,238.1 529.0,274.8 529.3,262.0 529.6,257.0 529.9,271.4 530.2,250.4 530.5,265.1 530.8,252.2 531.1,254.8 531.4,247.9 531.7,271.2 532.0,248.9 532.3,237.3 532.6,241.6 532.9,249.6 533.2,248.0 533.5,245.7 533.8,249.3 534.1,256.6 534.4,244.8 534.7,244.6 534.9,224.2 535.2,236.6 535.5,220.9 535.8,240.5 536.1,235.3 536.4,237.9 536.7,248.0 537.0,248.8 537.3,238.7 537.6,224.6 537.9,247.7 538.2,251.4 538.5,232.2 538.8,238.6 539.1,238.5 539.4,215.7 539.7,232.4 540.0,226.8 540.3,234.6 540.6,226.7 540.9,236.7 541.2,238.6 541.5,230.5 541.8,239.4 542.1,226.7 542.4,249.3 542.7,226.9 543.0,257.2 543.3,248.3 543.6,242.9 543.9,260.5 544.2,253.6 544.5,239.6 544.8,251.0 545.1,258.4 545.4,242.2 545.7,249.8 546.0,245.7 546.3,238.5 546.6,253.7 546.9,250.9 547.2,231.5 547.5,289.4 547.8,255.2 548.1,268.4 548.4,254.6 548.7,270.6 549.0,264.9 549.3,276.6 549.6,249.7 549.9,256.3 550.2,259.0 550.5,268.4 550.8,241.8 551.1,278.0 551.4,241.0 551.7,246.7 552.0,256.4 552.3,248.0 552.6,268.9 552.9,233.3 553.2,263.9 553.5,252.3 553.8,235.0 554.1,248.1 554.4,239.9 554.7,239.3 555.0,249.1 555.3,245.3 555.6,222.0 555.9,228.5 556.1,230.6 556.4,235.0 556.7,246.2 557.0,252.1 557.3,226.5 557.6,239.2 557.9,234.4 558.2,245.2 558.5,255.9 558.8,230.8 559.1,245.2 559.4,215.8 559.7,219.2 560.0,239.1 560.3,225.4 560.6,248.7 560.9,227.2 561.2,220.5 561.5,233.8 561.8,221.6 562.1,277.2 562.4,243.9 562.7,247.3 563.0,238.0 563.3,245.9 563.6,240.6 563.9,246.2 564.2,259.7 564.5,268.2 564.8,240.3 565.1,260.4 565.4,293.6 565.7,249.6 566.0,260.4 566.3,277.2 566.6,253.8 566.9,245.0 567.2,277.9 567.5,236.7 567.8,258.4 568.1,254.5 568.4,244.9 568.7,241.6 569.0,252.5 569.3,247.2 569.6,262.3 569.9,253.3 570.2,269.4 570.5,244.4 570.8,244.9 571.1,243.8 571.4,242.1 571.7,276.4 572.0,249.1 572.3,257.7 572.6,248.7 572.9,238.1 573.2,228.6 573.5,244.3 573.8,250.4 574.1,246.1 574.4,240.6 574.7,240.7 575.0,234.9 575.3,229.2 575.6,258.5 575.9,258.8 576.2,242.5 576.5,239.6 576.8,217.6 577.1,234.1 577.3,220.3 577.6,245.2 577.9,208.9 578.2,222.4 578.5,247.5 578.8,236.6 579.1,217.2 579.4,231.7 579.7,243.8 580.0,228.8 580.3,234.1 580.6,271.9 580.9,220.3 581.2,231.3 581.5,243.7 581.8,250.4 582.1,254.4 582.4,274.7 582.7,245.1 583.0,256.0 583.3,264.3 583.6,259.1 583.9,231.0 584.2,259.7 584.5,241.2 584.8,238.8 585.1,252.8 585.4,246.9 585.7,269.3 586.0,260.9 586.3,256.2 586.6,271.1 586.9,271.4 587.2,240.5 587.5,245.8 587.8,257.3 588.1,269.8 588.4,253.5 588.7,267.6 589.0,255.7 589.3,251.8 589.6,249.4 589.9,258.1 590.2,241.2 590.5,235.5 590.8,251.7 591.1,244.2 591.4,251.4 591.7,242.3 592.0,230.4 592.3,249.3 592.6,250.6 592.9,243.0 593.2,243.9 593.5,236.5 593.8,237.2 594.1,266.0 594.4,224.6 594.7,239.4 595.0,235.4 595.3,240.1 595.6,220.4 595.9,221.5 596.2,229.3 596.5,224.3 596.8,227.5 597.1,240.9 597.4,235.3 597.7,219.0 598.0,228.3 598.3,214.2 598.6,230.0 598.8,256.5 599.1,233.3 599.4,241.4 599.7,259.8 600.0,261.0 600.3,230.1 600.6,233.4 600.9,254.4 601.2,248.8 601.5,247.2 601.8,239.7 602.1,244.7 602.4,234.2 602.7,254.4 603.0,234.7 603.3,243.1 603.6,249.8 603.9,251.8 604.2,248.1 604.5,245.9 604.8,258.9 605.1,261.7 605.4,260.5 605.7,263.0 606.0,250.1 606.3,251.3 606.6,281.7 606.9,262.6 607.2,271.4 607.5,257.3 607.8,258.8 608.1,262.1 608.4,245.6 608.7,256.3 609.0,248.0 609.3,251.9 609.6,241.9 609.9,241.3 610.2,249.6 610.5,241.1 610.8,242.9 611.1,230.0 611.4,252.1 611.7,239.6 612.0,241.1 612.3,242.1 612.6,220.7 612.9,234.7 613.2,226.5 613.5,225.0 613.8,232.0 614.1,230.6 614.4,242.8 614.7,240.3 615.0,230.3 615.3,221.3 615.6,213.6 615.9,246.4 616.2,226.4 616.5,222.6 616.8,240.2 617.1,243.3 617.4,255.3 617.7,229.7 618.0,237.5 618.3,233.5 618.6,248.4 618.9,239.2 619.2,231.1 619.5,241.2 619.8,235.0 620.0,232.2 620.3,242.5 620.6,239.7 620.9,236.6 621.2,238.2 621.5,235.8 621.8,247.7 622.1,252.2 622.4,231.9 622.7,250.1 623.0,246.9 623.3,236.1 623.6,290.4 623.9,259.6 624.2,291.5 624.5,245.9 624.8,237.7 625.1,261.4 625.4,252.8 625.7,250.1 626.0,283.4 626.3,259.6 626.6,250.9 626.9,272.3 627.2,259.0 627.5,240.7 627.8,245.6 628.1,264.2 628.4,261.1 628.7,243.1 629.0,265.5 629.3,255.7 629.6,246.5 629.9,234.9 630.2,250.5 630.5,245.8 630.8,240.0 631.1,245.7 631.4,242.5 631.7,224.3 632.0,222.5 632.3,232.6 632.6,232.6 632.9,232.2 633.2,221.2 633.5,236.5 633.8,222.0 634.1,222.9 634.4,214.3 634.7,219.7 635.0,234.3 635.3,226.9 635.6,228.1 635.9,243.3 636.2,238.7 636.5,249.5 636.8,257.4 637.1,230.3 637.4,254.2 637.7,237.0 638.0,247.5 638.3,230.4 638.6,237.4 638.9,238.0 639.2,234.8 639.5,242.9 639.8,259.9 640.1,245.7 640.4,242.8 640.7,248.6 641.0,245.8 641.2,266.0 641.5,248.2 641.8,232.7 642.1,263.8 642.4,264.4 642.7,232.1 643.0,248.1 643.3,239.7 643.6,245.5 643.9,277.7 644.2,245.2 644.5,255.9 644.8,265.9 645.1,249.6 645.4,251.5 645.7,249.2 646.0,269.3 646.3,233.2 646.6,253.2 646.9,241.2 647.2,273.4 647.5,264.8 647.8,242.2 648.1,238.8 648.4,254.0 648.7,237.7 649.0,252.1 649.3,249.7 649.6,250.5 649.9,254.4 650.2,259.3 650.5,238.9 650.8,228.2 651.1,230.7 651.4,216.5 651.7,238.3 652.0,230.7 652.3,243.7 652.6,232.1 652.9,222.4 653.2,228.0 653.5,240.9 653.8,242.1 654.1,237.3 654.4,245.5 654.7,248.1 655.0,231.2 655.3,251.3 655.6,244.9 655.9,231.7 656.2,263.9 656.5,231.7 656.8,252.0 657.1,258.4 657.4,244.5 657.7,247.8 658.0,246.2 658.3,230.3 658.6,243.7 658.9,250.9 659.2,242.3 659.5,244.6 659.8,261.1 660.1,255.2 660.4,257.9 660.7,267.7 661.0,296.0 661.3,260.8 661.6,256.2 661.9,254.1 662.2,263.8 662.4,243.2 662.7,256.1 663.0,261.0 663.3,258.7 663.6,245.9 663.9,271.0 664.2,249.2 664.5,269.6 664.8,249.5 665.1,270.6 665.4,255.9 665.7,260.6 666.0,256.4 666.3,241.1 666.6,239.0 666.9,248.6 667.2,255.1 667.5,237.7 667.8,260.5 668.1,264.7 668.4,244.9 668.7,244.0 669.0,239.7 669.3,241.0 669.6,216.6 669.9,249.2 670.2,242.9 670.5,245.8 670.8,226.8 671.1,244.8 671.4,249.7 671.7,235.4 672.0,239.7 672.3,228.3 672.6,262.0 672.9,221.6 673.2,227.9 673.5,235.9 673.8,240.2 674.1,229.3 674.4,237.7 674.7,231.3 675.0,219.8 675.3,236.6 675.6,227.4 675.9,232.9 676.2,247.4 676.5,228.5 676.8,234.3 677.1,255.0 677.4,240.4 677.7,227.8 678.0,236.2 678.3,238.7 678.6,252.6 678.9,248.7 679.2,244.6 679.5,259.1 679.8,275.9 680.1,237.1 680.4,261.3 680.7,238.9 681.0,257.1 681.3,267.0 681.6,271.3 681.9,247.4 682.2,262.6 682.5,277.8 682.8,254.7 683.1,257.9 683.4,264.5 683.6,264.3 683.9,263.3 684.2,254.1 684.5,259.2 684.8,267.1 685.1,241.4 685.4,237.3 685.7,251.4 686.0,248.3 686.3,237.5 686.6,254.6 686.9,241.8 687.2,232.6 687.5,246.5 687.8,273.1 688.1,257.7 688.4,249.8 688.7,240.3 689.0,263.3 689.3,258.5 689.6,232.8 689.9,229.5 690.2,237.0 690.5,223.0 690.8,222.5 691.1,222.4 691.4,247.9 691.7,213.3 692.0,249.0 692.3,234.4 692.6,266.9 692.9,229.1 693.2,235.8 693.5,227.6 693.8,238.3 694.1,252.5 694.4,238.1 694.7,258.2 695.0,220.3 695.3,264.4 695.6,234.2 695.9,256.3 696.2,252.2 696.5,250.7 696.8,236.9 697.1,245.4 697.4,245.2 697.7,266.6 698.0,240.0 698.3,252.5 698.6,255.7 698.9,237.4 699.2,242.8 699.5,252.4 699.8,246.1 700.1,270.5 700.4,257.7 700.7,254.7 701.0,262.4 701.3,266.6 701.6,260.9 701.9,274.0 702.2,258.9 702.5,245.5 702.8,250.1 703.1,251.8 703.4,260.6 703.7,234.3 704.0,251.0 704.3,264.6 704.6,230.6 704.8,230.2 705.1,247.1 705.4,240.4 705.7,241.5 706.0,243.2 706.3,235.9 706.6,251.1 706.9,250.0 707.2,253.7 707.5,235.9 707.8,239.4 708.1,239.5 708.4,227.6 708.7,242.7 709.0,237.5 709.3,229.7 709.6,216.3 709.9,215.5 710.2,224.5 710.5,229.5 710.8,223.1 711.1,222.0 711.4,220.0 711.7,231.3 712.0,251.3 712.3,225.6 712.6,239.1 712.9,234.5 713.2,244.4 713.5,234.2 713.8,255.5 714.1,241.8 714.4,232.1 714.7,243.0 715.0,245.0 715.3,229.7 715.6,221.8 715.9,245.8 716.2,248.0 716.5,258.3 716.8,243.3 717.1,238.0 717.4,245.4 717.7,254.8 718.0,245.0 718.3,251.1 718.6,256.5 718.9,266.6 719.2,249.8 719.5,254.9 719.8,243.6 720.1,264.8 720.4,256.9 720.7,254.2 721.0,264.1 721.3,260.8 721.6,259.2 721.9,251.0 722.2,239.0 722.5,248.0 722.8,272.5 723.1,262.5 723.4,251.1 723.7,242.3 724.0,246.4 724.3,241.2 724.6,255.9 724.9,223.6 725.2,248.1 725.5,264.6 725.8,242.6 726.0,225.4 726.3,252.8 726.6,234.0 726.9,234.4 727.2,223.6 727.5,233.9 727.8,227.6 728.1,232.2 728.4,229.4 728.7,244.7 729.0,246.7 729.3,229.2 729.6,230.8 729.9,228.3 730.2,216.8 730.5,246.7 730.8,231.2 731.1,220.5 731.4,249.0 731.7,245.3 732.0,261.5 732.3,229.0 732.6,231.8 732.9,258.1 733.2,227.2 733.5,245.0 733.8,244.3 734.1,236.3 734.4,234.2 734.7,255.3 735.0,241.4 735.3,246.0 735.6,232.4 735.9,256.0 736.2,234.4 736.5,274.9 736.8,243.5 737.1,236.1 737.4,244.7 737.7,239.9 738.0,243.3 738.3,274.3 738.6,262.9 738.9,244.7 739.2,254.4 739.5,259.7 739.8,245.4 740.1,253.1 740.4,272.2 740.7,255.4 741.0,260.1 741.3,267.0 741.6,256.3 741.9,257.8 742.2,251.9 742.5,251.8 742.8,253.9 743.1,254.5 743.4,248.0 743.7,249.0 744.0,246.2 744.3,245.7 744.6,254.7 744.9,241.2 745.2,256.3 745.5,235.9 745.8,224.7 746.1,240.7 746.4,237.8 746.7,218.1 747.0,237.8 747.2,249.8 747.5,230.7 747.8,245.3 748.1,226.1 748.4,248.2 748.7,229.9 749.0,227.1 749.3,218.0 749.6,225.8 749.9,245.6 750.2,229.6 750.5,231.9 750.8,219.4 751.1,239.4 751.4,238.5 751.7,232.1 752.0,240.2 752.3,251.6 752.6,248.4 752.9,239.0 753.2,241.6 753.5,254.2 753.8,245.9 754.1,243.4 754.4,277.3 754.7,267.3 755.0,278.1 755.3,272.6 755.6,246.7 755.9,248.6 756.2,278.0 756.5,244.9 756.8,243.2 757.1,253.5 757.4,250.9 757.7,251.6 758.0,264.0 758.3,243.4 758.6,270.0 758.9,264.3 759.2,294.1 759.5,250.0 759.8,264.4 760.1,240.2 760.4,240.1 760.7,289.4 761.0,255.0 761.3,252.2 761.6,256.2 761.9,261.9 762.2,253.3 762.5,247.9 762.8,248.2 763.1,249.7 763.4,241.6 763.7,247.6 764.0,230.6 764.3,252.4 764.6,242.7 764.9,236.1 765.2,234.2 765.5,225.6 765.8,244.7 766.1,227.8 766.4,236.8 766.7,262.7 767.0,226.0 767.3,250.5 767.6,238.5 767.9,226.6 768.2,237.3 768.5,240.9 768.7,225.5 769.0,221.8 769.3,239.8 769.6,237.6 769.9,230.5 770.2,234.8 770.5,239.4 770.8,220.8 771.1,241.8 771.4,250.2 771.7,244.7 772.0,237.3 772.3,250.6 772.6,254.8 772.9,264.9 773.2,226.5 773.5,240.2 773.8,261.8 774.1,242.7 774.4,244.3 774.7,238.3 775.0,262.5 775.3,240.2 775.6,244.5 775.9,268.3 776.2,252.5 776.5,253.0 776.8,253.0 777.1,290.8 777.4,255.6 777.7,263.4 778.0,251.9 778.3,257.0 778.6,265.0 778.9,269.5 779.2,259.4 779.5,252.5 779.8,255.1 780.1,272.1 780.4,238.0 780.7,243.3 781.0,250.0 781.3,247.6 781.6,243.1 781.9,245.3 782.2,249.1 782.5,235.1 782.8,246.7 783.1,247.3 783.4,242.5 783.7,243.2 784.0,239.4 784.3,213.6 784.6,245.1 784.9,233.6 785.2,228.8 785.5,255.9 785.8,238.4 786.1,254.9 786.4,242.0 786.7,252.5 787.0,229.7 787.3,237.8 787.6,220.0 787.9,234.2 788.2,236.2 788.5,239.7 788.8,243.7 789.1,224.7 789.4,253.1 789.7,225.1 789.9,239.7 790.2,254.7 790.5,238.4 790.8,247.8 791.1,249.2 791.4,230.3 791.7,236.9 792.0,279.1 792.3,247.4 792.6,248.5 792.9,252.6 793.2,233.5 793.5,259.6 793.8,260.2 794.1,249.3 794.4,240.9 794.7,271.9 795.0,256.0 795.3,258.1 795.6,249.3 795.9,236.7 796.2,249.3 796.5,263.7 796.8,268.8 797.1,295.1 797.4,258.7 797.7,249.6 798.0,250.5 798.3,262.9 798.6,240.8 798.9,269.4 799.2,243.1 799.5,247.6 799.8,258.6 800.1,240.6 800.4,263.8 800.7,259.9 801.0,244.4 801.3,229.9 801.6,237.2 801.9,252.8 802.2,228.8 802.5,221.9 802.8,239.2 803.1,240.3 803.4,253.3 803.7,252.7 804.0,257.5 804.3,250.1 804.6,258.8 804.9,239.4 805.2,244.0 805.5,238.7 805.8,228.7 806.1,245.7 806.4,240.1 806.7,229.1 807.0,209.9 807.3,223.5 807.6,263.2 807.9,227.0 808.2,229.8 808.5,239.2 808.8,247.7 809.1,234.2 809.4,221.6 809.7,230.0 810.0,244.4 810.3,245.4 810.6,236.8 810.9,238.4 811.1,230.8 811.4,244.9 811.7,248.7 812.0,254.3 812.3,252.4 812.6,257.2 812.9,259.7 813.2,274.6 813.5,259.5 813.8,247.7 814.1,242.3 814.4,255.5 814.7,238.9 815.0,242.1 815.3,289.2 815.6,256.3 815.9,257.7 816.2,253.6 816.5,247.6 816.8,263.0 817.1,247.2 817.4,283.9 817.7,248.9 818.0,270.5 818.3,269.7 818.6,243.4 818.9,259.9 819.2,244.0 819.5,250.6 819.8,245.7 820.1,252.2 820.4,271.6 820.7,233.5 821.0,232.5 821.3,242.7 821.6,244.2 821.9,251.3 822.2,253.2 822.5,252.7 822.8,257.6 823.1,240.0 823.4,225.3 823.7,241.8 824.0,230.7 824.3,229.2 824.6,242.8 824.9,225.6 825.2,232.5 825.5,216.6 825.8,216.8 826.1,233.7 826.4,234.6 826.7,216.5 827.0,245.4 827.3,217.0 827.6,222.8 827.9,241.7 828.2,238.3 828.5,229.2 828.8,254.0 829.1,252.7 829.4,232.0 829.7,238.3 830.0,238.5 830.3,221.1 830.6,242.2 830.9,250.9 831.2,236.3 831.5,241.1 831.8,254.0 832.1,261.5 832.3,245.5 832.6,256.0 832.9,262.1 833.2,261.1 833.5,240.8 833.8,257.0 834.1,253.3 834.4,276.8 834.7,275.6 835.0,285.3 835.3,258.6 835.6,266.7 835.9,291.5 836.2,236.8 836.5,255.3 836.8,264.8 837.1,244.0 837.4,248.7 837.7,248.3 838.0,236.9 838.3,252.7 838.6,241.5 838.9,259.7 839.2,262.3 839.5,260.1 839.8,242.8 840.1,244.4 840.4,249.9 840.7,238.4 841.0,230.8 841.3,259.9 841.6,233.5 841.9,229.6 842.2,234.5 842.5,231.4 842.8,239.6 843.1,251.1 843.4,223.3 843.7,243.2 844.0,226.4 844.3,217.6 844.6,219.7 844.9,227.3 845.2,228.2 845.5,220.4 845.8,219.7 846.1,246.3 846.4,254.5 846.7,236.7 847.0,235.0 847.3,241.5 847.6,241.8 847.9,248.5 848.2,241.9 848.5,267.3 848.8,240.5 849.1,237.4 849.4,242.0 849.7,261.5 850.0,254.4 850.3,247.2 850.6,252.2 850.9,249.0 851.2,249.8 851.5,268.6 851.8,252.6 852.1,238.7 852.4,265.9 852.7,272.4 853.0,262.0 853.3,265.5 853.5,259.4 853.8,264.5 854.1,263.1 854.4,279.7 854.7,266.4 855.0,271.5 855.3,268.7 855.6,269.9 855.9,299.7 856.2,304.7 856.5,299.9 856.8,280.1 857.1,294.1 857.4,323.1 857.7,305.9 858.0,328.9 858.3,283.1 858.6,297.8 858.9,322.7 859.2,300.1 859.5,279.6 859.8,300.1 860.1,326.9 860.4,310.8 860.7,297.7 861.0,287.6 861.3,297.3 861.6,299.3 861.9,323.0 862.2,298.7 862.5,290.3 862.8,319.6 863.1,320.0 863.4,320.7 863.7,303.5 864.0,310.4 864.3,289.7 864.6,293.3 864.9,300.5 865.2,304.3 865.5,332.7 865.8,311.7 866.1,308.4 866.4,290.7 866.7,307.9 867.0,295.3 867.3,302.9 867.6,300.5 867.9,313.9 868.2,331.4 868.5,298.5 868.8,295.8 869.1,341.1 869.4,315.2 869.7,309.5 870.0,299.9 870.3,328.3 870.6,286.7 870.9,310.8 871.2,302.6 871.5,308.5 871.8,292.6 872.1,291.3 872.4,281.8 872.7,293.2 873.0,277.8 873.3,268.6 873.6,250.2 873.9,256.6 874.2,259.7 874.5,240.4 874.7,255.7 875.0,238.6 875.3,249.1 875.6,256.9 875.9,253.7 876.2,245.2 876.5,272.3 876.8,247.0 877.1,279.9 877.4,282.1 877.7,235.7 878.0,245.6 878.3,236.4 878.6,239.0 878.9,229.2 879.2,243.0 879.5,246.3 879.8,242.6 880.1,269.5 880.4,229.5 880.7,266.5 881.0,230.9 881.3,227.3 881.6,250.1 881.9,247.7 882.2,250.4 882.5,243.3 882.8,234.1 883.1,238.0 883.4,236.2 883.7,243.1 884.0,215.3 884.3,232.5 884.6,242.0 884.9,249.5 885.2,230.5 885.5,236.4 885.8,229.0 886.1,238.9 886.4,232.3 886.7,248.7 887.0,268.7 887.3,250.0 887.6,257.1 887.9,257.4 888.2,238.2 888.5,241.7 888.8,246.4 889.1,254.2 889.4,243.2 889.7,252.4 890.0,249.1 890.3,244.3 890.6,256.6 890.9,259.1 891.2,244.0 891.5,260.6 891.8,257.6 892.1,246.9 892.4,261.3 892.7,265.6 893.0,242.8 893.3,251.3 893.6,269.7 893.9,255.4 894.2,261.4 894.5,256.3 894.8,239.4 895.1,277.0 895.4,274.6 895.7,244.5 895.9,256.9 896.2,258.1 896.5,267.5 896.8,232.9 897.1,233.5 897.4,246.9 897.7,251.4 898.0,236.0 898.3,231.9 898.6,237.3 898.9,240.8 899.2,254.1 899.5,236.0 899.8,217.9 900.1,247.6 900.4,257.5 900.7,236.0 901.0,222.5 901.3,220.9 901.6,237.4 901.9,236.7 902.2,215.2 902.5,228.3 902.8,222.7 903.1,233.7 903.4,225.7 903.7,233.1 904.0,222.2 904.3,246.8 904.6,253.9 904.9,232.4 905.2,269.8 905.5,234.7 905.8,229.6 906.1,236.4 906.4,240.8 906.7,236.7 907.0,242.8 907.3,265.9 907.6,247.4 907.9,258.7 908.2,233.8 908.5,241.3 908.8,251.6 909.1,247.2 909.4,255.1 909.7,239.1 910.0,263.9 910.3,236.5 910.6,244.3 910.9,269.5 911.2,262.2 911.5,255.5 911.8,253.7 912.1,247.7 912.4,262.4 912.7,267.7 913.0,255.7 913.3,265.3 913.6,258.8 913.9,267.7 914.2,231.2 914.5,243.7 914.8,250.8 915.1,241.6 915.4,248.2 915.7,254.9 916.0,240.6 916.3,262.0 916.6,253.8 916.9,233.7 917.1,240.8 917.4,233.2 917.7,237.1 918.0,257.2 918.3,243.9 918.6,227.3 918.9,238.2 919.2,227.5 919.5,234.3 919.8,249.8 920.1,223.8 920.4,235.8 920.7,216.3 921.0,232.0 921.3,236.3 921.6,235.3 921.9,228.1 922.2,260.6 922.5,238.0 922.8,269.7 923.1,225.4 923.4,235.4 923.7,227.6 924.0,222.1 924.3,246.8 924.6,230.0 924.9,251.6 925.2,274.8 925.5,237.4 925.8,253.8 926.1,227.5 926.4,238.1 926.7,278.1 927.0,247.2 927.3,255.8 927.6,241.1 927.9,253.0 928.2,238.9 928.5,245.2 928.8,232.6 929.1,248.7 929.4,262.3 929.7,256.4 930.0,266.5 930.3,272.2 930.6,256.3 930.9,253.8 931.2,262.4 931.5,257.0 931.8,269.6 932.1,263.9 932.4,260.7 932.7,282.5 933.0,260.2 933.3,267.1 933.6,256.3 933.9,283.6 934.2,245.2 934.5,236.3 934.8,249.6 935.1,242.1 935.4,245.2 935.7,237.3 936.0,243.8 936.3,265.3 936.6,225.8 936.9,264.7 937.2,234.3 937.5,231.1 937.8,257.0 938.1,243.1 938.3,240.7 938.6,234.7 938.9,226.7 939.2,252.2 939.5,235.4 939.8,222.9 940.1,221.1 940.4,219.5 940.7,222.7 941.0,234.9 941.3,246.8 941.6,222.6 941.9,236.5 942.2,228.0 942.5,249.7 942.8,262.0 943.1,234.3 943.4,224.3 943.7,247.1 944.0,259.5 944.3,237.1 944.6,239.0 944.9,250.7 945.2,266.0 945.5,231.5 945.8,252.3 946.1,234.1 946.4,270.2 946.7,246.8 947.0,261.2 947.3,254.9 947.6,247.6 947.9,257.2 948.2,247.0 948.5,252.7 948.8,265.6 949.1,275.6 949.4,270.8 949.7,250.6 950.0,274.9 950.3,291.8 950.6,250.3 950.9,247.0 951.2,273.5 951.5,249.0 951.8,263.0 952.1,269.1 952.4,247.3 952.7,265.8 953.0,244.5 953.3,251.4 953.6,265.9 953.9,238.3 954.2,256.5 954.5,250.4 954.8,239.2 955.1,232.6 955.4,250.0 955.7,242.6 956.0,253.8 956.3,263.5 956.6,235.9 956.9,232.4 957.2,225.2 957.5,238.9 957.8,217.8 958.1,246.4 958.4,242.3 958.7,230.1 959.0,259.8 959.3,225.9 959.6,231.4 959.8,230.0 960.1,253.6 960.4,236.9 960.7,228.9 961.0,228.3 961.3,234.6 961.6,229.1 961.9,218.1 962.2,240.4 962.5,256.2 962.8,220.7 963.1,252.2 963.4,230.0 963.7,238.6 964.0,254.9 964.3,237.0 964.6,228.4 964.9,281.9 965.2,244.3 965.5,247.6 965.8,234.9 966.1,242.8 966.4,267.4 966.7,287.6 967.0,248.3 967.3,246.1 967.6,260.3 967.9,258.3 968.2,271.1 968.5,250.9 968.8,258.6 969.1,252.4 969.4,262.6 969.7,268.4 970.0,264.9 970.3,239.0 970.6,243.0 970.9,244.1 971.2,240.9 971.5,254.5 971.8,251.5 972.1,269.5 972.4,242.4 972.7,236.9 973.0,252.0 973.3,229.9 973.6,258.0 973.9,246.2 974.2,242.0 974.5,231.7 974.8,229.5 975.1,250.5 975.4,230.7 975.7,214.1 976.0,244.8 976.3,229.0 976.6,238.4 976.9,226.3 977.2,237.4 977.5,224.4 977.8,241.7 978.1,229.1 978.4,223.7 978.7,228.9 979.0,237.6 979.3,216.3 979.6,236.6 979.9,222.5 980.2,237.0 980.5,230.2 980.8,232.5 981.0,240.7 981.3,237.4 981.6,255.7 981.9,242.3 982.2,242.0 982.5,241.1 982.8,252.5 983.1,251.9 983.4,274.0 983.7,235.2 984.0,254.4 984.3,260.7 984.6,283.8 984.9,256.9 985.2,241.0 985.5,235.7 985.8,284.7 986.1,238.1 986.4,261.6 986.7,269.0 987.0,256.5 987.3,258.7 987.6,248.8 987.9,261.1 988.2,262.3 988.5,258.4 988.8,252.0 989.1,244.4 989.4,254.8 989.7,248.6 990.0,244.6 990.3,246.3 990.6,250.6 990.9,260.7 991.2,256.3 991.5,257.8 991.8,233.5 992.1,270.4 992.4,235.7 992.7,234.1 993.0,239.7 993.3,249.4 993.6,241.5 993.9,236.8 994.2,239.6 994.5,263.0 994.8,248.5 995.1,240.7 995.4,247.6 995.7,232.6 996.0,234.5 996.3,217.9 996.6,237.4 996.9,234.1 997.2,216.3 997.5,221.5 997.8,241.6 998.1,222.8 998.4,241.8 998.7,227.4 999.0,212.6 999.3,236.4 999.6,225.5 999.9,229.5 1000.2,222.5 1000.5,243.2 1000.8,237.3 1001.1,232.5 1001.4,243.7 1001.7,247.6 1002.0,238.8 1002.2,235.1 1002.5,238.1 1002.8,254.5 1003.1,243.2 1003.4,245.4 1003.7,235.2 1004.0,256.7 1004.3,253.3 1004.6,235.6 1004.9,254.6 1005.2,263.4 1005.5,258.1 1005.8,259.7 1006.1,260.8 1006.4,242.2 1006.7,265.2 1007.0,277.4 1007.3,246.9 1007.6,255.8 1007.9,251.8 1008.2,253.9 1008.5,250.3 1008.8,247.8 1009.1,250.6 1009.4,272.7 1009.7,250.8 1010.0,262.0 1010.3,246.4 1010.6,247.8 1010.9,234.7 1011.2,257.3 1011.5,257.5 1011.8,257.3 1012.1,238.3 1012.4,256.2 1012.7,254.4 1013.0,234.2 1013.3,255.3 1013.6,260.6 1013.9,250.8 1014.2,236.4 1014.5,254.5 1014.8,235.5 1015.1,243.3 1015.4,225.2 1015.7,235.2 1016.0,215.7 1016.3,232.3 1016.6,240.0 1016.9,228.5 1017.2,232.7 1017.5,237.5 1017.8,211.8 1018.1,220.9 1018.4,223.8 1018.7,224.6 1019.0,247.3 1019.3,243.1 1019.6,252.7 1019.9,228.1 1020.2,223.3 1020.5,244.9 1020.8,242.2 1021.1,246.8 1021.4,239.6 1021.7,242.6 1022.0,241.8 1022.3,240.9 1022.6,245.4 1022.9,250.6 1023.2,236.7 1023.4,245.4 1023.7,259.9 1024.0,238.4 1024.3,253.3 1024.6,244.7 1024.9,255.1 1025.2,239.8 1025.5,240.7 1025.8,256.8 1026.1,259.7 1026.4,262.4 1026.7,252.9 1027.0,251.4 1027.3,283.7 1027.6,266.7 1027.9,241.4 1028.2,251.5 1028.5,281.9 1028.8,251.4 1029.1,259.8 1029.4,254.5 1029.7,260.9 1030.0,252.5 1030.3,260.8 1030.6,251.9 1030.9,255.5 1031.2,235.6 1031.5,247.3 1031.8,240.0 1032.1,249.0 1032.4,233.0 1032.7,237.4 1033.0,244.2 1033.3,227.4 1033.6,238.9 1033.9,215.1 1034.2,232.4 1034.5,232.2 1034.8,231.0 1035.1,219.5 1035.4,228.9 1035.7,234.9 1036.0,244.2 1036.3,214.3 1036.6,218.7 1036.9,217.6 1037.2,233.5 1037.5,248.0 1037.8,231.8 1038.1,246.9 1038.4,242.3 1038.7,225.7 1039.0,244.7 1039.3,255.4 1039.6,239.5 1039.9,265.6 1040.2,236.9 1040.5,255.1 1040.8,231.5 1041.1,263.8 1041.4,262.1 1041.7,252.4 1042.0,264.6 1042.3,250.7 1042.6,244.6 1042.9,253.7 1043.2,247.1 1043.5,251.0 1043.8,254.2 1044.1,266.3 1044.4,259.0 1044.6,247.1 1044.9,248.6 1045.2,252.5 1045.5,269.5 1045.8,246.5 1046.1,266.3 1046.4,256.3 1046.7,240.0 1047.0,282.4 1047.3,253.5 1047.6,244.9 1047.9,255.8 1048.2,277.2 1048.5,241.2 1048.8,237.3 1049.1,233.6 1049.4,260.9 1049.7,268.1 1050.0,242.3 1050.3,226.4 1050.6,246.0 1050.9,232.5 1051.2,248.7 1051.5,234.6 1051.8,231.9 1052.1,243.2 1052.4,221.4 1052.7,238.3 1053.0,218.9 1053.3,242.9 1053.6,250.2 1053.9,260.3 1054.2,221.4 1054.5,228.7 1054.8,234.8 1055.1,238.0 1055.4,236.0 1055.7,218.5 1056.0,226.2 1056.3,268.8 1056.6,252.5 1056.9,257.1 1057.2,232.4 1057.5,235.5 1057.8,228.7 1058.1,244.1 1058.4,244.0 1058.7,248.2 1059.0,234.2 1059.3,258.0 1059.6,250.5 1059.9,274.3 1060.2,237.5 1060.5,265.3 1060.8,253.6 1061.1,249.0 1061.4,254.1 1061.7,285.7 1062.0,245.6 1062.3,244.2 1062.6,251.6 1062.9,258.9 1063.2,255.8 1063.5,236.3 1063.8,266.8 1064.1,269.9 1064.4,250.0 1064.7,242.7 1065.0,247.8 1065.3,257.4 1065.6,239.9 1065.8,262.0 1066.1,248.5 1066.4,280.1 1066.7,244.0 1067.0,252.2 1067.3,238.1 1067.6,285.7 1067.9,297.2 1068.2,248.7 1068.5,249.5 1068.8,243.5 1069.1,248.8 1069.4,236.3 1069.7,259.5 1070.0,237.3 1070.3,230.1 1070.6,253.3 1070.9,221.5 1071.2,239.2 1071.5,246.0 1071.8,230.9 1072.1,230.3 1072.4,231.3 1072.7,258.5 1073.0,224.5 1073.3,223.7 1073.6,240.9 1073.9,213.8 1074.2,230.4 1074.5,226.2 1074.8,252.1 1075.1,226.8 1075.4,247.9 1075.7,255.2 1076.0,233.3 1076.3,222.8 1076.6,244.7 1076.9,250.7 1077.2,227.0 1077.5,229.5 1077.8,240.6 1078.1,237.8 1078.4,254.9 1078.7,259.9 1079.0,262.5 1079.3,248.9 1079.6,238.0 1079.9,250.6 1080.2,247.6 1080.5,241.7 1080.8,282.9 1081.1,241.2 1081.4,248.1 1081.7,265.7 1082.0,256.2 1082.3,275.1 1082.6,249.5 1082.9,256.2 1083.2,259.8 1083.5,274.9 1083.8,254.9 1084.1,253.2 1084.4,250.9 1084.7,277.9 1085.0,259.4 1085.3,260.0 1085.6,244.9 1085.9,244.9 1086.2,246.9 1086.5,241.9 1086.8,249.2 1087.0,227.9 1087.3,250.7 1087.6,247.4 1087.9,261.1 1088.2,242.0 1088.5,241.4 1088.8,231.9 1089.1,238.4 1089.4,257.1 1089.7,240.0 1090.0,238.7 1090.3,231.9 1090.6,236.5 1090.9,242.3 1091.2,234.4 1091.5,233.0 1091.8,246.6 1092.1,242.6 1092.4,230.8 1092.7,220.8 1093.0,228.2 1093.3,229.4 1093.6,225.2 1093.9,230.3 1094.2,253.2 1094.5,238.9 1094.8,222.3 1095.1,233.4 1095.4,249.5 1095.7,235.0 1096.0,238.9 1096.3,219.3 1096.6,250.5 1096.9,234.1 1097.2,229.7 1097.5,235.7 1097.8,256.7 1098.1,242.5 1098.4,254.7 1098.7,250.5 1099.0,240.2 1099.3,269.8 1099.6,239.5 1099.9,234.7 1100.2,242.8 1100.5,255.1 1100.8,236.6 1101.1,249.5 1101.4,278.7 1101.7,266.7 1102.0,252.9 1102.3,255.7 1102.6,252.5 1102.9,254.1 1103.2,267.4 1103.5,261.9 1103.8,252.7 1104.1,238.2 1104.4,244.4 1104.7,240.7 1105.0,245.5 1105.3,253.2 1105.6,256.9 1105.9,266.6 1106.2,249.2 1106.5,244.3 1106.8,254.3 1107.1,269.5 1107.4,275.4 1107.7,272.0 1108.0,229.2 1108.2,227.0 1108.5,231.9 1108.8,234.0 1109.1,234.0 1109.4,256.4 1109.7,217.2 1110.0,236.9 1110.3,234.2 1110.6,239.6 1110.9,253.5 1111.2,229.6 1111.5,221.4 1111.8,225.8 1112.1,248.1 1112.4,213.8 1112.7,218.8 1113.0,249.8 1113.3,236.5 1113.6,214.8 1113.9,237.8 1114.2,238.7 1114.5,234.5 1114.8,232.3 1115.1,238.7 1115.4,229.1 1115.7,242.4 1116.0,247.2 1116.3,267.4 1116.6,239.3 1116.9,224.2 1117.2,238.1 1117.5,233.3 1117.8,242.4 1118.1,243.7 1118.4,280.7 1118.7,255.3 1119.0,253.0 1119.3,243.0 1119.6,254.0 1119.9,276.6 1120.2,281.0 1120.5,257.9 1120.8,254.5 1121.1,237.1 1121.4,273.3 1121.7,266.0 1122.0,266.2 1122.3,242.6 1122.6,260.9 1122.9,258.6 1123.2,250.1 1123.5,243.7 1123.8,252.9 1124.1,246.2 1124.4,278.1 1124.7,240.0 1125.0,242.1 1125.3,226.9 1125.6,248.5 1125.9,234.0 1126.2,236.8 1126.5,245.5 1126.8,272.5 1127.1,233.7 1127.4,242.0 1127.7,226.3 1128.0,239.5 1128.3,260.2 1128.6,237.3 1128.9,236.3 1129.2,231.6 1129.4,228.5 1129.7,234.7 1130.0,258.7 1130.3,249.8 1130.6,231.3 1130.9,230.1 1131.2,219.0 1131.5,227.3 1131.8,219.7 1132.1,228.0 1132.4,236.2 1132.7,216.0 1133.0,234.3 1133.3,235.5 1133.6,233.5 1133.9,226.6 1134.2,240.3 1134.5,235.7 1134.8,246.7 1135.1,235.4 1135.4,277.1 1135.7,250.1 1136.0,249.2 1136.3,246.1 1136.6,249.9 1136.9,236.0 1137.2,239.3 1137.5,260.1 1137.8,246.1 1138.1,235.8 1138.4,257.6 1138.7,255.1 1139.0,246.7 1139.3,272.3 1139.6,255.2 1139.9,242.7 1140.2,239.7 1140.5,268.6 1140.8,246.2 1141.1,274.3 1141.4,239.8 1141.7,250.9 1142.0,257.0 1142.3,258.5 1142.6,247.7 1142.9,238.4 1143.2,245.2 1143.5,239.4 1143.8,239.7 1144.1,239.5 1144.4,229.2 1144.7,235.7 1145.0,244.3 1145.3,240.6 1145.6,262.9 1145.9,265.2 1146.2,245.6 1146.5,240.7 1146.8,243.8 1147.1,241.0 1147.4,227.7 1147.7,233.9 1148.0,260.9 1148.3,227.5 1148.6,226.8 1148.9,232.9 1149.2,229.8 1149.5,237.6 1149.8,225.7 1150.1,235.3 1150.4,229.7 1150.7,218.7 1150.9,227.5 1151.2,229.0 1151.5,216.8 1151.8,198.1 1152.1,222.1 1152.4,230.3 1152.7,240.1 1153.0,240.0 1153.3,230.1 1153.6,221.5 1153.9,248.6 1154.2,253.7 1154.5,226.6 1154.8,232.3 1155.1,239.2 1155.4,262.5 1155.7,233.0 1156.0,264.9 1156.3,236.6 1156.6,249.0 1156.9,246.8 1157.2,252.7 1157.5,259.5 1157.8,254.8 1158.1,245.2 1158.4,283.1 1158.7,271.9 1159.0,246.8 1159.3,251.9 1159.6,239.2 1159.9,272.9 1160.2,269.8 1160.5,257.6 1160.8,254.8 1161.1,252.2 1161.4,251.6 1161.7,245.9 1162.0,278.8 1162.3,248.9 1162.6,256.6 1162.9,256.8 1163.2,233.1 1163.5,251.2 1163.8,234.9 1164.1,223.7 1164.4,248.5 1164.7,243.7 1165.0,243.7 1165.3,240.4 1165.6,227.3 1165.9,231.2 1166.2,237.5 1166.5,237.5 1166.8,247.7 1167.1,232.4 1167.4,251.5 1167.7,243.7 1168.0,232.4 1168.3,241.3 1168.6,251.2 1168.9,232.2 1169.2,242.7 1169.5,223.2 1169.8,225.8 1170.1,246.3 1170.4,225.9 1170.7,223.8 1171.0,229.7 1171.3,235.0 1171.6,238.7 1171.9,217.5 1172.1,233.7 1172.4,235.8 1172.7,240.6 1173.0,253.5 1173.3,245.2 1173.6,234.3 1173.9,237.6 1174.2,238.7 1174.5,241.6 1174.8,254.9 1175.1,244.2 1175.4,236.4 1175.7,247.1 1176.0,284.7 1176.3,258.2 1176.6,277.7 1176.9,262.0 1177.2,232.4 1177.5,257.5 1177.8,264.3 1178.1,277.8 1178.4,258.2 1178.7,244.1 1179.0,267.7 1179.3,253.6 1179.6,254.9 1179.9,263.4 1180.2,248.0 1180.5,259.3 1180.8,262.9 1181.1,260.8 1181.4,249.0 1181.7,233.5 1182.0,240.3 1182.3,257.5 1182.6,247.4 1182.9,257.5 1183.2,257.7 1183.5,272.7 1183.8,240.4 1184.1,250.1 1184.4,244.7 1184.7,237.5 1185.0,260.0 1185.3,255.2 1185.6,233.8 1185.9,251.3 1186.2,249.4 1186.5,226.5 1186.8,235.7 1187.1,221.9 1187.4,217.2 1187.7,218.6 1188.0,251.2 1188.3,228.1 1188.6,220.1 1188.9,224.5 1189.2,233.9 1189.5,244.2 1189.8,224.4 1190.1,252.3 1190.4,257.1 1190.7,245.7 1191.0,235.0 1191.3,223.5 1191.6,240.5 1191.9,228.7 1192.2,251.3 1192.5,245.5 1192.8,245.5 1193.1,250.4 1193.3,231.6 1193.6,264.3 1193.9,233.7 1194.2,242.7 1194.5,239.6 1194.8,257.3 1195.1,241.8 1195.4,275.3 1195.7,252.0 1196.0,247.9 1196.3,261.4 1196.6,272.9 1196.9,265.5 1197.2,259.3 1197.5,261.7 1197.8,289.4 1198.1,251.5 1198.4,277.1 1198.7,255.3 1199.0,266.5 1199.3,280.7 1199.6,246.9 1199.9,257.1 1200.2,249.4 1200.5,248.1 1200.8,248.5 1201.1,260.4 1201.4,245.1 1201.7,239.8 1202.0,256.6 1202.3,261.2 1202.6,253.6 1202.9,234.7 1203.2,245.4 1203.5,229.6 1203.8,247.4 1204.1,241.2 1204.4,226.4 1204.7,223.9 1205.0,231.1 1205.3,252.6 1205.6,236.4 1205.9,236.4 1206.2,248.5 1206.5,221.8 1206.8,228.6 1207.1,243.1 1207.4,246.5 1207.7,227.7 1208.0,254.1 1208.3,220.6 1208.6,236.6 1208.9,249.2 1209.2,227.1 1209.5,244.9 1209.8,236.4 1210.1,233.9 1210.4,249.1 1210.7,233.3 1211.0,225.9 1211.3,229.1 1211.6,241.2 1211.9,233.3 1212.2,256.6 1212.5,245.3 1212.8,233.3 1213.1,258.8 1213.4,244.0 1213.7,238.6 1214.0,246.6 1214.3,232.6 1214.5,254.4 1214.8,257.2 1215.1,271.4 1215.4,250.1 1215.7,252.1 1216.0,264.7 1216.3,251.2 1216.6,241.5 1216.9,263.5 1217.2,245.4 1217.5,251.7 1217.8,260.2 1218.1,292.2 1218.4,257.9 1218.7,265.4 1219.0,251.1 1219.3,260.1 1219.6,255.1 1219.9,260.8 1220.2,257.7 1220.5,245.5 1220.8,275.9 1221.1,236.6 1221.4,240.8 1221.7,274.8 1222.0,242.0 1222.3,248.9 1222.6,250.8 1222.9,245.0 1223.2,243.3 1223.5,251.3 1223.8,245.6 1224.1,228.1 1224.4,260.0 1224.7,227.8 1225.0,246.1 1225.3,229.8 1225.6,252.9 1225.9,243.5 1226.2,235.2 1226.5,264.9 1226.8,248.7 1227.1,214.8 1227.4,222.1 1227.7,221.7 1228.0,225.9 1228.3,240.3 1228.6,217.8 1228.9,215.2 1229.2,251.4 1229.5,237.2 1229.8,239.4 1230.1,239.5 1230.4,230.3 1230.7,240.6 1231.0,240.2 1231.3,242.5 1231.6,261.3 1231.9,228.3 1232.2,264.9 1232.5,250.1 1232.8,249.7 1233.1,244.1 1233.4,242.7 1233.7,280.8 1234.0,249.0 1234.3,265.2 1234.6,247.9 1234.9,251.0 1235.2,290.4 1235.5,273.8 1235.7,257.7 1236.0,250.9 1236.3,250.1 1236.6,255.2 1236.9,266.1 1237.2,254.6 1237.5,257.5 1237.8,262.3 1238.1,244.2 1238.4,252.4 1238.7,251.6 1239.0,243.7 1239.3,257.2 1239.6,251.1 1239.9,265.6 1240.2,259.8 1240.5,267.0 1240.8,261.8 1241.1,258.8 1241.4,246.1 1241.7,238.0 1242.0,249.6 1242.3,240.6 1242.6,221.2 1242.9,248.0 1243.2,242.4 1243.5,243.0 1243.8,221.3 1244.1,233.6 1244.4,256.2 1244.7,230.4 1245.0,244.8 1245.3,233.5 1245.6,224.1 1245.9,228.5 1246.2,243.1 1246.5,253.2 1246.8,239.3 1247.1,229.2 1247.4,241.4 1247.7,242.4 1248.0,235.2 1248.3,226.4 1248.6,272.5 1248.9,252.2 1249.2,257.7 1249.5,245.7 1249.8,232.1 1250.1,236.4 1250.4,241.4 1250.7,237.1 1251.0,246.0 1251.3,244.4 1251.6,230.4 1251.9,239.6 1252.2,236.3 1252.5,230.7 1252.8,266.9 1253.1,231.1 1253.4,268.8 1253.7,240.1 1254.0,256.0 1254.3,235.5 1254.6,243.1 1254.9,266.9 1255.2,251.2 1255.5,252.0 1255.8,267.1 1256.1,255.7 1256.4,264.9 1256.7,260.0 1256.9,256.3 1257.2,254.1 1257.5,267.6 1257.8,235.4 1258.1,271.1 1258.4,248.8 1258.7,257.5 1259.0,235.9 1259.3,253.3 1259.6,252.4 1259.9,229.3 1260.2,251.1 1260.5,244.6 1260.8,253.1 1261.1,236.9 1261.4,239.1 1261.7,254.4 1262.0,236.5 1262.3,245.0 1262.6,233.2 1262.9,251.8 1263.2,227.0 1263.5,224.7 1263.8,245.2 1264.1,233.8 1264.4,225.5 1264.7,250.1 1265.0,229.3 1265.3,226.0 1265.6,246.7 1265.9,241.8 1266.2,219.5 1266.5,229.0 1266.8,237.7 1267.1,249.0 1267.4,229.3 1267.7,244.0 1268.0,217.7 1268.3,235.1 1268.6,228.8 1268.9,238.2 1269.2,226.7 1269.5,238.5 1269.8,255.2 1270.1,241.6 1270.4,248.9 1270.7,244.0 1271.0,249.7 1271.3,248.5 1271.6,256.0 1271.9,254.4 1272.2,248.4 1272.5,254.8 1272.8,242.3 1273.1,245.3 1273.4,259.2 1273.7,271.4 1274.0,243.7 1274.3,262.2 1274.6,274.8 1274.9,268.7 1275.2,261.7 1275.5,244.2 1275.8,248.0 1276.1,254.3 1276.4,272.6 1276.7,257.8 1277.0,260.1 1277.3,237.5 1277.6,252.7 1277.9,228.5 1278.1,243.5 1278.4,257.1 1278.7,245.1 1279.0,257.2 1279.3,240.1 1279.6,278.2 1279.9,231.4 1280.2,240.1 1280.5,233.4 1280.8,257.6 1281.1,219.3 1281.4,255.9 1281.7,235.5 1282.0,254.1 1282.3,239.8 1282.6,231.4 1282.9,255.1 1283.2,234.8 1283.5,227.4 1283.8,244.5 1284.1,221.0 1284.4,231.5 1284.7,246.5 1285.0,239.7 1285.3,243.4 1285.6,233.9 1285.9,227.4 1286.2,235.2 1286.5,232.7 1286.8,237.3 1287.1,232.0 1287.4,227.7 1287.7,262.5 1288.0,239.1 1288.3,243.8 1288.6,228.4 1288.9,233.2 1289.2,262.6 1289.5,252.2 1289.8,274.2 1290.1,243.0 1290.4,245.4 1290.7,253.0 1291.0,272.0 1291.3,246.5 1291.6,263.9 1291.9,246.2 1292.2,265.1 1292.5,236.1 1292.8,242.0 1293.1,243.1 1293.4,286.1 1293.7,248.3 1294.0,248.0 1294.3,267.9 1294.6,258.1 1294.9,262.5 1295.2,247.0 1295.5,234.8 1295.8,269.0 1296.1,270.7 1296.4,246.4 1296.7,264.7 1297.0,242.1 1297.3,253.4 1297.6,243.4 1297.9,237.9 1298.2,244.1 1298.5,235.4 1298.8,258.1 1299.1,259.1 1299.3,240.4 1299.6,256.4 1299.9,241.1 1300.2,234.0 1300.5,239.0 1300.8,233.4 1301.1,233.7 1301.4,271.6 1301.7,237.8 1302.0,240.0 1302.3,219.6 1302.6,219.6 1302.9,238.1 1303.2,220.8 1303.5,232.3 1303.8,223.5 1304.1,249.1 1304.4,224.9 1304.7,225.3 1305.0,255.0 1305.3,230.1 1305.6,222.7 1305.9,237.8 1306.2,226.1 1306.5,250.9 1306.8,253.6 1307.1,258.9 1307.4,232.4 1307.7,278.2 1308.0,236.0 1308.3,247.3 1308.6,236.5 1308.9,243.5 1309.2,247.3 1309.5,240.9 1309.8,239.0 1310.1,238.5 1310.4,240.1 1310.7,243.4 1311.0,259.7 1311.3,255.9 1311.6,278.4 1311.9,258.7 1312.2,259.0 1312.5,244.4 1312.8,241.5 1313.1,275.2 1313.4,283.1 1313.7,266.4 1314.0,254.1 1314.3,238.8 1314.6,272.5 1314.9,272.4 1315.2,269.9 1315.5,239.5 1315.8,259.1 1316.1,253.9 1316.4,265.1 1316.7,242.3 1317.0,251.8 1317.3,246.5 1317.6,254.4 1317.9,251.9 1318.2,231.6 1318.5,249.7 1318.8,234.7 1319.1,246.2 1319.4,254.8 1319.7,235.4 1320.0,249.9 1320.3,236.4 1320.5,225.6 1320.8,238.5 1321.1,242.9 1321.4,222.3 1321.7,233.9 1322.0,240.6 1322.3,230.6 1322.6,222.1 1322.9,224.1 1323.2,227.4 1323.5,226.8 1323.8,234.1 1324.1,250.5 1324.4,235.2 1324.7,263.3 1325.0,232.2 1325.3,251.7 1325.6,256.0 1325.9,225.3 1326.2,238.6 1326.5,239.9 1326.8,247.0 1327.1,242.8 1327.4,253.5 1327.7,251.9 1328.0,246.5 1328.3,247.3 1328.6,283.8 1328.9,236.3 1329.2,259.2 1329.5,242.2 1329.8,240.3 1330.1,249.3 1330.4,259.9 1330.7,249.1 1331.0,261.3 1331.3,271.5 1331.6,293.2 1331.9,251.8 1332.2,258.5 1332.5,244.7 1332.8,258.8 1333.1,254.0 1333.4,254.3 1333.7,258.7 1334.0,248.8 1334.3,247.4 1334.6,246.5 1334.9,263.5 1335.2,253.6 1335.5,232.2 1335.8,246.5 1336.1,255.9 1336.4,267.8 1336.7,233.1 1337.0,234.2 1337.3,239.6 1337.6,248.1 1337.9,235.1 1338.2,229.7 1338.5,238.4 1338.8,238.8 1339.1,242.9 1339.4,237.3 1339.7,247.8 1340.0,232.3 1340.3,245.7 1340.6,241.6 1340.9,247.8 1341.2,251.5 1341.5,229.6 1341.8,213.3 1342.0,262.0 1342.3,232.2 1342.6,256.5 1342.9,234.4 1343.2,257.9 1343.5,236.7 1343.8,241.8 1344.1,236.4 1344.4,234.3 1344.7,241.2 1345.0,241.0 1345.3,251.8 1345.6,249.6 1345.9,246.6 1346.2,245.1 1346.5,242.1 1346.8,241.5 1347.1,265.5 1347.4,237.7 1347.7,244.6 1348.0,250.4 1348.3,250.8 1348.6,264.0 1348.9,246.9 1349.2,288.5 1349.5,289.4 1349.8,248.3 1350.1,264.7 1350.4,260.0 1350.7,268.0 1351.0,252.4 1351.3,273.7 1351.6,259.3 1351.9,253.8 1352.2,242.3 1352.5,245.7 1352.8,255.1 1353.1,246.1 1353.4,259.6 1353.7,252.7 1354.0,243.8 1354.3,237.1 1354.6,266.2 1354.9,253.6 1355.2,242.7 1355.5,240.2 1355.8,242.6 1356.1,246.7 1356.4,256.7 1356.7,259.0 1357.0,237.4 1357.3,247.8 1357.6,242.9 1357.9,248.5 1358.2,243.8 1358.5,249.2 1358.8,240.7 1359.1,238.8 1359.4,229.9 1359.7,245.4 1360.0,259.9 1360.3,236.2 1360.6,228.2 1360.9,236.6 1361.2,222.8 1361.5,232.2 1361.8,244.1 1362.1,226.7 1362.4,231.2 1362.7,238.6 1363.0,251.5 1363.2,267.9 1363.5,233.5 1363.8,231.4 1364.1,234.8 1364.4,240.3 1364.7,247.2 1365.0,228.0 1365.3,241.3 1365.6,234.2 1365.9,247.5 1366.2,239.8 1366.5,239.5 1366.8,259.3 1367.1,268.2 1367.4,244.7 1367.7,242.1 1368.0,246.4 1368.3,258.0 1368.6,254.5 1368.9,245.1 1369.2,230.2 1369.5,237.3 1369.8,256.0 1370.1,247.5 1370.4,265.3 1370.7,281.4 1371.0,273.3 1371.3,290.0 1371.6,271.9 1371.9,301.1 1372.2,290.6 1372.5,282.6 1372.8,302.3 1373.1,317.5 1373.4,296.2 1373.7,306.0 1374.0,301.4 1374.3,321.4 1374.6,317.6 1374.9,329.5 1375.2,323.5 1375.5,333.8 1375.8,344.5 1376.1,357.8 1376.4,349.0 1376.7,342.0 1377.0,329.5 1377.3,327.9 1377.6,336.6 1377.9,322.2 1378.2,311.6 1378.5,337.7 1378.8,321.9 1379.1,325.0 1379.4,325.2 1379.7,327.7 1380.0,373.6 1380.3,314.2 1380.6,368.8 1380.9,323.1 1381.2,315.1 1381.5,317.2 1381.8,342.3 1382.1,344.7 1382.4,321.5 1382.7,353.6 1383.0,304.4 1383.3,302.9 1383.6,325.4 1383.9,327.1 1384.2,322.4 1384.4,302.8 1384.7,343.1 1385.0,340.8 1385.3,323.3 1385.6,337.8 1385.9,320.0 1386.2,307.4 1386.5,322.7 1386.8,344.2 1387.1,332.5 1387.4,339.5 1387.7,355.2 1388.0,328.8 1388.3,322.3 1388.6,330.8 1388.9,318.6 1389.2,352.8 1389.5,342.3 1389.8,364.1 1390.1,339.2 1390.4,324.9 1390.7,341.9 1391.0,347.5 1391.3,332.8 1391.6,327.4 1391.9,340.2 1392.2,344.8 1392.5,328.4 1392.8,337.8 1393.1,328.4 1393.4,354.7 1393.7,345.7 1394.0,354.9 1394.3,373.5 1394.6,363.9 1394.9,340.1 1395.2,336.7 1395.5,352.1 1395.8,354.8 1396.1,333.3 1396.4,359.6 1396.7,342.6 1397.0,369.6 1397.3,379.9 1397.6,348.8 1397.9,352.8 1398.2,361.6 1398.5,378.5 1398.8,349.1 1399.1,365.3 1399.4,332.9 1399.7,346.3 1400.0,361.4 1400.3,371.4 1400.6,354.2 1400.9,363.6 1401.2,374.2 1401.5,346.1 1401.8,365.9 1402.1,347.3 1402.4,362.7 1402.7,349.8 1403.0,351.5 1403.3,342.2 1403.6,344.7 1403.9,369.5 1404.2,344.8 1404.5,334.9 1404.8,368.5 1405.1,346.7 1405.4,357.0 1405.6,351.1 1405.9,329.2 1406.2,372.0 1406.5,355.2 1406.8,373.6 1407.1,359.3 1407.4,346.0 1407.7,357.2 1408.0,372.1 1408.3,345.8 1408.6,352.1 1408.9,369.3 1409.2,351.7 1409.5,391.1 1409.8,355.9 1410.1,362.0 1410.4,345.2 1410.7,360.4 1411.0,387.3 1411.3,335.4 1411.6,358.7 1411.9,356.9 1412.2,382.4 1412.5,340.4 1412.8,343.0 1413.1,344.3 1413.4,354.3 1413.7,349.0 1414.0,350.5 1414.3,382.8 1414.6,345.9 1414.9,380.0 1415.2,353.4 1415.5,351.4 1415.8,390.0 1416.1,350.5 1416.4,356.0 1416.7,357.3 1417.0,366.1 1417.3,359.1 1417.6,351.8 1417.9,373.8 1418.2,379.1 1418.5,351.0 1418.8,402.5 1419.1,350.0 1419.4,402.7 1419.7,364.6 1420.0,349.3 1420.3,350.5 1420.6,369.9 1420.9,353.1 1421.2,354.1 1421.5,403.3 1421.8,359.1 1422.1,378.8 1422.4,345.5 1422.7,374.6 1423.0,345.6 1423.3,358.2 1423.6,353.7 1423.9,355.0 1424.2,359.9 1424.5,373.0 1424.8,372.6 1425.1,374.5 1425.4,381.5 1425.7,370.8 1426.0,364.8 1426.3,369.2 1426.6,355.0 1426.8,369.8 1427.1,356.3 1427.4,361.4 1427.7,350.9 1428.0,360.5 1428.3,354.3 1428.6,358.6 1428.9,366.8 1429.2,356.6 1429.5,382.2 1429.8,365.3 1430.1,365.1 1430.4,357.7 1430.7,388.3 1431.0,368.0 1431.3,361.2 1431.6,359.5 1431.9,375.2 1432.2,386.1 1432.5,364.4 1432.8,388.4 1433.1,368.0 1433.4,369.6 1433.7,366.8 1434.0,356.5 1434.3,360.0 1434.6,364.6 1434.9,362.3 1435.2,371.4 1435.5,366.0 1435.8,366.9 1436.1,376.6 1436.4,368.7 1436.7,353.8 1437.0,371.3 1437.3,368.7 1437.6,382.8 1437.9,381.6 1438.2,387.0 1438.5,380.2 1438.8,358.5 1439.1,371.2 1439.4,405.6 1439.7,360.1 1440.0,379.0 1440.3,414.2 1440.6,359.0 1440.9,371.5 1441.2,355.5 1441.5,370.1 1441.8,381.0 1442.1,380.8 1442.4,371.9 1442.7,379.6 1443.0,366.7 1443.3,374.7 1443.6,356.7 1443.9,379.2 1444.2,369.0 1444.5,356.5 1444.8,365.5 1445.1,358.6 1445.4,359.3 1445.7,374.8 1446.0,378.3 1446.3,410.0 1446.6,373.1 1446.9,374.5 1447.2,369.9 1447.5,358.4 1447.8,375.6 1448.0,376.6 1448.3,368.1 1448.6,375.5 1448.9,378.8 1449.2,382.7 1449.5,373.7 1449.8,369.8 1450.1,385.6 1450.4,409.4 1450.7,373.1 1451.0,384.9 1451.3,365.5 1451.6,365.1 1451.9,377.3 1452.2,352.3 1452.5,364.4 1452.8,368.5 1453.1,370.2 1453.4,362.7 1453.7,360.2 1454.0,369.6 1454.3,352.7 1454.6,373.5 1454.9,380.4 1455.2,384.2 1455.5,379.2 1455.8,376.3 1456.1,378.2 1456.4,380.9 1456.7,368.2 1457.0,390.2 1457.3,391.6 1457.6,374.6 1457.9,378.3 1458.2,385.2 1458.5,357.3 1458.8,377.5 1459.1,370.9 1459.4,391.0 1459.7,349.1 1460.0,378.6 1460.3,365.8 1460.6,372.4 1460.9,368.7 1461.2,381.6 1461.5,411.6 1461.8,395.2 1462.1,360.6 1462.4,369.5 1462.7,368.7 1463.0,381.5 1463.3,378.7 1463.6,379.4 1463.9,389.8 1464.2,368.3 1464.5,383.3 1464.8,399.0 1465.1,374.8 1465.4,376.5 1465.7,383.1 1466.0,372.8 1466.3,369.6 1466.6,364.9 1466.9,382.1 1467.2,383.6 1467.5,368.8 1467.8,374.9 1468.1,380.1 1468.4,367.5 1468.7,363.2 1469.0,410.6 1469.2,387.8 1469.5,412.5 1469.8,367.1 1470.1,378.9 1470.4,376.9 1470.7,357.7 1471.0,367.5 1471.3,373.9 1471.6,375.8 1471.9,398.5 1472.2,370.1 1472.5,377.8 1472.8,372.2 1473.1,363.4 1473.4,385.2 1473.7,371.1 1474.0,409.3 1474.3,402.7 1474.6,372.3 1474.9,368.3 1475.2,384.4"/>
<polyline stroke="#7E2F8E" points="252.5,447.7 252.8,450.6 253.1,452.6 253.4,447.0 253.7,452.9 254.0,442.9 254.3,446.5 254.6,447.8 254.9,464.2 255.2,472.7 255.5,462.9 255.8,445.8 256.1,447.8 256.4,467.0 256.7,445.8 257.0,456.4 257.3,456.3 257.6,439.1 257.9,448.3 258.2,446.4 258.5,446.3 258.8,467.0 259.0,445.8 259.3,430.6 259.6,461.4 259.9,441.4 260.2,440.5 260.5,440.6 260.8,454.3 261.1,451.7 261.4,461.0 261.7,448.7 262.0,436.5 262.3,455.6 262.6,474.9 262.9,447.5 263.2,440.1 263.5,450.4 263.8,433.4 264.1,449.6 264.4,447.6 264.7,459.6 265.0,451.0 265.3,440.1 265.6,440.0 265.9,436.7 266.2,440.6 266.5,442.7 266.8,475.3 267.1,456.4 267.4,428.1 267.7,452.8 268.0,441.2 268.3,448.0 268.6,440.9 268.9,446.6 269.2,458.2 269.5,455.5 269.8,443.8 270.1,452.2 270.4,474.1 270.7,442.1 271.0,437.8 271.3,438.5 271.6,438.3 271.9,465.3 272.2,433.0 272.5,448.3 272.8,456.7 273.1,451.2 273.4,454.3 273.7,460.9 274.0,446.8 274.3,445.0 274.6,448.6 274.9,445.0 275.2,448.2 275.5,454.2 275.8,452.5 276.1,441.7 276.4,463.4 276.7,451.9 277.0,438.0 277.3,444.1 277.6,440.4 277.9,446.2 278.2,459.5 278.5,450.2 278.8,445.0 279.1,450.1 279.4,447.8 279.7,444.3 280.0,438.2 280.2,450.6 280.5,435.8 280.8,445.8 281.1,437.2 281.4,436.0 281.7,431.3 282.0,436.3 282.3,436.1 282.6,431.2 282.9,466.3 283.2,455.6 283.5,435.9 283.8,474.3 284.1,442.9 284.4,442.9 284.7,462.6 285.0,454.4 285.3,438.1 285.6,438.9 285.9,450.0 286.2,452.8 286.5,451.4 286.8,439.1 287.1,459.8 287.4,443.1 287.7,460.5 288.0,435.1 288.3,441.1 288.6,431.5 288.9,473.9 289.2,469.5 289.5,449.1 289.8,429.6 290.1,455.6 290.4,430.8 290.7,440.5 291.0,440.5 291.3,435.3 291.6,453.5 291.9,448.5 292.2,456.8 292.5,440.4 292.8,424.9 293.1,445.4 293.4,436.0 293.7,437.2 294.0,438.8 294.3,442.7 294.6,428.1 294.9,439.5 295.2,446.0 295.5,429.5 295.8,432.1 296.1,436.6 296.4,441.2 296.7,424.2 297.0,439.3 297.3,446.5 297.6,432.9 297.9,442.5 298.2,438.9 298.5,442.9 298.8,440.6 299.1,462.0 299.4,449.1 299.7,447.8 300.0,441.3 300.3,434.8 300.6,450.6 300.9,416.9 301.2,438.7 301.4,432.2 301.7,451.5 302.0,447.9 302.3,419.2 302.6,428.3 302.9,436.9 303.2,454.8 303.5,418.1 303.8,447.0 304.1,440.0 304.4,435.6 304.7,429.0 305.0,432.8 305.3,433.1 305.6,412.1 305.9,430.7 306.2,426.3 306.5,422.4 306.8,459.9 307.1,440.0 307.4,406.6 307.7,441.1 308.0,430.0 308.3,447.1 308.6,446.9 308.9,415.9 309.2,434.9 309.5,429.6 309.8,432.3 310.1,451.7 310.4,429.6 310.7,414.4 311.0,438.3 311.3,420.9 311.6,413.1 311.9,445.6 312.2,414.9 312.5,461.2 312.8,416.7 313.1,429.9 313.4,442.7 313.7,426.2 314.0,433.4 314.3,454.2 314.6,410.4 314.9,409.2 315.2,440.2 315.5,429.7 315.8,430.9 316.1,427.1 316.4,445.3 316.7,410.7 317.0,422.2 317.3,438.7 317.6,430.3 317.9,434.9 318.2,425.4 318.5,413.7 318.8,413.4 319.1,440.7 319.4,420.8 319.7,437.0 320.0,455.6 320.3,440.4 320.6,422.1 320.9,450.4 321.2,433.5 321.5,415.5 321.8,488.9 322.1,433.6 322.4,437.8 322.6,458.5 322.9,425.7 323.2,421.0 323.5,419.7 323.8,438.9 324.1,438.3 324.4,409.7 324.7,437.1 325.0,425.8 325.3,439.4 325.6,439.4 325.9,449.3 326.2,401.3 326.5,426.2 326.8,460.0 327.1,419.9 327.4,420.9 327.7,420.3 328.0,401.8 328.3,421.3 328.6,420.1 328.9,432.0 329.2,438.1 329.5,420.5 329.8,421.7 330.1,435.9 330.4,428.0 330.7,418.6 331.0,417.4 331.3,429.0 331.6,465.7 331.9,415.8 332.2,425.3 332.5,436.0 332.8,427.5 333.1,441.0 333.4,415.5 333.7,425.2 334.0,452.8 334.3,413.7 334.6,411.5 334.9,421.7 335.2,410.6 335.5,448.5 335.8,400.5 336.1,413.3 336.4,402.4 336.7,445.9 337.0,425.1 337.3,418.9 337.6,387.5 337.9,411.7 338.2,434.0 338.5,400.9 338.8,404.5 339.1,419.3 339.4,392.7 339.7,386.8 340.0,406.7 340.3,419.4 340.6,389.8 340.9,392.6 341.2,402.8 341.5,411.5 341.8,399.7 342.1,386.5 342.4,391.6 342.7,381.6 343.0,365.0 343.3,382.5 343.6,374.1 343.8,385.7 344.1,356.7 344.4,383.2 344.7,361.4 345.0,358.5 345.3,381.8 345.6,364.9 345.9,408.7 346.2,369.1 346.5,408.0 346.8,368.4 347.1,386.8 347.4,383.9 347.7,399.3 348.0,379.5 348.3,373.8 348.6,404.5 348.9,394.3 349.2,385.9 349.5,403.2 349.8,374.4 350.1,366.3 350.4,392.4 350.7,400.0 351.0,397.4 351.3,417.4 351.6,434.2 351.9,418.2 352.2,396.9 352.5,403.8 352.8,412.6 353.1,412.9 353.4,389.6 353.7,392.8 354.0,372.1 354.3,401.8 354.6,343.6 354.9,376.9 355.2,343.1 355.5,375.9 355.8,358.2 356.1,373.0 356.4,336.1 356.7,347.1 357.0,368.0 357.3,353.0 357.6,334.6 357.9,374.6 358.2,347.3 358.5,339.6 358.8,371.5 359.1,316.2 359.4,292.3 359.7,342.9 360.0,324.2 360.3,298.6 360.6,290.2 360.9,285.7 361.2,289.0 361.5,287.3 361.8,304.3 362.1,270.0 362.4,273.9 362.7,298.2 363.0,287.8 363.3,289.9 363.6,291.0 363.9,300.8 364.2,258.3 364.5,284.7 364.8,271.5 365.0,282.0 365.3,274.4 365.6,259.2 365.9,274.6 366.2,257.6 366.5,283.4 366.8,264.1 367.1,255.1 367.4,263.1 367.7,283.3 368.0,279.8 368.3,285.3 368.6,272.8 368.9,280.7 369.2,290.4 369.5,300.0 369.8,290.9 370.1,283.2 370.4,275.0 370.7,280.1 371.0,278.0 371.3,272.5 371.6,283.1 371.9,313.9 372.2,294.0 372.5,314.1 372.8,291.2 373.1,324.2 373.4,296.1 373.7,294.8 374.0,290.2 374.3,298.8 374.6,272.8 374.9,307.2 375.2,292.0 375.5,309.8 375.8,319.1 376.1,311.9 376.4,330.6 376.7,305.3 377.0,338.2 377.3,295.2 377.6,305.0 377.9,294.9 378.2,320.4 378.5,283.9 378.8,285.7 379.1,286.9 379.4,299.3 379.7,286.6 380.0,296.0 380.3,279.5 380.6,323.8 380.9,291.3 381.2,275.1 381.5,279.3 381.8,277.6 382.1,277.5 382.4,283.8 382.7,299.0 383.0,277.7 383.3,288.7 383.6,285.2 383.9,282.0 384.2,279.4 384.5,293.0 384.8,268.6 385.1,273.3 385.4,261.2 385.7,251.5 386.0,263.2 386.2,269.8 386.5,294.1 386.8,274.1 387.1,272.1 387.4,272.1 387.7,276.4 388.0,285.5 388.3,268.2 388.6,278.3 388.9,269.0 389.2,293.0 389.5,279.6 389.8,270.7 390.1,271.8 390.4,304.5 390.7,289.4 391.0,294.3 391.3,276.4 391.6,286.3 391.9,302.1 392.2,294.2 392.5,302.0 392.8,295.6 393.1,303.2 393.4,295.5 393.7,285.3 394.0,276.4 394.3,291.8 394.6,282.3 394.9,295.6 395.2,295.9 395.5,300.4 395.8,308.4 396.1,349.1 396.4,321.3 396.7,307.1 397.0,298.0 397.3,315.7 397.6,300.9 397.9,301.5 398.2,300.2 398.5,296.9 398.8,288.8 399.1,299.7 399.4,296.0 399.7,306.5 400.0,297.2 400.3,302.9 400.6,284.2 400.9,266.2 401.2,267.3 401.5,295.7 401.8,279.2 402.1,282.9 402.4,315.4 402.7,324.3 403.0,291.1 403.3,282.1 403.6,302.1 403.9,293.7 404.2,290.7 404.5,291.2 404.8,296.3 405.1,276.8 405.4,264.0 405.7,269.8 406.0,288.6 406.3,278.0 406.6,276.3 406.9,314.3 407.2,267.3 407.5,291.1 407.7,303.2 408.0,255.8 408.3,300.1 408.6,289.4 408.9,297.2 409.2,275.1 409.5,292.3 409.8,314.8 410.1,332.2 410.4,299.7 410.7,270.9 411.0,311.1 411.3,280.1 411.6,309.7 411.9,299.8 412.2,295.0 412.5,301.2 412.8,341.4 413.1,311.2 413.4,298.8 413.7,312.2 414.0,299.4 414.3,329.8 414.6,325.3 414.9,310.2 415.2,309.1 415.5,295.8 415.8,310.2 416.1,303.5 416.4,304.2 416.7,295.8 417.0,294.8 417.3,300.0 417.6,287.8 417.9,280.5 418.2,306.1 418.5,303.8 418.8,303.3 419.1,303.3 419.4,301.3 419.7,289.8 420.0,280.0 420.3,298.4 420.6,281.7 420.9,292.1 421.2,258.0 421.5,280.6 421.8,273.6 422.1,296.9 422.4,293.8 422.7,276.7 423.0,289.8 423.3,278.0 423.6,262.1 423.9,285.9 424.2,286.6 424.5,270.6 424.8,277.6 425.1,267.1 425.4,278.1 425.7,294.1 426.0,319.8 426.3,275.1 426.6,291.3 426.9,280.3 427.2,316.0 427.5,295.5 427.8,280.6 428.1,273.9 428.4,274.7 428.7,273.5 428.9,290.1 429.2,279.2 429.5,287.6 429.8,296.7 430.1,301.1 430.4,307.4 430.7,284.1 431.0,297.1 431.3,309.8 431.6,357.1 431.9,279.9 432.2,326.1 432.5,326.3 432.8,287.6 433.1,330.0 433.4,290.3 433.7,316.2 434.0,303.6 434.3,292.2 434.6,291.1 434.9,295.7 435.2,304.6 435.5,307.1 435.8,305.6 436.1,282.8 436.4,295.4 436.7,284.5 437.0,339.0 437.3,301.4 437.6,291.1 437.9,299.6 438.2,269.5 438.5,310.4 438.8,283.8 439.1,278.4 439.4,301.2 439.7,276.4 440.0,280.5 440.3,255.0 440.6,266.5 440.9,283.1 441.2,269.4 441.5,274.8 441.8,285.8 442.1,269.5 442.4,270.4 442.7,257.3 443.0,298.7 443.3,296.6 443.6,284.1 443.9,265.0 444.2,261.4 444.5,277.4 444.8,273.4 445.1,277.3 445.4,308.2 445.7,293.0 446.0,270.0 446.3,271.8 446.6,269.3 446.9,275.8 447.2,327.7 447.5,283.0 447.8,283.3 448.1,311.8 448.4,269.2 448.7,293.4 449.0,280.8 449.3,283.8 449.6,286.9 449.9,279.4 450.1,298.9 450.4,286.4 450.7,293.3 451.0,320.6 451.3,311.1 451.6,322.3 451.9,331.4 452.2,298.7 452.5,330.6 452.8,295.1 453.1,311.9 453.4,310.9 453.7,326.8 454.0,299.9 454.3,318.1 454.6,294.4 454.9,292.7 455.2,331.6 455.5,343.4 455.8,339.1 456.1,286.7 456.4,337.9 456.7,311.7 457.0,278.2 457.3,289.5 457.6,282.5 457.9,332.2 458.2,279.3 458.5,301.0 458.8,267.9 459.1,285.0 459.4,286.1 459.7,312.7 460.0,296.8 460.3,281.7 460.6,264.0 460.9,263.8 461.2,281.6 461.5,295.9 461.8,296.4 462.1,255.1 462.4,269.4 462.7,289.6 463.0,255.7 463.3,267.3 463.6,265.8 463.9,265.9 464.2,273.2 464.5,286.4 464.8,309.8 465.1,304.1 465.4,296.2 465.7,276.7 466.0,295.9 466.3,275.5 466.6,275.5 466.9,270.2 467.2,271.0 467.5,271.4 467.8,288.1 468.1,290.1 468.4,302.7 468.7,290.8 469.0,293.8 469.3,306.7 469.6,332.8 469.9,282.9 470.2,292.7 470.5,317.0 470.8,309.1 471.1,293.5 471.3,312.3 471.6,301.4 471.9,293.9 472.2,297.0 472.5,308.5 472.8,319.0 473.1,309.5 473.4,293.6 473.7,304.4 474.0,282.0 474.3,279.6 474.6,281.3 474.9,288.3 475.2,315.9 475.5,275.9 475.8,284.3 476.1,302.6 476.4,305.1 476.7,299.7 477.0,287.3 477.3,312.6 477.6,273.1 477.9,291.1 478.2,277.7 478.5,314.3 478.8,252.6 479.1,269.1 479.4,281.8 479.7,298.7 480.0,260.8 480.3,283.0 480.6,282.3 480.9,289.0 481.2,294.6 481.5,273.8 481.8,271.3 482.1,278.9 482.4,291.8 482.7,257.7 483.0,257.8 483.3,290.8 483.6,263.2 483.9,279.1 484.2,281.8 484.5,259.7 484.8,261.8 485.1,290.7 485.4,276.5 485.7,296.1 486.0,317.7 486.3,278.1 486.6,284.3 486.9,282.1 487.2,268.1 487.5,297.8 487.8,288.4 488.1,293.9 488.4,334.6 488.7,301.2 489.0,328.3 489.3,300.0 489.6,319.3 489.9,322.0 490.2,287.2 490.5,311.5 490.8,310.7 491.1,303.2 491.4,350.3 491.7,322.4 492.0,318.5 492.3,299.9 492.5,301.1 492.8,312.9 493.1,281.7 493.4,309.0 493.7,312.4 494.0,293.5 494.3,308.8 494.6,281.4 494.9,291.2 495.2,305.4 495.5,268.2 495.8,298.1 496.1,291.5 496.4,285.6 496.7,284.2 497.0,282.3 497.3,309.1 497.6,284.5 497.9,324.9 498.2,286.9 498.5,283.8 498.8,273.9 499.1,292.3 499.4,274.9 499.7,284.1 500.0,275.4 500.3,290.1 500.6,262.0 500.9,261.6 501.2,303.3 501.5,279.3 501.8,282.0 502.1,317.6 502.4,300.7 502.7,283.9 503.0,301.9 503.3,280.4 503.6,274.2 503.9,294.4 504.2,277.9 504.5,270.2 504.8,297.7 505.1,274.6 505.4,275.6 505.7,274.8 506.0,291.7 506.3,289.3 506.6,306.8 506.9,284.2 507.2,286.8 507.5,292.4 507.8,298.6 508.1,309.7 508.4,342.4 508.7,310.3 509.0,335.4 509.3,306.1 509.6,318.2 509.9,281.2 510.2,316.7 510.5,323.3 510.8,286.9 511.1,335.9 511.4,290.8 511.7,289.1 512.0,304.0 512.3,324.4 512.6,309.4 512.9,297.3 513.2,287.4 513.5,289.8 513.7,290.1 514.0,300.9 514.3,280.5 514.6,309.0 514.9,301.7 515.2,287.8 515.5,279.3 515.8,281.8 516.1,280.1 516.4,341.4 516.7,272.4 517.0,325.1 517.3,292.2 517.6,303.6 517.9,297.6 518.2,273.2 518.5,267.6 518.8,292.5 519.1,275.6 519.4,253.1 519.7,269.1 520.0,255.0 520.3,260.2 520.6,260.2 520.9,279.7 521.2,271.6 521.5,253.0 521.8,290.3 522.1,264.9 522.4,289.5 522.7,281.2 523.0,275.3 523.3,289.8 523.6,288.6 523.9,305.8 524.2,289.5 524.5,310.9 524.8,284.6 525.1,289.5 525.4,279.2 525.7,296.8 526.0,281.5 526.3,281.6 526.6,282.0 526.9,288.3 527.2,293.2 527.5,296.4 527.8,307.9 528.1,303.1 528.4,304.0 528.7,281.9 529.0,326.0 529.3,310.6 529.6,304.6 529.9,321.8 530.2,296.7 530.5,314.3 530.8,298.9 531.1,301.9 531.4,293.7 531.7,321.6 532.0,294.8 532.3,280.9 532.6,286.1 532.9,295.7 533.2,293.8 533.5,291.0 533.8,295.4 534.1,304.1 534.4,290.0 534.7,289.7 534.9,265.2 535.2,280.1 535.5,261.3 535.8,284.8 536.1,278.5 536.4,281.6 536.7,293.7 537.0,294.7 537.3,282.6 537.6,265.7 537.9,293.4 538.2,297.9 538.5,274.8 538.8,282.5 539.1,282.4 539.4,255.1 539.7,275.0 540.0,268.3 540.3,277.7 540.6,268.2 540.9,280.2 541.2,282.5 541.5,272.7 541.8,283.5 542.1,268.2 542.4,295.4 542.7,268.4 543.0,304.9 543.3,294.2 543.6,287.7 543.9,308.8 544.2,300.5 544.5,283.6 544.8,297.4 545.1,306.3 545.4,286.8 545.7,296.0 546.0,291.0 546.3,282.4 546.6,300.6 546.9,297.3 547.2,274.0 547.5,343.4 547.8,302.4 548.1,318.3 548.4,301.7 548.7,320.9 549.0,314.0 549.3,328.1 549.6,295.8 549.9,303.8 550.2,307.0 550.5,318.3 550.8,286.3 551.1,329.8 551.4,285.4 551.7,292.2 552.0,303.8 552.3,293.7 552.6,318.9 552.9,276.2 553.2,312.9 553.5,298.9 553.8,278.2 554.1,293.9 554.4,284.0 554.7,283.4 555.0,295.1 555.3,290.6 555.6,262.6 555.9,270.4 556.1,272.9 556.4,278.2 556.7,291.6 557.0,298.7 557.3,268.0 557.6,283.3 557.9,277.4 558.2,290.4 558.5,303.3 558.8,273.2 559.1,290.4 559.4,255.1 559.7,259.2 560.0,283.1 560.3,266.6 560.6,294.6 560.9,268.8 561.2,260.7 561.5,276.8 561.8,262.1 562.1,328.8 562.4,288.9 562.7,292.9 563.0,281.8 563.3,291.2 563.6,284.9 563.9,291.6 564.2,307.9 564.5,318.0 564.8,284.5 565.1,308.7 565.4,348.6 565.7,295.7 566.0,308.6 566.3,328.8 566.6,300.8 566.9,290.2 567.2,329.7 567.5,280.2 567.8,306.3 568.1,301.6 568.4,290.0 568.7,286.1 569.0,299.2 569.3,292.8 569.6,311.0 569.9,300.1 570.2,319.5 570.5,289.5 570.8,290.1 571.1,288.7 571.4,286.7 571.7,327.9 572.0,295.2 572.3,305.4 572.6,294.7 572.9,281.8 573.2,270.6 573.5,289.3 573.8,296.6 574.1,291.5 574.4,284.9 574.7,285.1 575.0,278.1 575.3,271.3 575.6,306.4 575.9,306.7 576.2,287.2 576.5,283.7 576.8,257.3 577.1,277.1 577.3,260.6 577.6,290.4 577.9,246.9 578.2,263.1 578.5,293.2 578.8,280.1 579.1,256.8 579.4,274.2 579.7,288.7 580.0,270.7 580.3,277.1 580.6,322.5 580.9,260.6 581.2,273.7 581.5,288.6 581.8,296.7 582.1,301.4 582.4,325.8 582.7,290.3 583.0,303.4 583.3,313.3 583.6,307.1 583.9,273.4 584.2,307.8 584.5,285.6 584.8,282.8 585.1,299.6 585.4,292.4 585.7,319.3 586.0,309.2 586.3,303.7 586.6,321.5 586.9,321.9 587.2,284.7 587.5,291.1 587.8,305.0 588.1,319.9 588.4,300.4 588.7,317.3 589.0,303.1 589.3,298.3 589.6,295.5 589.9,305.9 590.2,285.6 590.5,278.8 590.8,298.2 591.1,289.2 591.4,297.8 591.7,286.9 592.0,272.6 592.3,295.4 592.6,296.9 592.9,287.8 593.2,288.9 593.5,280.0 593.8,280.9 594.1,315.4 594.4,265.7 594.7,283.5 595.0,278.7 595.3,284.3 595.6,260.6 595.9,261.9 596.2,271.4 596.5,265.3 596.8,269.2 597.1,285.2 597.4,278.5 597.7,258.9 598.0,270.1 598.3,253.2 598.6,272.2 598.8,304.0 599.1,276.1 599.4,285.8 599.7,307.9 600.0,309.4 600.3,272.3 600.6,276.3 600.9,301.4 601.2,294.7 601.5,292.8 601.8,283.8 602.1,289.8 602.4,277.2 602.7,301.5 603.0,277.8 603.3,287.9 603.6,296.0 603.9,298.3 604.2,293.9 604.5,291.2 604.8,306.9 605.1,310.2 605.4,308.8 605.7,311.8 606.0,296.3 606.3,297.7 606.6,334.2 606.9,311.4 607.2,321.8 607.5,305.0 607.8,306.7 608.1,310.7 608.4,291.0 608.7,303.7 609.0,293.8 609.3,298.5 609.6,286.4 609.9,285.8 610.2,295.8 610.5,285.5 610.8,287.6 611.1,272.1 611.4,298.7 611.7,283.7 612.0,285.5 612.3,286.7 612.6,261.0 612.9,277.8 613.2,268.0 613.5,266.2 613.8,274.6 614.1,272.9 614.4,287.5 614.7,284.5 615.0,272.5 615.3,261.8 615.6,252.5 615.9,291.8 616.2,267.8 616.5,263.3 616.8,284.4 617.1,288.2 617.4,302.5 617.7,271.8 618.0,281.1 618.3,276.4 618.6,294.3 618.9,283.2 619.2,273.5 619.5,285.6 619.8,278.2 620.0,274.8 620.3,287.2 620.6,283.8 620.9,280.1 621.2,282.0 621.5,279.1 621.8,293.5 622.1,298.8 622.4,274.5 622.7,296.3 623.0,292.5 623.3,279.5 623.6,344.6 623.9,307.7 624.2,346.0 624.5,291.2 624.8,281.4 625.1,309.9 625.4,299.5 625.7,296.2 626.0,336.3 626.3,307.7 626.6,297.3 626.9,323.0 627.2,306.9 627.5,285.0 627.8,290.9 628.1,313.2 628.4,309.5 628.7,288.0 629.0,314.8 629.3,303.0 629.6,292.0 629.9,278.1 630.2,296.8 630.5,291.2 630.8,284.2 631.1,291.1 631.4,287.2 631.7,265.4 632.0,263.2 632.3,275.3 632.6,275.3 632.9,274.8 633.2,261.7 633.5,280.0 633.8,262.6 634.1,263.7 634.4,253.4 634.7,259.9 635.0,277.3 635.3,268.4 635.6,269.9 635.9,288.1 636.2,282.6 636.5,295.6 636.8,305.0 637.1,272.6 637.4,301.2 637.7,280.6 638.0,293.1 638.3,272.7 638.6,281.1 638.9,281.8 639.2,277.9 639.5,287.7 639.8,308.0 640.1,291.0 640.4,287.5 640.7,294.5 641.0,291.2 641.2,315.4 641.5,294.0 641.8,275.5 642.1,312.8 642.4,313.4 642.7,274.7 643.0,293.9 643.3,283.9 643.6,290.8 643.9,329.4 644.2,290.4 644.5,303.2 644.8,315.3 645.1,295.7 645.4,297.9 645.7,295.3 646.0,319.3 646.3,276.0 646.6,300.0 646.9,285.6 647.2,324.3 647.5,313.9 647.8,286.8 648.1,282.7 648.4,301.0 648.7,281.4 649.0,298.7 649.3,295.9 649.6,296.8 649.9,301.5 650.2,307.4 650.5,282.8 650.8,270.0 651.1,273.0 651.4,256.0 651.7,282.1 652.0,273.1 652.3,288.6 652.6,274.7 652.9,263.1 653.2,269.8 653.5,285.2 653.8,286.7 654.1,280.9 654.4,290.8 654.7,294.0 655.0,273.6 655.3,297.7 655.6,290.0 655.9,274.2 656.2,312.8 656.5,274.3 656.8,298.5 657.1,306.2 657.4,289.6 657.7,293.5 658.0,291.7 658.3,272.5 658.6,288.7 658.9,297.3 659.2,286.9 659.5,289.7 659.8,309.5 660.1,302.4 660.4,305.7 660.7,317.4 661.0,351.4 661.3,309.1 661.6,303.6 661.9,301.1 662.2,312.8 662.4,288.0 662.7,303.5 663.0,309.4 663.3,306.6 663.6,291.2 663.9,321.4 664.2,295.2 664.5,319.7 664.8,295.5 665.1,320.9 665.4,303.3 665.7,308.9 666.0,303.9 666.3,285.4 666.6,283.0 666.9,294.5 667.2,302.3 667.5,281.4 667.8,308.8 668.1,313.8 668.4,290.0 668.7,289.0 669.0,283.8 669.3,285.4 669.6,256.1 669.9,295.2 670.2,287.6 670.5,291.1 670.8,268.4 671.1,289.9 671.4,295.8 671.7,278.7 672.0,283.8 672.3,270.1 672.6,310.5 672.9,262.0 673.2,269.6 673.5,279.3 673.8,284.4 674.1,271.3 674.4,281.5 674.7,273.8 675.0,259.9 675.3,280.1 675.6,269.1 675.9,275.7 676.2,293.1 676.5,270.4 676.8,277.4 677.1,302.2 677.4,284.6 677.7,269.6 678.0,279.7 678.3,282.7 678.6,299.3 678.9,294.6 679.2,289.7 679.5,307.1 679.8,327.3 680.1,280.7 680.4,309.7 680.7,282.9 681.0,304.7 681.3,316.6 681.6,321.7 681.9,293.1 682.2,311.3 682.5,329.5 682.8,301.8 683.1,305.7 683.4,313.6 683.6,313.4 683.9,312.2 684.2,301.1 684.5,307.3 684.8,316.7 685.1,285.8 685.4,281.0 685.7,297.8 686.0,294.1 686.3,281.2 686.6,301.7 686.9,286.4 687.2,275.3 687.5,292.0 687.8,323.9 688.1,305.4 688.4,295.9 688.7,284.5 689.0,312.2 689.3,306.4 689.6,275.5 689.9,271.6 690.2,280.6 690.5,263.8 690.8,263.1 691.1,263.0 691.4,293.7 691.7,252.2 692.0,295.0 692.3,277.5 692.6,316.4 692.9,271.0 693.2,279.2 693.5,269.3 693.8,282.2 694.1,299.1 694.4,281.9 694.7,306.0 695.0,260.6 695.3,313.5 695.6,277.3 695.9,303.7 696.2,298.8 696.5,297.1 696.8,280.4 697.1,290.7 697.4,290.4 697.7,316.2 698.0,284.2 698.3,299.1 698.6,303.1 698.9,281.1 699.2,287.5 699.5,299.1 699.8,291.5 700.1,320.8 700.4,305.4 700.7,301.8 701.0,311.1 701.3,316.1 701.6,309.2 701.9,325.0 702.2,306.9 702.5,290.8 702.8,296.3 703.1,298.4 703.4,308.9 703.7,277.4 704.0,297.4 704.3,313.7 704.6,272.9 704.8,272.4 705.1,292.7 705.4,284.7 705.7,285.9 706.0,288.1 706.3,279.2 706.6,297.5 706.9,296.2 707.2,300.7 707.5,279.3 707.8,283.5 708.1,283.5 708.4,269.3 708.7,287.4 709.0,281.2 709.3,271.9 709.6,255.8 709.9,254.8 710.2,265.6 710.5,271.6 710.8,263.8 711.1,262.6 711.4,260.2 711.7,273.8 712.0,297.7 712.3,266.9 712.6,283.1 712.9,277.6 713.2,289.5 713.5,277.2 713.8,302.8 714.1,286.3 714.4,274.7 714.7,287.8 715.0,290.2 715.3,271.9 715.6,262.3 715.9,291.1 716.2,293.8 716.5,306.2 716.8,288.2 717.1,281.7 717.4,290.7 717.7,302.0 718.0,290.2 718.3,297.5 718.6,304.0 718.9,316.2 719.2,295.9 719.5,302.0 719.8,288.6 720.1,314.0 720.4,304.4 720.7,301.3 721.0,313.1 721.3,309.1 721.6,307.2 721.9,297.4 722.2,283.0 722.5,293.7 722.8,323.1 723.1,311.2 723.4,297.6 723.7,286.9 724.0,291.9 724.3,285.6 724.6,303.2 724.9,264.5 725.2,293.9 725.5,313.7 725.8,287.3 726.0,266.6 726.3,299.5 726.6,276.9 726.9,277.5 727.2,264.5 727.5,276.9 727.8,269.3 728.1,274.8 728.4,271.5 728.7,289.9 729.0,292.2 729.3,271.2 729.6,273.2 729.9,270.1 730.2,256.4 730.5,292.2 730.8,273.6 731.1,260.8 731.4,294.9 731.7,290.6 732.0,309.9 732.3,271.0 732.6,274.3 732.9,305.9 733.2,268.8 733.5,290.2 733.8,289.3 734.1,279.7 734.4,277.2 734.7,302.6 735.0,285.9 735.3,291.4 735.6,275.0 735.9,303.4 736.2,277.4 736.5,326.1 736.8,288.3 737.1,279.5 737.4,289.8 737.7,284.0 738.0,288.2 738.3,325.3 738.6,311.7 738.9,289.8 739.2,301.5 739.5,307.8 739.8,290.6 740.1,300.0 740.4,322.8 740.7,302.6 741.0,308.3 741.3,316.5 741.6,303.7 741.9,305.5 742.2,298.5 742.5,298.3 742.8,300.8 743.1,301.6 743.4,293.8 743.7,295.0 744.0,291.6 744.3,291.1 744.6,301.9 744.9,285.6 745.2,303.7 745.5,279.2 745.8,265.8 746.1,285.0 746.4,281.5 746.7,257.9 747.0,281.6 747.2,296.0 747.5,273.0 747.8,290.5 748.1,267.5 748.4,294.0 748.7,272.0 749.0,268.7 749.3,257.8 749.6,267.1 749.9,290.9 750.2,271.7 750.5,274.4 750.8,259.4 751.1,283.5 751.4,282.4 751.7,274.7 752.0,284.5 752.3,298.1 752.6,294.3 752.9,283.0 753.2,286.1 753.5,301.2 753.8,291.2 754.1,288.3 754.4,328.9 754.7,317.0 755.0,329.8 755.3,323.3 755.6,292.3 755.9,294.5 756.2,329.8 756.5,290.0 756.8,288.0 757.1,300.4 757.4,297.2 757.7,298.1 758.0,313.0 758.3,288.3 758.6,320.2 758.9,313.4 759.2,349.1 759.5,296.2 759.8,313.4 760.1,284.4 760.4,284.3 760.7,343.5 761.0,302.2 761.3,298.9 761.6,303.6 761.9,310.5 762.2,300.1 762.5,293.7 762.8,294.0 763.1,295.9 763.4,286.1 763.7,293.3 764.0,272.9 764.3,299.1 764.6,287.4 764.9,279.5 765.2,277.2 765.5,266.9 765.8,289.8 766.1,269.5 766.4,280.4 766.7,311.5 767.0,267.4 767.3,296.8 767.6,282.3 767.9,268.1 768.2,281.0 768.5,285.3 768.7,266.7 769.0,262.4 769.3,283.9 769.6,281.3 769.9,272.8 770.2,277.9 770.5,283.4 770.8,261.1 771.1,286.3 771.4,296.4 771.7,289.9 772.0,281.0 772.3,296.8 772.6,302.0 772.9,314.1 773.2,267.9 773.5,284.4 773.8,310.4 774.1,287.4 774.4,289.3 774.7,282.1 775.0,311.2 775.3,284.4 775.6,289.6 775.9,318.1 776.2,299.2 776.5,299.8 776.8,299.8 777.1,345.1 777.4,302.9 777.7,312.3 778.0,298.4 778.3,304.5 778.6,314.2 778.9,319.6 779.2,307.4 779.5,299.1 779.8,302.3 780.1,322.7 780.4,281.8 780.7,288.1 781.0,296.1 781.3,293.3 781.6,287.9 781.9,290.6 782.2,295.2 782.5,278.3 782.8,292.3 783.1,292.9 783.4,287.2 783.7,288.1 784.0,283.4 784.3,252.5 784.6,290.3 784.9,276.5 785.2,270.7 785.5,303.2 785.8,282.3 786.1,302.1 786.4,286.6 786.7,299.2 787.0,271.8 787.3,281.5 787.6,260.2 787.9,277.2 788.2,279.6 788.5,283.9 788.8,288.6 789.1,265.8 789.4,299.9 789.7,266.2 789.9,283.8 790.2,301.8 790.5,282.2 790.8,293.5 791.1,295.2 791.4,272.5 791.7,280.5 792.0,331.1 792.3,293.1 792.6,294.4 792.9,299.3 793.2,276.3 793.5,307.7 793.8,308.4 794.1,295.3 794.4,285.3 794.7,322.5 795.0,303.3 795.3,305.9 795.6,295.3 795.9,280.2 796.2,295.3 796.5,312.6 796.8,318.8 797.1,350.3 797.4,306.6 797.7,295.7 798.0,296.8 798.3,311.6 798.6,285.2 798.9,319.4 799.2,287.9 799.5,293.4 799.8,306.5 800.1,284.9 800.4,312.8 800.7,308.1 801.0,289.5 801.3,272.1 801.6,280.8 801.9,299.6 802.2,270.7 802.5,262.5 802.8,283.2 803.1,284.5 803.4,300.1 803.7,299.4 804.0,305.2 804.3,296.4 804.6,306.7 804.9,283.4 805.2,289.0 805.5,282.6 805.8,270.6 806.1,291.1 806.4,284.3 806.7,271.1 807.0,248.0 807.3,264.3 807.6,312.0 807.9,268.6 808.2,271.9 808.5,283.2 808.8,293.4 809.1,277.2 809.4,262.1 809.7,272.1 810.0,289.4 810.3,290.7 810.6,280.3 810.9,282.3 811.1,273.1 811.4,290.0 811.7,294.6 812.0,301.3 812.3,299.1 812.6,304.9 812.9,307.8 813.2,325.6 813.5,307.6 813.8,293.5 814.1,286.9 814.4,302.8 814.7,282.9 815.0,286.7 815.3,343.3 815.6,303.8 815.9,305.4 816.2,300.6 816.5,293.2 816.8,311.8 817.1,292.8 817.4,336.9 817.7,294.9 818.0,320.8 818.3,319.9 818.6,288.2 818.9,308.1 819.2,289.0 819.5,296.9 819.8,291.1 820.1,298.9 820.4,322.1 820.7,276.4 821.0,275.2 821.3,287.4 821.6,289.2 821.9,297.7 822.2,300.1 822.5,299.4 822.8,305.3 823.1,284.1 823.4,266.6 823.7,286.4 824.0,273.0 824.3,271.2 824.6,287.6 824.9,266.9 825.2,275.2 825.5,256.1 825.8,256.4 826.1,276.6 826.4,277.7 826.7,256.0 827.0,290.7 827.3,256.6 827.6,263.5 827.9,286.2 828.2,282.2 828.5,271.2 828.8,301.0 829.1,299.4 829.4,274.5 829.7,282.2 830.0,282.3 830.3,261.5 830.6,286.8 830.9,297.3 831.2,279.7 831.5,285.5 831.8,301.0 832.1,310.0 832.3,290.8 832.6,303.4 832.9,310.7 833.2,309.5 833.5,285.2 833.8,304.6 834.1,300.2 834.4,328.4 834.7,326.9 835.0,338.5 835.3,306.5 835.6,316.2 835.9,346.0 836.2,280.3 836.5,302.6 836.8,313.9 837.1,288.9 837.4,294.6 837.7,294.2 838.0,280.5 838.3,299.4 838.6,286.0 838.9,307.9 839.2,310.9 839.5,308.3 839.8,287.5 840.1,289.5 840.4,296.1 840.7,282.3 841.0,273.2 841.3,308.1 841.6,276.3 841.9,271.6 842.2,277.5 842.5,273.9 842.8,283.7 843.1,297.5 843.4,264.1 843.7,288.0 844.0,267.8 844.3,257.3 844.6,259.8 844.9,269.0 845.2,270.0 845.5,260.7 845.8,259.8 846.1,291.8 846.4,301.6 846.7,280.3 847.0,278.2 847.3,285.9 847.6,286.4 847.9,294.4 848.2,286.4 848.5,316.9 848.8,284.8 849.1,281.0 849.4,286.5 849.7,310.0 850.0,301.5 850.3,292.9 850.6,298.9 850.9,295.0 851.2,295.9 851.5,318.4 851.8,299.3 852.1,282.6 852.4,315.3 852.7,323.1 853.0,310.6 853.3,314.8 853.5,307.4 853.8,313.6 854.1,311.9 854.4,331.8 854.7,315.8 855.0,321.9 855.3,318.6 855.6,320.1 855.9,355.8 856.2,361.8 856.5,356.0 856.8,332.3 857.1,349.1 857.4,383.9 857.7,363.3 858.0,390.8 858.3,335.9 858.6,353.5 858.9,383.4 859.2,356.3 859.5,331.7 859.8,356.2 860.1,388.4 860.4,369.2 860.7,353.4 861.0,341.3 861.3,353.0 861.6,355.3 861.9,383.8 862.2,354.7 862.5,344.5 862.8,379.7 863.1,380.2 863.4,381.1 863.7,360.4 864.0,368.7 864.3,343.8 864.6,348.1 864.9,356.7 865.2,361.3 865.5,395.4 865.8,370.3 866.1,366.2 866.4,345.0 866.7,365.7 867.0,350.6 867.3,359.7 867.6,356.8 867.9,372.9 868.2,393.8 868.5,354.4 868.8,351.1 869.1,405.5 869.4,374.4 869.7,367.6 870.0,356.1 870.3,390.1 870.6,340.2 870.9,369.2 871.2,359.3 871.5,366.3 871.8,347.2 872.1,345.7 872.4,334.4 872.7,348.0 873.0,329.5 873.3,318.5 873.6,296.4 873.9,304.1 874.2,307.8 874.5,284.6 874.7,303.1 875.0,282.5 875.3,295.1 875.6,304.5 875.9,300.7 876.2,290.5 876.5,322.9 876.8,292.6 877.1,332.1 877.4,334.7 877.7,279.1 878.0,290.8 878.3,279.9 878.6,283.0 878.9,271.3 879.2,287.8 879.5,291.7 879.8,287.4 880.1,319.5 880.4,271.6 880.7,315.9 881.0,273.2 881.3,268.9 881.6,296.3 881.9,293.4 882.2,296.6 882.5,288.2 882.8,277.1 883.1,281.8 883.4,279.6 883.7,287.9 884.0,254.5 884.3,275.2 884.6,286.6 884.9,295.5 885.2,272.7 885.5,279.9 885.8,271.0 886.1,282.9 886.4,275.0 886.7,294.7 887.0,318.6 887.3,296.2 887.6,304.7 887.9,305.0 888.2,282.1 888.5,286.2 888.8,291.8 889.1,301.2 889.4,288.0 889.7,299.0 890.0,295.2 890.3,289.3 890.6,304.1 890.9,307.1 891.2,289.0 891.5,308.9 891.8,305.3 892.1,292.4 892.4,309.7 892.7,314.9 893.0,287.5 893.3,297.7 893.6,319.8 893.9,302.6 894.2,309.9 894.5,303.7 894.8,283.5 895.1,328.5 895.4,325.6 895.7,289.5 895.9,304.4 896.2,305.9 896.5,317.2 896.8,275.7 897.1,276.4 897.4,292.5 897.7,297.9 898.0,279.4 898.3,274.5 898.6,280.9 898.9,285.1 899.2,301.1 899.5,279.3 899.8,257.6 900.1,293.3 900.4,305.2 900.7,279.4 901.0,263.2 901.3,261.2 901.6,281.0 901.9,280.2 902.2,254.4 902.5,270.2 902.8,263.4 903.1,276.6 903.4,267.0 903.7,275.9 904.0,262.8 904.3,292.3 904.6,300.9 904.9,275.1 905.2,320.0 905.5,277.8 905.8,271.7 906.1,279.9 906.4,285.2 906.7,280.2 907.0,287.6 907.3,315.3 907.6,293.0 907.9,306.6 908.2,276.7 908.5,285.8 908.8,298.2 909.1,292.8 909.4,302.4 909.7,283.1 910.0,312.8 910.3,279.9 910.6,289.3 910.9,319.5 911.2,310.8 911.5,302.8 911.8,300.6 912.1,293.5 912.4,311.1 912.7,317.4 913.0,303.0 913.3,314.5 913.6,306.7 913.9,317.5 914.2,273.6 914.5,288.6 914.8,297.1 915.1,286.1 915.4,294.0 915.7,302.1 916.0,284.9 916.3,310.5 916.6,300.7 916.9,276.6 917.1,285.2 917.4,276.1 917.7,280.7 918.0,304.8 918.3,288.9 918.6,268.9 918.9,282.0 919.2,269.2 919.5,277.4 919.8,295.9 920.1,264.8 920.4,279.2 920.7,255.8 921.0,274.6 921.3,279.7 921.6,278.5 921.9,269.9 922.2,308.9 922.5,281.7 922.8,319.8 923.1,266.7 923.4,278.6 923.7,269.2 924.0,262.7 924.3,292.3 924.6,272.1 924.9,298.1 925.2,325.9 925.5,281.0 925.8,300.7 926.1,269.2 926.4,281.8 926.7,329.9 927.0,292.8 927.3,303.1 927.6,285.5 927.9,299.8 928.2,282.8 928.5,290.4 928.8,275.3 929.1,294.6 929.4,310.9 929.7,303.9 930.0,316.0 930.3,322.8 930.6,303.7 930.9,300.7 931.2,311.0 931.5,304.6 931.8,319.7 932.1,312.9 932.4,309.0 932.7,335.2 933.0,308.5 933.3,316.8 933.6,303.8 933.9,336.5 934.2,290.4 934.5,279.8 934.8,295.7 935.1,286.6 935.4,290.5 935.7,281.0 936.0,288.7 936.3,314.6 936.6,267.2 936.9,313.8 937.2,277.3 937.5,273.5 937.8,304.6 938.1,287.9 938.3,285.0 938.6,277.8 938.9,268.2 939.2,298.8 939.5,278.7 939.8,263.6 940.1,261.4 940.4,259.5 940.7,263.4 941.0,278.0 941.3,292.4 941.6,263.3 941.9,280.0 942.2,269.8 942.5,295.8 942.8,310.6 943.1,277.3 943.4,265.4 943.7,292.7 944.0,307.5 944.3,280.8 944.6,283.0 944.9,297.0 945.2,315.4 945.5,273.9 945.8,298.9 946.1,277.1 946.4,320.4 946.7,292.4 947.0,309.6 947.3,302.1 947.6,293.3 947.9,304.8 948.2,292.6 948.5,299.4 948.8,314.9 949.1,326.9 949.4,321.2 949.7,296.9 950.0,326.1 950.3,346.3 950.6,296.5 950.9,292.6 951.2,324.4 951.5,295.0 951.8,311.8 952.1,319.0 952.4,293.0 952.7,315.2 953.0,289.6 953.3,297.9 953.6,315.3 953.9,282.2 954.2,304.0 954.5,296.6 954.8,283.2 955.1,275.4 955.4,296.1 955.7,287.3 956.0,300.7 956.3,312.3 956.6,279.3 956.9,275.0 957.2,266.4 957.5,282.9 957.8,257.6 958.1,291.9 958.4,287.0 958.7,272.3 959.0,308.0 959.3,267.2 959.6,273.8 959.8,272.2 960.1,300.5 960.4,280.5 960.7,270.9 961.0,270.1 961.3,277.7 961.6,271.1 961.9,257.9 962.2,284.6 962.5,303.7 962.8,261.1 963.1,298.8 963.4,272.2 963.7,282.5 964.0,302.0 964.3,280.5 964.6,270.2 964.9,334.5 965.2,289.4 965.5,293.2 965.8,278.1 966.1,287.5 966.4,317.1 966.7,341.2 967.0,294.2 967.3,291.6 967.6,308.5 967.9,306.2 968.2,321.5 968.5,297.2 968.8,306.4 969.1,299.0 969.4,311.3 969.7,318.3 970.0,314.1 970.3,283.0 970.6,287.7 970.9,289.1 971.2,285.3 971.5,301.6 971.8,298.0 972.1,319.6 972.4,287.1 972.7,280.4 973.0,298.6 973.3,272.1 973.6,305.7 973.9,291.6 974.2,286.6 974.5,274.2 974.8,271.6 975.1,296.7 975.4,273.0 975.7,253.1 976.0,289.9 976.3,271.0 976.6,282.3 976.9,267.8 977.2,281.1 977.5,265.4 977.8,286.3 978.1,271.1 978.4,264.6 978.7,270.9 979.0,281.3 979.3,255.7 979.6,280.1 979.9,263.2 980.2,280.5 980.5,272.4 980.8,275.2 981.0,285.0 981.3,281.0 981.6,303.0 981.9,286.9 982.2,286.6 982.5,285.6 982.8,299.2 983.1,298.4 983.4,325.0 983.7,278.5 984.0,301.4 984.3,309.1 984.6,336.7 984.9,304.5 985.2,285.4 985.5,279.0 985.8,337.8 986.1,281.9 986.4,310.1 986.7,319.0 987.0,303.9 987.3,306.7 987.6,294.7 987.9,309.5 988.2,311.0 988.5,306.2 988.8,298.6 989.1,289.5 989.4,301.9 989.7,294.5 990.0,289.7 990.3,291.7 990.6,296.9 990.9,309.0 991.2,303.7 991.5,305.6 991.8,276.4 992.1,320.6 992.4,279.0 992.7,277.1 993.0,283.8 993.3,295.4 993.6,286.0 993.9,280.4 994.2,283.7 994.5,311.8 994.8,294.4 995.1,285.0 995.4,293.3 995.7,275.3 996.0,277.6 996.3,257.7 996.6,281.1 996.9,277.1 997.2,255.7 997.5,261.9 997.8,286.0 998.1,263.6 998.4,286.3 998.7,269.1 999.0,251.3 999.3,279.9 999.6,266.7 999.9,271.6 1000.2,263.2 1000.5,288.1 1000.8,280.9 1001.1,275.2 1001.4,288.6 1001.7,293.3 1002.0,282.8 1002.2,278.3 1002.5,281.9 1002.8,301.6 1003.1,288.0 1003.4,290.7 1003.7,278.4 1004.0,304.2 1004.3,300.2 1004.6,278.9 1004.9,301.8 1005.2,312.2 1005.5,305.9 1005.8,307.8 1006.1,309.2 1006.4,286.8 1006.7,314.4 1007.0,329.1 1007.3,292.5 1007.6,303.2 1007.9,298.4 1008.2,300.8 1008.5,296.6 1008.8,293.5 1009.1,296.9 1009.4,323.4 1009.7,297.1 1010.0,310.6 1010.3,291.9 1010.6,293.6 1010.9,277.8 1011.2,305.0 1011.5,305.2 1011.8,304.9 1012.1,282.1 1012.4,303.7 1012.7,301.5 1013.0,277.2 1013.3,302.6 1013.6,308.9 1013.9,297.1 1014.2,279.8 1014.5,301.6 1014.8,278.8 1015.1,288.2 1015.4,266.4 1015.7,278.4 1016.0,255.1 1016.3,274.9 1016.6,284.2 1016.9,270.4 1017.2,275.4 1017.5,281.2 1017.8,250.3 1018.1,261.2 1018.4,264.8 1018.7,265.7 1019.0,293.0 1019.3,287.9 1019.6,299.5 1019.9,269.9 1020.2,264.1 1020.5,290.1 1020.8,286.8 1021.1,292.4 1021.4,283.6 1021.7,287.4 1022.0,286.4 1022.3,285.2 1022.6,290.7 1022.9,296.9 1023.2,280.2 1023.4,290.6 1023.7,308.1 1024.0,282.3 1024.3,300.2 1024.6,289.8 1024.9,302.3 1025.2,283.9 1025.5,285.0 1025.8,304.3 1026.1,307.9 1026.4,311.0 1026.7,299.7 1027.0,297.9 1027.3,336.6 1027.6,316.2 1027.9,285.9 1028.2,298.0 1028.5,334.4 1028.8,297.8 1029.1,307.9 1029.4,301.6 1029.7,309.3 1030.0,299.2 1030.3,309.1 1030.6,298.5 1030.9,302.7 1031.2,278.9 1031.5,292.9 1031.8,284.2 1032.1,294.9 1032.4,275.8 1032.7,281.1 1033.0,289.2 1033.3,269.0 1033.6,282.9 1033.9,254.3 1034.2,275.1 1034.5,274.9 1034.8,273.4 1035.1,259.6 1035.4,270.9 1035.7,278.1 1036.0,289.3 1036.3,253.3 1036.6,258.6 1036.9,257.3 1037.2,276.4 1037.5,293.8 1037.8,274.3 1038.1,292.5 1038.4,286.9 1038.7,267.0 1039.0,289.8 1039.3,302.6 1039.6,283.6 1039.9,314.9 1040.2,280.4 1040.5,302.4 1040.8,274.0 1041.1,312.8 1041.4,310.7 1041.7,299.1 1042.0,313.7 1042.3,297.0 1042.6,289.8 1042.9,300.6 1043.2,292.7 1043.5,297.4 1043.8,301.2 1044.1,315.8 1044.4,307.0 1044.6,292.7 1044.9,294.5 1045.2,299.1 1045.5,319.5 1045.8,291.9 1046.1,315.7 1046.4,303.7 1046.7,284.1 1047.0,335.1 1047.3,300.4 1047.6,290.1 1047.9,303.1 1048.2,328.8 1048.5,285.6 1048.8,281.0 1049.1,276.5 1049.4,309.3 1049.7,317.9 1050.0,286.9 1050.3,267.9 1050.6,291.4 1050.9,275.1 1051.2,294.6 1051.5,277.7 1051.8,274.4 1052.1,288.0 1052.4,261.9 1052.7,282.1 1053.0,258.9 1053.3,287.6 1053.6,296.4 1053.9,308.5 1054.2,261.9 1054.5,270.6 1054.8,278.0 1055.1,281.8 1055.4,279.4 1055.7,258.4 1056.0,267.6 1056.3,318.7 1056.6,299.2 1056.9,304.7 1057.2,275.1 1057.5,278.8 1057.8,270.6 1058.1,289.2 1058.4,289.0 1058.7,294.1 1059.0,277.3 1059.3,305.7 1059.6,296.8 1059.9,325.3 1060.2,281.2 1060.5,314.6 1060.8,300.4 1061.1,294.9 1061.4,301.1 1061.7,339.0 1062.0,290.9 1062.3,289.2 1062.6,298.2 1062.9,306.8 1063.2,303.1 1063.5,279.7 1063.8,316.4 1064.1,320.1 1064.4,296.1 1064.7,287.5 1065.0,293.5 1065.3,305.0 1065.6,284.1 1065.8,310.6 1066.1,294.4 1066.4,332.3 1066.7,288.9 1067.0,298.8 1067.3,281.9 1067.6,339.0 1067.9,352.8 1068.2,294.7 1068.5,295.6 1068.8,288.3 1069.1,294.7 1069.4,279.7 1069.7,307.5 1070.0,281.0 1070.3,272.3 1070.6,300.2 1070.9,262.0 1071.2,283.2 1071.5,291.3 1071.8,273.2 1072.1,272.6 1072.4,273.7 1072.7,306.4 1073.0,265.5 1073.3,264.6 1073.6,285.3 1073.9,252.7 1074.2,272.6 1074.5,267.6 1074.8,298.7 1075.1,268.4 1075.4,293.7 1075.7,302.4 1076.0,276.2 1076.3,263.5 1076.6,289.8 1076.9,297.0 1077.2,268.6 1077.5,271.6 1077.8,284.9 1078.1,281.6 1078.4,302.0 1078.7,308.0 1079.0,311.2 1079.3,294.8 1079.6,281.8 1079.9,296.9 1080.2,293.3 1080.5,286.2 1080.8,335.7 1081.1,285.7 1081.4,293.9 1081.7,315.0 1082.0,303.6 1082.3,326.3 1082.6,295.5 1082.9,303.6 1083.2,307.9 1083.5,326.1 1083.8,302.0 1084.1,300.0 1084.4,297.2 1084.7,329.7 1085.0,307.4 1085.3,308.1 1085.6,290.1 1085.9,290.0 1086.2,292.5 1086.5,286.5 1086.8,295.2 1087.0,269.7 1087.3,297.1 1087.6,293.1 1087.9,309.6 1088.2,286.5 1088.5,285.9 1088.8,274.5 1089.1,282.3 1089.4,304.8 1089.7,284.2 1090.0,282.6 1090.3,274.4 1090.6,280.0 1090.9,286.9 1091.2,277.5 1091.5,275.8 1091.8,292.1 1092.1,287.2 1092.4,273.2 1092.7,261.2 1093.0,270.0 1093.3,271.5 1093.6,266.4 1093.9,272.6 1094.2,300.0 1094.5,282.9 1094.8,262.9 1095.1,276.3 1095.4,295.5 1095.7,278.2 1096.0,282.9 1096.3,259.4 1096.6,296.8 1096.9,277.0 1097.2,271.8 1097.5,279.0 1097.8,304.2 1098.1,287.1 1098.4,301.8 1098.7,296.7 1099.0,284.5 1099.3,319.9 1099.6,283.6 1099.9,277.8 1100.2,287.6 1100.5,302.4 1100.8,280.1 1101.1,295.6 1101.4,330.6 1101.7,316.3 1102.0,299.7 1102.3,303.0 1102.6,299.2 1102.9,301.1 1103.2,317.0 1103.5,310.5 1103.8,299.4 1104.1,282.0 1104.4,289.4 1104.7,285.1 1105.0,290.8 1105.3,300.0 1105.6,304.5 1105.9,316.1 1106.2,295.2 1106.5,289.4 1106.8,301.3 1107.1,319.5 1107.4,326.7 1107.7,322.6 1108.0,271.2 1108.2,268.6 1108.5,274.5 1108.8,276.9 1109.1,277.0 1109.4,303.8 1109.7,256.9 1110.0,280.5 1110.3,277.2 1110.6,283.7 1110.9,300.3 1111.2,271.8 1111.5,261.9 1111.8,267.1 1112.1,293.9 1112.4,252.7 1112.7,258.8 1113.0,296.0 1113.3,279.9 1113.6,254.0 1113.9,281.6 1114.2,282.6 1114.5,277.5 1114.8,275.0 1115.1,282.6 1115.4,271.1 1115.7,287.1 1116.0,292.8 1116.3,317.0 1116.6,283.3 1116.9,265.2 1117.2,281.9 1117.5,276.1 1117.8,287.0 1118.1,288.6 1118.4,333.0 1118.7,302.5 1119.0,299.8 1119.3,287.7 1119.6,301.0 1119.9,328.1 1120.2,333.4 1120.5,305.6 1120.8,301.6 1121.1,280.7 1121.4,324.2 1121.7,315.4 1122.0,315.6 1122.3,287.3 1122.6,309.3 1122.9,306.4 1123.2,296.3 1123.5,288.7 1123.8,299.7 1124.1,291.6 1124.4,329.9 1124.7,284.2 1125.0,286.7 1125.3,268.4 1125.6,294.3 1125.9,277.0 1126.2,280.3 1126.5,290.8 1126.8,323.2 1127.1,276.6 1127.4,286.6 1127.7,267.7 1128.0,283.6 1128.3,308.4 1128.6,281.0 1128.9,279.8 1129.2,274.1 1129.4,270.4 1129.7,277.8 1130.0,306.6 1130.3,295.9 1130.6,273.8 1130.9,272.4 1131.2,259.0 1131.5,269.0 1131.8,259.8 1132.1,269.8 1132.4,279.6 1132.7,255.3 1133.0,277.4 1133.3,278.8 1133.6,276.3 1133.9,268.1 1134.2,284.5 1134.5,279.0 1134.8,292.2 1135.1,278.7 1135.4,328.7 1135.7,296.3 1136.0,295.3 1136.3,291.5 1136.6,296.1 1136.9,279.3 1137.2,283.3 1137.5,308.4 1137.8,291.4 1138.1,279.1 1138.4,305.3 1138.7,302.3 1139.0,292.3 1139.3,323.0 1139.6,302.4 1139.9,287.4 1140.2,283.8 1140.5,318.5 1140.8,291.6 1141.1,325.3 1141.4,283.9 1141.7,297.3 1142.0,304.6 1142.3,306.3 1142.6,293.4 1142.9,282.2 1143.2,290.4 1143.5,283.5 1143.8,283.8 1144.1,283.6 1144.4,271.2 1144.7,279.0 1145.0,289.4 1145.3,284.9 1145.6,311.7 1145.9,314.5 1146.2,290.9 1146.5,285.0 1146.8,288.7 1147.1,285.4 1147.4,269.4 1147.7,276.8 1148.0,309.3 1148.3,269.1 1148.6,268.4 1148.9,275.7 1149.2,271.9 1149.5,281.4 1149.8,267.0 1150.1,278.6 1150.4,271.8 1150.7,258.7 1150.9,269.2 1151.2,271.0 1151.5,256.3 1151.8,234.0 1152.1,262.7 1152.4,272.5 1152.7,284.3 1153.0,284.2 1153.3,272.4 1153.6,262.0 1153.9,294.5 1154.2,300.6 1154.5,268.1 1154.8,275.0 1155.1,283.2 1155.4,311.2 1155.7,275.8 1156.0,314.1 1156.3,280.1 1156.6,295.0 1156.9,292.3 1157.2,299.4 1157.5,307.6 1157.8,301.9 1158.1,290.5 1158.4,335.9 1158.7,322.5 1159.0,292.3 1159.3,298.4 1159.6,283.2 1159.9,323.7 1160.2,320.0 1160.5,305.3 1160.8,301.9 1161.1,298.9 1161.4,298.1 1161.7,291.3 1162.0,330.8 1162.3,294.9 1162.6,304.1 1162.9,304.4 1163.2,275.9 1163.5,297.6 1163.8,278.0 1164.1,264.7 1164.4,294.3 1164.7,288.6 1165.0,288.6 1165.3,284.6 1165.6,268.9 1165.9,273.6 1166.2,281.2 1166.5,281.2 1166.8,293.4 1167.1,275.1 1167.4,297.9 1167.7,288.6 1168.0,275.0 1168.3,285.8 1168.6,297.6 1168.9,274.8 1169.2,287.4 1169.5,264.0 1169.8,267.2 1170.1,291.8 1170.4,267.2 1170.7,264.8 1171.0,271.8 1171.3,278.2 1171.6,282.6 1171.9,257.2 1172.1,276.7 1172.4,279.2 1172.7,284.9 1173.0,300.4 1173.3,290.4 1173.6,277.3 1173.9,281.3 1174.2,282.6 1174.5,286.1 1174.8,302.0 1175.1,289.2 1175.4,279.8 1175.7,292.7 1176.0,337.9 1176.3,306.0 1176.6,329.4 1176.9,310.6 1177.2,275.0 1177.5,305.2 1177.8,313.3 1178.1,329.6 1178.4,306.1 1178.7,289.1 1179.0,317.4 1179.3,300.5 1179.6,302.1 1179.9,312.3 1180.2,293.8 1180.5,307.4 1180.8,311.7 1181.1,309.1 1181.4,295.0 1181.7,276.3 1182.0,284.5 1182.3,305.2 1182.6,293.1 1182.9,305.2 1183.2,305.4 1183.5,323.4 1183.8,284.6 1184.1,296.4 1184.4,289.8 1184.7,281.2 1185.0,308.1 1185.3,302.5 1185.6,276.7 1185.9,297.8 1186.2,295.5 1186.5,268.0 1186.8,279.0 1187.1,262.5 1187.4,256.8 1187.7,258.5 1188.0,297.6 1188.3,269.9 1188.6,260.3 1188.9,265.6 1189.2,276.9 1189.5,289.2 1189.8,265.4 1190.1,298.9 1190.4,304.7 1190.7,291.0 1191.0,278.2 1191.3,264.3 1191.6,284.7 1191.9,270.6 1192.2,297.8 1192.5,290.7 1192.8,290.7 1193.1,296.7 1193.3,274.1 1193.6,313.3 1193.9,276.6 1194.2,287.4 1194.5,283.7 1194.8,305.0 1195.1,286.4 1195.4,326.5 1195.7,298.6 1196.0,293.7 1196.3,309.8 1196.6,323.6 1196.9,314.7 1197.2,307.3 1197.5,310.2 1197.8,343.4 1198.1,297.9 1198.4,328.7 1198.7,302.5 1199.0,315.9 1199.3,333.0 1199.6,292.5 1199.9,304.7 1200.2,295.5 1200.5,293.9 1200.8,294.4 1201.1,308.6 1201.4,290.2 1201.7,283.9 1202.0,304.1 1202.3,309.7 1202.6,300.5 1202.9,277.8 1203.2,290.6 1203.5,271.7 1203.8,293.0 1204.1,285.6 1204.4,267.9 1204.7,264.9 1205.0,273.5 1205.3,299.3 1205.6,279.9 1205.9,279.8 1206.2,294.4 1206.5,262.3 1206.8,270.5 1207.1,287.9 1207.4,292.0 1207.7,269.5 1208.0,301.1 1208.3,260.9 1208.6,280.1 1208.9,295.3 1209.2,268.7 1209.5,290.0 1209.8,279.9 1210.1,276.9 1210.4,295.1 1210.7,276.1 1211.0,267.3 1211.3,271.1 1211.6,285.6 1211.9,276.2 1212.2,304.1 1212.5,290.5 1212.8,276.1 1213.1,306.7 1213.4,289.0 1213.7,282.6 1214.0,292.1 1214.3,275.3 1214.5,301.5 1214.8,304.8 1215.1,321.8 1215.4,296.3 1215.7,298.8 1216.0,313.9 1216.3,297.7 1216.6,286.0 1216.9,312.4 1217.2,290.7 1217.5,298.2 1217.8,308.5 1218.1,346.8 1218.4,305.7 1218.7,314.7 1219.0,297.5 1219.3,308.3 1219.6,302.3 1219.9,309.2 1220.2,305.4 1220.5,290.8 1220.8,327.3 1221.1,280.1 1221.4,285.1 1221.7,326.0 1222.0,286.6 1222.3,294.8 1222.6,297.1 1222.9,290.1 1223.2,288.2 1223.5,297.7 1223.8,290.9 1224.1,269.9 1224.4,308.1 1224.7,269.5 1225.0,291.5 1225.3,271.9 1225.6,299.7 1225.9,288.4 1226.2,278.4 1226.5,314.1 1226.8,294.7 1227.1,253.9 1227.4,262.7 1227.7,262.2 1228.0,267.2 1228.3,284.5 1228.6,257.5 1228.9,254.4 1229.2,297.8 1229.5,280.8 1229.8,283.5 1230.1,283.6 1230.4,272.6 1230.7,284.9 1231.0,284.4 1231.3,287.1 1231.6,309.7 1231.9,270.1 1232.2,314.1 1232.5,296.3 1232.8,295.8 1233.1,289.0 1233.4,287.4 1233.7,333.1 1234.0,295.0 1234.3,314.4 1234.6,293.6 1234.9,297.4 1235.2,344.6 1235.5,324.7 1235.7,305.5 1236.0,297.3 1236.3,296.3 1236.6,302.4 1236.9,315.5 1237.2,301.7 1237.5,305.1 1237.8,310.9 1238.1,289.2 1238.4,299.0 1238.7,298.1 1239.0,288.6 1239.3,304.9 1239.6,297.4 1239.9,314.9 1240.2,307.9 1240.5,316.6 1240.8,310.3 1241.1,306.7 1241.4,291.5 1241.7,281.8 1242.0,295.7 1242.3,284.9 1242.6,261.6 1242.9,293.8 1243.2,287.0 1243.5,287.8 1243.8,261.8 1244.1,276.5 1244.4,303.6 1244.7,272.7 1245.0,289.9 1245.3,276.4 1245.6,265.1 1245.9,270.3 1246.2,287.9 1246.5,300.0 1246.8,283.4 1247.1,271.2 1247.4,285.9 1247.7,287.0 1248.0,278.5 1248.3,267.9 1248.6,323.2 1248.9,298.8 1249.2,305.5 1249.5,291.0 1249.8,274.8 1250.1,279.8 1250.4,285.8 1250.7,280.7 1251.0,291.4 1251.3,289.5 1251.6,272.6 1251.9,283.7 1252.2,279.8 1252.5,273.0 1252.8,316.4 1253.1,273.5 1253.4,318.7 1253.7,284.3 1254.0,303.4 1254.3,278.8 1254.6,287.9 1254.9,316.5 1255.2,297.7 1255.5,298.6 1255.8,316.7 1256.1,303.1 1256.4,314.0 1256.7,308.1 1256.9,303.8 1257.2,301.1 1257.5,317.3 1257.8,278.6 1258.1,321.5 1258.4,294.7 1258.7,305.2 1259.0,279.3 1259.3,300.1 1259.6,299.0 1259.9,271.4 1260.2,297.5 1260.5,289.7 1260.8,299.9 1261.1,280.5 1261.4,283.1 1261.7,301.5 1262.0,280.0 1262.3,290.2 1262.6,276.0 1262.9,298.3 1263.2,268.6 1263.5,265.8 1263.8,290.5 1264.1,276.7 1264.4,266.8 1264.7,296.3 1265.0,271.3 1265.3,267.3 1265.6,292.3 1265.9,286.3 1266.2,259.5 1266.5,271.0 1266.8,281.4 1267.1,295.0 1267.4,271.4 1267.7,289.0 1268.0,257.4 1268.3,278.3 1268.6,270.7 1268.9,282.0 1269.2,268.3 1269.5,282.4 1269.8,302.5 1270.1,286.1 1270.4,294.9 1270.7,289.0 1271.0,295.8 1271.3,294.4 1271.6,303.4 1271.9,301.5 1272.2,294.3 1272.5,301.9 1272.8,286.9 1273.1,290.5 1273.4,307.2 1273.7,321.9 1274.0,288.6 1274.3,310.8 1274.6,325.9 1274.9,318.6 1275.2,310.2 1275.5,289.3 1275.8,293.7 1276.1,301.3 1276.4,323.4 1276.7,305.5 1277.0,308.3 1277.3,281.2 1277.6,299.5 1277.9,270.3 1278.1,288.4 1278.4,304.7 1278.7,290.3 1279.0,304.8 1279.3,284.3 1279.6,330.1 1279.9,273.9 1280.2,284.3 1280.5,276.2 1280.8,305.3 1281.1,259.3 1281.4,303.2 1281.7,278.8 1282.0,301.1 1282.3,283.9 1282.6,273.8 1282.9,302.3 1283.2,277.9 1283.5,269.0 1283.8,289.6 1284.1,261.4 1284.4,274.0 1284.7,292.0 1285.0,283.8 1285.3,288.2 1285.6,276.8 1285.9,269.1 1286.2,278.4 1286.5,275.5 1286.8,280.9 1287.1,274.6 1287.4,269.4 1287.7,311.2 1288.0,283.1 1288.3,288.7 1288.6,270.3 1288.9,276.0 1289.2,311.3 1289.5,298.8 1289.8,325.2 1290.1,287.8 1290.4,290.6 1290.7,299.7 1291.0,322.6 1291.3,292.0 1291.6,312.9 1291.9,291.6 1292.2,314.3 1292.5,279.5 1292.8,286.6 1293.1,287.9 1293.4,339.4 1293.7,294.2 1294.0,293.7 1294.3,317.6 1294.6,305.9 1294.9,311.2 1295.2,292.6 1295.5,278.0 1295.8,319.0 1296.1,321.0 1296.4,291.9 1296.7,313.8 1297.0,286.7 1297.3,300.3 1297.6,288.2 1297.9,281.7 1298.2,289.1 1298.5,278.6 1298.8,305.9 1299.1,307.1 1299.3,284.7 1299.6,303.9 1299.9,285.5 1300.2,277.0 1300.5,283.0 1300.8,276.3 1301.1,276.6 1301.4,322.1 1301.7,281.5 1302.0,284.2 1302.3,259.7 1302.6,259.7 1302.9,281.9 1303.2,261.2 1303.5,275.0 1303.8,264.4 1304.1,295.1 1304.4,266.1 1304.7,266.5 1305.0,302.1 1305.3,272.3 1305.6,263.4 1305.9,281.5 1306.2,267.5 1306.5,297.2 1306.8,300.5 1307.1,306.9 1307.4,275.0 1307.7,330.0 1308.0,279.3 1308.3,293.0 1308.6,280.0 1308.9,288.4 1309.2,293.0 1309.5,285.2 1309.8,283.0 1310.1,282.4 1310.4,284.3 1310.7,288.3 1311.0,307.9 1311.3,303.3 1311.6,330.2 1311.9,306.7 1312.2,307.0 1312.5,289.4 1312.8,286.0 1313.1,326.4 1313.4,335.9 1313.7,315.9 1314.0,301.1 1314.3,282.8 1314.6,323.2 1314.9,323.1 1315.2,320.1 1315.5,283.5 1315.8,307.1 1316.1,300.9 1316.4,314.3 1316.7,287.0 1317.0,298.3 1317.3,292.0 1317.6,301.5 1317.9,298.4 1318.2,274.1 1318.5,295.8 1318.8,277.8 1319.1,291.6 1319.4,301.9 1319.7,278.6 1320.0,296.1 1320.3,279.8 1320.5,266.9 1320.8,282.3 1321.1,287.6 1321.4,262.9 1321.7,276.9 1322.0,284.9 1322.3,272.9 1322.6,262.7 1322.9,265.1 1323.2,269.1 1323.5,268.3 1323.8,277.1 1324.1,296.8 1324.4,278.4 1324.7,312.1 1325.0,274.8 1325.3,298.2 1325.6,303.4 1325.9,266.6 1326.2,282.5 1326.5,284.0 1326.8,292.6 1327.1,287.5 1327.4,300.4 1327.7,298.4 1328.0,291.9 1328.3,293.0 1328.6,336.7 1328.9,279.7 1329.2,307.2 1329.5,286.9 1329.8,284.6 1330.1,295.4 1330.4,308.1 1330.7,295.1 1331.0,309.7 1331.3,321.9 1331.6,348.0 1331.9,298.4 1332.2,306.3 1332.5,289.9 1332.8,306.7 1333.1,301.0 1333.4,301.3 1333.7,306.6 1334.0,294.7 1334.3,293.1 1334.6,292.0 1334.9,312.4 1335.2,300.5 1335.5,274.8 1335.8,292.0 1336.1,303.2 1336.4,317.6 1336.7,275.9 1337.0,277.3 1337.3,283.7 1337.6,293.9 1337.9,278.3 1338.2,271.9 1338.5,282.3 1338.8,282.8 1339.1,287.6 1339.4,280.9 1339.7,293.5 1340.0,275.0 1340.3,291.1 1340.6,286.1 1340.9,293.6 1341.2,298.0 1341.5,271.7 1341.8,252.1 1342.0,310.6 1342.3,274.8 1342.6,303.9 1342.9,277.5 1343.2,305.7 1343.5,280.2 1343.8,286.4 1344.1,279.9 1344.4,277.4 1344.7,285.6 1345.0,285.4 1345.3,298.3 1345.6,295.7 1345.9,292.1 1346.2,290.3 1346.5,286.7 1346.8,285.9 1347.1,314.8 1347.4,281.4 1347.7,289.7 1348.0,296.6 1348.3,297.2 1348.6,313.0 1348.9,292.5 1349.2,342.4 1349.5,343.5 1349.8,294.2 1350.1,313.8 1350.4,308.1 1350.7,317.8 1351.0,299.0 1351.3,324.6 1351.6,307.4 1351.9,300.7 1352.2,287.0 1352.5,291.1 1352.8,302.3 1353.1,291.5 1353.4,307.7 1353.7,299.4 1354.0,288.7 1354.3,280.7 1354.6,315.6 1354.9,300.5 1355.2,287.4 1355.5,284.4 1355.8,287.3 1356.1,292.3 1356.4,304.3 1356.7,307.0 1357.0,281.0 1357.3,293.6 1357.6,287.6 1357.9,294.3 1358.2,288.8 1358.5,295.2 1358.8,285.0 1359.1,282.7 1359.4,272.1 1359.7,290.7 1360.0,308.1 1360.3,279.7 1360.6,270.0 1360.9,280.1 1361.2,263.5 1361.5,274.8 1361.8,289.1 1362.1,268.2 1362.4,273.6 1362.7,282.5 1363.0,297.9 1363.2,317.7 1363.5,276.4 1363.8,273.8 1364.1,278.0 1364.4,284.6 1364.7,292.8 1365.0,269.8 1365.3,285.8 1365.6,277.2 1365.9,293.2 1366.2,284.0 1366.5,283.6 1366.8,307.3 1367.1,318.0 1367.4,289.8 1367.7,286.7 1368.0,291.9 1368.3,305.8 1368.6,301.5 1368.9,290.2 1369.2,272.4 1369.5,281.0 1369.8,303.4 1370.1,293.2 1370.4,314.5 1370.7,333.8 1371.0,324.1 1371.3,344.2 1371.6,322.5 1371.9,357.5 1372.2,345.0 1372.5,335.3 1372.8,359.0 1373.1,377.2 1373.4,351.6 1373.7,363.3 1374.0,357.8 1374.3,381.8 1374.6,377.4 1374.9,391.5 1375.2,384.4 1375.5,396.8 1375.8,409.6 1376.1,425.6 1376.4,415.0 1376.7,406.6 1377.0,391.6 1377.3,389.7 1377.6,400.1 1377.9,382.9 1378.2,370.0 1378.5,401.4 1378.8,382.4 1379.1,386.2 1379.4,386.4 1379.7,389.5 1380.0,444.5 1380.3,373.2 1380.6,438.7 1380.9,383.8 1381.2,374.3 1381.5,376.8 1381.8,406.9 1382.1,409.8 1382.4,382.0 1382.7,420.5 1383.0,361.4 1383.3,359.6 1383.6,386.7 1383.9,388.7 1384.2,383.0 1384.4,359.5 1384.7,407.9 1385.0,405.2 1385.3,384.1 1385.6,401.5 1385.9,380.2 1386.2,365.1 1386.5,383.4 1386.8,409.3 1387.1,395.2 1387.4,403.6 1387.7,422.4 1388.0,390.7 1388.3,383.0 1388.6,393.2 1388.9,378.5 1389.2,419.5 1389.5,407.0 1389.8,433.2 1390.1,403.2 1390.4,386.0 1390.7,406.4 1391.0,413.2 1391.3,395.5 1391.6,389.0 1391.9,404.5 1392.2,409.9 1392.5,390.2 1392.8,401.6 1393.1,390.3 1393.4,421.8 1393.7,411.0 1394.0,422.0 1394.3,444.4 1394.6,432.8 1394.9,404.3 1395.2,400.2 1395.5,418.6 1395.8,421.9 1396.1,396.2 1396.4,427.7 1396.7,407.4 1397.0,439.6 1397.3,452.0 1397.6,414.8 1397.9,419.6 1398.2,430.1 1398.5,450.4 1398.8,415.1 1399.1,434.6 1399.4,395.6 1399.7,411.7 1400.0,429.8 1400.3,441.9 1400.6,421.2 1400.9,432.6 1401.2,445.2 1401.5,411.4 1401.8,435.2 1402.1,412.9 1402.4,431.4 1402.7,416.0 1403.0,418.0 1403.3,406.8 1403.6,409.8 1403.9,439.6 1404.2,409.9 1404.5,398.1 1404.8,438.4 1405.1,412.2 1405.4,424.5 1405.6,417.5 1405.9,391.2 1406.2,442.5 1406.5,422.4 1406.8,444.5 1407.1,427.3 1407.4,411.3 1407.7,424.8 1408.0,442.7 1408.3,411.2 1408.6,418.7 1408.9,439.3 1409.2,418.2 1409.5,465.6 1409.8,423.3 1410.1,430.6 1410.4,410.5 1410.7,428.6 1411.0,460.9 1411.3,398.6 1411.6,426.6 1411.9,424.5 1412.2,455.1 1412.5,404.7 1412.8,407.8 1413.1,409.4 1413.4,421.4 1413.7,415.0 1414.0,416.7 1414.3,455.6 1414.6,411.3 1414.9,452.2 1415.2,420.2 1415.5,417.8 1415.8,464.2 1416.1,416.7 1416.4,423.4 1416.7,424.9 1417.0,435.6 1417.3,427.1 1417.6,418.3 1417.9,444.8 1418.2,451.1 1418.5,417.3 1418.8,479.2 1419.1,416.2 1419.4,479.4 1419.7,433.7 1420.0,415.4 1420.3,416.8 1420.6,440.1 1420.9,419.9 1421.2,421.0 1421.5,480.1 1421.8,427.0 1422.1,450.8 1422.4,410.8 1422.7,445.7 1423.0,410.9 1423.3,426.0 1423.6,420.6 1423.9,422.2 1424.2,428.1 1424.5,443.7 1424.8,443.3 1425.1,445.6 1425.4,454.0 1425.7,441.1 1426.0,433.9 1426.3,439.2 1426.6,422.2 1426.8,439.9 1427.1,423.7 1427.4,429.9 1427.7,417.2 1428.0,428.8 1428.3,421.3 1428.6,426.5 1428.9,436.4 1429.2,424.1 1429.5,454.8 1429.8,434.6 1430.1,434.3 1430.4,425.5 1430.7,462.2 1431.0,437.8 1431.3,429.6 1431.6,427.6 1431.9,446.4 1432.2,459.5 1432.5,433.4 1432.8,462.3 1433.1,437.8 1433.4,439.6 1433.7,436.3 1434.0,424.0 1434.3,428.1 1434.6,433.7 1434.9,430.9 1435.2,441.8 1435.5,435.4 1435.8,436.5 1436.1,448.1 1436.4,438.6 1436.7,420.8 1437.0,441.7 1437.3,438.6 1437.6,455.6 1437.9,454.1 1438.2,460.6 1438.5,452.4 1438.8,426.3 1439.1,441.6 1439.4,482.9 1439.7,428.3 1440.0,451.0 1440.3,493.2 1440.6,427.0 1440.9,442.0 1441.2,422.8 1441.5,440.3 1441.8,453.3 1442.1,453.2 1442.4,442.5 1442.7,451.7 1443.0,436.3 1443.3,445.8 1443.6,424.2 1443.9,451.2 1444.2,439.0 1444.5,424.0 1444.8,434.8 1445.1,426.5 1445.4,427.3 1445.7,446.0 1446.0,450.1 1446.3,488.1 1446.6,443.9 1446.9,445.6 1447.2,440.1 1447.5,426.2 1447.8,446.9 1448.0,448.1 1448.3,437.9 1448.6,446.7 1448.9,450.7 1449.2,455.5 1449.5,444.6 1449.8,440.0 1450.1,458.9 1450.4,487.5 1450.7,443.9 1451.0,458.1 1451.3,434.8 1451.6,434.3 1451.9,449.0 1452.2,418.9 1452.5,433.5 1452.8,438.3 1453.1,440.4 1453.4,431.5 1453.7,428.4 1454.0,439.7 1454.3,419.4 1454.6,444.4 1454.9,452.6 1455.2,457.2 1455.5,451.3 1455.8,447.7 1456.1,450.0 1456.4,453.2 1456.7,438.1 1457.0,464.5 1457.3,466.2 1457.6,445.7 1457.9,450.1 1458.2,458.4 1458.5,424.9 1458.8,449.2 1459.1,441.3 1459.4,465.4 1459.7,415.1 1460.0,450.5 1460.3,435.2 1460.6,443.1 1460.9,438.6 1461.2,454.1 1461.5,490.1 1461.8,470.4 1462.1,428.9 1462.4,439.5 1462.7,438.6 1463.0,454.0 1463.3,450.6 1463.6,451.5 1463.9,463.9 1464.2,438.1 1464.5,456.2 1464.8,474.9 1465.1,445.9 1465.4,448.0 1465.7,455.9 1466.0,443.6 1466.3,439.8 1466.6,434.0 1466.9,454.7 1467.2,456.5 1467.5,438.7 1467.8,446.1 1468.1,452.3 1468.4,437.2 1468.7,432.1 1469.0,488.9 1469.2,461.5 1469.5,491.2 1469.8,436.7 1470.1,450.8 1470.4,448.5 1470.7,425.4 1471.0,437.2 1471.3,444.9 1471.6,447.2 1471.9,474.4 1472.2,440.3 1472.5,449.5 1472.8,442.8 1473.1,432.3 1473.4,458.4 1473.7,441.4 1474.0,487.3 1474.3,479.4 1474.6,443.0 1474.9,438.1 1475.2,457.4"/>
<polyline stroke="#77AC30" points="252.5,519.2 252.8,522.5 253.1,524.8 253.4,518.4 253.7,525.2 254.0,513.5 254.3,517.7 254.6,519.2 254.9,538.3 255.2,548.3 255.5,536.9 255.8,516.9 256.1,519.3 256.4,541.6 256.7,516.9 257.0,529.3 257.3,529.2 257.6,509.1 257.9,519.8 258.2,517.7 258.5,517.5 258.8,541.6 259.0,516.9 259.3,499.2 259.6,535.1 259.9,511.8 260.2,510.7 260.5,510.8 260.8,526.8 261.1,523.8 261.4,534.7 261.7,520.3 262.0,506.0 262.3,528.3 262.6,550.8 262.9,518.9 263.2,510.2 263.5,522.2 263.8,502.5 264.1,521.3 264.4,519.0 264.7,533.0 265.0,523.0 265.3,510.3 265.6,510.1 265.9,506.3 266.2,510.9 266.5,513.3 266.8,551.3 267.1,529.3 267.4,496.2 267.7,525.1 268.0,511.6 268.3,519.5 268.6,511.2 268.9,517.9 269.2,531.4 269.5,528.3 269.8,514.6 270.1,524.3 270.4,549.9 270.7,512.6 271.0,507.6 271.3,508.4 271.6,508.2 271.9,539.6 272.2,502.0 272.5,519.8 272.8,529.7 273.1,523.3 273.4,526.8 273.7,534.6 274.0,518.1 274.3,516.0 274.6,520.2 274.9,516.0 275.2,519.7 275.5,526.7 275.8,524.7 276.1,512.1 276.4,537.4 276.7,524.0 277.0,507.9 277.3,514.9 277.6,510.7 277.9,517.4 278.2,532.9 278.5,522.0 278.8,516.0 279.1,522.0 279.4,519.2 279.7,515.2 280.0,508.0 280.2,522.6 280.5,505.3 280.8,517.0 281.1,506.8 281.4,505.4 281.7,500.0 282.0,505.8 282.3,505.6 282.6,499.9 282.9,540.8 283.2,528.4 283.5,505.4 283.8,550.2 284.1,513.6 284.4,513.5 284.7,536.5 285.0,526.9 285.3,508.0 285.6,508.9 285.9,521.9 286.2,525.1 286.5,523.4 286.8,509.1 287.1,533.2 287.4,513.8 287.7,534.0 288.0,504.4 288.3,511.4 288.6,500.3 288.9,549.7 289.2,544.6 289.5,520.8 289.8,498.0 290.1,528.4 290.4,499.4 290.7,510.7 291.0,510.7 291.3,504.7 291.6,525.9 291.9,520.1 292.2,529.8 292.5,510.6 292.8,492.5 293.1,516.5 293.4,505.5 293.7,506.9 294.0,508.8 294.3,513.3 294.6,496.2 294.9,509.5 295.2,517.1 295.5,497.9 295.8,501.0 296.1,506.2 296.4,511.5 296.7,491.7 297.0,509.3 297.3,517.7 297.6,501.9 297.9,513.0 298.2,508.9 298.5,513.5 298.8,510.8 299.1,535.8 299.4,520.8 299.7,519.2 300.0,511.6 300.3,504.1 300.6,522.5 300.9,483.2 301.2,508.6 301.4,501.0 301.7,523.6 302.0,519.4 302.3,485.8 302.6,496.5 302.9,506.5 303.2,527.4 303.5,484.6 303.8,518.4 304.1,510.1 304.4,505.0 304.7,497.3 305.0,501.8 305.3,502.1 305.6,477.6 305.9,499.3 306.2,494.2 306.5,489.6 306.8,533.4 307.1,510.1 307.4,471.1 307.7,511.4 308.0,498.5 308.3,518.5 308.6,518.2 308.9,482.0 309.2,504.2 309.5,498.0 309.8,501.2 310.1,523.8 310.4,498.0 310.7,480.3 311.0,508.2 311.3,487.8 311.6,478.8 311.9,516.7 312.2,480.9 312.5,534.9 312.8,483.0 313.1,498.4 313.4,513.3 313.7,494.0 314.0,502.4 314.3,526.7 314.6,475.6 314.9,474.3 315.2,510.4 315.5,498.1 315.8,499.5 316.1,495.1 316.4,516.3 316.7,475.9 317.0,489.4 317.3,508.7 317.6,498.8 317.9,504.2 318.2,493.1 318.5,479.4 318.8,479.1 319.1,510.9 319.4,487.7 319.7,506.6 320.0,528.3 320.3,510.6 320.6,489.3 320.9,522.3 321.2,502.6 321.5,481.6 321.8,567.2 322.1,502.7 322.4,507.5 322.6,531.8 322.9,493.5 323.2,488.0 323.5,486.4 323.8,508.9 324.1,508.1 324.4,474.8 324.7,506.8 325.0,493.5 325.3,509.5 325.6,509.5 325.9,521.1 326.2,465.0 326.5,494.1 326.8,533.5 327.1,486.8 327.4,487.8 327.7,487.2 328.0,465.5 328.3,488.4 328.6,486.9 328.9,500.8 329.2,507.9 329.5,487.4 329.8,488.8 330.1,505.3 330.4,496.1 330.7,485.1 331.0,483.7 331.3,497.4 331.6,540.1 331.9,481.9 332.2,493.0 332.5,505.5 332.8,495.6 333.1,511.4 333.4,481.6 333.7,492.9 334.0,525.0 334.3,479.5 334.6,476.9 334.9,488.8 335.2,475.9 335.5,520.0 335.8,464.0 336.1,479.0 336.4,466.3 336.7,517.0 337.0,492.8 337.3,485.5 337.6,448.9 337.9,477.2 338.2,503.1 338.5,464.5 338.8,468.7 339.1,486.0 339.4,454.9 339.7,448.1 340.0,471.3 340.3,486.1 340.6,451.6 340.9,454.9 341.2,466.7 341.5,476.9 341.8,463.2 342.1,447.7 342.4,453.7 342.7,442.0 343.0,422.7 343.3,443.0 343.6,433.3 343.8,446.7 344.1,413.0 344.4,443.9 344.7,418.5 345.0,415.1 345.3,442.2 345.6,422.6 345.9,473.6 346.2,427.4 346.5,472.8 346.8,426.6 347.1,448.0 347.4,444.8 347.7,462.6 348.0,439.6 348.3,432.9 348.6,468.8 348.9,456.8 349.2,447.0 349.5,467.2 349.8,433.6 350.1,424.1 350.4,454.6 350.7,463.4 351.0,460.4 351.3,483.8 351.6,503.3 351.9,484.7 352.2,459.9 352.5,468.0 352.8,478.2 353.1,478.5 353.4,451.4 353.7,455.1 354.0,431.0 354.3,465.5 354.6,397.6 354.9,436.5 355.2,397.1 355.5,435.4 355.8,414.7 356.1,432.0 356.4,388.9 356.7,401.8 357.0,426.1 357.3,408.6 357.6,387.2 357.9,433.8 358.2,402.0 358.5,393.0 358.8,430.2 359.1,365.7 359.4,337.8 359.7,396.9 360.0,375.0 360.3,345.2 360.6,335.4 360.9,330.1 361.2,333.9 361.5,332.1 361.8,351.8 362.1,311.8 362.4,316.4 362.7,344.7 363.0,332.5 363.3,335.1 363.6,336.3 363.9,347.7 364.2,298.2 364.5,328.9 364.8,313.5 365.0,325.8 365.3,317.0 365.6,299.2 365.9,317.2 366.2,297.3 366.5,327.4 366.8,304.9 367.1,294.5 367.4,303.7 367.7,327.3 368.0,323.3 368.3,329.7 368.6,315.1 368.9,324.3 369.2,335.7 369.5,346.8 369.8,336.2 370.1,327.2 370.4,317.6 370.7,323.6 371.0,321.1 371.3,314.8 371.6,327.1 371.9,363.0 372.2,339.8 372.5,363.2 372.8,336.6 373.1,375.0 373.4,342.3 373.7,340.7 374.0,335.4 374.3,345.4 374.6,315.1 374.9,355.2 375.2,337.5 375.5,358.2 375.8,369.1 376.1,360.7 376.4,382.5 376.7,353.0 377.0,391.4 377.3,341.3 377.6,352.6 377.9,340.9 378.2,370.7 378.5,328.1 378.8,330.2 379.1,331.6 379.4,346.0 379.7,331.2 380.0,342.2 380.3,323.0 380.6,374.6 380.9,336.7 381.2,317.7 381.5,322.7 381.8,320.6 382.1,320.5 382.4,327.9 382.7,345.7 383.0,320.8 383.3,333.7 383.6,329.6 383.9,325.9 384.2,322.8 384.5,338.6 384.8,310.1 385.1,315.7 385.4,301.5 385.7,290.2 386.0,303.9 386.2,311.6 386.5,339.9 386.8,316.6 387.1,314.3 387.4,314.3 387.7,319.2 388.0,329.9 388.3,309.7 388.6,321.5 388.9,310.6 389.2,338.7 389.5,323.0 389.8,312.7 390.1,314.0 390.4,352.0 390.7,334.5 391.0,340.2 391.3,319.2 391.6,330.8 391.9,349.3 392.2,340.0 392.5,349.1 392.8,341.7 393.1,350.6 393.4,341.5 393.7,329.6 394.0,319.3 394.3,337.2 394.6,326.2 394.9,341.7 395.2,342.1 395.5,347.2 395.8,356.6 396.1,404.2 396.4,371.6 396.7,355.1 397.0,344.4 397.3,365.1 397.6,347.9 397.9,348.6 398.2,347.1 398.5,343.2 398.8,333.8 399.1,346.5 399.4,342.1 399.7,354.4 400.0,343.6 400.3,350.2 400.6,328.4 400.9,307.4 401.2,308.6 401.5,341.8 401.8,322.5 402.1,326.9 402.4,364.7 402.7,375.2 403.0,336.4 403.3,326.0 403.6,349.3 403.9,339.4 404.2,336.0 404.5,336.6 404.8,342.5 405.1,319.8 405.4,304.9 405.7,311.5 406.0,333.5 406.3,321.2 406.6,319.2 406.9,363.5 407.2,308.6 407.5,336.4 407.7,350.6 408.0,295.3 408.3,346.9 408.6,334.4 408.9,343.5 409.2,317.8 409.5,337.8 409.8,364.1 410.1,384.4 410.4,346.4 410.7,312.9 411.0,359.7 411.3,323.6 411.6,358.1 411.9,346.6 412.2,340.9 412.5,348.3 412.8,395.1 413.1,359.9 413.4,345.4 413.7,361.1 414.0,346.1 414.3,381.6 414.6,376.3 414.9,358.7 415.2,357.5 415.5,342.0 415.8,358.8 416.1,350.9 416.4,351.7 416.7,341.9 417.0,340.8 417.3,346.8 417.6,332.6 417.9,324.0 418.2,354.0 418.5,351.3 418.8,350.7 419.1,350.6 419.4,348.3 419.7,334.9 420.0,323.5 420.3,345.0 420.6,325.5 420.9,337.6 421.2,297.8 421.5,324.2 421.8,316.0 422.1,343.2 422.4,339.5 422.7,319.6 423.0,334.9 423.3,321.1 423.6,302.6 423.9,330.4 424.2,331.2 424.5,312.5 424.8,320.7 425.1,308.4 425.4,321.2 425.7,340.0 426.0,369.9 426.3,317.8 426.6,336.7 426.9,323.8 427.2,365.5 427.5,341.6 427.8,324.2 428.1,316.3 428.4,317.3 428.7,316.0 428.9,335.3 429.2,322.5 429.5,332.4 429.8,343.0 430.1,348.1 430.4,355.5 430.7,328.3 431.0,343.4 431.3,358.2 431.6,413.5 431.9,323.4 432.2,377.2 432.5,377.5 432.8,332.4 433.1,381.8 433.4,335.5 433.7,365.7 434.0,351.0 434.3,337.8 434.6,336.4 434.9,341.8 435.2,352.2 435.5,355.1 435.8,353.4 436.1,326.8 436.4,341.4 436.7,328.7 437.0,392.3 437.3,348.5 437.6,336.5 437.9,346.4 438.2,311.2 438.5,359.0 438.8,327.9 439.1,321.6 439.4,348.2 439.7,319.3 440.0,324.0 440.3,294.3 440.6,307.7 440.9,327.1 441.2,311.1 441.5,317.5 441.8,330.2 442.1,311.3 442.4,312.2 442.7,297.0 443.0,345.3 443.3,342.8 443.6,328.3 443.9,305.9 444.2,301.8 444.5,320.4 444.8,315.8 445.1,320.3 445.4,356.4 445.7,338.7 446.0,311.8 446.3,314.0 446.6,311.1 446.9,318.6 447.2,379.1 447.5,327.0 447.8,327.3 448.1,360.6 448.4,310.9 448.7,339.2 449.0,324.4 449.3,327.9 449.6,331.6 449.9,322.8 450.1,345.6 450.4,331.0 450.7,339.0 451.0,370.8 451.3,359.8 451.6,372.9 451.9,383.5 452.2,345.3 452.5,382.5 452.8,341.1 453.1,360.7 453.4,359.6 453.7,378.0 454.0,346.8 454.3,368.0 454.6,340.3 454.9,338.4 455.2,383.7 455.5,397.4 455.8,392.5 456.1,331.4 456.4,391.0 456.7,360.5 457.0,321.4 457.3,334.6 457.6,326.4 457.9,384.4 458.2,322.7 458.5,348.0 458.8,309.4 459.1,329.3 459.4,330.6 459.7,361.7 460.0,343.1 460.3,325.5 460.6,304.8 460.9,304.6 461.2,325.3 461.5,342.0 461.8,342.6 462.1,294.4 462.4,311.1 462.7,334.7 463.0,295.1 463.3,308.7 463.6,307.0 463.9,307.0 464.2,315.5 464.5,331.0 464.8,358.3 465.1,351.6 465.4,342.4 465.7,319.6 466.0,342.1 466.3,318.3 466.6,318.2 466.9,312.1 467.2,313.0 467.5,313.4 467.8,333.0 468.1,335.3 468.4,350.0 468.7,336.1 469.0,339.6 469.3,354.6 469.6,385.1 469.9,326.8 470.2,338.3 470.5,366.6 470.8,357.4 471.1,339.2 471.3,361.2 471.6,348.4 471.9,339.7 472.2,343.3 472.5,356.8 472.8,369.0 473.1,357.9 473.4,339.4 473.7,351.9 474.0,325.9 474.3,323.0 474.6,325.0 474.9,333.1 475.2,365.3 475.5,318.7 475.8,328.5 476.1,349.8 476.4,352.8 476.7,346.4 477.0,332.0 477.3,361.6 477.6,315.4 477.9,336.4 478.2,320.8 478.5,363.5 478.8,291.5 479.1,310.8 479.4,325.6 479.7,345.3 480.0,301.1 480.3,327.0 480.6,326.1 480.9,333.9 481.2,340.5 481.5,316.3 481.8,313.3 482.1,322.2 482.4,337.3 482.7,297.4 483.0,297.6 483.3,336.1 483.6,303.9 483.9,322.4 484.2,325.6 484.5,299.8 484.8,302.3 485.1,335.9 485.4,319.4 485.7,342.2 486.0,367.5 486.3,321.2 486.6,328.5 486.9,325.9 487.2,309.6 487.5,344.2 487.8,333.3 488.1,339.7 488.4,387.2 488.7,348.2 489.0,379.8 489.3,346.8 489.6,369.3 489.9,372.5 490.2,331.9 490.5,360.3 490.8,359.3 491.1,350.5 491.4,405.5 491.7,373.0 492.0,368.4 492.3,346.7 492.5,348.1 492.8,361.8 493.1,325.5 493.4,357.4 493.7,361.2 494.0,339.3 494.3,357.0 494.6,325.2 494.9,336.6 495.2,353.1 495.5,309.7 495.8,344.6 496.1,336.9 496.4,330.0 496.7,328.4 497.0,326.1 497.3,357.4 497.6,328.8 497.9,375.9 498.2,331.5 498.5,327.9 498.8,316.3 499.1,337.9 499.4,317.5 499.7,328.3 500.0,318.1 500.3,335.3 500.6,302.5 500.9,302.0 501.2,350.7 501.5,322.7 501.8,325.9 502.1,367.3 502.4,347.6 502.7,328.0 503.0,349.1 503.3,323.9 503.6,316.8 503.9,340.3 504.2,321.0 504.5,312.1 504.8,344.1 505.1,317.2 505.4,318.3 505.7,317.5 506.0,337.2 506.3,334.4 506.6,354.8 506.9,328.4 507.2,331.4 507.5,338.0 507.8,345.1 508.1,358.2 508.4,396.3 508.7,358.9 509.0,388.1 509.3,353.9 509.6,368.0 509.9,324.9 510.2,366.3 510.5,374.0 510.8,331.6 511.1,388.7 511.4,336.0 511.7,334.1 512.0,351.5 512.3,375.2 512.6,357.7 512.9,343.6 513.2,332.1 513.5,335.0 513.7,335.3 514.0,347.8 514.3,324.0 514.6,357.3 514.9,348.8 515.2,332.6 515.5,322.7 515.8,325.6 516.1,323.5 516.4,395.1 516.7,314.6 517.0,376.1 517.3,337.7 517.6,351.0 517.9,344.1 518.2,315.6 518.5,309.0 518.8,338.1 519.1,318.4 519.4,292.1 519.7,310.8 520.0,294.3 520.3,300.4 520.6,300.3 520.9,323.2 521.2,313.7 521.5,292.0 521.8,335.5 522.1,305.9 522.4,334.5 522.7,324.8 523.0,318.0 523.3,334.9 523.6,333.5 523.9,353.6 524.2,334.5 524.5,359.5 524.8,328.9 525.1,334.6 525.4,322.5 525.7,343.1 526.0,325.3 526.3,325.3 526.6,325.8 526.9,333.1 527.2,338.8 527.5,342.7 527.8,356.1 528.1,350.4 528.4,351.5 528.7,325.7 529.0,377.1 529.3,359.2 529.6,352.2 529.9,372.3 530.2,343.0 530.5,363.5 530.8,345.5 531.1,349.1 531.4,339.5 531.7,372.0 532.0,340.8 532.3,324.6 532.6,330.6 532.9,341.8 533.2,339.6 533.5,336.3 533.8,341.4 534.1,351.6 534.4,335.1 534.7,334.9 534.9,306.2 535.2,323.6 535.5,301.7 535.8,329.1 536.1,321.7 536.4,325.4 536.7,339.5 537.0,340.7 537.3,326.6 537.6,306.8 537.9,339.1 538.2,344.4 538.5,317.5 538.8,326.4 539.1,326.3 539.4,294.4 539.7,317.7 540.0,309.9 540.3,320.8 540.6,309.7 540.9,323.7 541.2,326.4 541.5,315.0 541.8,327.5 542.1,309.7 542.4,341.4 542.7,310.0 543.0,352.5 543.3,340.0 543.6,332.5 543.9,357.1 544.2,347.4 544.5,327.7 544.8,343.8 545.1,354.1 545.4,331.4 545.7,342.1 546.0,336.4 546.3,326.3 546.6,347.5 546.9,343.6 547.2,316.5 547.5,397.5 547.8,349.6 548.1,368.2 548.4,348.9 548.7,371.2 549.0,363.2 549.3,379.5 549.6,341.9 549.9,351.2 550.2,355.0 550.5,368.2 550.8,330.9 551.1,381.6 551.4,329.8 551.7,337.7 552.0,351.3 552.3,339.5 552.6,368.8 552.9,319.0 553.2,361.8 553.5,345.6 553.8,321.4 554.1,339.6 554.4,328.2 554.7,327.4 555.0,341.0 555.3,335.8 555.6,303.2 555.9,312.3 556.1,315.2 556.4,321.4 556.7,337.0 557.0,345.3 557.3,309.5 557.6,327.3 557.9,320.5 558.2,335.6 558.5,350.7 558.8,315.5 559.1,335.6 559.4,294.5 559.7,299.2 560.0,327.1 560.3,307.9 560.6,340.6 560.9,310.4 561.2,301.0 561.5,319.7 561.8,302.6 562.1,380.5 562.4,333.9 562.7,338.5 563.0,325.6 563.3,336.6 563.6,329.3 563.9,337.0 564.2,356.0 564.5,367.8 564.8,328.7 565.1,356.9 565.4,403.5 565.7,341.8 566.0,356.9 566.3,380.4 566.6,347.7 566.9,335.4 567.2,381.4 567.5,323.8 567.8,354.2 568.1,348.7 568.4,335.2 568.7,330.6 569.0,345.9 569.3,338.4 569.6,359.6 569.9,346.9 570.2,369.5 570.5,334.6 570.8,335.2 571.1,333.6 571.4,331.3 571.7,379.3 572.0,341.2 572.3,353.2 572.6,340.6 572.9,325.6 573.2,312.5 573.5,334.4 573.8,342.9 574.1,336.9 574.4,329.2 574.7,329.4 575.0,321.3 575.3,313.3 575.6,354.3 575.9,354.7 576.2,331.9 576.5,327.8 576.8,297.0 577.1,320.2 577.3,300.8 577.6,335.6 577.9,284.8 578.2,303.8 578.5,338.9 578.8,323.6 579.1,296.5 579.4,316.7 579.7,333.6 580.0,312.6 580.3,320.1 580.6,373.0 580.9,300.8 581.2,316.2 581.5,333.5 581.8,343.0 582.1,348.5 582.4,377.0 582.7,335.5 583.0,350.8 583.3,362.4 583.6,355.1 583.9,315.7 584.2,356.0 584.5,330.0 584.8,326.7 585.1,346.3 585.4,338.0 585.7,369.4 586.0,357.6 586.3,351.1 586.6,372.0 586.9,372.3 587.2,329.0 587.5,336.4 587.8,352.6 588.1,370.0 588.4,347.2 588.7,367.0 589.0,350.4 589.3,344.9 589.6,341.5 589.9,353.7 590.2,330.1 590.5,322.1 590.8,344.7 591.1,334.3 591.4,344.3 591.7,331.5 592.0,314.9 592.3,341.4 592.6,343.2 592.9,332.5 593.2,333.9 593.5,323.4 593.8,324.5 594.1,364.7 594.4,306.8 594.7,327.6 595.0,321.9 595.3,328.4 595.6,300.9 595.9,302.4 596.2,313.4 596.5,306.3 596.8,310.9 597.1,329.6 597.4,321.7 597.7,298.9 598.0,311.9 598.3,292.2 598.6,314.4 598.8,351.4 599.1,319.0 599.4,330.3 599.7,356.1 600.0,357.8 600.3,314.4 600.6,319.2 600.9,348.5 601.2,340.6 601.5,338.4 601.8,328.0 602.1,334.9 602.4,320.2 602.7,348.5 603.0,320.9 603.3,332.7 603.6,342.1 603.9,344.9 604.2,339.8 604.5,336.6 604.8,354.9 605.1,358.7 605.4,357.1 605.7,360.5 606.0,342.5 606.3,344.2 606.6,386.7 606.9,360.1 607.2,372.3 607.5,352.6 607.8,354.6 608.1,359.3 608.4,336.3 608.7,351.1 609.0,339.6 609.3,345.1 609.6,331.0 609.9,330.2 610.2,341.9 610.5,329.9 610.8,332.4 611.1,314.3 611.4,345.3 611.7,327.8 612.0,329.8 612.3,331.3 612.6,301.3 612.9,320.9 613.2,309.5 613.5,307.4 613.8,317.2 614.1,315.2 614.4,332.2 614.7,328.8 615.0,314.8 615.3,302.2 615.6,291.4 615.9,337.3 616.2,309.3 616.5,304.0 616.8,328.6 617.1,333.0 617.4,349.8 617.7,314.0 618.0,324.8 618.3,319.3 618.6,340.2 618.9,327.2 619.2,315.8 619.5,330.1 619.8,321.4 620.0,317.4 620.3,331.9 620.6,327.9 620.9,323.6 621.2,325.8 621.5,322.5 621.8,339.2 622.1,345.4 622.4,317.1 622.7,342.5 623.0,338.1 623.3,322.9 623.6,398.9 623.9,355.8 624.2,400.5 624.5,336.6 624.8,325.1 625.1,358.4 625.4,346.3 625.7,342.4 626.0,389.1 626.3,355.8 626.6,343.6 626.9,373.6 627.2,354.9 627.5,329.3 627.8,336.2 628.1,362.2 628.4,357.9 628.7,332.8 629.0,364.1 629.3,350.4 629.6,337.5 629.9,321.2 630.2,343.1 630.5,336.5 630.8,328.4 631.1,336.4 631.4,331.9 631.7,306.4 632.0,303.9 632.3,318.0 632.6,318.0 632.9,317.4 633.2,302.1 633.5,323.5 633.8,303.2 634.1,304.4 634.4,292.4 634.7,300.0 635.0,320.4 635.3,310.0 635.6,311.7 635.9,333.0 636.2,326.5 636.5,341.7 636.8,352.7 637.1,314.8 637.4,348.3 637.7,324.2 638.0,338.8 638.3,315.0 638.6,324.8 638.9,325.6 639.2,321.0 639.5,332.5 639.8,356.2 640.1,336.4 640.4,332.3 640.7,340.4 641.0,336.5 641.2,364.8 641.5,339.8 641.8,318.2 642.1,361.7 642.4,362.5 642.7,317.4 643.0,339.7 643.3,328.0 643.6,336.0 643.9,381.2 644.2,335.7 644.5,350.6 644.8,364.6 645.1,341.8 645.4,344.4 645.7,341.3 646.0,369.3 646.3,318.8 646.6,346.9 646.9,330.0 647.2,375.1 647.5,363.1 647.8,331.5 648.1,326.6 648.4,348.0 648.7,325.2 649.0,345.3 649.3,342.0 649.6,343.0 649.9,348.5 650.2,355.4 650.5,326.8 650.8,311.8 651.1,315.3 651.4,295.5 651.7,325.9 652.0,315.4 652.3,333.5 652.6,317.3 652.9,303.8 653.2,311.5 653.5,329.6 653.8,331.3 654.1,324.5 654.4,336.1 654.7,339.8 655.0,316.0 655.3,344.1 655.6,335.2 655.9,316.7 656.2,361.8 656.5,316.8 656.8,345.1 657.1,354.1 657.4,334.6 657.7,339.2 658.0,337.1 658.3,314.7 658.6,333.6 658.9,343.7 659.2,331.5 659.5,334.8 659.8,357.9 660.1,349.7 660.4,353.4 660.7,367.1 661.0,406.8 661.3,357.4 661.6,351.0 661.9,348.1 662.2,361.7 662.4,332.8 662.7,350.9 663.0,357.8 663.3,354.5 663.6,336.6 663.9,371.8 664.2,341.2 664.5,369.8 664.8,341.6 665.1,371.2 665.4,350.7 665.7,357.2 666.0,351.4 666.3,329.8 666.6,327.0 666.9,340.5 667.2,349.5 667.5,325.1 667.8,357.1 668.1,362.9 668.4,335.2 668.7,334.0 669.0,328.0 669.3,329.8 669.6,295.6 669.9,341.2 670.2,332.4 670.5,336.5 670.8,309.9 671.1,335.0 671.4,341.9 671.7,322.0 672.0,328.0 672.3,311.9 672.6,359.1 672.9,302.5 673.2,311.4 673.5,322.6 673.8,328.6 674.1,313.3 674.4,325.2 674.7,316.2 675.0,300.1 675.3,323.6 675.6,310.8 675.9,318.5 676.2,338.7 676.5,312.3 676.8,320.4 677.1,349.4 677.4,328.9 677.7,311.3 678.0,323.1 678.3,326.6 678.6,346.0 678.9,340.5 679.2,334.8 679.5,355.1 679.8,378.6 680.1,324.3 680.4,358.1 680.7,326.8 681.0,352.3 681.3,366.1 681.6,372.2 681.9,338.7 682.2,360.0 682.5,381.3 682.8,348.9 683.1,353.4 683.4,362.7 683.6,362.4 683.9,361.0 684.2,348.1 684.5,355.3 684.8,366.3 685.1,330.3 685.4,324.6 685.7,344.3 686.0,340.0 686.3,324.9 686.6,348.8 686.9,330.9 687.2,318.0 687.5,337.5 687.8,374.7 688.1,353.1 688.4,342.0 688.7,328.8 689.0,361.0 689.3,354.3 689.6,318.2 689.9,313.7 690.2,324.2 690.5,304.5 690.8,303.8 691.1,303.7 691.4,339.5 691.7,291.0 692.0,341.0 692.3,320.5 692.6,366.0 692.9,313.0 693.2,322.5 693.5,311.0 693.8,326.0 694.1,345.8 694.4,325.7 694.7,353.8 695.0,300.8 695.3,362.6 695.6,320.3 695.9,351.1 696.2,345.5 696.5,343.4 696.8,324.0 697.1,335.9 697.4,335.6 697.7,365.7 698.0,328.4 698.3,345.8 698.6,350.4 698.9,324.8 699.2,332.3 699.5,345.7 699.8,337.0 700.1,371.1 700.4,353.1 700.7,348.9 701.0,359.7 701.3,365.6 701.6,357.6 701.9,376.0 702.2,354.9 702.5,336.1 702.8,342.5 703.1,344.9 703.4,357.2 703.7,320.4 704.0,343.8 704.3,362.8 704.6,315.2 704.8,314.7 705.1,338.4 705.4,329.0 705.7,330.4 706.0,332.9 706.3,322.6 706.6,343.9 706.9,342.3 707.2,347.6 707.5,322.7 707.8,327.5 708.1,327.6 708.4,311.0 708.7,332.2 709.0,324.9 709.3,314.0 709.6,295.2 709.9,294.1 710.2,306.7 710.5,313.7 710.8,304.6 711.1,303.2 711.4,300.4 711.7,316.2 712.0,344.1 712.3,308.2 712.6,327.1 712.9,320.7 713.2,334.6 713.5,320.3 713.8,350.0 714.1,330.9 714.4,317.3 714.7,332.5 715.0,335.3 715.3,314.0 715.6,302.8 715.9,336.5 716.2,339.6 716.5,354.0 716.8,333.0 717.1,325.5 717.4,336.0 717.7,349.1 718.0,335.4 718.3,343.9 718.6,351.4 718.9,365.7 719.2,342.1 719.5,349.2 719.8,333.5 720.1,363.1 720.4,352.0 720.7,348.3 721.0,362.1 721.3,357.5 721.6,355.3 721.9,343.8 722.2,327.0 722.5,339.5 722.8,373.8 723.1,359.9 723.4,344.0 723.7,331.6 724.0,337.3 724.3,330.0 724.6,350.6 724.9,305.4 725.2,339.8 725.5,362.8 725.8,332.0 726.0,307.9 726.3,346.2 726.6,319.9 726.9,320.6 727.2,305.4 727.5,319.8 727.8,311.0 728.1,317.5 728.4,313.5 728.7,335.0 729.0,337.7 729.3,313.2 729.6,315.5 729.9,311.9 730.2,295.9 730.5,337.7 730.8,316.0 731.1,301.1 731.4,340.9 731.7,335.8 732.0,358.4 732.3,313.0 732.6,316.9 732.9,353.7 733.2,310.4 733.5,335.3 733.8,334.3 734.1,323.2 734.4,320.2 734.7,349.8 735.0,330.3 735.3,336.8 735.6,317.7 735.9,350.8 736.2,320.5 736.5,377.2 736.8,333.2 737.1,322.9 737.4,335.0 737.7,328.2 738.0,333.0 738.3,376.3 738.6,360.5 738.9,334.9 739.2,348.5 739.5,355.9 739.8,335.9 740.1,346.8 740.4,373.4 740.7,349.9 741.0,356.5 741.3,366.1 741.6,351.1 741.9,353.3 742.2,345.1 742.5,344.8 742.8,347.8 743.1,348.7 743.4,339.5 743.7,341.0 744.0,337.0 744.3,336.4 744.6,349.0 744.9,330.0 745.2,351.2 745.5,322.6 745.8,306.9 746.1,329.4 746.4,325.3 746.7,297.7 747.0,325.3 747.2,342.1 747.5,315.3 747.8,335.8 748.1,308.9 748.4,339.8 748.7,314.2 749.0,310.3 749.3,297.6 749.6,308.4 749.9,336.2 750.2,313.8 750.5,317.0 750.8,299.5 751.1,327.6 751.4,326.2 751.7,317.3 752.0,328.7 752.3,344.6 752.6,340.1 752.9,327.0 753.2,330.6 753.5,348.2 753.8,336.6 754.1,333.2 754.4,380.5 754.7,366.6 755.0,381.6 755.3,374.0 755.6,337.8 755.9,340.4 756.2,381.6 756.5,335.2 756.8,332.9 757.1,347.3 757.4,343.6 757.7,344.6 758.0,362.0 758.3,333.2 758.6,370.4 758.9,362.4 759.2,404.2 759.5,342.4 759.8,362.5 760.1,328.7 760.4,328.5 760.7,397.6 761.0,349.3 761.3,345.5 761.6,351.1 761.9,359.0 762.2,346.9 762.5,339.5 762.8,339.8 763.1,342.0 763.4,330.5 763.7,339.0 764.0,315.2 764.3,345.8 764.6,332.1 764.9,322.9 765.2,320.2 765.5,308.2 765.8,334.9 766.1,311.2 766.4,323.9 766.7,360.2 767.0,308.7 767.3,343.1 767.6,326.2 767.9,309.6 768.2,324.6 768.5,329.7 768.7,308.0 769.0,302.9 769.3,328.1 769.6,325.0 769.9,315.0 770.2,321.1 770.5,327.5 770.8,301.4 771.1,330.8 771.4,342.6 771.7,335.0 772.0,324.6 772.3,343.1 772.6,349.1 772.9,363.3 773.2,309.4 773.5,328.6 773.8,358.9 774.1,332.1 774.4,334.4 774.7,326.0 775.0,359.9 775.3,328.6 775.6,334.6 775.9,368.0 776.2,345.9 776.5,346.6 776.8,346.6 777.1,399.5 777.4,350.2 777.7,361.2 778.0,345.0 778.3,352.1 778.6,363.3 778.9,369.7 779.2,355.5 779.5,345.8 779.8,349.5 780.1,373.3 780.4,325.6 780.7,332.9 781.0,342.3 781.3,339.0 781.6,332.7 781.9,335.8 782.2,341.2 782.5,321.5 782.8,337.8 783.1,338.6 783.4,331.9 783.7,332.9 784.0,327.5 784.3,291.4 784.6,335.5 784.9,319.3 785.2,312.7 785.5,350.6 785.8,326.2 786.1,349.2 786.4,331.2 786.7,345.8 787.0,313.9 787.3,325.3 787.6,300.4 787.9,320.2 788.2,323.1 788.5,328.0 788.8,333.5 789.1,306.9 789.4,346.7 789.7,307.4 789.9,327.9 790.2,348.9 790.5,326.1 790.8,339.3 791.1,341.3 791.4,314.7 791.7,324.0 792.0,383.1 792.3,338.7 792.6,340.2 792.9,346.0 793.2,319.2 793.5,355.7 793.8,356.6 794.1,341.4 794.4,329.7 794.7,373.0 795.0,350.7 795.3,353.7 795.6,341.3 795.9,323.7 796.2,341.3 796.5,361.5 796.8,368.7 797.1,405.5 797.4,354.5 797.7,341.8 798.0,343.1 798.3,360.4 798.6,329.5 798.9,369.5 799.2,332.7 799.5,339.1 799.8,354.4 800.1,329.2 800.4,361.7 800.7,356.3 801.0,334.5 801.3,314.2 801.6,324.5 801.9,346.3 802.2,312.6 802.5,303.1 802.8,327.2 803.1,328.7 803.4,346.9 803.7,346.1 804.0,352.9 804.3,342.6 804.6,354.6 804.9,327.5 805.2,334.0 805.5,326.5 805.8,312.5 806.1,336.4 806.4,328.6 806.7,313.1 807.0,286.2 807.3,305.2 807.6,360.8 807.9,310.2 808.2,314.0 808.5,327.3 808.8,339.1 809.1,320.2 809.4,302.6 809.7,314.3 810.0,334.5 810.3,335.9 810.6,323.8 810.9,326.1 811.1,315.4 811.4,335.2 811.7,340.5 812.0,348.3 812.3,345.7 812.6,352.5 812.9,355.9 813.2,376.7 813.5,355.7 813.8,339.2 814.1,331.6 814.4,350.1 814.7,326.8 815.0,331.3 815.3,397.3 815.6,351.2 815.9,353.1 816.2,347.5 816.5,338.9 816.8,360.5 817.1,338.4 817.4,389.9 817.7,340.8 818.0,371.1 818.3,370.0 818.6,333.1 818.9,356.3 819.2,334.0 819.5,343.2 819.8,336.4 820.1,345.5 820.4,372.5 820.7,319.2 821.0,317.9 821.3,332.1 821.6,334.2 821.9,344.1 822.2,346.9 822.5,346.2 822.8,353.0 823.1,328.3 823.4,307.8 823.7,330.9 824.0,315.3 824.3,313.2 824.6,332.3 824.9,308.3 825.2,317.9 825.5,295.6 825.8,295.9 826.1,319.6 826.4,320.8 826.7,295.5 827.0,336.0 827.3,296.1 827.6,304.3 827.9,330.7 828.2,326.0 828.5,313.2 828.8,348.0 829.1,346.1 829.4,317.1 829.7,326.0 830.0,326.2 830.3,301.9 830.6,331.4 830.9,343.6 831.2,323.1 831.5,330.0 831.8,348.0 832.1,358.5 832.3,336.1 832.6,350.8 832.9,359.3 833.2,357.9 833.5,329.5 833.8,352.2 834.1,347.0 834.4,379.9 834.7,378.2 835.0,391.8 835.3,354.4 835.6,365.7 835.9,400.4 836.2,323.9 836.5,349.8 836.8,363.1 837.1,333.9 837.4,340.5 837.7,340.0 838.0,324.0 838.3,346.1 838.6,330.5 838.9,356.0 839.2,359.5 839.5,356.5 839.8,332.2 840.1,334.6 840.4,342.3 840.7,326.2 841.0,315.5 841.3,356.3 841.6,319.2 841.9,313.7 842.2,320.6 842.5,316.4 842.8,327.8 843.1,343.9 843.4,305.0 843.7,332.8 844.0,309.3 844.3,297.0 844.6,300.0 844.9,310.6 845.2,311.9 845.5,301.0 845.8,299.9 846.1,337.2 846.4,348.7 846.7,323.8 847.0,321.4 847.3,330.4 847.6,330.9 847.9,340.3 848.2,331.0 848.5,366.5 848.8,329.1 849.1,324.7 849.4,331.1 849.7,358.5 850.0,348.6 850.3,338.5 850.6,345.5 850.9,341.0 851.2,342.1 851.5,368.3 851.8,346.0 852.1,326.6 852.4,364.6 852.7,373.7 853.0,359.1 853.3,364.1 853.5,355.5 853.8,362.7 854.1,360.7 854.4,383.9 854.7,365.3 855.0,372.4 855.3,368.5 855.6,370.2 855.9,412.0 856.2,418.9 856.5,412.2 856.8,384.5 857.1,404.1 857.4,444.6 857.7,420.6 858.0,452.8 858.3,388.7 858.6,409.2 858.9,444.1 859.2,412.5 859.5,383.8 859.8,412.4 860.1,450.0 860.4,427.5 860.7,409.2 861.0,395.0 861.3,408.6 861.6,411.3 861.9,444.6 862.2,410.6 862.5,398.8 862.8,439.8 863.1,440.3 863.4,441.4 863.7,417.2 864.0,426.9 864.3,397.9 864.6,402.9 864.9,413.0 865.2,418.4 865.5,458.1 865.8,428.8 866.1,424.1 866.4,399.3 866.7,423.5 867.0,405.8 867.3,416.4 867.6,413.1 867.9,431.9 868.2,456.3 868.5,410.3 868.8,406.5 869.1,469.8 869.4,433.6 869.7,425.7 870.0,412.3 870.3,452.0 870.6,393.7 870.9,427.5 871.2,416.0 871.5,424.2 871.8,401.9 872.1,400.2 872.4,386.9 872.7,402.8 873.0,381.3 873.3,368.4 873.6,342.6 873.9,351.6 874.2,355.9 874.5,328.9 874.7,350.4 875.0,326.4 875.3,341.1 875.6,352.1 875.9,347.6 876.2,335.7 876.5,373.6 876.8,338.2 877.1,384.2 877.4,387.3 877.7,322.4 878.0,336.1 878.3,323.3 878.6,327.0 878.9,313.3 879.2,332.6 879.5,337.2 879.8,332.1 880.1,369.6 880.4,313.7 880.7,365.4 881.0,315.6 881.3,310.5 881.6,342.5 881.9,339.1 882.2,342.9 882.5,333.0 882.8,320.1 883.1,325.6 883.4,323.0 883.7,332.7 884.0,293.8 884.3,317.9 884.6,331.1 884.9,341.6 885.2,315.0 885.5,323.3 885.8,313.0 886.1,326.8 886.4,317.6 886.7,340.6 887.0,368.5 887.3,342.4 887.6,352.4 887.9,352.7 888.2,325.9 888.5,330.8 888.8,337.3 889.1,348.2 889.4,332.8 889.7,345.7 890.0,341.2 890.3,334.4 890.6,351.7 890.9,355.1 891.2,334.0 891.5,357.2 891.8,353.0 892.1,338.0 892.4,358.2 892.7,364.2 893.0,332.2 893.3,344.2 893.6,369.9 893.9,349.9 894.2,358.4 894.5,351.2 894.8,327.6 895.1,380.1 895.4,376.7 895.7,334.6 895.9,352.0 896.2,353.7 896.5,366.8 896.8,318.4 897.1,319.2 897.4,338.0 897.7,344.4 898.0,322.8 898.3,317.0 898.6,324.6 898.9,329.5 899.2,348.2 899.5,322.7 899.8,297.4 900.1,338.9 900.4,352.9 900.7,322.8 901.0,303.9 901.3,301.6 901.6,324.7 901.9,323.7 902.2,293.6 902.5,312.0 902.8,304.1 903.1,319.5 903.4,308.3 903.7,318.7 904.0,303.4 904.3,337.9 904.6,347.9 904.9,317.8 905.2,370.1 905.5,321.0 905.8,313.7 906.1,323.4 906.4,329.5 906.7,323.8 907.0,332.3 907.3,364.6 907.6,338.7 907.9,354.5 908.2,319.6 908.5,330.2 908.8,344.7 909.1,338.4 909.4,349.6 909.7,327.1 910.0,361.8 910.3,323.4 910.6,334.4 910.9,369.6 911.2,359.4 911.5,350.0 911.8,347.5 912.1,339.2 912.4,359.8 912.7,367.1 913.0,350.3 913.3,363.7 913.6,354.6 913.9,367.2 914.2,316.0 914.5,333.5 914.8,343.5 915.1,330.5 915.4,339.9 915.7,349.3 916.0,329.2 916.3,359.1 916.6,347.7 916.9,319.6 917.1,329.5 917.4,318.9 917.7,324.3 918.0,352.4 918.3,333.8 918.6,310.5 918.9,325.8 919.2,310.9 919.5,320.4 919.8,342.0 920.1,305.7 920.4,322.5 920.7,295.2 921.0,317.2 921.3,323.2 921.6,321.8 921.9,311.7 922.2,357.2 922.5,325.5 922.8,369.9 923.1,308.0 923.4,321.9 923.7,310.9 924.0,303.3 924.3,337.8 924.6,314.3 924.9,344.6 925.2,377.1 925.5,324.7 925.8,347.6 926.1,310.8 926.4,325.6 926.7,381.7 927.0,338.4 927.3,350.5 927.6,330.0 927.9,346.6 928.2,326.8 928.5,335.6 928.8,318.0 929.1,340.6 929.4,359.6 929.7,351.4 930.0,365.5 930.3,373.4 930.6,351.1 930.9,347.7 931.2,359.7 931.5,352.2 931.8,369.8 932.1,361.9 932.4,357.3 932.7,387.9 933.0,356.7 933.3,366.4 933.6,351.2 933.9,389.4 934.2,335.7 934.5,323.2 934.8,341.7 935.1,331.2 935.4,335.7 935.7,324.6 936.0,333.7 936.3,363.8 936.6,308.5 936.9,362.9 937.2,320.3 937.5,315.9 937.8,352.2 938.1,332.7 938.3,329.3 938.6,320.9 938.9,309.7 939.2,345.4 939.5,322.0 939.8,304.4 940.1,301.8 940.4,299.6 940.7,304.1 941.0,321.2 941.3,337.9 941.6,304.0 941.9,323.5 942.2,311.5 942.5,342.0 942.8,359.2 943.1,320.3 943.4,306.4 943.7,338.3 944.0,355.6 944.3,324.4 944.6,327.0 944.9,343.4 945.2,364.7 945.5,316.4 945.8,345.5 946.1,320.1 946.4,370.6 946.7,337.9 947.0,358.0 947.3,349.2 947.6,339.0 947.9,352.4 948.2,338.2 948.5,346.1 948.8,364.3 949.1,378.1 949.4,371.5 949.7,343.2 950.0,377.2 950.3,400.9 950.6,342.8 950.9,338.2 951.2,375.3 951.5,341.0 951.8,360.6 952.1,369.0 952.4,338.6 952.7,364.5 953.0,334.7 953.3,344.3 953.6,364.6 953.9,326.0 954.2,351.4 954.5,342.9 954.8,327.2 955.1,318.1 955.4,342.3 955.7,332.0 956.0,347.7 956.3,361.2 956.6,322.7 956.9,317.7 957.2,307.6 957.5,326.9 957.8,297.3 958.1,337.4 958.4,331.6 958.7,314.5 959.0,356.1 959.3,308.6 959.6,316.3 959.8,314.4 960.1,347.3 960.4,324.1 960.7,312.8 961.0,312.0 961.3,320.8 961.6,313.1 961.9,297.7 962.2,328.9 962.5,351.1 962.8,301.4 963.1,345.5 963.4,314.4 963.7,326.4 964.0,349.2 964.3,324.1 964.6,312.1 964.9,387.0 965.2,334.4 965.5,338.9 965.8,321.3 966.1,332.3 966.4,366.7 966.7,394.9 967.0,340.0 967.3,337.0 967.6,356.8 967.9,354.0 968.2,371.9 968.5,343.6 968.8,354.3 969.1,345.7 969.4,360.0 969.7,368.1 970.0,363.3 970.3,327.0 970.6,332.5 970.9,334.1 971.2,329.7 971.5,348.7 971.8,344.5 972.1,369.7 972.4,331.7 972.7,324.0 973.0,345.2 973.3,314.2 973.6,353.5 973.9,337.0 974.2,331.2 974.5,316.8 974.8,313.7 975.1,343.0 975.4,315.3 975.7,292.1 976.0,335.1 976.3,313.0 976.6,326.2 976.9,309.2 977.2,324.7 977.5,306.5 977.8,330.8 978.1,313.1 978.4,305.5 978.7,312.9 979.0,325.0 979.3,295.2 979.6,323.6 979.9,303.8 980.2,324.1 980.5,314.6 980.8,317.9 981.0,329.3 981.3,324.7 981.6,350.3 981.9,331.6 982.2,331.2 982.5,330.0 982.8,345.8 983.1,345.0 983.4,376.0 983.7,321.7 984.0,348.5 984.3,357.4 984.6,389.7 984.9,352.1 985.2,329.7 985.5,322.3 985.8,390.9 986.1,325.7 986.4,358.6 986.7,368.9 987.0,351.4 987.3,354.6 987.6,340.7 987.9,357.9 988.2,359.6 988.5,354.1 988.8,345.2 989.1,334.6 989.4,349.1 989.7,340.5 990.0,334.8 990.3,337.1 990.6,343.2 990.9,357.4 991.2,351.2 991.5,353.3 991.8,319.3 992.1,370.9 992.4,322.3 992.7,320.2 993.0,327.9 993.3,341.5 993.6,330.5 993.9,323.9 994.2,327.8 994.5,360.6 994.8,340.2 995.1,329.4 995.4,339.0 995.7,318.0 996.0,320.7 996.3,297.4 996.6,324.8 996.9,320.1 997.2,295.2 997.5,302.4 997.8,330.5 998.1,304.3 998.4,330.9 998.7,310.7 999.0,290.1 999.3,323.4 999.6,308.0 999.9,313.6 1000.2,303.9 1000.5,332.9 1000.8,324.6 1001.1,317.9 1001.4,333.5 1001.7,339.0 1002.0,326.7 1002.2,321.5 1002.5,325.6 1002.8,348.7 1003.1,332.8 1003.4,335.9 1003.7,321.6 1004.0,351.7 1004.3,347.0 1004.6,322.2 1004.9,348.9 1005.2,361.1 1005.5,353.8 1005.8,355.9 1006.1,357.5 1006.4,331.4 1006.7,363.6 1007.0,380.8 1007.3,338.0 1007.6,350.5 1007.9,344.9 1008.2,347.8 1008.5,342.8 1008.8,339.2 1009.1,343.2 1009.4,374.1 1009.7,343.4 1010.0,359.1 1010.3,337.3 1010.6,339.3 1010.9,320.9 1011.2,352.6 1011.5,352.9 1011.8,352.6 1012.1,326.0 1012.4,351.1 1012.7,348.6 1013.0,320.3 1013.3,349.8 1013.6,357.2 1013.9,343.4 1014.2,323.3 1014.5,348.7 1014.8,322.1 1015.1,333.0 1015.4,307.6 1015.7,321.6 1016.0,294.4 1016.3,317.6 1016.6,328.4 1016.9,312.3 1017.2,318.1 1017.5,324.9 1017.8,288.8 1018.1,301.6 1018.4,305.7 1018.7,306.8 1019.0,338.6 1019.3,332.7 1019.6,346.2 1019.9,311.6 1020.2,305.0 1020.5,335.2 1020.8,331.4 1021.1,337.9 1021.4,327.7 1021.7,332.1 1022.0,330.9 1022.3,329.6 1022.6,336.0 1022.9,343.2 1023.2,323.7 1023.4,335.9 1023.7,356.2 1024.0,326.1 1024.3,347.0 1024.6,334.9 1024.9,349.6 1025.2,328.0 1025.5,329.3 1025.8,351.9 1026.1,356.0 1026.4,359.7 1026.7,346.5 1027.0,344.4 1027.3,389.5 1027.6,365.7 1027.9,330.3 1028.2,344.5 1028.5,387.0 1028.8,344.3 1029.1,356.1 1029.4,348.7 1029.7,357.6 1030.0,345.9 1030.3,357.4 1030.6,345.0 1030.9,350.0 1031.2,322.2 1031.5,338.5 1031.8,328.3 1032.1,340.9 1032.4,318.5 1032.7,324.8 1033.0,334.3 1033.3,310.7 1033.6,326.8 1033.9,293.5 1034.2,317.7 1034.5,317.5 1034.8,315.8 1035.1,299.7 1035.4,312.8 1035.7,321.2 1036.0,334.3 1036.3,292.3 1036.6,298.5 1036.9,297.0 1037.2,319.3 1037.5,339.6 1037.8,316.8 1038.1,338.1 1038.4,331.5 1038.7,308.3 1039.0,334.9 1039.3,349.9 1039.6,327.6 1039.9,364.2 1040.2,324.0 1040.5,349.6 1040.8,316.4 1041.1,361.7 1041.4,359.3 1041.7,345.8 1042.0,362.7 1042.3,343.3 1042.6,334.9 1042.9,347.5 1043.2,338.3 1043.5,343.8 1043.8,348.2 1044.1,365.2 1044.4,355.0 1044.6,338.3 1044.9,340.3 1045.2,345.8 1045.5,369.6 1045.8,337.4 1046.1,365.2 1046.4,351.2 1046.7,328.3 1047.0,387.7 1047.3,347.3 1047.6,335.3 1047.9,350.4 1048.2,380.4 1048.5,330.0 1048.8,324.6 1049.1,319.4 1049.4,357.7 1049.7,367.6 1050.0,331.5 1050.3,309.4 1050.6,336.8 1050.9,317.8 1051.2,340.5 1051.5,320.8 1051.8,317.0 1052.1,332.9 1052.4,302.3 1052.7,325.9 1053.0,298.9 1053.3,332.4 1053.6,342.6 1053.9,356.7 1054.2,302.4 1054.5,312.5 1054.8,321.1 1055.1,325.6 1055.4,322.8 1055.7,298.2 1056.0,309.0 1056.3,368.6 1056.6,345.8 1056.9,352.3 1057.2,317.8 1057.5,322.1 1057.8,312.5 1058.1,334.2 1058.4,333.9 1058.7,339.9 1059.0,320.3 1059.3,353.5 1059.6,343.1 1059.9,376.4 1060.2,324.9 1060.5,363.8 1060.8,347.3 1061.1,340.9 1061.4,348.1 1061.7,392.3 1062.0,336.2 1062.3,334.2 1062.6,344.7 1062.9,354.8 1063.2,350.4 1063.5,323.1 1063.8,365.9 1064.1,370.3 1064.4,342.3 1064.7,332.2 1065.0,339.3 1065.3,352.7 1065.6,328.2 1065.8,359.1 1066.1,340.3 1066.4,384.5 1066.7,333.9 1067.0,345.4 1067.3,325.6 1067.6,392.3 1067.9,408.5 1068.2,340.6 1068.5,341.7 1068.8,333.2 1069.1,340.7 1069.4,323.2 1069.7,355.6 1070.0,324.6 1070.3,314.5 1070.6,347.0 1070.9,302.5 1071.2,327.3 1071.5,336.7 1071.8,315.6 1072.1,314.8 1072.4,316.2 1072.7,354.3 1073.0,306.6 1073.3,305.5 1073.6,329.7 1073.9,291.7 1074.2,314.9 1074.5,309.1 1074.8,345.2 1075.1,309.9 1075.4,339.5 1075.7,349.6 1076.0,319.0 1076.3,304.3 1076.6,335.0 1076.9,343.4 1077.2,310.1 1077.5,313.7 1077.8,329.3 1078.1,325.3 1078.4,349.2 1078.7,356.2 1079.0,359.9 1079.3,340.8 1079.6,325.6 1079.9,343.2 1080.2,339.0 1080.5,330.8 1080.8,388.4 1081.1,330.1 1081.4,339.7 1081.7,364.3 1082.0,351.0 1082.3,377.5 1082.6,341.6 1082.9,351.0 1083.2,356.1 1083.5,377.2 1083.8,349.2 1084.1,346.8 1084.4,343.6 1084.7,381.4 1085.0,355.5 1085.3,356.3 1085.6,335.2 1085.9,335.2 1086.2,338.0 1086.5,331.0 1086.8,341.2 1087.0,311.4 1087.3,343.4 1087.6,338.7 1087.9,358.0 1088.2,331.1 1088.5,330.3 1088.8,317.1 1089.1,326.1 1089.4,352.4 1089.7,328.4 1090.0,326.5 1090.3,317.0 1090.6,323.5 1090.9,331.5 1091.2,320.5 1091.5,318.6 1091.8,337.6 1092.1,331.9 1092.4,315.5 1092.7,301.5 1093.0,311.8 1093.3,313.6 1093.6,307.6 1093.9,314.8 1094.2,346.8 1094.5,326.8 1094.8,303.5 1095.1,319.1 1095.4,341.6 1095.7,321.4 1096.0,326.9 1096.3,299.4 1096.6,343.0 1096.9,320.0 1097.2,314.0 1097.5,322.3 1097.8,351.8 1098.1,331.8 1098.4,349.0 1098.7,343.0 1099.0,328.7 1099.3,370.1 1099.6,327.6 1099.9,320.9 1100.2,332.3 1100.5,349.6 1100.8,323.6 1101.1,341.7 1101.4,382.6 1101.7,365.8 1102.0,346.4 1102.3,350.3 1102.6,345.9 1102.9,348.1 1103.2,366.7 1103.5,359.0 1103.8,346.1 1104.1,325.8 1104.4,334.5 1104.7,329.4 1105.0,336.1 1105.3,346.9 1105.6,352.0 1105.9,365.6 1106.2,341.2 1106.5,334.4 1106.8,348.3 1107.1,369.6 1107.4,378.0 1107.7,373.2 1108.0,313.3 1108.2,310.2 1108.5,317.0 1108.8,319.9 1109.1,320.0 1109.4,351.3 1109.7,296.5 1110.0,324.0 1110.3,320.2 1110.6,327.8 1110.9,347.2 1111.2,313.9 1111.5,302.3 1111.8,308.5 1112.1,339.7 1112.4,291.6 1112.7,298.7 1113.0,342.1 1113.3,323.4 1113.6,293.1 1113.9,325.3 1114.2,326.5 1114.5,320.6 1114.8,317.6 1115.1,326.5 1115.4,313.1 1115.7,331.7 1116.0,338.5 1116.3,366.7 1116.6,327.3 1116.9,306.3 1117.2,325.7 1117.5,318.9 1117.8,331.7 1118.1,333.5 1118.4,385.3 1118.7,349.7 1119.0,346.5 1119.3,332.5 1119.6,347.9 1119.9,379.6 1120.2,385.8 1120.5,353.4 1120.8,348.7 1121.1,324.3 1121.4,375.0 1121.7,364.7 1122.0,365.0 1122.3,332.0 1122.6,357.7 1122.9,354.3 1123.2,342.5 1123.5,333.6 1123.8,346.4 1124.1,337.0 1124.4,381.7 1124.7,328.4 1125.0,331.3 1125.3,310.0 1125.6,340.2 1125.9,319.9 1126.2,323.8 1126.5,336.1 1126.8,373.9 1127.1,319.6 1127.4,331.2 1127.7,309.1 1128.0,327.7 1128.3,356.6 1128.6,324.6 1128.9,323.2 1129.2,316.6 1129.4,312.3 1129.7,320.9 1130.0,354.5 1130.3,342.1 1130.6,316.2 1130.9,314.6 1131.2,299.0 1131.5,310.6 1131.8,299.9 1132.1,311.6 1132.4,323.0 1132.7,294.7 1133.0,320.4 1133.3,322.0 1133.6,319.2 1133.9,309.6 1134.2,328.8 1134.5,322.3 1134.8,337.7 1135.1,322.0 1135.4,380.3 1135.7,342.5 1136.0,341.3 1136.3,336.9 1136.6,342.2 1136.9,322.7 1137.2,327.4 1137.5,356.6 1137.8,336.8 1138.1,322.4 1138.4,353.0 1138.7,349.5 1139.0,337.8 1139.3,373.6 1139.6,349.6 1139.9,332.2 1140.2,327.9 1140.5,368.4 1140.8,337.0 1141.1,376.4 1141.4,328.1 1141.7,343.7 1142.0,352.2 1142.3,354.2 1142.6,339.1 1142.9,326.1 1143.2,335.6 1143.5,327.5 1143.8,327.9 1144.1,327.6 1144.4,313.2 1144.7,322.3 1145.0,334.4 1145.3,329.2 1145.6,360.4 1145.9,363.7 1146.2,336.2 1146.5,329.3 1146.8,333.6 1147.1,329.8 1147.4,311.1 1147.7,319.8 1148.0,357.7 1148.3,310.8 1148.6,309.9 1148.9,318.5 1149.2,314.0 1149.5,325.1 1149.8,308.3 1150.1,321.8 1150.4,313.9 1150.7,298.6 1150.9,310.8 1151.2,313.0 1151.5,295.8 1151.8,269.8 1152.1,303.3 1152.4,314.8 1152.7,328.5 1153.0,328.4 1153.3,314.6 1153.6,302.5 1153.9,340.4 1154.2,347.5 1154.5,309.6 1154.8,317.6 1155.1,327.2 1155.4,359.9 1155.7,318.5 1156.0,363.2 1156.3,323.6 1156.6,341.0 1156.9,337.9 1157.2,346.1 1157.5,355.7 1157.8,349.1 1158.1,335.7 1158.4,388.7 1158.7,373.1 1159.0,337.8 1159.3,345.0 1159.6,327.2 1159.9,374.4 1160.2,370.1 1160.5,353.0 1160.8,349.1 1161.1,345.5 1161.4,344.6 1161.7,336.7 1162.0,382.7 1162.3,340.9 1162.6,351.6 1162.9,351.9 1163.2,318.7 1163.5,344.0 1163.8,321.2 1164.1,305.6 1164.4,340.2 1164.7,333.5 1165.0,333.5 1165.3,328.9 1165.6,310.6 1165.9,316.0 1166.2,324.9 1166.5,324.9 1166.8,339.1 1167.1,317.8 1167.4,344.4 1167.7,333.5 1168.0,317.7 1168.3,330.2 1168.6,344.0 1168.9,317.4 1169.2,332.1 1169.5,304.9 1169.8,308.5 1170.1,337.2 1170.4,308.6 1170.7,305.7 1171.0,314.0 1171.3,321.4 1171.6,326.5 1171.9,296.9 1172.1,319.6 1172.4,322.5 1172.7,329.2 1173.0,347.2 1173.3,335.6 1173.6,320.3 1173.9,325.0 1174.2,326.5 1174.5,330.6 1174.8,349.2 1175.1,334.3 1175.4,323.3 1175.7,338.3 1176.0,391.0 1176.3,353.8 1176.6,381.1 1176.9,359.1 1177.2,317.7 1177.5,352.9 1177.8,362.3 1178.1,381.3 1178.4,353.9 1178.7,334.1 1179.0,367.2 1179.3,347.4 1179.6,349.2 1179.9,361.1 1180.2,339.6 1180.5,355.4 1180.8,360.4 1181.1,357.5 1181.4,341.0 1181.7,319.2 1182.0,328.7 1182.3,352.9 1182.6,338.7 1182.9,352.9 1183.2,353.2 1183.5,374.1 1183.8,328.9 1184.1,342.6 1184.4,334.9 1184.7,324.9 1185.0,356.3 1185.3,349.7 1185.6,319.7 1185.9,344.2 1186.2,341.5 1186.5,309.4 1186.8,322.4 1187.1,303.1 1187.4,296.4 1187.7,298.4 1188.0,344.0 1188.3,311.6 1188.6,300.5 1188.9,306.7 1189.2,319.9 1189.5,334.2 1189.8,306.5 1190.1,345.5 1190.4,352.3 1190.7,336.4 1191.0,321.4 1191.3,305.2 1191.6,329.0 1191.9,312.6 1192.2,344.2 1192.5,336.0 1192.8,336.0 1193.1,343.0 1193.3,316.6 1193.6,362.4 1193.9,319.5 1194.2,332.1 1194.5,327.8 1194.8,352.6 1195.1,330.9 1195.4,377.7 1195.7,345.1 1196.0,339.5 1196.3,358.3 1196.6,374.4 1196.9,364.0 1197.2,355.4 1197.5,358.7 1197.8,397.5 1198.1,344.4 1198.4,380.3 1198.7,349.8 1199.0,365.4 1199.3,385.4 1199.6,338.1 1199.9,352.3 1200.2,341.5 1200.5,339.7 1200.8,340.3 1201.1,356.9 1201.4,335.4 1201.7,328.0 1202.0,351.6 1202.3,358.1 1202.6,347.4 1202.9,320.9 1203.2,335.9 1203.5,313.8 1203.8,338.7 1204.1,330.1 1204.4,309.3 1204.7,305.8 1205.0,315.9 1205.3,346.0 1205.6,323.4 1205.9,323.3 1206.2,340.3 1206.5,302.9 1206.8,312.4 1207.1,332.7 1207.4,337.5 1207.7,311.2 1208.0,348.1 1208.3,301.2 1208.6,323.6 1208.9,341.3 1209.2,310.3 1209.5,335.2 1209.8,323.3 1210.1,319.9 1210.4,341.1 1210.7,319.0 1211.0,308.7 1211.3,313.1 1211.6,330.1 1211.9,319.0 1212.2,351.6 1212.5,335.7 1212.8,319.0 1213.1,354.7 1213.4,334.0 1213.7,326.5 1214.0,337.5 1214.3,318.0 1214.5,348.6 1214.8,352.4 1215.1,372.3 1215.4,342.5 1215.7,345.4 1216.0,363.0 1216.3,344.1 1216.6,330.5 1216.9,361.3 1217.2,336.0 1217.5,344.7 1217.8,356.7 1218.1,401.5 1218.4,353.5 1218.7,363.9 1219.0,343.8 1219.3,356.5 1219.6,349.5 1219.9,357.5 1220.2,353.2 1220.5,336.0 1220.8,378.6 1221.1,323.6 1221.4,329.5 1221.7,377.1 1222.0,331.2 1222.3,340.8 1222.6,343.4 1222.9,335.3 1223.2,333.0 1223.5,344.1 1223.8,336.2 1224.1,311.7 1224.4,356.3 1224.7,311.3 1225.0,336.9 1225.3,314.1 1225.6,346.5 1225.9,333.3 1226.2,321.6 1226.5,363.2 1226.8,340.6 1227.1,293.1 1227.4,303.3 1227.7,302.7 1228.0,308.6 1228.3,328.7 1228.6,297.2 1228.9,293.6 1229.2,344.3 1229.5,324.5 1229.8,327.5 1230.1,327.7 1230.4,314.8 1230.7,329.2 1231.0,328.6 1231.3,331.8 1231.6,358.1 1231.9,312.0 1232.2,363.2 1232.5,342.5 1232.8,342.0 1233.1,334.0 1233.4,332.1 1233.7,385.4 1234.0,341.0 1234.3,363.6 1234.6,339.4 1234.9,343.8 1235.2,398.9 1235.5,375.6 1235.7,353.2 1236.0,343.6 1236.3,342.5 1236.6,349.6 1236.9,364.9 1237.2,348.8 1237.5,352.8 1237.8,359.6 1238.1,334.3 1238.4,345.7 1238.7,344.7 1239.0,333.5 1239.3,352.5 1239.6,343.8 1239.9,364.2 1240.2,356.1 1240.5,366.2 1240.8,358.9 1241.1,354.7 1241.4,336.9 1241.7,325.6 1242.0,341.8 1242.3,329.2 1242.6,302.0 1242.9,339.6 1243.2,331.7 1243.5,332.6 1243.8,302.2 1244.1,319.4 1244.4,351.0 1244.7,314.9 1245.0,335.1 1245.3,319.3 1245.6,306.1 1245.9,312.2 1246.2,332.6 1246.5,346.9 1246.8,327.4 1247.1,313.2 1247.4,330.4 1247.7,331.7 1248.0,321.7 1248.3,309.3 1248.6,373.9 1248.9,345.5 1249.2,353.2 1249.5,336.4 1249.8,317.4 1250.1,323.3 1250.4,330.3 1250.7,324.3 1251.0,336.8 1251.3,334.6 1251.6,314.9 1251.9,327.7 1252.2,323.2 1252.5,315.4 1252.8,366.0 1253.1,315.9 1253.4,368.6 1253.7,328.5 1254.0,350.8 1254.3,322.1 1254.6,332.7 1254.9,366.1 1255.2,344.1 1255.5,345.2 1255.8,366.3 1256.1,350.4 1256.4,363.2 1256.7,356.3 1256.9,351.2 1257.2,348.1 1257.5,366.9 1257.8,321.9 1258.1,371.9 1258.4,340.7 1258.7,352.9 1259.0,322.7 1259.3,347.0 1259.6,345.7 1259.9,313.4 1260.2,343.9 1260.5,334.8 1260.8,346.7 1261.1,324.1 1261.4,327.0 1261.7,348.5 1262.0,323.4 1262.3,335.4 1262.6,318.8 1262.9,344.9 1263.2,310.2 1263.5,306.9 1263.8,335.7 1264.1,319.7 1264.4,308.0 1264.7,342.4 1265.0,313.3 1265.3,308.7 1265.6,337.8 1265.9,330.8 1266.2,299.6 1266.5,313.0 1266.8,325.1 1267.1,340.9 1267.4,313.4 1267.7,333.9 1268.0,297.1 1268.3,321.5 1268.6,312.7 1268.9,325.9 1269.2,309.8 1269.5,326.3 1269.8,349.7 1270.1,330.6 1270.4,340.8 1270.7,334.0 1271.0,341.9 1271.3,340.3 1271.6,350.7 1271.9,348.6 1272.2,340.1 1272.5,349.0 1272.8,331.6 1273.1,335.8 1273.4,355.2 1273.7,372.4 1274.0,333.5 1274.3,359.5 1274.6,377.0 1274.9,368.6 1275.2,358.7 1275.5,334.3 1275.8,339.5 1276.1,348.3 1276.4,374.1 1276.7,353.2 1277.0,356.5 1277.3,324.9 1277.6,346.2 1277.9,312.2 1278.1,333.2 1278.4,352.3 1278.7,335.5 1279.0,352.5 1279.3,328.5 1279.6,381.9 1279.9,316.3 1280.2,328.5 1280.5,319.1 1280.8,353.0 1281.1,299.3 1281.4,350.6 1281.7,322.1 1282.0,348.1 1282.3,328.0 1282.6,316.3 1282.9,349.5 1283.2,321.0 1283.5,310.7 1283.8,334.7 1284.1,301.8 1284.4,316.5 1284.7,337.5 1285.0,327.9 1285.3,333.1 1285.6,319.8 1285.9,310.8 1286.2,321.6 1286.5,318.2 1286.8,324.5 1287.1,317.2 1287.4,311.1 1287.7,359.9 1288.0,327.1 1288.3,333.7 1288.6,312.1 1288.9,318.8 1289.2,360.0 1289.5,345.4 1289.8,376.3 1290.1,332.6 1290.4,335.9 1290.7,346.5 1291.0,373.1 1291.3,337.5 1291.6,361.8 1291.9,337.1 1292.2,363.5 1292.5,322.9 1292.8,331.2 1293.1,332.7 1293.4,392.8 1293.7,340.0 1294.0,339.5 1294.3,367.4 1294.6,353.7 1294.9,359.8 1295.2,338.2 1295.5,321.1 1295.8,369.0 1296.1,371.4 1296.4,337.3 1296.7,362.9 1297.0,331.3 1297.3,347.1 1297.6,333.1 1297.9,325.5 1298.2,334.1 1298.5,321.9 1298.8,353.7 1299.1,355.0 1299.3,329.0 1299.6,351.3 1299.9,329.8 1300.2,320.0 1300.5,327.0 1300.8,319.2 1301.1,319.6 1301.4,372.6 1301.7,325.3 1302.0,328.4 1302.3,299.8 1302.6,299.8 1302.9,325.7 1303.2,301.5 1303.5,317.6 1303.8,305.3 1304.1,341.1 1304.4,307.3 1304.7,307.8 1305.0,349.3 1305.3,314.4 1305.6,304.1 1305.9,325.3 1306.2,308.9 1306.5,343.6 1306.8,347.4 1307.1,354.8 1307.4,317.7 1307.7,381.8 1308.0,322.7 1308.3,338.6 1308.6,323.5 1308.9,333.2 1309.2,338.6 1309.5,329.6 1309.8,327.0 1310.1,326.3 1310.4,328.4 1310.7,333.2 1311.0,356.0 1311.3,350.7 1311.6,382.1 1311.9,354.6 1312.2,355.0 1312.5,334.5 1312.8,330.4 1313.1,377.6 1313.4,388.7 1313.7,365.4 1314.0,348.0 1314.3,326.7 1314.6,373.9 1314.9,373.7 1315.2,370.3 1315.5,327.6 1315.8,355.1 1316.1,347.8 1316.4,363.5 1316.7,331.6 1317.0,344.8 1317.3,337.5 1317.6,348.5 1317.9,345.0 1318.2,316.6 1318.5,341.9 1318.8,321.0 1319.1,337.0 1319.4,349.0 1319.7,321.9 1320.0,342.3 1320.3,323.3 1320.5,308.2 1320.8,326.2 1321.1,332.4 1321.4,303.5 1321.7,319.9 1322.0,329.2 1322.3,315.2 1322.6,303.3 1322.9,306.1 1323.2,310.8 1323.5,309.9 1323.8,320.1 1324.1,343.0 1324.4,321.6 1324.7,360.9 1325.0,317.4 1325.3,344.7 1325.6,350.8 1325.9,307.8 1326.2,326.4 1326.5,328.2 1326.8,338.2 1327.1,332.3 1327.4,347.2 1327.7,345.0 1328.0,337.4 1328.3,338.6 1328.6,389.7 1328.9,323.2 1329.2,355.2 1329.5,331.5 1329.8,328.8 1330.1,341.4 1330.4,356.2 1330.7,341.1 1331.0,358.1 1331.3,372.4 1331.6,402.8 1331.9,344.9 1332.2,354.2 1332.5,335.0 1332.8,354.7 1333.1,348.0 1333.4,348.4 1333.7,354.5 1334.0,340.6 1334.3,338.8 1334.6,337.4 1334.9,361.2 1335.2,347.4 1335.5,317.4 1335.8,337.4 1336.1,350.6 1336.4,367.3 1336.7,318.7 1337.0,320.3 1337.3,327.8 1337.6,339.7 1337.9,321.5 1338.2,314.0 1338.5,326.2 1338.8,326.7 1339.1,332.4 1339.4,324.5 1339.7,339.3 1340.0,317.6 1340.3,336.4 1340.6,330.6 1340.9,339.3 1341.2,344.4 1341.5,313.8 1341.8,290.9 1342.0,359.1 1342.3,317.4 1342.6,351.4 1342.9,320.5 1343.2,353.4 1343.5,323.7 1343.8,330.9 1344.1,323.3 1344.4,320.4 1344.7,330.0 1345.0,329.8 1345.3,344.9 1345.6,341.8 1345.9,337.6 1346.2,335.5 1346.5,331.3 1346.8,330.4 1347.1,364.1 1347.4,325.2 1347.7,334.8 1348.0,342.9 1348.3,343.5 1348.6,362.0 1348.9,338.1 1349.2,396.3 1349.5,397.6 1349.8,340.0 1350.1,362.9 1350.4,356.3 1350.7,367.5 1351.0,345.7 1351.3,375.6 1351.6,355.4 1351.9,347.6 1352.2,331.6 1352.5,336.4 1352.8,349.5 1353.1,336.9 1353.4,355.8 1353.7,346.1 1354.0,333.6 1354.3,324.3 1354.6,365.1 1354.9,347.4 1355.2,332.1 1355.5,328.6 1355.8,332.0 1356.1,337.8 1356.4,351.8 1356.7,354.9 1357.0,324.7 1357.3,339.3 1357.6,332.4 1357.9,340.2 1358.2,333.7 1358.5,341.2 1358.8,329.3 1359.1,326.7 1359.4,314.2 1359.7,336.0 1360.0,356.2 1360.3,323.1 1360.6,311.8 1360.9,323.6 1361.2,304.3 1361.5,317.4 1361.8,334.2 1362.1,309.7 1362.4,316.1 1362.7,326.4 1363.0,344.4 1363.2,367.5 1363.5,319.3 1363.8,316.3 1364.1,321.1 1364.4,328.8 1364.7,338.4 1365.0,311.6 1365.3,330.2 1365.6,320.3 1365.9,338.9 1366.2,328.1 1366.5,327.7 1366.8,355.3 1367.1,367.9 1367.4,335.0 1367.7,331.3 1368.0,337.4 1368.3,353.6 1368.6,348.6 1368.9,335.4 1369.2,314.6 1369.5,324.6 1369.8,350.8 1370.1,338.9 1370.4,363.7 1370.7,386.3 1371.0,374.9 1371.3,398.3 1371.6,373.1 1371.9,413.9 1372.2,399.3 1372.5,388.0 1372.8,415.6 1373.1,436.9 1373.4,407.1 1373.7,420.7 1374.0,414.3 1374.3,442.3 1374.6,437.1 1374.9,453.6 1375.2,445.3 1375.5,459.7 1375.8,474.7 1376.1,493.3 1376.4,481.0 1376.7,471.2 1377.0,453.6 1377.3,451.4 1377.6,463.6 1377.9,443.5 1378.2,428.5 1378.5,465.2 1378.8,443.0 1379.1,447.4 1379.4,447.7 1379.7,451.2 1380.0,515.4 1380.3,432.2 1380.6,508.6 1380.9,444.6 1381.2,433.5 1381.5,436.4 1381.8,471.5 1382.1,474.9 1382.4,442.5 1382.7,487.4 1383.0,418.5 1383.3,416.4 1383.6,447.9 1383.9,450.2 1384.2,443.7 1384.4,416.2 1384.7,472.7 1385.0,469.5 1385.3,444.9 1385.6,465.3 1385.9,440.4 1386.2,422.8 1386.5,444.1 1386.8,474.3 1387.1,457.9 1387.4,467.7 1387.7,489.6 1388.0,452.6 1388.3,443.6 1388.6,455.5 1388.9,438.4 1389.2,486.2 1389.5,471.6 1389.8,502.2 1390.1,467.2 1390.4,447.2 1390.7,471.0 1391.0,478.9 1391.3,458.3 1391.6,450.7 1391.9,468.7 1392.2,475.1 1392.5,452.1 1392.8,465.3 1393.1,452.2 1393.4,488.9 1393.7,476.4 1394.0,489.2 1394.3,515.3 1394.6,501.8 1394.9,468.5 1395.2,463.8 1395.5,485.2 1395.8,489.0 1396.1,459.0 1396.4,495.7 1396.7,472.1 1397.0,509.7 1397.3,524.2 1397.6,480.7 1397.9,486.3 1398.2,498.6 1398.5,522.3 1398.8,481.0 1399.1,503.8 1399.4,458.4 1399.7,477.1 1400.0,498.3 1400.3,512.3 1400.6,488.2 1400.9,501.5 1401.2,516.2 1401.5,476.8 1401.8,504.6 1402.1,478.5 1402.4,500.2 1402.7,482.1 1403.0,484.4 1403.3,471.4 1403.6,474.9 1403.9,509.7 1404.2,475.0 1404.5,461.3 1404.8,508.3 1405.1,477.8 1405.4,492.1 1405.6,483.9 1405.9,453.3 1406.2,513.1 1406.5,489.6 1406.8,515.4 1407.1,495.3 1407.4,476.7 1407.7,492.4 1408.0,513.2 1408.3,476.5 1408.6,485.3 1408.9,509.3 1409.2,484.8 1409.5,540.0 1409.8,490.6 1410.1,499.2 1410.4,475.7 1410.7,496.9 1411.0,534.5 1411.3,461.9 1411.6,494.5 1411.9,492.0 1412.2,527.7 1412.5,469.0 1412.8,472.5 1413.1,474.4 1413.4,488.4 1413.7,481.0 1414.0,483.0 1414.3,528.3 1414.6,476.6 1414.9,524.3 1415.2,487.1 1415.5,484.3 1415.8,538.4 1416.1,483.0 1416.4,490.8 1416.7,492.6 1417.0,505.0 1417.3,495.1 1417.6,484.9 1417.9,515.7 1418.2,523.0 1418.5,483.7 1418.8,555.9 1419.1,482.3 1419.4,556.1 1419.7,502.8 1420.0,481.4 1420.3,483.1 1420.6,510.3 1420.9,486.7 1421.2,488.0 1421.5,557.0 1421.8,495.0 1422.1,522.7 1422.4,476.1 1422.7,516.8 1423.0,476.1 1423.3,493.8 1423.6,487.5 1423.9,489.3 1424.2,496.2 1424.5,514.5 1424.8,514.0 1425.1,516.7 1425.4,526.5 1425.7,511.4 1426.0,503.0 1426.3,509.2 1426.6,489.3 1426.8,510.1 1427.1,491.2 1427.4,498.3 1427.7,483.6 1428.0,497.1 1428.3,488.3 1428.6,494.4 1428.9,505.9 1429.2,491.6 1429.5,527.4 1429.8,503.8 1430.1,503.5 1430.4,493.2 1430.7,536.0 1431.0,507.6 1431.3,498.0 1431.6,495.7 1431.9,517.7 1432.2,532.9 1432.5,502.5 1432.8,536.2 1433.1,507.6 1433.4,509.7 1433.7,505.8 1434.0,491.5 1434.3,496.3 1434.6,502.8 1434.9,499.6 1435.2,512.3 1435.5,504.7 1435.8,506.0 1436.1,519.6 1436.4,508.6 1436.7,487.7 1437.0,512.1 1437.3,508.5 1437.6,528.3 1437.9,526.7 1438.2,534.1 1438.5,524.7 1438.8,494.2 1439.1,512.1 1439.4,560.2 1439.7,496.5 1440.0,523.0 1440.3,572.2 1440.6,495.0 1440.9,512.5 1441.2,490.1 1441.5,510.5 1441.8,525.7 1442.1,525.5 1442.4,513.0 1442.7,523.8 1443.0,505.8 1443.3,516.9 1443.6,491.7 1443.9,523.2 1444.2,509.0 1444.5,491.5 1444.8,504.1 1445.1,494.4 1445.4,495.3 1445.7,517.1 1446.0,521.9 1446.3,566.3 1446.6,514.7 1446.9,516.7 1447.2,510.2 1447.5,494.1 1447.8,518.2 1448.0,519.6 1448.3,507.7 1448.6,518.0 1448.9,522.6 1449.2,528.2 1449.5,515.5 1449.8,510.1 1450.1,532.2 1450.4,565.6 1450.7,514.6 1451.0,531.3 1451.3,504.0 1451.6,503.5 1451.9,520.6 1452.2,485.6 1452.5,502.6 1452.8,508.2 1453.1,510.6 1453.4,500.2 1453.7,496.7 1454.0,509.8 1454.3,486.2 1454.6,515.3 1454.9,524.9 1455.2,530.2 1455.5,523.3 1455.8,519.1 1456.1,521.8 1456.4,525.6 1456.7,507.9 1457.0,538.7 1457.3,540.7 1457.6,516.7 1457.9,522.0 1458.2,531.6 1458.5,492.5 1458.8,520.9 1459.1,511.7 1459.4,539.8 1459.7,481.1 1460.0,522.4 1460.3,504.5 1460.6,513.8 1460.9,508.6 1461.2,526.6 1461.5,568.6 1461.8,545.6 1462.1,497.2 1462.4,509.6 1462.7,508.5 1463.0,526.5 1463.3,522.5 1463.6,523.5 1463.9,538.0 1464.2,507.9 1464.5,529.0 1464.8,550.9 1465.1,517.1 1465.4,519.5 1465.7,528.7 1466.0,514.3 1466.3,509.9 1466.6,503.2 1466.9,527.3 1467.2,529.5 1467.5,508.7 1467.8,517.2 1468.1,524.5 1468.4,506.8 1468.7,500.9 1469.0,567.2 1469.2,535.3 1469.5,569.8 1469.8,506.3 1470.1,522.8 1470.4,520.0 1470.7,493.2 1471.0,506.8 1471.3,515.9 1471.6,518.5 1471.9,550.3 1472.2,510.5 1472.5,521.3 1472.8,513.4 1473.1,501.1 1473.4,531.6 1473.7,511.8 1474.0,565.3 1474.3,556.1 1474.6,513.6 1474.9,508.0 1475.2,530.5"/>
<polyline stroke="#4DBEEE" points="252.5,626.3 252.8,630.4 253.1,633.2 253.4,625.3 253.7,633.7 254.0,619.5 254.3,624.6 254.6,626.4 254.9,649.6 255.2,661.7 255.5,647.9 255.8,623.6 256.1,626.4 256.4,653.6 256.7,623.6 257.0,638.6 257.3,638.5 257.6,614.1 257.9,627.1 258.2,624.5 258.5,624.3 258.8,653.6 259.0,623.6 259.3,602.1 259.6,645.7 259.9,617.4 260.2,616.0 260.5,616.2 260.8,635.6 261.1,632.0 261.4,645.2 261.7,627.7 262.0,610.4 262.3,637.4 262.6,664.8 262.9,626.0 263.2,615.5 263.5,630.1 263.8,606.0 264.1,628.9 264.4,626.1 264.7,643.1 265.0,631.0 265.3,615.5 265.6,615.3 265.9,610.8 266.2,616.3 266.5,619.2 266.8,665.3 267.1,638.6 267.4,598.5 267.7,633.6 268.0,617.1 268.3,626.7 268.6,616.7 268.9,624.7 269.2,641.2 269.5,637.4 269.8,620.8 270.1,632.6 270.4,663.6 270.7,618.3 271.0,612.3 271.3,613.3 271.6,613.0 271.9,651.2 272.2,605.5 272.5,627.1 272.8,639.1 273.1,631.3 273.4,635.6 273.7,645.0 274.0,625.0 274.3,622.5 274.6,627.5 274.9,622.5 275.2,627.0 275.5,635.5 275.8,633.0 276.1,617.8 276.4,648.5 276.7,632.2 277.0,612.6 277.3,621.2 277.6,616.0 277.9,624.2 278.2,643.0 278.5,629.8 278.8,622.4 279.1,629.7 279.4,626.4 279.7,621.5 280.0,612.8 280.2,630.4 280.5,609.5 280.8,623.7 281.1,611.3 281.4,609.7 281.7,603.1 282.0,610.1 282.3,609.8 282.6,602.9 282.9,652.6 283.2,637.5 283.5,609.6 283.8,664.0 284.1,619.5 284.4,619.5 284.7,647.4 285.0,635.8 285.3,612.8 285.6,613.9 285.9,629.6 286.2,633.5 286.5,631.5 286.8,614.1 287.1,643.4 287.4,619.8 287.7,644.4 288.0,608.4 288.3,616.9 288.6,603.4 288.9,663.4 289.2,657.2 289.5,628.3 289.8,600.6 290.1,637.5 290.4,602.4 290.7,616.1 291.0,616.0 291.3,608.8 291.6,634.5 291.9,627.4 292.2,639.2 292.5,615.9 292.8,593.9 293.1,623.0 293.4,609.8 293.7,611.4 294.0,613.7 294.3,619.2 294.6,598.5 294.9,614.6 295.2,623.8 295.5,600.5 295.8,604.2 296.1,610.5 296.4,617.1 296.7,593.0 297.0,614.3 297.3,624.5 297.6,605.3 297.9,618.9 298.2,613.9 298.5,619.4 298.8,616.2 299.1,646.5 299.4,628.3 299.7,626.4 300.0,617.2 300.3,608.1 300.6,630.3 300.9,582.7 301.2,613.5 301.4,604.3 301.7,631.7 302.0,626.6 302.3,585.9 302.6,598.8 302.9,611.0 303.2,636.4 303.5,584.4 303.8,625.3 304.1,615.4 304.4,609.1 304.7,599.7 305.0,605.2 305.3,605.6 305.6,575.9 305.9,602.2 306.2,596.0 306.5,590.4 306.8,643.6 307.1,615.3 307.4,568.0 307.7,616.9 308.0,601.3 308.3,625.5 308.6,625.1 308.9,581.2 309.2,608.1 309.5,600.7 309.8,604.5 310.1,632.0 310.4,600.6 310.7,579.2 311.0,613.0 311.3,588.3 311.6,577.3 311.9,623.3 312.2,579.9 312.5,645.5 312.8,582.4 313.1,601.1 313.4,619.2 313.7,595.8 314.0,606.0 314.3,635.5 314.6,573.4 314.9,571.8 315.2,615.7 315.5,600.8 315.8,602.5 316.1,597.1 316.4,622.8 316.7,573.8 317.0,590.1 317.3,613.6 317.6,601.6 317.9,608.1 318.2,594.6 318.5,578.1 318.8,577.7 319.1,616.3 319.4,588.2 319.7,611.1 320.0,637.4 320.3,615.9 320.6,590.1 320.9,630.1 321.2,606.2 321.5,580.7 321.8,684.7 322.1,606.3 322.4,612.2 322.6,641.7 322.9,595.1 323.2,588.4 323.5,586.6 323.8,613.8 324.1,612.9 324.4,572.4 324.7,611.3 325.0,595.2 325.3,614.5 325.6,614.5 325.9,628.6 326.2,560.6 326.5,595.8 326.8,643.7 327.1,587.0 327.4,588.3 327.7,587.5 328.0,561.2 328.3,588.9 328.6,587.2 328.9,604.0 329.2,612.6 329.5,587.7 329.8,589.4 330.1,609.5 330.4,598.3 330.7,585.0 331.0,583.3 331.3,599.8 331.6,651.8 331.9,581.1 332.2,594.5 332.5,609.8 332.8,597.7 333.1,616.9 333.4,580.7 333.7,594.4 334.0,633.4 334.3,578.1 334.6,575.0 334.9,589.5 335.2,573.8 335.5,627.4 335.8,559.3 336.1,577.6 336.4,562.2 336.7,623.7 337.0,594.3 337.3,585.5 337.6,541.0 337.9,575.3 338.2,606.8 338.5,559.9 338.8,565.1 339.1,586.1 339.4,548.3 339.7,540.1 340.0,568.2 340.3,586.2 340.6,544.3 340.9,548.3 341.2,562.6 341.5,575.0 341.8,558.3 342.1,539.6 342.4,546.8 342.7,532.6 343.0,509.2 343.3,533.9 343.6,522.1 343.8,538.4 344.1,497.4 344.4,534.9 344.7,504.1 345.0,500.0 345.3,532.9 345.6,509.0 345.9,571.0 346.2,514.9 346.5,570.0 346.8,513.9 347.1,540.0 347.4,536.0 347.7,557.7 348.0,529.7 348.3,521.6 348.6,565.1 348.9,550.6 349.2,538.7 349.5,563.3 349.8,522.4 350.1,510.9 350.4,547.9 350.7,558.6 351.0,555.0 351.3,583.3 351.6,607.1 351.9,584.5 352.2,554.4 352.5,564.2 352.8,576.5 353.1,576.9 353.4,544.0 353.7,548.5 354.0,519.2 354.3,561.2 354.6,478.7 354.9,525.9 355.2,478.1 355.5,524.6 355.8,499.4 356.1,520.5 356.4,468.1 356.7,483.7 357.0,513.3 357.3,492.1 357.6,466.1 357.9,522.7 358.2,484.1 358.5,473.1 358.8,518.3 359.1,440.0 359.4,406.1 359.7,477.8 360.0,451.3 360.3,415.0 360.6,403.1 360.9,396.8 361.2,401.4 361.5,399.1 361.8,423.1 362.1,374.6 362.4,380.1 362.7,414.4 363.0,399.7 363.3,402.8 363.6,404.2 363.9,418.1 364.2,357.9 364.5,395.3 364.8,376.6 365.0,391.5 365.3,380.8 365.6,359.3 365.9,381.1 366.2,356.9 366.5,393.5 366.8,366.1 367.1,353.5 367.4,364.7 367.7,393.4 368.0,388.5 368.3,396.2 368.6,378.5 368.9,389.7 369.2,403.5 369.5,417.0 369.8,404.1 370.1,393.2 370.4,381.6 370.7,388.9 371.0,385.8 371.3,378.1 371.6,393.1 371.9,436.7 372.2,408.5 372.5,437.0 372.8,404.6 373.1,451.3 373.4,411.5 373.7,409.7 374.0,403.1 374.3,415.3 374.6,378.5 374.9,427.2 375.2,405.7 375.5,430.9 375.8,444.1 376.1,433.9 376.4,460.4 376.7,424.6 377.0,471.1 377.3,410.3 377.6,424.1 377.9,409.8 378.2,446.0 378.5,394.3 378.8,396.8 379.1,398.5 379.4,416.1 379.7,398.0 380.0,411.4 380.3,388.1 380.6,450.8 380.9,404.7 381.2,381.7 381.5,387.7 381.8,385.2 382.1,385.1 382.4,394.1 382.7,415.7 383.0,385.5 383.3,401.1 383.6,396.1 383.9,391.6 384.2,387.8 384.5,407.1 384.8,372.5 385.1,379.2 385.4,362.0 385.7,348.3 386.0,364.9 386.2,374.3 386.5,408.7 386.8,380.4 387.1,377.5 387.4,377.5 387.7,383.6 388.0,396.5 388.3,372.0 388.6,386.2 388.9,373.1 389.2,407.1 389.5,388.2 389.8,375.6 390.1,377.2 390.4,423.4 390.7,402.1 391.0,409.0 391.3,383.5 391.6,397.6 391.9,420.1 392.2,408.8 392.5,419.9 392.8,410.8 393.1,421.6 393.4,410.6 393.7,396.2 394.0,383.6 394.3,405.4 394.6,392.0 394.9,410.9 395.2,411.3 395.5,417.6 395.8,428.9 396.1,486.7 396.4,447.2 396.7,427.1 397.0,414.2 397.3,439.3 397.6,418.3 397.9,419.2 398.2,417.4 398.5,412.7 398.8,401.2 399.1,416.6 399.4,411.3 399.7,426.2 400.0,413.1 400.3,421.2 400.6,394.7 400.9,369.1 401.2,370.7 401.5,410.9 401.8,387.5 402.1,392.9 402.4,438.8 402.7,451.5 403.0,404.4 403.3,391.7 403.6,420.0 403.9,408.1 404.2,403.9 404.5,404.6 404.8,411.8 405.1,384.2 405.4,366.1 405.7,374.2 406.0,400.9 406.3,385.9 406.6,383.5 406.9,437.3 407.2,370.7 407.5,404.4 407.7,421.6 408.0,354.5 408.3,417.2 408.6,402.0 408.9,413.1 409.2,381.8 409.5,406.1 409.8,438.0 410.1,462.7 410.4,416.6 410.7,375.9 411.0,432.7 411.3,388.8 411.6,430.7 411.9,416.7 412.2,409.9 412.5,418.8 412.8,475.7 413.1,432.9 413.4,415.3 413.7,434.4 414.0,416.2 414.3,459.3 414.6,452.9 414.9,431.5 415.2,430.0 415.5,411.2 415.8,431.5 416.1,421.9 416.4,422.9 416.7,411.1 417.0,409.7 417.3,417.1 417.6,399.7 417.9,389.4 418.2,425.7 418.5,422.4 418.8,421.8 419.1,421.7 419.4,418.9 419.7,402.6 420.0,388.8 420.3,414.8 420.6,391.2 420.9,405.9 421.2,357.5 421.5,389.6 421.8,379.7 422.1,412.7 422.4,408.2 422.7,384.0 423.0,402.6 423.3,385.8 423.6,363.3 423.9,397.1 424.2,398.1 424.5,375.4 424.8,385.3 425.1,370.4 425.4,386.0 425.7,408.8 426.0,445.1 426.3,381.8 426.6,404.8 426.9,389.1 427.2,439.7 427.5,410.7 427.8,389.6 428.1,380.0 428.4,381.2 428.7,379.6 428.9,403.1 429.2,387.5 429.5,399.5 429.8,412.4 430.1,418.6 430.4,427.5 430.7,394.5 431.0,413.0 431.3,430.9 431.6,498.0 431.9,388.6 432.2,454.0 432.5,454.4 432.8,399.5 433.1,459.5 433.4,403.3 433.7,440.0 434.0,422.1 434.3,406.1 434.6,404.4 434.9,410.9 435.2,423.5 435.5,427.1 435.8,425.0 436.1,392.7 436.4,410.5 436.7,395.1 437.0,472.3 437.3,419.1 437.6,404.5 437.9,416.5 438.2,373.8 438.5,431.8 438.8,394.1 439.1,386.5 439.4,418.8 439.7,383.6 440.0,389.4 440.3,353.3 440.6,369.6 440.9,393.1 441.2,373.7 441.5,381.4 441.8,396.9 442.1,373.9 442.4,375.0 442.7,356.6 443.0,415.3 443.3,412.2 443.6,394.5 443.9,367.4 444.2,362.4 444.5,385.0 444.8,379.4 445.1,384.9 445.4,428.7 445.7,407.2 446.0,374.5 446.3,377.2 446.6,373.6 446.9,382.8 447.2,456.3 447.5,392.9 447.8,393.3 448.1,433.8 448.4,373.5 448.7,407.7 449.0,389.8 449.3,394.0 449.6,398.5 449.9,387.9 450.1,415.5 450.4,397.8 450.7,407.5 451.0,446.2 451.3,432.8 451.6,448.7 451.9,461.6 452.2,415.2 452.5,460.4 452.8,410.1 453.1,433.9 453.4,432.6 453.7,454.9 454.0,417.0 454.3,442.7 454.6,409.1 454.9,406.8 455.2,461.9 455.5,478.5 455.8,472.5 456.1,398.3 456.4,470.7 456.7,433.7 457.0,386.1 457.3,402.2 457.6,392.3 457.9,462.7 458.2,387.8 458.5,418.5 458.8,371.6 459.1,395.8 459.4,397.3 459.7,435.1 460.0,412.5 460.3,391.1 460.6,366.0 460.9,365.7 461.2,391.0 461.5,411.2 461.8,411.9 462.1,353.4 462.4,373.6 462.7,402.3 463.0,354.2 463.3,370.7 463.6,368.7 463.9,368.7 464.2,379.1 464.5,397.8 464.8,430.9 465.1,422.9 465.4,411.7 465.7,384.0 466.0,411.3 466.3,382.4 466.6,382.3 466.9,374.9 467.2,376.0 467.5,376.5 467.8,400.2 468.1,403.1 468.4,420.9 468.7,404.1 469.0,408.3 469.3,426.5 469.6,463.5 469.9,392.8 470.2,406.7 470.5,441.1 470.8,429.9 471.1,407.8 471.3,434.5 471.6,419.0 471.9,408.4 472.2,412.8 472.5,429.1 472.8,443.9 473.1,430.6 473.4,408.0 473.7,423.3 474.0,391.6 474.3,388.1 474.6,390.5 474.9,400.4 475.2,439.5 475.5,382.9 475.8,394.9 476.1,420.7 476.4,424.3 476.7,416.6 477.0,399.0 477.3,435.0 477.6,378.9 477.9,404.4 478.2,385.4 478.5,437.3 478.8,349.9 479.1,373.3 479.4,391.2 479.7,415.3 480.0,361.6 480.3,392.9 480.6,391.9 480.9,401.4 481.2,409.3 481.5,379.9 481.8,376.4 482.1,387.1 482.4,405.5 482.7,357.1 483.0,357.2 483.3,404.0 483.6,364.9 483.9,387.4 484.2,391.3 484.5,360.0 484.8,363.0 485.1,403.8 485.4,383.8 485.7,411.5 486.0,442.1 486.3,386.0 486.6,394.8 486.9,391.6 487.2,371.9 487.5,413.9 487.8,400.6 488.1,408.4 488.4,466.0 488.7,418.8 489.0,457.1 489.3,417.0 489.6,444.3 489.9,448.2 490.2,399.0 490.5,433.4 490.8,432.1 491.1,421.6 491.4,488.3 491.7,448.8 492.0,443.2 492.3,416.9 492.5,418.6 492.8,435.3 493.1,391.2 493.4,429.9 493.7,434.5 494.0,407.9 494.3,429.4 494.6,390.7 494.9,404.6 495.2,424.6 495.5,372.0 495.8,414.3 496.1,405.0 496.4,396.7 496.7,394.6 497.0,391.9 497.3,429.9 497.6,395.2 497.9,452.3 498.2,398.4 498.5,394.1 498.8,380.0 499.1,406.2 499.4,381.5 499.7,394.5 500.0,382.2 500.3,403.1 500.6,363.2 500.9,362.6 501.2,421.7 501.5,387.7 501.8,391.6 502.1,442.0 502.4,418.0 502.7,394.2 503.0,419.8 503.3,389.3 503.6,380.6 503.9,409.1 504.2,385.7 504.5,374.9 504.8,413.7 505.1,381.1 505.4,382.4 505.7,381.4 506.0,405.3 506.3,401.9 506.6,426.7 506.9,394.7 507.2,398.3 507.5,406.3 507.8,415.0 508.1,430.8 508.4,477.1 508.7,431.7 509.0,467.2 509.3,425.7 509.6,442.8 509.9,390.4 510.2,440.7 510.5,450.1 510.8,398.5 511.1,467.9 511.4,404.0 511.7,401.6 512.0,422.7 512.3,451.5 512.6,430.3 512.9,413.2 513.2,399.1 513.5,402.6 513.7,403.0 514.0,418.3 514.3,389.4 514.6,429.8 514.9,419.5 515.2,399.7 515.5,387.8 515.8,391.2 516.1,388.8 516.4,475.7 516.7,377.9 517.0,452.6 517.3,405.9 517.6,422.2 517.9,413.7 518.2,379.1 518.5,371.1 518.8,406.5 519.1,382.5 519.4,350.6 519.7,373.3 520.0,353.2 520.3,360.7 520.6,360.6 520.9,388.3 521.2,376.8 521.5,350.4 521.8,403.3 522.1,367.4 522.4,402.1 522.7,390.4 523.0,382.1 523.3,402.6 523.6,400.8 523.9,425.2 524.2,402.1 524.5,432.4 524.8,395.2 525.1,402.2 525.4,387.5 525.7,412.5 526.0,390.9 526.3,390.9 526.6,391.5 526.9,400.4 527.2,407.4 527.5,412.0 527.8,428.3 528.1,421.4 528.4,422.7 528.7,391.4 529.0,453.8 529.3,432.1 529.6,423.5 529.9,447.9 530.2,412.3 530.5,437.3 530.8,415.4 531.1,419.8 531.4,408.1 531.7,447.6 532.0,409.7 532.3,390.0 532.6,397.3 532.9,411.0 533.2,408.2 533.5,404.3 533.8,410.5 534.1,422.9 534.4,402.8 534.7,402.5 534.9,367.7 535.2,388.9 535.5,362.2 535.8,395.5 536.1,386.6 536.4,391.0 536.7,408.2 537.0,409.6 537.3,392.4 537.6,368.4 537.9,407.7 538.2,414.1 538.5,381.4 538.8,392.2 539.1,392.1 539.4,353.4 539.7,381.7 540.0,372.2 540.3,385.5 540.6,372.0 540.9,389.0 541.2,392.3 541.5,378.4 541.8,393.6 542.1,372.0 542.4,410.5 542.7,372.3 543.0,423.9 543.3,408.8 543.6,399.6 543.9,429.6 544.2,417.8 544.5,393.9 544.8,413.3 545.1,425.9 545.4,398.3 545.7,411.3 546.0,404.4 546.3,392.1 546.6,417.9 546.9,413.2 547.2,380.2 547.5,478.5 547.8,420.5 548.1,442.9 548.4,419.5 548.7,446.7 549.0,436.9 549.3,456.8 549.6,411.1 549.9,422.4 550.2,427.0 550.5,443.0 550.8,397.7 551.1,459.3 551.4,396.3 551.7,405.9 552.0,422.4 552.3,408.2 552.6,443.8 552.9,383.3 553.2,435.3 553.5,415.5 553.8,386.2 554.1,408.3 554.4,394.4 554.7,393.5 555.0,410.0 555.3,403.7 555.6,364.1 555.9,375.1 556.1,378.7 556.4,386.2 556.7,405.1 557.0,415.2 557.3,371.7 557.6,393.3 557.9,385.0 558.2,403.4 558.5,421.7 558.8,379.0 559.1,403.4 559.4,353.5 559.7,359.2 560.0,393.1 560.3,369.8 560.6,409.5 560.9,372.8 561.2,361.4 561.5,384.1 561.8,363.4 562.1,457.9 562.4,401.3 562.7,407.0 563.0,391.3 563.3,404.6 563.6,395.7 563.9,405.1 564.2,428.2 564.5,442.6 564.8,395.1 565.1,429.3 565.4,485.8 565.7,410.9 566.0,429.3 566.3,457.8 566.6,418.1 566.9,403.2 567.2,459.1 567.5,389.0 567.8,426.0 568.1,419.4 568.4,402.9 568.7,397.4 569.0,415.9 569.3,406.9 569.6,432.6 569.9,417.2 570.2,444.6 570.5,402.2 570.8,403.0 571.1,401.0 571.4,398.1 571.7,456.5 572.0,410.2 572.3,424.7 572.6,409.5 572.9,391.3 573.2,375.3 573.5,401.9 573.8,412.2 574.1,405.0 574.4,395.7 574.7,395.9 575.0,386.0 575.3,376.4 575.6,426.1 575.9,426.6 576.2,398.9 576.5,394.0 576.8,356.6 577.1,384.7 577.3,361.2 577.6,403.5 577.9,341.8 578.2,364.8 578.5,407.4 578.8,388.8 579.1,355.9 579.4,380.5 579.7,401.0 580.0,375.5 580.3,384.6 580.6,448.9 580.9,361.2 581.2,379.8 581.5,400.9 581.8,412.4 582.1,419.0 582.4,453.7 582.7,403.3 583.0,421.8 583.3,435.9 583.6,427.1 583.9,379.3 584.2,428.2 584.5,396.6 584.8,392.6 585.1,416.5 585.4,406.3 585.7,444.4 586.0,430.1 586.3,422.2 586.6,447.6 586.9,448.0 587.2,395.4 587.5,404.4 587.8,424.1 588.1,445.2 588.4,417.6 588.7,441.6 589.0,421.4 589.3,414.7 589.6,410.6 589.9,425.4 590.2,396.7 590.5,387.0 590.8,414.5 591.1,401.8 591.4,413.9 591.7,398.5 592.0,378.3 592.3,410.5 592.6,412.6 592.9,399.7 593.2,401.3 593.5,388.6 593.8,389.9 594.1,438.8 594.4,368.5 594.7,393.7 595.0,386.8 595.3,394.7 595.6,361.2 595.9,363.1 596.2,376.5 596.5,367.9 596.8,373.4 597.1,396.1 597.4,386.6 597.7,358.9 598.0,374.7 598.3,350.7 598.6,377.6 598.8,422.7 599.1,383.2 599.4,397.0 599.7,428.3 600.0,430.3 600.3,377.7 600.6,383.5 600.9,419.1 601.2,409.5 601.5,406.9 601.8,394.2 602.1,402.6 602.4,384.7 602.7,419.1 603.0,385.5 603.3,399.9 603.6,411.4 603.9,414.7 604.2,408.5 604.5,404.6 604.8,426.8 605.1,431.5 605.4,429.6 605.7,433.7 606.0,411.8 606.3,413.8 606.6,465.5 606.9,433.1 607.2,447.9 607.5,424.1 607.8,426.5 608.1,432.2 608.4,404.2 608.7,422.3 609.0,408.3 609.3,414.9 609.6,397.8 609.9,396.9 610.2,411.0 610.5,396.5 610.8,399.5 611.1,377.6 611.4,415.2 611.7,393.9 612.0,396.4 612.3,398.3 612.6,361.8 612.9,385.6 613.2,371.7 613.5,369.2 613.8,381.0 614.1,378.7 614.4,399.3 614.7,395.1 615.0,378.2 615.3,362.9 615.6,349.7 615.9,405.5 616.2,371.5 616.5,365.0 616.8,394.9 617.1,400.3 617.4,420.6 617.7,377.1 618.0,390.3 618.3,383.6 618.6,409.0 618.9,393.2 619.2,379.4 619.5,396.7 619.8,386.2 620.0,381.4 620.3,398.9 620.6,394.1 620.9,388.8 621.2,391.5 621.5,387.5 621.8,407.8 622.1,415.3 622.4,380.9 622.7,411.8 623.0,406.4 623.3,388.0 623.6,480.3 623.9,428.0 624.2,482.2 624.5,404.6 624.8,390.7 625.1,431.1 625.4,416.4 625.7,411.7 626.0,468.4 626.3,428.0 626.6,413.2 626.9,449.6 627.2,426.9 627.5,395.8 627.8,404.1 628.1,435.7 628.4,430.4 628.7,400.0 629.0,438.0 629.3,421.3 629.6,405.7 629.9,385.9 630.2,412.5 630.5,404.6 630.8,394.7 631.1,404.4 631.4,398.9 631.7,368.0 632.0,364.9 632.3,382.1 632.6,382.0 632.9,381.3 633.2,362.7 633.5,388.7 633.8,364.0 634.1,365.6 634.4,351.0 634.7,360.2 635.0,384.9 635.3,372.3 635.6,374.4 635.9,400.2 636.2,392.4 636.5,410.9 636.8,424.2 637.1,378.2 637.4,418.8 637.7,389.6 638.0,407.3 638.3,378.4 638.6,390.3 638.9,391.2 639.2,385.7 639.5,399.6 639.8,428.4 640.1,404.3 640.4,399.4 640.7,409.2 641.0,404.6 641.2,438.9 641.5,408.6 641.8,382.3 642.1,435.1 642.4,436.0 642.7,381.3 643.0,408.4 643.3,394.2 643.6,403.9 643.9,458.8 644.2,403.5 644.5,421.6 644.8,438.7 645.1,411.0 645.4,414.1 645.7,410.3 646.0,444.4 646.3,383.1 646.6,417.1 646.9,396.6 647.2,451.4 647.5,436.8 647.8,398.4 648.1,392.6 648.4,418.5 648.7,390.7 649.0,415.3 649.3,411.2 649.6,412.4 649.9,419.1 650.2,427.5 650.5,392.7 650.8,374.5 651.1,378.8 651.4,354.7 651.7,391.7 652.0,378.9 652.3,400.9 652.6,381.2 652.9,364.8 653.2,374.2 653.5,396.1 653.8,398.2 654.1,390.0 654.4,404.0 654.7,408.5 655.0,379.6 655.3,413.8 655.6,402.9 655.9,380.5 656.2,435.2 656.5,380.6 656.8,415.0 657.1,425.9 657.4,402.2 657.7,407.8 658.0,405.2 658.3,378.1 658.6,401.0 658.9,413.2 659.2,398.5 659.5,402.5 659.8,430.5 660.1,420.5 660.4,425.1 660.7,441.7 661.0,489.9 661.3,429.9 661.6,422.1 661.9,418.6 662.2,435.2 662.4,400.1 662.7,422.0 663.0,430.3 663.3,426.4 663.6,404.6 663.9,447.4 664.2,410.2 664.5,445.0 664.8,410.7 665.1,446.6 665.4,421.7 665.7,429.7 666.0,422.6 666.3,396.4 666.6,393.0 666.9,409.3 667.2,420.3 667.5,390.7 667.8,429.5 668.1,436.5 668.4,402.9 668.7,401.5 669.0,394.1 669.3,396.3 669.6,354.9 669.9,410.2 670.2,399.5 670.5,404.5 670.8,372.2 671.1,402.7 671.4,411.0 671.7,386.9 672.0,394.2 672.3,374.7 672.6,432.0 672.9,363.3 673.2,374.0 673.5,387.7 673.8,394.9 674.1,376.4 674.4,390.8 674.7,379.9 675.0,360.3 675.3,388.8 675.6,373.3 675.9,382.6 676.2,407.2 676.5,375.1 676.8,385.0 677.1,420.2 677.4,395.3 677.7,373.9 678.0,388.2 678.3,392.5 678.6,416.0 678.9,409.4 679.2,402.5 679.5,427.1 679.8,455.7 680.1,389.6 680.4,430.8 680.7,392.8 681.0,423.8 681.3,440.5 681.6,447.9 681.9,407.2 682.2,433.1 682.5,458.9 682.8,419.5 683.1,425.1 683.4,436.4 683.6,436.0 683.9,434.3 684.2,418.6 684.5,427.3 684.8,440.7 685.1,396.9 685.4,390.1 685.7,413.9 686.0,408.7 686.3,390.5 686.6,419.5 686.9,397.7 687.2,382.0 687.5,405.8 687.8,450.9 688.1,424.7 688.4,411.2 688.7,395.1 689.0,434.3 689.3,426.2 689.6,382.3 689.9,376.8 690.2,389.6 690.5,365.7 690.8,364.8 691.1,364.6 691.4,408.1 691.7,349.3 692.0,410.0 692.3,385.1 692.6,440.3 692.9,376.0 693.2,387.6 693.5,373.6 693.8,391.8 694.1,415.8 694.4,391.4 694.7,425.5 695.0,361.2 695.3,436.2 695.6,384.8 695.9,422.3 696.2,415.4 696.5,412.9 696.8,389.3 697.1,403.8 697.4,403.5 697.7,439.9 698.0,394.7 698.3,415.8 698.6,421.4 698.9,390.3 699.2,399.4 699.5,415.7 699.8,405.1 700.1,446.5 700.4,424.6 700.7,419.6 701.0,432.7 701.3,439.9 701.6,430.1 701.9,452.5 702.2,426.8 702.5,404.1 702.8,411.9 703.1,414.7 703.4,429.7 703.7,385.0 704.0,413.3 704.3,436.5 704.6,378.6 704.8,378.0 705.1,406.8 705.4,395.4 705.7,397.1 706.0,400.1 706.3,387.6 706.6,413.5 706.9,411.6 707.2,418.0 707.5,387.7 707.8,393.6 708.1,393.7 708.4,373.6 708.7,399.2 709.0,390.5 709.3,377.2 709.6,354.4 709.9,353.0 710.2,368.3 710.5,376.8 710.8,365.8 711.1,364.0 711.4,360.7 711.7,379.9 712.0,413.8 712.3,370.2 712.6,393.0 712.9,385.4 713.2,402.2 713.5,384.8 713.8,421.0 714.1,397.7 714.4,381.2 714.7,399.7 715.0,403.1 715.3,377.2 715.6,363.6 715.9,404.5 716.2,408.2 716.5,425.8 716.8,400.3 717.1,391.1 717.4,403.9 717.7,419.8 718.0,403.2 718.3,413.4 718.6,422.7 718.9,439.9 719.2,411.3 719.5,419.9 719.8,400.8 720.1,436.8 720.4,423.3 720.7,418.8 721.0,435.6 721.3,430.0 721.6,427.3 721.9,413.4 722.2,393.0 722.5,408.2 722.8,449.8 723.1,432.9 723.4,413.6 723.7,398.5 724.0,405.5 724.3,396.7 724.6,421.6 724.9,366.7 725.2,408.5 725.5,436.5 725.8,399.1 726.0,369.8 726.3,416.3 726.6,384.4 726.9,385.2 727.2,366.7 727.5,384.3 727.8,373.6 728.1,381.4 728.4,376.6 728.7,402.7 729.0,406.0 729.3,376.2 729.6,379.0 729.9,374.7 730.2,355.2 730.5,406.0 730.8,379.7 731.1,361.5 731.4,409.8 731.7,403.7 732.0,431.1 732.3,376.0 732.6,380.7 732.9,425.5 733.2,372.9 733.5,403.1 733.8,401.9 734.1,388.3 734.4,384.8 734.7,420.7 735.0,397.0 735.3,404.9 735.6,381.6 735.9,421.9 736.2,385.1 736.5,454.0 736.8,400.5 737.1,388.0 737.4,402.6 737.7,394.4 738.0,400.3 738.3,452.9 738.6,433.6 738.9,402.6 739.2,419.1 739.5,428.1 739.8,403.8 740.1,417.0 740.4,449.4 740.7,420.8 741.0,428.8 741.3,440.5 741.6,422.3 741.9,424.9 742.2,414.9 742.5,414.6 742.8,418.2 743.1,419.3 743.4,408.2 743.7,409.9 744.0,405.2 744.3,404.4 744.6,419.7 744.9,396.6 745.2,422.3 745.5,387.6 745.8,368.6 746.1,395.9 746.4,390.9 746.7,357.4 747.0,390.9 747.2,411.4 747.5,378.8 747.8,403.6 748.1,371.0 748.4,408.6 748.7,377.4 749.0,372.7 749.3,357.3 749.6,370.4 749.9,404.1 750.2,376.9 750.5,380.8 750.8,359.5 751.1,393.7 751.4,392.0 751.7,381.1 752.0,395.0 752.3,414.3 752.6,408.9 752.9,393.0 753.2,397.3 753.5,418.8 753.8,404.6 754.1,400.5 754.4,458.0 754.7,441.1 755.0,459.3 755.3,450.1 755.6,406.1 755.9,409.3 756.2,459.3 756.5,402.9 756.8,400.1 757.1,417.7 757.4,413.1 757.7,414.4 758.0,435.5 758.3,400.4 758.6,445.7 758.9,436.0 759.2,486.7 759.5,411.7 759.8,436.1 760.1,395.0 760.4,394.8 760.7,478.7 761.0,420.1 761.3,415.4 761.6,422.2 761.9,431.9 762.2,417.2 762.5,408.1 762.8,408.5 763.1,411.2 763.4,397.3 763.7,407.6 764.0,378.7 764.3,415.7 764.6,399.1 764.9,388.0 765.2,384.7 765.5,370.2 765.8,402.6 766.1,373.8 766.4,389.3 766.7,433.3 767.0,370.8 767.3,412.5 767.6,392.0 767.9,371.9 768.2,390.1 768.5,396.2 768.7,369.9 769.0,363.8 769.3,394.3 769.6,390.5 769.9,378.4 770.2,385.8 770.5,393.6 770.8,361.9 771.1,397.7 771.4,411.9 771.7,402.7 772.0,390.1 772.3,412.6 772.6,419.9 772.9,437.0 773.2,371.6 773.5,395.0 773.8,431.8 774.1,399.2 774.4,401.9 774.7,391.7 775.0,432.9 775.3,394.9 775.6,402.2 775.9,442.7 776.2,415.9 776.5,416.7 776.8,416.8 777.1,481.0 777.4,421.1 777.7,434.5 778.0,414.8 778.3,423.5 778.6,437.1 778.9,444.8 779.2,427.6 779.5,415.8 779.8,420.3 780.1,449.2 780.4,391.3 780.7,400.2 781.0,411.6 781.3,407.6 781.6,399.9 781.9,403.7 782.2,410.2 782.5,386.3 782.8,406.1 783.1,407.0 783.4,399.0 783.7,400.1 784.0,393.5 784.3,349.8 784.6,403.3 784.9,383.7 785.2,375.6 785.5,421.6 785.8,392.0 786.1,420.0 786.4,398.0 786.7,415.9 787.0,377.1 787.3,390.9 787.6,360.7 787.9,384.7 788.2,388.2 788.5,394.2 788.8,400.8 789.1,368.6 789.4,416.9 789.7,369.2 789.9,394.1 790.2,419.6 790.5,391.9 790.8,407.9 791.1,410.3 791.4,378.1 791.7,389.3 792.0,461.1 792.3,407.2 792.6,409.0 792.9,416.1 793.2,383.5 793.5,427.9 793.8,428.9 794.1,410.4 794.4,396.2 794.7,448.9 795.0,421.8 795.3,425.4 795.6,410.4 795.9,389.0 796.2,410.4 796.5,434.9 796.8,443.7 797.1,488.3 797.4,426.3 797.7,410.9 798.0,412.5 798.3,433.5 798.6,396.0 798.9,444.6 799.2,400.0 799.5,407.6 799.8,426.3 800.1,395.6 800.4,435.1 800.7,428.5 801.0,402.1 801.3,377.5 801.6,389.9 801.9,416.5 802.2,375.5 802.5,363.9 802.8,393.2 803.1,395.1 803.4,417.2 803.7,416.2 804.0,424.4 804.3,411.9 804.6,426.5 804.9,393.6 805.2,401.5 805.5,392.4 805.8,375.4 806.1,404.4 806.4,394.9 806.7,376.1 807.0,343.4 807.3,366.5 807.6,434.0 807.9,372.6 808.2,377.2 808.5,393.3 808.8,407.7 809.1,384.7 809.4,363.4 809.7,377.6 810.0,402.0 810.3,403.8 810.6,389.1 810.9,391.9 811.1,378.9 811.4,402.9 811.7,409.4 812.0,418.9 812.3,415.7 812.6,424.0 812.9,428.1 813.2,453.4 813.5,427.8 813.8,407.8 814.1,398.5 814.4,421.0 814.7,392.8 815.0,398.2 815.3,478.3 815.6,422.4 815.9,424.7 816.2,417.8 816.5,407.5 816.8,433.7 817.1,406.8 817.4,469.3 817.7,409.7 818.0,446.5 818.3,445.2 818.6,400.4 818.9,428.5 819.2,401.5 819.5,412.7 819.8,404.4 820.1,415.4 820.4,448.3 820.7,383.5 821.0,381.9 821.3,399.2 821.6,401.7 821.9,413.8 822.2,417.1 822.5,416.2 822.8,424.6 823.1,394.6 823.4,369.7 823.7,397.8 824.0,378.8 824.3,376.2 824.6,399.4 824.9,370.2 825.2,381.9 825.5,354.8 825.8,355.3 826.1,383.9 826.4,385.4 826.7,354.7 827.0,403.9 827.3,355.5 827.6,365.4 827.9,397.5 828.2,391.8 828.5,376.2 828.8,418.5 829.1,416.1 829.4,381.0 829.7,391.8 830.0,392.0 830.3,362.5 830.6,398.3 830.9,413.2 831.2,388.3 831.5,396.6 831.8,418.5 832.1,431.2 832.3,404.0 832.6,421.9 832.9,432.2 833.2,430.5 833.5,396.0 833.8,423.6 834.1,417.3 834.4,457.2 834.7,455.1 835.0,471.6 835.3,426.3 835.6,440.0 835.9,482.2 836.2,389.2 836.5,420.7 836.8,436.8 837.1,401.4 837.4,409.4 837.7,408.8 838.0,389.4 838.3,416.2 838.6,397.2 838.9,428.2 839.2,432.5 839.5,428.8 839.8,399.3 840.1,402.2 840.4,411.5 840.7,392.0 841.0,379.0 841.3,428.5 841.6,383.5 841.9,376.9 842.2,385.2 842.5,380.1 842.8,393.9 843.1,413.5 843.4,366.2 843.7,400.1 844.0,371.4 844.3,356.6 844.6,360.2 844.9,373.1 845.2,374.6 845.5,361.4 845.8,360.1 846.1,405.4 846.4,419.3 846.7,389.1 847.0,386.2 847.3,397.1 847.6,397.8 847.9,409.1 848.2,397.8 848.5,441.0 848.8,395.6 849.1,390.1 849.4,398.0 849.7,431.2 850.0,419.2 850.3,407.0 850.6,415.4 850.9,409.9 851.2,411.3 851.5,443.2 851.8,416.0 852.1,392.4 852.4,438.7 852.7,449.7 853.0,432.0 853.3,438.0 853.5,427.6 853.8,436.4 854.1,433.9 854.4,462.1 854.7,439.5 855.0,448.1 855.3,443.4 855.6,445.5 855.9,496.2 856.2,504.6 856.5,496.4 856.8,462.8 857.1,486.7 857.4,535.8 857.7,506.7 858.0,545.7 858.3,467.9 858.6,492.8 858.9,535.2 859.2,496.8 859.5,461.9 859.8,496.7 860.1,542.3 860.4,515.1 860.7,492.7 861.0,475.6 861.3,492.1 861.6,495.4 861.9,535.8 862.2,494.5 862.5,480.1 862.8,529.9 863.1,530.6 863.4,531.9 863.7,502.6 864.0,514.3 864.3,479.1 864.6,485.2 864.9,497.4 865.2,503.9 865.5,552.2 865.8,516.6 866.1,510.9 866.4,480.8 866.7,510.1 867.0,488.7 867.3,501.6 867.6,497.5 867.9,520.3 868.2,550.0 868.5,494.1 868.8,489.5 869.1,566.4 869.4,522.5 869.7,512.8 870.0,496.5 870.3,544.7 870.6,474.0 870.9,515.1 871.2,501.1 871.5,511.0 871.8,484.0 872.1,481.8 872.4,465.8 872.7,485.0 873.0,458.9 873.3,443.3 873.6,412.0 873.9,422.8 874.2,428.1 874.5,395.3 874.7,421.4 875.0,392.3 875.3,410.1 875.6,423.4 875.9,418.0 876.2,403.5 876.5,449.6 876.8,406.6 877.1,462.5 877.4,466.3 877.7,387.4 878.0,404.1 878.3,388.5 878.6,393.0 878.9,376.4 879.2,399.8 879.5,405.3 879.8,399.1 880.1,444.7 880.4,376.8 880.7,439.6 881.0,379.1 881.3,373.0 881.6,411.8 881.9,407.7 882.2,412.3 882.5,400.3 882.8,384.6 883.1,391.3 883.4,388.2 883.7,399.9 884.0,352.6 884.3,381.9 884.6,398.0 884.9,410.7 885.2,378.4 885.5,388.5 885.8,375.9 886.1,392.8 886.4,381.6 886.7,409.5 887.0,443.4 887.3,411.6 887.6,423.8 887.9,424.2 888.2,391.6 888.5,397.6 888.8,405.4 889.1,418.8 889.4,400.1 889.7,415.6 890.0,410.2 890.3,401.9 890.6,422.9 890.9,427.2 891.2,401.4 891.5,429.6 891.8,424.5 892.1,406.3 892.4,430.8 892.7,438.1 893.0,399.3 893.3,413.8 893.6,445.1 893.9,420.8 894.2,431.1 894.5,422.3 894.8,393.7 895.1,457.5 895.4,453.4 895.7,402.2 895.9,423.3 896.2,425.4 896.5,441.4 896.8,382.6 897.1,383.5 897.4,406.4 897.7,414.1 898.0,387.8 898.3,380.9 898.6,390.0 898.9,396.0 899.2,418.7 899.5,387.7 899.8,357.0 900.1,407.5 900.4,424.4 900.7,387.9 901.0,364.9 901.3,362.1 901.6,390.1 901.9,389.0 902.2,352.4 902.5,374.8 902.8,365.2 903.1,383.9 903.4,370.3 903.7,383.0 904.0,364.4 904.3,406.2 904.6,418.3 904.9,381.8 905.2,445.4 905.5,385.6 905.8,376.9 906.1,388.6 906.4,396.0 906.7,389.1 907.0,399.4 907.3,438.7 907.6,407.2 907.9,426.4 908.2,384.0 908.5,396.9 908.8,414.4 909.1,406.8 909.4,420.4 909.7,393.1 910.0,435.2 910.3,388.6 910.6,401.9 910.9,444.7 911.2,432.4 911.5,420.9 911.8,417.9 912.1,407.8 912.4,432.8 912.7,441.7 913.0,421.3 913.3,437.6 913.6,426.5 913.9,441.8 914.2,379.6 914.5,400.9 914.8,413.0 915.1,397.3 915.4,408.6 915.7,420.0 916.0,395.7 916.3,432.0 916.6,418.1 916.9,384.0 917.1,396.0 917.4,383.1 917.7,389.8 918.0,423.9 918.3,401.3 918.6,373.0 918.9,391.6 919.2,373.4 919.5,385.0 919.8,411.2 920.1,367.2 920.4,387.6 920.7,354.4 921.0,381.1 921.3,388.3 921.6,386.6 921.9,374.4 922.2,429.7 922.5,391.2 922.8,445.1 923.1,369.9 923.4,386.8 923.7,373.5 924.0,364.1 924.3,406.1 924.6,377.6 924.9,414.4 925.2,453.8 925.5,390.1 925.8,418.1 926.1,373.4 926.4,391.3 926.7,459.4 927.0,406.8 927.3,421.5 927.6,396.6 927.9,416.7 928.2,392.7 928.5,403.4 928.8,382.0 929.1,409.4 929.4,432.5 929.7,422.6 930.0,439.7 930.3,449.4 930.6,422.3 930.9,418.1 931.2,432.7 931.5,423.6 931.8,445.0 932.1,435.3 932.4,429.8 932.7,466.9 933.0,429.0 933.3,440.8 933.6,422.4 933.9,468.7 934.2,403.5 934.5,388.4 934.8,410.9 935.1,398.1 935.4,403.5 935.7,390.1 936.0,401.1 936.3,437.7 936.6,370.5 936.9,436.6 937.2,384.9 937.5,379.5 937.8,423.6 938.1,399.9 938.3,395.8 938.6,385.6 938.9,371.9 939.2,415.3 939.5,386.9 939.8,365.5 940.1,362.4 940.4,359.7 940.7,365.2 941.0,385.9 941.3,406.2 941.6,365.0 941.9,388.7 942.2,374.2 942.5,411.2 942.8,432.1 943.1,384.9 943.4,368.0 943.7,406.6 944.0,427.7 944.3,389.8 944.6,393.0 944.9,412.9 945.2,438.8 945.5,380.1 945.8,415.5 946.1,384.7 946.4,446.0 946.7,406.3 947.0,430.7 947.3,420.0 947.6,407.6 947.9,423.9 948.2,406.5 948.5,416.2 948.8,438.2 949.1,455.1 949.4,447.0 949.7,412.6 950.0,454.0 950.3,482.7 950.6,412.1 950.9,406.6 951.2,451.6 951.5,410.0 951.8,433.7 952.1,444.0 952.4,407.1 952.7,438.5 953.0,402.3 953.3,414.0 953.6,438.7 953.9,391.8 954.2,422.7 954.5,412.3 954.8,393.2 955.1,382.1 955.4,411.6 955.7,399.0 956.0,418.1 956.3,434.5 956.6,387.7 956.9,381.7 957.2,369.5 957.5,392.8 957.8,357.0 958.1,405.6 958.4,398.6 958.7,377.8 959.0,428.4 959.3,370.6 959.6,380.0 959.8,377.6 960.1,417.7 960.4,389.4 960.7,375.8 961.0,374.7 961.3,385.5 961.6,376.1 961.9,357.3 962.2,395.2 962.5,422.3 962.8,361.9 963.1,415.4 963.4,377.7 963.7,392.2 964.0,419.9 964.3,389.5 964.6,374.9 964.9,465.9 965.2,402.0 965.5,407.5 965.8,386.0 966.1,399.4 966.4,441.2 966.7,475.5 967.0,408.8 967.3,405.1 967.6,429.2 967.9,425.8 968.2,447.5 968.5,413.1 968.8,426.2 969.1,415.6 969.4,433.1 969.7,442.9 970.0,437.0 970.3,392.9 970.6,399.6 970.9,401.6 971.2,396.2 971.5,419.3 971.8,414.2 972.1,444.8 972.4,398.7 972.7,389.3 973.0,415.1 973.3,377.5 973.6,425.2 973.9,405.1 974.2,398.1 974.5,380.6 974.8,376.8 975.1,412.4 975.4,378.7 975.7,350.6 976.0,402.8 976.3,376.0 976.6,392.0 976.9,371.4 977.2,390.2 977.5,368.0 977.8,397.6 978.1,376.1 978.4,366.9 978.7,375.8 979.0,390.6 979.3,354.3 979.6,388.8 979.9,364.9 980.2,389.5 980.5,377.9 980.8,381.9 981.0,395.8 981.3,390.1 981.6,421.3 981.9,398.6 982.2,398.0 982.5,396.6 982.8,415.9 983.1,414.8 983.4,452.5 983.7,386.5 984.0,419.1 984.3,429.9 984.6,469.1 984.9,423.4 985.2,396.3 985.5,387.3 985.8,470.6 986.1,391.4 986.4,431.3 986.7,443.9 987.0,422.6 987.3,426.5 987.6,409.6 987.9,430.5 988.2,432.6 988.5,425.9 988.8,415.1 989.1,402.2 989.4,419.8 989.7,409.3 990.0,402.4 990.3,405.3 990.6,412.7 990.9,429.8 991.2,422.3 991.5,425.0 991.8,383.6 992.1,446.3 992.4,387.3 992.7,384.7 993.0,394.0 993.3,410.5 993.6,397.3 993.9,389.2 994.2,394.0 994.5,433.7 994.8,409.0 995.1,395.8 995.4,407.6 995.7,382.1 996.0,385.3 996.3,357.1 996.6,390.3 996.9,384.6 997.2,354.3 997.5,363.1 997.8,397.3 998.1,365.5 998.4,397.7 998.7,373.2 999.0,348.1 999.3,388.6 999.6,369.9 999.9,376.8 1000.2,364.9 1000.5,400.1 1000.8,390.0 1001.1,382.0 1001.4,400.8 1001.7,407.5 1002.0,392.7 1002.2,386.3 1002.5,391.3 1002.8,419.3 1003.1,400.0 1003.4,403.8 1003.7,386.4 1004.0,423.0 1004.3,417.3 1004.6,387.1 1004.9,419.5 1005.2,434.4 1005.5,425.5 1005.8,428.1 1006.1,430.0 1006.4,398.3 1006.7,437.4 1007.0,458.3 1007.3,406.4 1007.6,421.5 1007.9,414.7 1008.2,418.2 1008.5,412.2 1008.8,407.8 1009.1,412.6 1009.4,450.2 1009.7,412.9 1010.0,432.0 1010.3,405.5 1010.6,407.9 1010.9,385.6 1011.2,424.1 1011.5,424.5 1011.8,424.0 1012.1,391.8 1012.4,422.2 1012.7,419.2 1013.0,384.8 1013.3,420.7 1013.6,429.7 1013.9,412.9 1014.2,388.5 1014.5,419.3 1014.8,387.0 1015.1,400.3 1015.4,369.4 1015.7,386.5 1016.0,353.4 1016.3,381.5 1016.6,394.7 1016.9,375.2 1017.2,382.2 1017.5,390.4 1017.8,346.6 1018.1,362.1 1018.4,367.1 1018.7,368.5 1019.0,407.1 1019.3,399.9 1019.6,416.3 1019.9,374.3 1020.2,366.2 1020.5,403.0 1020.8,398.3 1021.1,406.3 1021.4,393.9 1021.7,399.1 1022.0,397.8 1022.3,396.1 1022.6,403.9 1022.9,412.6 1023.2,389.0 1023.4,403.8 1023.7,428.5 1024.0,391.9 1024.3,417.3 1024.6,402.6 1024.9,420.4 1025.2,394.2 1025.5,395.8 1025.8,423.2 1026.1,428.2 1026.4,432.7 1026.7,416.6 1027.0,414.1 1027.3,468.9 1027.6,440.0 1027.9,397.0 1028.2,414.2 1028.5,465.8 1028.8,413.9 1029.1,428.3 1029.4,419.3 1029.7,430.2 1030.0,415.9 1030.3,429.9 1030.6,414.9 1030.9,420.9 1031.2,387.1 1031.5,407.0 1031.8,394.6 1032.1,409.9 1032.4,382.7 1032.7,390.3 1033.0,401.8 1033.3,373.2 1033.6,392.8 1033.9,352.3 1034.2,381.7 1034.5,381.4 1034.8,379.4 1035.1,359.9 1035.4,375.8 1035.7,386.0 1036.0,401.8 1036.3,350.9 1036.6,358.4 1036.9,356.5 1037.2,383.7 1037.5,408.2 1037.8,380.6 1038.1,406.4 1038.4,398.5 1038.7,370.3 1039.0,402.6 1039.3,420.8 1039.6,393.7 1039.9,438.2 1040.2,389.3 1040.5,420.4 1040.8,380.1 1041.1,435.2 1041.4,432.2 1041.7,415.8 1042.0,436.4 1042.3,412.8 1042.6,402.5 1042.9,417.9 1043.2,406.7 1043.5,413.3 1043.8,418.7 1044.1,439.4 1044.4,427.0 1044.6,406.7 1044.9,409.2 1045.2,415.8 1045.5,444.7 1045.8,405.6 1046.1,439.3 1046.4,422.3 1046.7,394.6 1047.0,466.7 1047.3,417.6 1047.6,403.0 1047.9,421.4 1048.2,457.8 1048.5,396.7 1048.8,390.1 1049.1,383.8 1049.4,430.2 1049.7,442.3 1050.0,398.5 1050.3,371.6 1050.6,404.9 1050.9,381.8 1051.2,409.4 1051.5,385.4 1051.8,380.8 1052.1,400.1 1052.4,363.0 1052.7,391.7 1053.0,358.8 1053.3,399.5 1053.6,411.9 1053.9,429.1 1054.2,363.1 1054.5,375.4 1054.8,385.9 1055.1,391.3 1055.4,387.9 1055.7,358.0 1056.0,371.1 1056.3,443.5 1056.6,415.9 1056.9,423.7 1057.2,381.8 1057.5,387.0 1057.8,375.3 1058.1,401.7 1058.4,401.4 1058.7,408.7 1059.0,384.8 1059.3,425.1 1059.6,412.5 1059.9,452.9 1060.2,390.4 1060.5,437.7 1060.8,417.7 1061.1,409.9 1061.4,418.6 1061.7,472.3 1062.0,404.2 1062.3,401.7 1062.6,414.4 1062.9,426.7 1063.2,421.4 1063.5,388.3 1063.8,440.3 1064.1,445.5 1064.4,411.6 1064.7,399.3 1065.0,407.9 1065.3,424.2 1065.6,394.5 1065.8,432.0 1066.1,409.1 1066.4,462.7 1066.7,401.4 1067.0,415.4 1067.3,391.3 1067.6,472.3 1067.9,491.9 1068.2,409.5 1068.5,410.8 1068.8,400.5 1069.1,409.6 1069.4,388.3 1069.7,427.7 1070.0,390.1 1070.3,377.8 1070.6,417.3 1070.9,363.2 1071.2,393.3 1071.5,404.8 1071.8,379.1 1072.1,378.2 1072.4,379.8 1072.7,426.1 1073.0,368.2 1073.3,366.9 1073.6,396.2 1073.9,350.1 1074.2,378.2 1074.5,371.2 1074.8,415.1 1075.1,372.2 1075.4,408.1 1075.7,420.4 1076.0,383.3 1076.3,365.4 1076.6,402.6 1076.9,412.8 1077.2,372.5 1077.5,376.8 1077.8,395.7 1078.1,390.9 1078.4,419.9 1078.7,428.4 1079.0,432.9 1079.3,409.7 1079.6,391.2 1079.9,412.6 1080.2,407.5 1080.5,397.5 1080.8,467.6 1081.1,396.7 1081.4,408.4 1081.7,438.3 1082.0,422.2 1082.3,454.3 1082.6,410.7 1082.9,422.2 1083.2,428.3 1083.5,454.0 1083.8,419.9 1084.1,417.0 1084.4,413.1 1084.7,459.1 1085.0,427.5 1085.3,428.5 1085.6,402.9 1085.9,402.9 1086.2,406.4 1086.5,397.9 1086.8,410.2 1087.0,374.0 1087.3,412.9 1087.6,407.2 1087.9,430.6 1088.2,398.0 1088.5,397.0 1088.8,380.9 1089.1,391.9 1089.4,423.8 1089.7,394.7 1090.0,392.4 1090.3,380.8 1090.6,388.7 1090.9,398.5 1091.2,385.1 1091.5,382.8 1091.8,405.9 1092.1,399.0 1092.4,379.0 1092.7,362.0 1093.0,374.5 1093.3,376.7 1093.6,369.4 1093.9,378.2 1094.2,417.0 1094.5,392.8 1094.8,364.5 1095.1,383.4 1095.4,410.7 1095.7,386.1 1096.0,392.8 1096.3,359.5 1096.6,412.5 1096.9,384.5 1097.2,377.1 1097.5,387.2 1097.8,423.1 1098.1,398.8 1098.4,419.6 1098.7,412.4 1099.0,395.0 1099.3,445.3 1099.6,393.7 1099.9,385.6 1100.2,399.5 1100.5,420.4 1100.8,388.8 1101.1,410.8 1101.4,460.5 1101.7,440.1 1102.0,416.6 1102.3,421.3 1102.6,415.9 1102.9,418.6 1103.2,441.1 1103.5,431.9 1103.8,416.2 1104.1,391.5 1104.4,402.1 1104.7,395.9 1105.0,404.0 1105.3,417.1 1105.6,423.3 1105.9,439.8 1106.2,410.2 1106.5,402.0 1106.8,418.9 1107.1,444.7 1107.4,454.9 1107.7,449.0 1108.0,376.3 1108.2,372.6 1108.5,380.8 1108.8,384.4 1109.1,384.4 1109.4,422.5 1109.7,355.9 1110.0,389.4 1110.3,384.7 1110.6,393.9 1110.9,417.5 1111.2,377.0 1111.5,363.0 1111.8,370.5 1112.1,408.4 1112.4,350.0 1112.7,358.6 1113.0,411.4 1113.3,388.6 1113.6,351.9 1113.9,391.0 1114.2,392.3 1114.5,385.2 1114.8,381.6 1115.1,392.3 1115.4,376.1 1115.7,398.7 1116.0,406.9 1116.3,441.2 1116.6,393.4 1116.9,367.8 1117.2,391.4 1117.5,383.2 1117.8,398.7 1118.1,400.9 1118.4,463.8 1118.7,420.6 1119.0,416.7 1119.3,399.7 1119.6,418.4 1119.9,456.9 1120.2,464.4 1120.5,425.0 1120.8,419.3 1121.1,389.6 1121.4,451.3 1121.7,438.8 1122.0,439.2 1122.3,399.1 1122.6,430.2 1122.9,426.2 1123.2,411.8 1123.5,401.0 1123.8,416.6 1124.1,405.1 1124.4,459.3 1124.7,394.6 1125.0,398.2 1125.3,372.3 1125.6,409.0 1125.9,384.4 1126.2,389.1 1126.5,404.0 1126.8,449.9 1127.1,383.9 1127.4,398.1 1127.7,371.3 1128.0,393.8 1128.3,428.9 1128.6,390.1 1128.9,388.4 1129.2,380.4 1129.4,375.1 1129.7,385.6 1130.0,426.4 1130.3,411.3 1130.6,379.9 1130.9,377.9 1131.2,359.0 1131.5,373.1 1131.8,360.1 1132.1,374.3 1132.4,388.1 1132.7,353.8 1133.0,385.0 1133.3,387.0 1133.6,383.5 1133.9,371.9 1134.2,395.1 1134.5,387.3 1134.8,406.0 1135.1,386.9 1135.4,457.7 1135.7,411.9 1136.0,410.3 1136.3,405.0 1136.6,411.5 1136.9,387.8 1137.2,393.4 1137.5,428.9 1137.8,404.9 1138.1,387.4 1138.4,424.6 1138.7,420.3 1139.0,406.1 1139.3,449.6 1139.6,420.4 1139.9,399.2 1140.2,394.1 1140.5,443.3 1140.8,405.2 1141.1,452.9 1141.4,394.3 1141.7,413.2 1142.0,423.6 1142.3,426.0 1142.6,407.7 1142.9,391.8 1143.2,403.4 1143.5,393.6 1143.8,394.1 1144.1,393.7 1144.4,376.3 1144.7,387.3 1145.0,402.0 1145.3,395.7 1145.6,433.6 1145.9,437.5 1146.2,404.2 1146.5,395.8 1146.8,401.0 1147.1,396.4 1147.4,373.7 1147.7,384.2 1148.0,430.2 1148.3,373.3 1148.6,372.2 1148.9,382.6 1149.2,377.2 1149.5,390.6 1149.8,370.3 1150.1,386.7 1150.4,377.1 1150.7,358.5 1150.9,373.4 1151.2,376.0 1151.5,355.1 1151.8,323.5 1152.1,364.2 1152.4,378.1 1152.7,394.8 1153.0,394.6 1153.3,377.9 1153.6,363.2 1153.9,409.2 1154.2,417.9 1154.5,371.8 1154.8,381.6 1155.1,393.2 1155.4,432.9 1155.7,382.7 1156.0,436.9 1156.3,388.9 1156.6,410.0 1156.9,406.2 1157.2,416.2 1157.5,427.8 1157.8,419.8 1158.1,403.5 1158.4,467.9 1158.7,448.9 1159.0,406.1 1159.3,414.8 1159.6,393.3 1159.9,450.6 1160.2,445.3 1160.5,424.5 1160.8,419.8 1161.1,415.4 1161.4,414.4 1161.7,404.7 1162.0,460.6 1162.3,409.8 1162.6,422.9 1162.9,423.2 1163.2,382.9 1163.5,413.7 1163.8,385.9 1164.1,367.0 1164.4,409.0 1164.7,400.9 1165.0,400.9 1165.3,395.2 1165.6,373.0 1165.9,379.7 1166.2,390.4 1166.5,390.5 1166.8,407.7 1167.1,381.8 1167.4,414.1 1167.7,400.9 1168.0,381.7 1168.3,396.9 1168.6,413.7 1168.9,381.3 1169.2,399.2 1169.5,366.1 1169.8,370.5 1170.1,405.4 1170.4,370.6 1170.7,367.1 1171.0,377.2 1171.3,386.2 1171.6,392.4 1171.9,356.4 1172.1,384.0 1172.4,387.5 1172.7,395.7 1173.0,417.6 1173.3,403.4 1173.6,384.9 1173.9,390.6 1174.2,392.4 1174.5,397.3 1174.8,419.9 1175.1,401.8 1175.4,388.5 1175.7,406.7 1176.0,470.7 1176.3,425.5 1176.6,458.7 1176.9,432.0 1177.2,381.6 1177.5,424.4 1177.8,435.9 1178.1,458.9 1178.4,425.6 1178.7,401.5 1179.0,441.8 1179.3,417.8 1179.6,420.0 1179.9,434.4 1180.2,408.3 1180.5,427.5 1180.8,433.6 1181.1,430.0 1181.4,409.9 1181.7,383.5 1182.0,395.1 1182.3,424.5 1182.6,407.2 1182.9,424.4 1183.2,424.7 1183.5,450.2 1183.8,395.2 1184.1,411.9 1184.4,402.6 1184.7,390.4 1185.0,428.6 1185.3,420.5 1185.6,384.1 1185.9,413.9 1186.2,410.6 1186.5,371.6 1186.8,387.3 1187.1,363.9 1187.4,355.8 1187.7,358.2 1188.0,413.6 1188.3,374.3 1188.6,360.8 1188.9,368.3 1189.2,384.3 1189.5,401.7 1189.8,368.1 1190.1,415.5 1190.4,423.7 1190.7,404.3 1191.0,386.1 1191.3,366.5 1191.6,395.4 1191.9,375.5 1192.2,413.9 1192.5,403.9 1192.8,403.9 1193.1,412.4 1193.3,380.3 1193.6,435.9 1193.9,383.9 1194.2,399.2 1194.5,394.0 1194.8,424.1 1195.1,397.7 1195.4,454.6 1195.7,415.0 1196.0,408.1 1196.3,431.0 1196.6,450.5 1196.9,437.9 1197.2,427.4 1197.5,431.5 1197.8,478.6 1198.1,414.1 1198.4,457.7 1198.7,420.6 1199.0,439.6 1199.3,463.9 1199.6,406.4 1199.9,423.8 1200.2,410.6 1200.5,408.4 1200.8,409.1 1201.1,429.3 1201.4,403.2 1201.7,394.2 1202.0,422.8 1202.3,430.7 1202.6,417.7 1202.9,385.6 1203.2,403.7 1203.5,377.0 1203.8,407.2 1204.1,396.7 1204.4,371.5 1204.7,367.3 1205.0,379.6 1205.3,416.1 1205.6,388.5 1205.9,388.5 1206.2,409.1 1206.5,363.7 1206.8,375.2 1207.1,400.0 1207.4,405.7 1207.7,373.8 1208.0,418.6 1208.3,361.6 1208.6,388.9 1208.9,410.3 1209.2,372.7 1209.5,402.9 1209.8,388.5 1210.1,384.3 1210.4,410.1 1210.7,383.2 1211.0,370.7 1211.3,376.1 1211.6,396.7 1211.9,383.3 1212.2,422.9 1212.5,403.6 1212.8,383.3 1213.1,426.6 1213.4,401.4 1213.7,392.3 1214.0,405.8 1214.3,382.1 1214.5,419.2 1214.8,423.9 1215.1,447.9 1215.4,411.8 1215.7,415.3 1216.0,436.7 1216.3,413.8 1216.6,397.2 1216.9,434.7 1217.2,403.9 1217.5,414.5 1217.8,429.0 1218.1,483.4 1218.4,425.1 1218.7,437.8 1219.0,413.4 1219.3,428.8 1219.6,420.3 1219.9,430.0 1220.2,424.7 1220.5,404.0 1220.8,455.7 1221.1,388.8 1221.4,396.0 1221.7,453.8 1222.0,398.0 1222.3,409.7 1222.6,412.9 1222.9,403.1 1223.2,400.3 1223.5,413.8 1223.8,404.2 1224.1,374.4 1224.4,428.6 1224.7,373.9 1225.0,405.0 1225.3,377.3 1225.6,416.6 1225.9,400.7 1226.2,386.4 1226.5,437.0 1226.8,409.5 1227.1,351.8 1227.4,364.3 1227.7,363.5 1228.0,370.6 1228.3,395.1 1228.6,356.8 1228.9,352.4 1229.2,414.0 1229.5,389.9 1229.8,393.6 1230.1,393.8 1230.4,378.2 1230.7,395.7 1231.0,395.0 1231.3,398.8 1231.6,430.8 1231.9,374.7 1232.2,437.0 1232.5,411.8 1232.8,411.1 1233.1,401.5 1233.4,399.1 1233.7,463.9 1234.0,409.9 1234.3,437.5 1234.6,408.0 1234.9,413.4 1235.2,480.3 1235.5,452.0 1235.7,424.8 1236.0,413.2 1236.3,411.8 1236.6,420.4 1236.9,439.0 1237.2,419.5 1237.5,424.3 1237.8,432.5 1238.1,401.8 1238.4,415.7 1238.7,414.4 1239.0,400.8 1239.3,424.0 1239.6,413.4 1239.9,438.2 1240.2,428.3 1240.5,440.6 1240.8,431.7 1241.1,426.6 1241.4,405.1 1241.7,391.3 1242.0,411.0 1242.3,395.6 1242.6,362.6 1242.9,408.2 1243.2,398.6 1243.5,399.7 1243.8,362.9 1244.1,383.8 1244.4,422.2 1244.7,378.3 1245.0,402.8 1245.3,383.6 1245.6,367.6 1245.9,375.0 1246.2,399.8 1246.5,417.1 1246.8,393.5 1247.1,376.3 1247.4,397.1 1247.7,398.6 1248.0,386.5 1248.3,371.5 1248.6,449.9 1248.9,415.4 1249.2,424.8 1249.5,404.4 1249.8,381.3 1250.1,388.4 1250.4,397.0 1250.7,389.7 1251.0,404.9 1251.3,402.2 1251.6,378.3 1251.9,393.9 1252.2,388.4 1252.5,378.9 1252.8,440.3 1253.1,379.5 1253.4,443.5 1253.7,394.8 1254.0,421.9 1254.3,387.0 1254.6,399.9 1254.9,440.4 1255.2,413.7 1255.5,415.0 1255.8,440.8 1256.1,421.4 1256.4,436.9 1256.7,428.6 1256.9,422.4 1257.2,418.6 1257.5,441.5 1257.8,386.8 1258.1,447.5 1258.4,409.6 1258.7,424.4 1259.0,387.7 1259.3,417.2 1259.6,415.7 1259.9,376.5 1260.2,413.5 1260.5,402.5 1260.8,416.9 1261.1,389.4 1261.4,393.0 1261.7,419.1 1262.0,388.6 1262.3,403.1 1262.6,383.0 1262.9,414.7 1263.2,372.5 1263.5,368.6 1263.8,403.5 1264.1,384.1 1264.4,369.9 1264.7,411.7 1265.0,376.4 1265.3,370.8 1265.6,406.1 1265.9,397.6 1266.2,359.7 1266.5,376.0 1266.8,390.6 1267.1,409.9 1267.4,376.5 1267.7,401.4 1268.0,356.6 1268.3,386.3 1268.6,375.6 1268.9,391.6 1269.2,372.1 1269.5,392.1 1269.8,420.6 1270.1,397.4 1270.4,409.8 1270.7,401.5 1271.0,411.1 1271.3,409.1 1271.6,421.8 1271.9,419.2 1272.2,408.9 1272.5,419.7 1272.8,398.5 1273.1,403.6 1273.4,427.3 1273.7,448.1 1274.0,400.9 1274.3,432.4 1274.6,453.7 1274.9,443.5 1275.2,431.5 1275.5,401.8 1275.8,408.2 1276.1,418.9 1276.4,450.1 1276.7,424.8 1277.0,428.8 1277.3,390.4 1277.6,416.3 1277.9,375.0 1278.1,400.6 1278.4,423.6 1278.7,403.3 1279.0,423.9 1279.3,394.9 1279.6,459.6 1279.9,380.0 1280.2,394.8 1280.5,383.3 1280.8,424.5 1281.1,359.4 1281.4,421.6 1281.7,387.0 1282.0,418.6 1282.3,394.2 1282.6,380.0 1282.9,420.3 1283.2,385.7 1283.5,373.1 1283.8,402.4 1284.1,362.4 1284.4,380.3 1284.7,405.7 1285.0,394.0 1285.3,400.3 1285.6,384.2 1285.9,373.3 1286.2,386.4 1286.5,382.3 1286.8,390.0 1287.1,381.1 1287.4,373.7 1287.7,432.9 1288.0,393.1 1288.3,401.1 1288.6,374.9 1288.9,383.0 1289.2,433.0 1289.5,415.3 1289.8,452.8 1290.1,399.7 1290.4,403.8 1290.7,416.7 1291.0,449.0 1291.3,405.7 1291.6,435.3 1291.9,405.2 1292.2,437.3 1292.5,388.0 1292.8,398.0 1293.1,399.9 1293.4,472.9 1293.7,408.8 1294.0,408.2 1294.3,442.0 1294.6,425.4 1294.9,432.8 1295.2,406.6 1295.5,385.8 1295.8,444.0 1296.1,446.8 1296.4,405.5 1296.7,436.6 1297.0,398.2 1297.3,417.4 1297.6,400.3 1297.9,391.1 1298.2,401.6 1298.5,386.7 1298.8,425.4 1299.1,427.0 1299.3,395.4 1299.6,422.5 1299.9,396.4 1300.2,384.4 1300.5,392.9 1300.8,383.5 1301.1,384.0 1301.4,448.3 1301.7,390.9 1302.0,394.6 1302.3,360.0 1302.6,360.0 1302.9,391.4 1303.2,362.0 1303.5,381.6 1303.8,366.6 1304.1,410.1 1304.4,369.0 1304.7,369.7 1305.0,420.1 1305.3,377.7 1305.6,365.1 1305.9,390.9 1306.2,371.0 1306.5,413.1 1306.8,417.8 1307.1,426.8 1307.4,381.6 1307.7,459.5 1308.0,387.8 1308.3,407.1 1308.6,388.7 1308.9,400.5 1309.2,407.1 1309.5,396.1 1309.8,392.9 1310.1,392.1 1310.4,394.7 1310.7,400.5 1311.0,428.2 1311.3,421.7 1311.6,459.9 1311.9,426.5 1312.2,427.0 1312.5,402.1 1312.8,397.1 1313.1,454.4 1313.4,467.9 1313.7,439.6 1314.0,418.5 1314.3,392.7 1314.6,450.0 1314.9,449.7 1315.2,445.5 1315.5,393.7 1315.8,427.1 1316.1,418.3 1316.4,437.3 1316.7,398.6 1317.0,414.7 1317.3,405.7 1317.6,419.1 1317.9,414.8 1318.2,380.4 1318.5,411.1 1318.8,385.6 1319.1,405.2 1319.4,419.7 1319.7,386.8 1320.0,411.5 1320.3,388.5 1320.5,370.1 1320.8,392.0 1321.1,399.5 1321.4,364.5 1321.7,384.3 1322.0,395.7 1322.3,378.6 1322.6,364.2 1322.9,367.6 1323.2,373.3 1323.5,372.2 1323.8,384.5 1324.1,412.4 1324.4,386.4 1324.7,434.2 1325.0,381.4 1325.3,414.5 1325.6,421.8 1325.9,369.7 1326.2,392.2 1326.5,394.4 1326.8,406.5 1327.1,399.4 1327.4,417.6 1327.7,414.8 1328.0,405.6 1328.3,407.1 1328.6,469.1 1328.9,388.3 1329.2,427.3 1329.5,398.4 1329.8,395.2 1330.1,410.5 1330.4,428.5 1330.7,410.1 1331.0,430.8 1331.3,448.1 1331.6,485.1 1331.9,414.7 1332.2,426.0 1332.5,402.7 1332.8,426.6 1333.1,418.5 1333.4,418.9 1333.7,426.4 1334.0,409.5 1334.3,407.2 1334.6,405.7 1334.9,434.5 1335.2,417.7 1335.5,381.3 1335.8,405.6 1336.1,421.6 1336.4,441.9 1336.7,382.9 1337.0,384.8 1337.3,394.0 1337.6,408.4 1337.9,386.3 1338.2,377.2 1338.5,391.9 1338.8,392.6 1339.1,399.5 1339.4,390.0 1339.7,407.9 1340.0,381.6 1340.3,404.4 1340.6,397.4 1340.9,408.0 1341.2,414.2 1341.5,376.9 1341.8,349.2 1342.0,432.0 1342.3,381.3 1342.6,422.6 1342.9,385.1 1343.2,425.1 1343.5,389.0 1343.8,397.7 1344.1,388.5 1344.4,385.0 1344.7,396.6 1345.0,396.4 1345.3,414.7 1345.6,410.9 1345.9,405.9 1346.2,403.3 1346.5,398.1 1346.8,397.1 1347.1,438.0 1347.4,390.7 1347.7,402.4 1348.0,412.2 1348.3,413.1 1348.6,435.4 1348.9,406.4 1349.2,477.1 1349.5,478.7 1349.8,408.8 1350.1,436.6 1350.4,428.6 1350.7,442.2 1351.0,415.7 1351.3,451.9 1351.6,427.5 1351.9,418.0 1352.2,398.6 1352.5,404.4 1352.8,420.3 1353.1,405.0 1353.4,427.9 1353.7,416.2 1354.0,401.1 1354.3,389.7 1354.6,439.2 1354.9,417.7 1355.2,399.2 1355.5,395.0 1355.8,399.0 1356.1,406.1 1356.4,423.1 1356.7,426.9 1357.0,390.1 1357.3,407.9 1357.6,399.5 1357.9,409.0 1358.2,401.2 1358.5,410.2 1358.8,395.8 1359.1,392.6 1359.4,377.5 1359.7,403.9 1360.0,428.5 1360.3,388.2 1360.6,374.5 1360.9,388.8 1361.2,365.4 1361.5,381.3 1361.8,401.7 1362.1,372.0 1362.4,379.7 1362.7,392.3 1363.0,414.1 1363.2,442.1 1363.5,383.6 1363.8,380.0 1364.1,385.9 1364.4,395.2 1364.7,406.9 1365.0,374.2 1365.3,396.9 1365.6,384.8 1365.9,407.4 1366.2,394.3 1366.5,393.8 1366.8,427.4 1367.1,442.6 1367.4,402.6 1367.7,398.2 1368.0,405.5 1368.3,425.2 1368.6,419.2 1368.9,403.2 1369.2,378.0 1369.5,390.1 1369.8,421.8 1370.1,407.5 1370.4,437.6 1370.7,464.9 1371.0,451.2 1371.3,479.6 1371.6,448.9 1371.9,498.5 1372.2,480.7 1372.5,467.0 1372.8,500.6 1373.1,526.4 1373.4,490.2 1373.7,506.8 1374.0,499.0 1374.3,533.0 1374.6,526.6 1374.9,546.7 1375.2,536.6 1375.5,554.2 1375.8,572.3 1376.1,595.0 1376.4,580.0 1376.7,568.1 1377.0,546.8 1377.3,544.1 1377.6,558.9 1377.9,534.4 1378.2,516.3 1378.5,560.8 1378.8,533.8 1379.1,539.2 1379.4,539.5 1379.7,543.8 1380.0,621.8 1380.3,520.8 1380.6,613.5 1380.9,535.8 1381.2,522.3 1381.5,525.8 1381.8,568.5 1382.1,572.6 1382.4,533.2 1382.7,587.7 1383.0,504.0 1383.3,501.5 1383.6,539.8 1383.9,542.6 1384.2,534.7 1384.4,501.3 1384.7,569.9 1385.0,566.0 1385.3,536.2 1385.6,560.9 1385.9,530.7 1386.2,509.3 1386.5,535.1 1386.8,571.8 1387.1,552.0 1387.4,563.8 1387.7,590.5 1388.0,545.5 1388.3,534.6 1388.6,549.1 1388.9,528.2 1389.2,586.3 1389.5,568.6 1389.8,605.7 1390.1,563.3 1390.4,538.9 1390.7,567.8 1391.0,577.4 1391.3,552.4 1391.6,543.2 1391.9,565.0 1392.2,572.8 1392.5,544.8 1392.8,561.0 1393.1,545.0 1393.4,589.6 1393.7,574.4 1394.0,589.9 1394.3,621.6 1394.6,605.2 1394.9,564.8 1395.2,559.0 1395.5,585.1 1395.8,589.7 1396.1,553.3 1396.4,597.9 1396.7,569.1 1397.0,614.9 1397.3,632.4 1397.6,579.7 1397.9,586.4 1398.2,601.4 1398.5,630.1 1398.8,580.0 1399.1,607.7 1399.4,552.5 1399.7,575.3 1400.0,600.9 1400.3,618.0 1400.6,588.7 1400.9,604.8 1401.2,622.7 1401.5,574.9 1401.8,608.6 1402.1,577.0 1402.4,603.2 1402.7,581.4 1403.0,584.1 1403.3,568.3 1403.6,572.6 1403.9,614.9 1404.2,572.7 1404.5,556.0 1404.8,613.1 1405.1,576.0 1405.4,593.5 1405.6,583.4 1405.9,546.3 1406.2,619.0 1406.5,590.5 1406.8,621.8 1407.1,597.4 1407.4,574.8 1407.7,593.9 1408.0,619.1 1408.3,574.5 1408.6,585.2 1408.9,614.4 1409.2,584.5 1409.5,651.6 1409.8,591.7 1410.1,602.0 1410.4,573.5 1410.7,599.3 1411.0,645.0 1411.3,556.8 1411.6,596.4 1411.9,593.4 1412.2,636.7 1412.5,565.4 1412.8,569.7 1413.1,572.0 1413.4,589.0 1413.7,579.9 1414.0,582.4 1414.3,637.5 1414.6,574.7 1414.9,632.6 1415.2,587.4 1415.5,584.0 1415.8,649.7 1416.1,582.4 1416.4,591.9 1416.7,594.0 1417.0,609.1 1417.3,597.2 1417.6,584.7 1417.9,622.1 1418.2,631.0 1418.5,583.3 1418.8,670.9 1419.1,581.6 1419.4,671.2 1419.7,606.5 1420.0,580.5 1420.3,582.5 1420.6,615.5 1420.9,586.9 1421.2,588.5 1421.5,672.2 1421.8,597.0 1422.1,630.6 1422.4,574.0 1422.7,623.4 1423.0,574.1 1423.3,595.5 1423.6,587.9 1423.9,590.1 1424.2,598.5 1424.5,620.7 1424.8,620.0 1425.1,623.4 1425.4,635.3 1425.7,616.9 1426.0,606.8 1426.3,614.3 1426.6,590.1 1426.8,615.3 1427.1,592.3 1427.4,601.0 1427.7,583.1 1428.0,599.5 1428.3,588.9 1428.6,596.3 1428.9,610.2 1429.2,592.9 1429.5,636.4 1429.8,607.7 1430.1,607.4 1430.4,594.8 1430.7,646.8 1431.0,612.3 1431.3,600.7 1431.6,597.8 1431.9,624.5 1432.2,643.0 1432.5,606.0 1432.8,647.0 1433.1,612.3 1433.4,614.9 1433.7,610.1 1434.0,592.7 1434.3,598.6 1434.6,606.5 1434.9,602.5 1435.2,617.9 1435.5,608.8 1435.8,610.3 1436.1,626.9 1436.4,613.5 1436.7,588.1 1437.0,617.8 1437.3,613.4 1437.6,637.4 1437.9,635.4 1438.2,644.5 1438.5,633.0 1438.8,596.0 1439.1,617.7 1439.4,676.2 1439.7,598.7 1440.0,631.0 1440.3,690.8 1440.6,597.0 1440.9,618.2 1441.2,591.1 1441.5,615.8 1441.8,634.2 1442.1,634.0 1442.4,618.9 1442.7,631.9 1443.0,610.1 1443.3,623.6 1443.6,593.0 1443.9,631.3 1444.2,614.0 1444.5,592.7 1444.8,608.0 1445.1,596.2 1445.4,597.4 1445.7,623.9 1446.0,629.7 1446.3,683.6 1446.6,620.9 1446.9,623.3 1447.2,615.5 1447.5,595.9 1447.8,625.2 1448.0,626.9 1448.3,612.4 1448.6,624.9 1448.9,630.5 1449.2,637.3 1449.5,621.8 1449.8,615.4 1450.1,642.1 1450.4,682.7 1450.7,620.8 1451.0,641.0 1451.3,608.0 1451.6,607.3 1451.9,628.1 1452.2,585.5 1452.5,606.2 1452.8,613.0 1453.1,615.9 1453.4,603.3 1453.7,599.0 1454.0,614.9 1454.3,586.3 1454.6,621.7 1454.9,633.3 1455.2,639.8 1455.5,631.4 1455.8,626.3 1456.1,629.6 1456.4,634.1 1456.7,612.7 1457.0,650.0 1457.3,652.4 1457.6,623.4 1457.9,629.7 1458.2,641.4 1458.5,594.0 1458.8,628.4 1459.1,617.2 1459.4,651.4 1459.7,580.1 1460.0,630.2 1460.3,608.5 1460.6,619.8 1460.9,613.5 1461.2,635.4 1461.5,686.4 1461.8,658.4 1462.1,599.6 1462.4,614.7 1462.7,613.4 1463.0,635.2 1463.3,630.3 1463.6,631.6 1463.9,649.2 1464.2,612.7 1464.5,638.3 1464.8,664.9 1465.1,623.8 1465.4,626.7 1465.7,637.9 1466.0,620.4 1466.3,615.0 1466.6,606.9 1466.9,636.2 1467.2,638.8 1467.5,613.6 1467.8,624.0 1468.1,632.8 1468.4,611.3 1468.7,604.1 1469.0,684.7 1469.2,645.9 1469.5,687.8 1469.8,610.7 1470.1,630.7 1470.4,627.4 1470.7,594.8 1471.0,611.4 1471.3,622.3 1471.6,625.6 1471.9,664.2 1472.2,615.8 1472.5,628.9 1472.8,619.4 1473.1,604.4 1473.4,641.4 1473.7,617.4 1474.0,682.4 1474.3,671.2 1474.6,619.6 1474.9,612.7 1475.2,640.1"/>
</g>
<g stroke="#262626" stroke-width="1.5" fill="none">
<rect x="136.0" y="19.1" width="1456.0" height="716.2"/>
<line x1="318.0" x2="318.0" y1="735.3" y2="722.3"/>
<line x1="318.0" x2="318.0" y1="19.1" y2="32.1"/>
<line x1="500.0" x2="500.0" y1="735.3" y2="722.3"/>
<line x1="500.0" x2="500.0" y1="19.1" y2="32.1"/>
<line x1="682.0" x2="682.0" y1="735.3" y2="722.3"/>
<line x1="682.0" x2="682.0" y1="19.1" y2="32.1"/>
<line x1="864.0" x2="864.0" y1="735.3" y2="722.3"/>
<line x1="864.0" x2="864.0" y1="19.1" y2="32.1"/>
<line x1="1046.0" x2="1046.0" y1="735.3" y2="722.3"/>
<line x1="1046.0" x2="1046.0" y1="19.1" y2="32.1"/>
<line x1="1228.0" x2="1228.0" y1="735.3" y2="722.3"/>
<line x1="1228.0" x2="1228.0" y1="19.1" y2="32.1"/>
<line x1="1410.0" x2="1410.0" y1="735.3" y2="722.3"/>
<line x1="1410.0" x2="1410.0" y1="19.1" y2="32.1"/>
<line x1="136.0" x2="149.0" y1="592.1" y2="592.1"/>
<line x1="1592.0" x2="1579.0" y1="592.1" y2="592.1"/>
<line x1="136.0" x2="149.0" y1="448.8" y2="448.8"/>
<line x1="1592.0" x2="1579.0" y1="448.8" y2="448.8"/>
<line x1="136.0" x2="149.0" y1="305.6" y2="305.6"/>
<line x1="1592.0" x2="1579.0" y1="305.6" y2="305.6"/>
<line x1="136.0" x2="149.0" y1="162.3" y2="162.3"/>
<line x1="1592.0" x2="1579.0" y1="162.3" y2="162.3"/>
</g>
<g fill="#262626" font-size="37.3">
<text transform="translate(135.5 785.9) scale(1 1.050)" text-anchor="middle">-200</text>
<text transform="translate(317.5 785.9) scale(1 1.050)" text-anchor="middle">-150</text>
<text transform="translate(499.5 785.9) scale(1 1.050)" text-anchor="middle">-100</text>
<text transform="translate(681.5 785.9) scale(1 1.050)" text-anchor="middle">-50</text>
<text transform="translate(863.5 785.9) scale(1 1.050)" text-anchor="middle">0</text>
<text transform="translate(1045.5 785.9) scale(1 1.050)" text-anchor="middle">50</text>
<text transform="translate(1227.5 785.9) scale(1 1.050)" text-anchor="middle">100</text>
<text transform="translate(1409.5 785.9) scale(1 1.050)" text-anchor="middle">150</text>
<text transform="translate(1591.5 785.9) scale(1 1.050)" text-anchor="middle">200</text>
<text transform="translate(122.3 750.3) scale(1 1.050)" text-anchor="end">-500</text>
<text transform="translate(122.3 607.1) scale(1 1.050)" text-anchor="end">-400</text>
<text transform="translate(122.3 463.8) scale(1 1.050)" text-anchor="end">-300</text>
<text transform="translate(122.3 320.6) scale(1 1.050)" text-anchor="end">-200</text>
<text transform="translate(122.3 177.3) scale(1 1.050)" text-anchor="end">-100</text>
<text transform="translate(122.3 34.1) scale(1 1.050)" text-anchor="end">0</text>
</g>
<g fill="#262626" font-size="40.9">
<text transform="translate(864 815.8) scale(1 1.040)" text-anchor="middle">Frequency (MHz)</text>
<text transform="translate(31.3 377) rotate(-90) scale(1 1.040)" text-anchor="middle">PSD (W/MHz)</text>
</g>
<rect x="1289.2" y="34.7" width="287.2" height="262.2" fill="#fff" stroke="#262626" stroke-width="1.4"/>
<g font-size="33.6" fill="#000">
<line x1="1294" x2="1351.4" y1="58.4" y2="58.4" stroke="#0072BD" stroke-width="2.2"/>
<text transform="translate(1356.3 72.4) scale(1 1.050)">ED</text>
<line x1="1294" x2="1351.4" y1="101.3" y2="101.3" stroke="#D95319" stroke-width="2.2"/>
<text transform="translate(1356.3 115.3) scale(1 1.050)">MF</text>
<line x1="1294" x2="1351.4" y1="144.3" y2="144.3" stroke="#EDB120" stroke-width="2.2"/>
<text transform="translate(1356.3 158.3) scale(1 1.050)">CSD</text>
<line x1="1294" x2="1351.4" y1="187.3" y2="187.3" stroke="#7E2F8E" stroke-width="2.2"/>
<text transform="translate(1356.3 201.3) scale(1 1.050)">LSTM</text>
<line x1="1294" x2="1351.4" y1="230.2" y2="230.2" stroke="#77AC30" stroke-width="2.2"/>
<text transform="translate(1356.3 244.2) scale(1 1.050)">RNN</text>
<line x1="1294" x2="1351.4" y1="273.1" y2="273.1" stroke="#4DBEEE" stroke-width="2.2"/>
<text transform="translate(1356.3 287.1) scale(1 1.050)">RNN-Bi-LSTM</text>
</g>
</svg></body></html>
